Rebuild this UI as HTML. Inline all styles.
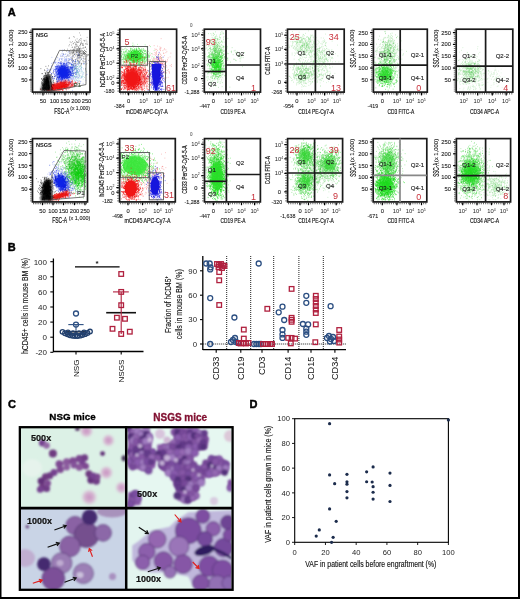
<!DOCTYPE html>
<html><head><meta charset="utf-8"><style>
html,body{margin:0;padding:0;background:#fff;}
body{width:520px;height:599px;overflow:hidden;position:relative;}
svg{position:absolute;left:0;top:0;will-change:transform;}
text{font-family:"Liberation Sans", sans-serif;}
</style></head><body>
<svg width="520" height="599" viewBox="0 0 520 599">
<defs>
<radialGradient id="ghost"><stop offset="0" stop-color="#c68cbe" stop-opacity="0.95"/><stop offset="0.55" stop-color="#d4a8cc" stop-opacity="0.8"/><stop offset="1" stop-color="#e0d4e0" stop-opacity="0"/></radialGradient>
<filter id="b05" x="-20%" y="-20%" width="140%" height="140%"><feGaussianBlur stdDeviation="0.45"/></filter>
<filter id="b06" x="-50%" y="-50%" width="200%" height="200%"><feGaussianBlur stdDeviation="0.6"/></filter>
<filter id="b08" x="-20%" y="-20%" width="140%" height="140%"><feGaussianBlur stdDeviation="0.8"/></filter>
<filter id="b1" x="-50%" y="-50%" width="200%" height="200%"><feGaussianBlur stdDeviation="1.2"/></filter>
</defs>
<rect x="0" y="0" width="520" height="599" fill="#fff"/>
<path transform="scale(0.25)" d="M317 131.5h3m0 9h3m-30 6h3m0 2h3m48 1h3m-73 2h3m-5 2h3m42 1h3m-16 1h3m14 0h3m-11 3h3m-18 2h3m39 0h3m-27 1h3m12 0h3m-24 2h3m21 0h3m-2 0h3m-17 1h3m-38 2h3m12 0h3m-28 1h3m33 0h3m28 0h3m-45 1h3m2 0h3m-15 1h3m8 0h3m1 0h3m-32 1h3m39 0h3m-28 2h3m17 0h3m-30 1h3m35 0h3m12 0h3m-25 1h3m2 0h3m9 0h3m-53 1h3m10 1h3m14 0h3m-4 1h3m20 0h3m2 0h3m-75 1h3m22 0h3m26 0h3m-31 1h3m1 0h3m22 0h3m-49 1h3m32 0h3m6 1h3m-15 1h3m13 0h3m-62 1h3m29 1h3m0 0h3m-9 1h3m-8 1h3m12 0h3m24 1h3m-54 1h3m27 0h3m-35 1h3m7 0h3m39 0h3m-1 0h3m-32 1h3m-16 1h3m0 0h3m8 0h3m15 0h3m0 0h3m-7 2h3m-23 1h3m1 0h3m-1 0h3m0 0h3m-27 1h3m6 0h3m1 0h3m5 0h3m0 0h3m2 0h3m-58 1h3m46 0h3m24 0h3m-53 1h3m8 0h3m-52 1h3m22 0h3m7 0h3m16 0h3m2 0h3m-28 1h3m8 0h3m5 0h3m-25 1h3m6 0h3m11 0h3m-1 0h3m1 0h3m-50 1h3m24 0h3m9 0h3m24 0h3m-2 0h3m-63 1h3m11 0h3m10 0h3m-17 1h3m11 0h3m10 0h3m-55 1h3m26 0h3m5 0h3m8 0h3m-40 1h3m39 0h3m20 0h3m-2 0h3m-38 1h3m10 0h3m19 0h3m-63 1h3m6 0h3m-2 0h3m11 0h3m3 0h3m3 0h3m-36 1h3m10 0h3m15 0h3m-2 0h3m25 0h3m-55 1h3m7 0h3m-2 0h3m-16 1h3m16 0h3m1 0h3m1 0h3m10 0h3m-1 0h3m-1 0h3m-59 1h3m5 0h3m0 0h3m13 0h3m9 0h3m8 0h3m-56 1h3m9 0h3m28 0h3m2 0h3m-33 1h3m21 0h3m5 0h3m3 0h3m-56 1h3m20 0h3m9 0h3m6 0h3m7 0h3m1 0h3m-87 1h3m30 0h3m41 0h3m-1 0h3m2 0h3m-43 1h3m19 0h3m14 0h3m-42 1h3m11 0h3m3 0h3m15 0h3m8 0h3m-54 1h3m6 0h3m9 0h3m10 0h3m19 0h3m-75 1h3m27 0h3m1 0h3m36 0h3m-86 1h3m18 0h3m17 0h3m2 0h3m6 0h3m20 0h3m0 0h3m-62 1h3m16 0h3m0 0h3m-2 0h3m-1 0h3m-1 0h3m1 0h3m1 0h3m-15 1h3m-26 1h3m7 0h3m19 0h3m2 0h3m-57 1h3m30 0h3m-1 0h3m-1 0h3m24 0h3m5 1h3m-102 1h3m16 0h3m19 0h3m25 0h3m3 0h3m8 0h3m-49 3h3m5 0h3m12 0h3m2 0h3m1 0h3m0 1h3m-7 1h3m-15 1h3m1 0h3m1 0h3m17 0h3m-53 1h3m44 0h3m-46 2h3m-2 0h3m23 0h3m5 0h3m15 0h3m-6 1h3m-39 1h3m2 0h3m14 0h3m-28 1h3m-27 2h3m11 0h3m-2 0h3m16 1h3m2 0h3m35 0h3m-81 1h3m8 0h3m5 0h3m12 1h3m9 0h3m5 0h3m2 0h3m-45 1h3m17 0h3m1 1h3m-75 1h3m51 0h3m-1 0h3m14 0h3m19 0h3m-9 1h3m-62 3h3m12 0h3m23 0h3m0 0h3m-45 2h3m23 0h3m2 0h3m9 0h3m14 0h3m-41 1h3m25 0h3m-2 0h3m17 0h3m-49 1h3m-10 2h3m14 0h3m12 0h3m-38 2h3m30 0h3m17 0h3m-45 2h3m-12 1h3m-3 2h3m10 0h3m13 0h3m-42 7h3m14 1h3m-29 1h3m27 0h3m35 1h3m-43 1h3m37 4h3m-46 15h3" stroke="#1a1a1a" stroke-width="3" opacity="0.55" fill="none"/>
<path transform="scale(0.25)" d="M250 199.5h3m20 6h3m-28 1h3m27 2h3m-10 2h3m35 0h3m-66 3h3m-1 2h3m11 0h3m47 1h3m-2 0h3m-64 1h3m-2 0h3m5 0h3m7 0h3m26 0h3m-48 1h3m-16 1h3m3 2h3m19 0h3m44 0h3m-70 1h3m57 0h3m-38 1h3m-12 1h3m-15 1h3m35 0h3m-35 1h3m21 1h3m-81 2h3m18 0h3m27 0h3m20 0h3m30 0h3m-86 2h3m32 1h3m-26 1h3m62 0h3m-73 1h3m10 0h3m9 0h3m9 0h3m-19 1h3m6 0h3m3 0h3m2 0h3m43 0h3m-83 1h3m34 0h3m49 0h3m-114 1h3m10 0h3m18 0h3m16 0h3m-2 0h3m3 0h3m0 0h3m-27 1h3m37 0h3m-68 1h3m47 0h3m-69 1h3m13 0h3m21 0h3m23 0h3m-42 1h3m15 0h3m25 0h3m-65 1h3m21 0h3m35 0h3m-40 1h3m12 0h3m33 0h3m34 0h3m-79 1h3m-54 1h3m23 0h3m18 0h3m23 0h3m8 0h3m8 0h3m26 0h3m-105 1h3m46 0h3m0 0h3m6 0h3m-84 1h3m29 0h3m19 0h3m11 0h3m-1 0h3m9 0h3m9 0h3m-93 1h3m32 0h3m5 0h3m-39 1h3m38 0h3m66 0h3m-132 1h3m-1 0h3m25 0h3m3 0h3m14 0h3m2 0h3m-1 0h3m-52 1h3m7 0h3m12 0h3m4 0h3m13 0h3m2 0h3m-1 0h3m-2 0h3m10 0h3m5 0h3m10 0h3m4 0h3m-104 1h3m-2 0h3m22 0h3m15 0h3m1 0h3m-2 0h3m0 0h3m2 0h3m-1 0h3m0 0h3m-1 0h3m-80 1h3m35 0h3m9 0h3m6 0h3m46 0h3m18 0h3m-109 1h3m8 0h3m12 0h3m1 0h3m2 0h3m15 0h3m9 0h3m0 0h3m33 0h3m-100 1h3m2 0h3m11 0h3m1 0h3m25 1h3m-2 0h3m-25 1h3m0 0h3m-1 0h3m5 0h3m2 0h3m20 0h3m25 0h3m-111 1h3m29 0h3m12 0h3m11 0h3m5 0h3m6 0h3m5 0h3m-73 1h3m4 0h3m19 0h3m15 0h3m2 0h3m4 0h3m-51 1h3m38 0h3m-40 1h3m9 0h3m13 0h3m-2 0h3m-40 1h3m-1 0h3m3 0h3m2 0h3m2 0h3m0 0h3m-39 1h3m10 0h3m8 0h3m-2 0h3m25 0h3m-1 0h3m-1 0h3m7 0h3m-2 0h3m-87 1h3m16 0h3m9 0h3m8 0h3m8 0h3m8 0h3m12 0h3m0 0h3m-75 1h3m18 0h3m10 0h3m36 0h3m-72 1h3m5 0h3m1 0h3m30 0h3m9 0h3m1 0h3m1 0h3m-79 1h3m14 0h3m-1 0h3m4 0h3m1 0h3m-1 0h3m5 0h3m6 0h3m14 0h3m-1 0h3m0 0h3m-1 0h3m1 0h3m-55 1h3m-2 0h3m7 0h3m2 0h3m-1 0h3m9 0h3m6 0h3m3 0h3m22 0h3m-100 1h3m-2 0h3m14 0h3m49 0h3m-51 1h3m7 0h3m2 0h3m20 0h3m2 0h3m0 0h3m7 0h3m-67 1h3m12 0h3m6 0h3m5 0h3m1 0h3m4 0h3m46 0h3m-117 1h3m13 0h3m4 0h3m11 0h3m1 0h3m6 0h3m1 0h3m-1 0h3m0 0h3m-1 0h3m-50 1h3m39 0h3m16 0h3m8 0h3m7 0h3m-104 1h3m33 0h3m18 0h3m3 0h3m4 0h3m0 0h3m5 0h3m-2 0h3m4 0h3m5 0h3m5 0h3m-69 1h3m2 0h3m3 0h3m0 0h3m2 0h3m-1 0h3m20 0h3m4 0h3m33 0h3m-114 1h3m29 0h3m-2 0h3m34 0h3m6 0h3m9 0h3m-121 1h3m43 0h3m23 0h3m8 0h3m15 0h3m-49 1h3m18 0h3m10 0h3m0 0h3m-2 0h3m7 0h3m6 0h3m14 0h3m-72 1h3m15 0h3m3 0h3m21 0h3m-64 1h3m16 0h3m-1 0h3m1 0h3m-2 0h3m-2 0h3m5 0h3m-1 0h3m8 0h3m-45 1h3m-1 0h3m12 0h3m9 0h3m17 0h3m5 0h3m-68 1h3m12 0h3m5 0h3m5 0h3m13 0h3m19 0h3m6 0h3m-90 1h3m7 0h3m1 0h3m0 0h3m3 0h3m3 0h3m-1 0h3m0 0h3m3 0h3m-1 0h3m6 0h3m3 0h3m0 0h3m16 0h3m14 0h3m-39 1h3m-51 1h3m-2 0h3m13 0h3m14 0h3m-1 0h3m28 0h3m0 0h3m-73 1h3m5 0h3m3 0h3m7 0h3m8 0h3m23 0h3m-1 0h3m7 0h3m-97 1h3m26 0h3m37 0h3m-31 1h3m8 0h3m2 0h3m-2 0h3m-2 0h3m-49 1h3m20 0h3m-1 0h3m1 0h3m6 0h3m0 0h3m25 0h3m1 0h3m-68 1h3m26 0h3m-7 1h3m-1 0h3m6 0h3m16 0h3m2 0h3m29 0h3m-95 1h3m4 0h3m9 0h3m39 0h3m-41 1h3m-2 0h3m13 0h3m-2 0h3m-1 0h3m2 0h3m9 0h3m-55 1h3m-2 0h3m24 0h3m6 0h3m-85 1h3m3 0h3m17 0h3m1 0h3m43 0h3m-36 1h3m33 0h3m19 0h3m20 0h3m-84 1h3m10 0h3m-2 0h3m14 0h3m11 0h3m9 0h3m36 0h3m0 0h3m-108 1h3m9 0h3m-1 0h3m-1 0h3m-1 0h3m13 0h3m1 0h3m-2 0h3m-36 1h3m4 0h3m1 0h3m-2 0h3m3 0h3m4 0h3m11 0h3m-27 1h3m7 1h3m35 0h3m2 0h3m23 0h3m-122 1h3m23 0h3m8 0h3m4 0h3m4 0h3m-1 0h3m7 0h3m-1 0h3m-42 1h3m2 0h3m1 0h3m1 0h3m-26 1h3m25 0h3m46 1h3m-104 1h3m45 0h3m-1 0h3m-2 0h3m9 0h3m-1 0h3m-52 1h3m33 0h3m4 0h3m17 0h3m-74 1h3m27 0h3m0 0h3m16 0h3m-30 1h3m11 0h3m27 0h3m6 0h3m-18 1h3m13 0h3m20 0h3m-125 1h3m50 0h3m8 0h3m2 0h3m-64 1h3m23 0h3m26 0h3m10 0h3m4 0h3m6 0h3m24 1h3m-92 1h3m-2 0h3m3 0h3m5 2h3m16 0h3m-28 1h3m4 0h3m-19 1h3m1 0h3m18 0h3m-35 1h3m44 0h3m14 0h3m5 0h3m-30 1h3m-3 1h3m3 0h3m62 0h3m-36 1h3m-82 1h3m1 0h3m34 0h3m27 2h3m16 0h3m-1 0h3m-40 1h3m-41 1h3m22 0h3m3 0h3m1 0h3m23 1h3m-30 1h3m36 3h3m-72 1h3m77 0h3m-98 1h3m10 0h3m4 0h3m29 1h3m1 1h3m-42 2h3m-5 2h3m46 2h3m-32 3h3m24 1h3m-37 1h3m9 0h3m-22 1h3m5 8h3m21 5h3" stroke="#2848e0" stroke-width="3" opacity="0.45" fill="none"/>
<path transform="scale(0.25)" d="M320 239.5h3m-22 5h3m2 2h3m-1 7h3m4 1h3m0 0h3m17 0h3m-56 3h3m1 1h3m-3 1h3m-1 2h3m20 0h3m-21 2h3m25 0h3m-54 1h3m43 0h3m-14 1h3m6 0h3m-14 1h3m0 0h3m11 0h3m-29 2h3m5 0h3m4 0h3m-26 2h3m10 0h3m19 0h3m-1 0h3m-49 1h3m20 0h3m-20 1h3m11 0h3m18 0h3m16 1h3m-45 1h3m5 0h3m-2 1h3m11 0h3m-37 1h3m34 0h3m-31 1h3m5 0h3m9 0h3m-33 1h3m8 0h3m14 0h3m-31 1h3m-1 0h3m1 0h3m-24 1h3m33 0h3m31 0h3m-40 2h3m1 1h3m7 1h3m2 0h3m17 0h3m-19 1h3m-35 1h3m7 1h3m36 0h3m-57 1h3m13 0h3m-1 1h3m20 0h3m-22 1h3m-27 1h3m15 0h3m-2 0h3m0 0h3m0 0h3m10 0h3m-35 1h3m-2 0h3m6 0h3m12 0h3m-8 3h3m15 1h3m-30 1h3m5 0h3m1 0h3m-28 2h3m12 0h3m-21 1h3m11 1h3m21 0h3m-11 1h3m-25 1h3m15 0h3m-26 1h3m2 1h3m0 0h3m4 0h3m17 0h3m1 0h3m-38 1h3m0 0h3m23 0h3m-18 1h3m6 1h3m4 0h3m-2 0h3m6 1h3m-49 1h3m22 2h3m-18 1h3m5 0h3m1 2h3m-12 1h3m25 0h3m-28 4h3m-12 1h3m3 0h3m10 0h3m-6 2h3m-22 4h3m14 1h3m-5 3h3" stroke="#30a0b0" stroke-width="3" opacity="0.5" fill="none"/>
<path transform="scale(0.25)" d="M242 224.5h3m1 12h3m16 3h3m32 4h3m-44 1h3m-44 5h3m12 1h3m3 0h3m-4 2h3m3 0h3m7 0h3m0 1h3m-20 1h3m9 0h3m10 0h3m-24 1h3m3 1h3m1 0h3m2 0h3m23 0h3m-45 2h3m17 0h3m18 0h3m-34 1h3m0 0h3m3 0h3m-39 1h3m4 0h3m16 0h3m11 0h3m-23 1h3m16 0h3m-27 1h3m1 0h3m8 0h3m-29 1h3m27 0h3m-59 1h3m23 0h3m2 0h3m-2 0h3m6 0h3m-2 0h3m-2 0h3m0 0h3m0 0h3m-30 1h3m15 0h3m-1 0h3m0 0h3m5 0h3m-1 0h3m6 0h3m-50 1h3m-1 0h3m0 0h3m-2 0h3m1 0h3m9 0h3m1 0h3m1 0h3m-2 0h3m0 0h3m1 0h3m12 0h3m4 0h3m-43 1h3m29 0h3m-39 1h3m7 0h3m11 0h3m0 0h3m0 0h3m14 0h3m-60 1h3m8 0h3m8 0h3m2 0h3m-1 0h3m4 0h3m0 0h3m-1 0h3m15 0h3m-2 0h3m-57 1h3m4 0h3m0 0h3m8 0h3m-1 0h3m2 0h3m3 0h3m11 0h3m-58 1h3m0 0h3m12 0h3m-1 0h3m8 0h3m3 0h3m6 0h3m4 0h3m7 0h3m0 0h3m-70 1h3m9 0h3m-1 0h3m-2 0h3m-2 0h3m0 0h3m9 0h3m-2 0h3m0 0h3m6 0h3m2 0h3m4 0h3m-47 1h3m5 0h3m-1 0h3m-2 0h3m0 0h3m0 0h3m-2 0h3m3 0h3m22 0h3m-67 1h3m-2 0h3m0 0h3m5 0h3m16 0h3m0 0h3m0 0h3m-2 0h3m21 0h3m-58 1h3m9 0h3m-1 0h3m2 0h3m-2 0h3m-22 1h3m0 0h3m5 0h3m-1 0h3m-2 0h3m7 0h3m10 0h3m0 0h3m1 0h3m3 0h3m-68 1h3m0 0h3m12 0h3m3 0h3m-2 0h3m-1 0h3m-2 0h3m1 0h3m0 0h3m1 0h3m8 0h3m-1 0h3m-1 0h3m-2 0h3m-71 1h3m17 0h3m-2 0h3m9 0h3m-1 0h3m-1 0h3m4 0h3m-2 0h3m-2 0h3m-1 0h3m0 0h3m-2 0h3m-1 0h3m-1 0h3m8 0h3m-2 0h3m2 0h3m-53 1h3m2 0h3m-1 0h3m-1 0h3m-1 0h3m-1 0h3m4 0h3m1 0h3m1 0h3m-2 0h3m1 0h3m3 0h3m4 0h3m-1 0h3m3 0h3m5 0h3m-102 1h3m29 0h3m8 0h3m3 0h3m2 0h3m8 0h3m-1 0h3m0 0h3m-2 0h3m3 0h3m2 0h3m2 0h3m9 0h3m-78 1h3m16 0h3m-2 0h3m3 0h3m2 0h3m9 0h3m1 0h3m4 0h3m-1 0h3m-1 0h3m19 0h3m-65 1h3m11 0h3m3 0h3m2 0h3m3 0h3m1 0h3m5 0h3m-42 1h3m1 0h3m10 0h3m-1 0h3m-2 0h3m4 0h3m0 0h3m-1 0h3m7 0h3m-1 0h3m-63 1h3m0 0h3m7 0h3m3 0h3m12 0h3m1 0h3m-2 0h3m-2 0h3m0 0h3m-2 0h3m-2 0h3m-1 0h3m6 0h3m-64 1h3m10 0h3m0 0h3m4 0h3m0 0h3m6 0h3m2 0h3m6 0h3m16 0h3m3 0h3m-1 0h3m-66 1h3m16 0h3m3 0h3m-2 0h3m1 0h3m-2 0h3m-1 0h3m0 0h3m3 0h3m2 0h3m0 0h3m-2 0h3m0 0h3m0 0h3m-48 1h3m6 0h3m1 0h3m1 0h3m-1 0h3m-1 0h3m-1 0h3m-2 0h3m1 0h3m0 0h3m1 0h3m-2 0h3m-77 1h3m30 0h3m0 0h3m-1 0h3m-1 0h3m-2 0h3m6 0h3m-1 0h3m-2 0h3m-2 0h3m2 0h3m-2 0h3m0 0h3m-2 0h3m-41 1h3m3 0h3m3 0h3m1 0h3m-2 0h3m1 0h3m-1 0h3m9 0h3m1 0h3m4 0h3m6 0h3m16 0h3m-81 1h3m-1 0h3m7 0h3m-1 0h3m-2 0h3m2 0h3m-2 0h3m4 0h3m4 0h3m-1 0h3m1 0h3m-1 0h3m1 0h3m-2 0h3m3 0h3m2 0h3m-2 0h3m-2 0h3m4 0h3m-61 1h3m3 0h3m8 0h3m0 0h3m-2 0h3m-2 0h3m0 0h3m0 0h3m-2 0h3m-1 0h3m4 0h3m-2 0h3m-2 0h3m0 0h3m1 0h3m12 0h3m-86 1h3m19 0h3m6 0h3m2 0h3m2 0h3m0 0h3m2 0h3m-1 0h3m-2 0h3m-2 0h3m-1 0h3m0 0h3m6 0h3m2 0h3m-67 1h3m11 0h3m-2 0h3m1 0h3m-1 0h3m3 0h3m-1 0h3m-2 0h3m0 0h3m4 0h3m6 0h3m18 0h3m-87 1h3m19 0h3m6 0h3m0 0h3m2 0h3m5 0h3m0 0h3m-2 0h3m-2 0h3m2 0h3m1 0h3m22 0h3m-70 1h3m5 0h3m3 0h3m15 0h3m-1 0h3m1 0h3m2 0h3m-2 0h3m2 0h3m2 0h3m11 0h3m-72 1h3m2 0h3m2 0h3m-1 0h3m9 0h3m-2 0h3m1 0h3m11 0h3m2 0h3m10 0h3m-2 0h3m-47 1h3m0 0h3m-2 0h3m-2 0h3m-2 0h3m3 0h3m-2 0h3m-2 0h3m2 0h3m-1 0h3m5 0h3m0 0h3m1 0h3m-2 0h3m-2 0h3m18 0h3m-86 1h3m7 0h3m1 0h3m11 0h3m0 0h3m3 0h3m-1 0h3m-1 0h3m2 0h3m3 0h3m-42 1h3m4 0h3m7 0h3m1 0h3m-1 0h3m-2 0h3m-2 0h3m-2 0h3m1 0h3m1 0h3m5 0h3m-2 0h3m-2 0h3m-55 1h3m5 0h3m5 0h3m-2 0h3m1 0h3m2 0h3m-2 0h3m10 0h3m-1 0h3m-2 0h3m1 0h3m0 0h3m4 0h3m-2 0h3m8 0h3m-71 1h3m16 0h3m-1 0h3m-1 0h3m1 0h3m6 0h3m3 0h3m0 0h3m0 0h3m-2 0h3m7 0h3m-33 1h3m2 0h3m1 0h3m-2 0h3m-2 0h3m4 0h3m8 0h3m-1 0h3m5 0h3m-56 1h3m5 0h3m3 0h3m1 0h3m2 0h3m-1 0h3m18 0h3m-1 0h3m-72 1h3m1 0h3m15 0h3m-1 0h3m2 0h3m-2 0h3m0 0h3m-1 0h3m11 0h3m-2 0h3m-1 0h3m1 0h3m1 0h3m8 0h3m-68 1h3m2 0h3m-1 0h3m1 0h3m8 0h3m0 0h3m10 0h3m0 0h3m-59 1h3m25 0h3m-1 0h3m3 0h3m8 0h3m8 0h3m-1 0h3m-1 0h3m4 0h3m-75 1h3m29 0h3m-2 0h3m-2 0h3m8 0h3m0 0h3m-1 0h3m1 0h3m42 0h3m-70 1h3m3 0h3m16 0h3m-2 0h3m-2 0h3m12 0h3m-49 1h3m-2 0h3m-1 0h3m7 0h3m-2 0h3m-1 0h3m-2 0h3m-1 0h3m6 0h3m3 0h3m0 0h3m1 0h3m-1 0h3m32 0h3m-86 1h3m-1 0h3m-2 0h3m2 0h3m6 0h3m-1 0h3m9 0h3m-1 0h3m-2 0h3m-2 0h3m4 0h3m-2 0h3m-1 0h3m3 0h3m-55 1h3m14 0h3m3 0h3m4 0h3m10 0h3m3 0h3m-35 1h3m6 0h3m0 0h3m10 0h3m-62 1h3m4 0h3m5 0h3m7 0h3m6 0h3m1 0h3m6 0h3m4 0h3m-28 1h3m6 0h3m7 0h3m-29 1h3m14 0h3m12 0h3m2 0h3m10 0h3m6 0h3m-80 1h3m14 0h3m7 0h3m29 0h3m-2 0h3m9 0h3m-64 1h3m-2 0h3m15 0h3m7 0h3m-22 1h3m9 0h3m-11 1h3m4 0h3m0 0h3m-25 1h3m4 0h3m4 0h3m1 0h3m12 0h3m15 0h3m-37 2h3m4 0h3m6 0h3m8 0h3m-37 1h3m18 0h3m-29 1h3m28 0h3m-39 1h3m0 0h3m50 0h3m-59 1h3m15 0h3m7 0h3m-19 1h3m1 0h3m33 0h3m-39 1h3m7 0h3m2 0h3m-16 1h3m4 0h3m-26 1h3m42 0h3m-50 1h3m50 0h3m-58 2h3m51 0h3m-40 1h3m0 0h3m9 1h3m-1 0h3m-3 2h3m0 0h3m7 0h3m11 0h3m-28 1h3m-24 2h3m12 1h3m9 8h3" stroke="#0a1ee0" stroke-width="3" opacity="0.85" fill="none"/>
<ellipse cx="63.20" cy="72.50" rx="5.60" ry="6.20" fill="#1020e8" opacity="1.0" transform="rotate(-20 63.20 72.50)" filter="url(#b08)"/>
<path transform="scale(0.25)" d="M259 321.5h3m25 0h3m-56 1h3m51 2h3m-14 1h3m8 0h3m-6 1h3m-27 1h3m51 0h3m-78 1h3m55 0h3m-62 1h3m4 0h3m28 0h3m21 0h3m-2 0h3m-66 1h3m0 0h3m-2 0h3m3 0h3m4 0h3m-1 0h3m-1 0h3m9 0h3m3 0h3m6 0h3m16 0h3m-92 1h3m22 0h3m16 0h3m2 0h3m1 0h3m4 0h3m5 0h3m-2 0h3m1 0h3m-63 1h3m10 0h3m1 0h3m-2 0h3m5 0h3m-1 0h3m20 0h3m-36 1h3m0 0h3m0 0h3m15 0h3m1 0h3m0 0h3m17 0h3m-1 0h3m-76 1h3m10 0h3m-1 0h3m7 0h3m-1 0h3m35 0h3m-90 1h3m13 0h3m8 0h3m6 0h3m-2 0h3m10 0h3m-2 0h3m-2 0h3m3 0h3m-2 0h3m3 0h3m-2 0h3m5 0h3m6 0h3m5 0h3m-85 1h3m8 0h3m4 0h3m-1 0h3m-1 0h3m-1 0h3m5 0h3m-2 0h3m5 0h3m3 0h3m-1 0h3m9 0h3m0 0h3m1 0h3m4 0h3m14 0h3m-104 1h3m-1 0h3m2 0h3m1 0h3m11 0h3m-1 0h3m1 0h3m4 0h3m-1 0h3m-2 0h3m-1 0h3m-1 0h3m10 0h3m-2 0h3m-1 0h3m-1 0h3m0 0h3m2 0h3m4 0h3m-71 1h3m9 0h3m-1 0h3m2 0h3m0 0h3m4 0h3m2 0h3m-1 0h3m-2 0h3m2 0h3m-2 0h3m-1 0h3m0 0h3m-2 0h3m0 0h3m-88 1h3m26 0h3m-1 0h3m-1 0h3m2 0h3m2 0h3m6 0h3m-2 0h3m0 0h3m-2 0h3m0 0h3m4 0h3m-2 0h3m-2 0h3m2 0h3m-2 0h3m-2 0h3m-2 0h3m-2 0h3m-1 0h3m-1 0h3m0 0h3m-2 0h3m0 0h3m-2 0h3m0 0h3m5 0h3m2 0h3m0 0h3m-88 1h3m12 0h3m-1 0h3m0 0h3m-1 0h3m-1 0h3m0 0h3m-2 0h3m1 0h3m5 0h3m1 0h3m-1 0h3m2 0h3m8 0h3m-2 0h3m-2 0h3m-1 0h3m13 0h3m-2 0h3m-113 1h3m22 0h3m3 0h3m-2 0h3m3 0h3m-2 0h3m1 0h3m1 0h3m-2 0h3m0 0h3m-2 0h3m-1 0h3m-2 0h3m-2 0h3m-1 0h3m1 0h3m1 0h3m-2 0h3m-1 0h3m0 0h3m-2 0h3m0 0h3m-2 0h3m2 0h3m0 0h3m0 0h3m-1 0h3m10 0h3m-2 0h3m2 0h3m8 0h3m-105 1h3m4 0h3m3 0h3m-2 0h3m-2 0h3m-2 0h3m-1 0h3m4 0h3m3 0h3m3 0h3m-2 0h3m-2 0h3m-2 0h3m-1 0h3m-2 0h3m-2 0h3m-1 0h3m-2 0h3m-2 0h3m-1 0h3m1 0h3m-1 0h3m-1 0h3m4 0h3m0 0h3m10 0h3m14 0h3m-2 0h3m-91 1h3m-1 0h3m1 0h3m2 0h3m-2 0h3m0 0h3m-2 0h3m-2 0h3m0 0h3m-2 0h3m-2 0h3m-2 0h3m-1 0h3m0 0h3m-2 0h3m-2 0h3m-2 0h3m0 0h3m-2 0h3m-2 0h3m-1 0h3m-2 0h3m-2 0h3m-1 0h3m1 0h3m-1 0h3m-2 0h3m-2 0h3m0 0h3m-2 0h3m4 0h3m1 0h3m1 0h3m-91 1h3m1 0h3m9 0h3m2 0h3m-2 0h3m3 0h3m-2 0h3m-2 0h3m-1 0h3m-2 0h3m0 0h3m-1 0h3m6 0h3m1 0h3m-2 0h3m1 0h3m2 0h3m-1 0h3m-2 0h3m-2 0h3m-2 0h3m-1 0h3m-2 0h3m-2 0h3m0 0h3m5 0h3m10 0h3m6 0h3m-95 1h3m1 0h3m3 0h3m-2 0h3m-2 0h3m-2 0h3m2 0h3m-1 0h3m-2 0h3m0 0h3m3 0h3m-2 0h3m-2 0h3m0 0h3m0 0h3m0 0h3m-1 0h3m-2 0h3m-2 0h3m-1 0h3m12 0h3m-1 0h3m18 0h3m2 0h3m-119 1h3m9 0h3m2 0h3m2 0h3m4 0h3m2 0h3m-1 0h3m-1 0h3m1 0h3m-2 0h3m1 0h3m1 0h3m-2 0h3m-1 0h3m3 0h3m-2 0h3m0 0h3m-2 0h3m-2 0h3m-1 0h3m-1 0h3m0 0h3m1 0h3m-2 0h3m-2 0h3m1 0h3m-1 0h3m-2 0h3m-1 0h3m-1 0h3m-1 0h3m-2 0h3m9 0h3m7 0h3m-85 1h3m-1 0h3m0 0h3m-2 0h3m-2 0h3m-1 0h3m-2 0h3m5 0h3m0 0h3m-1 0h3m-2 0h3m-2 0h3m-2 0h3m-2 0h3m-2 0h3m-2 0h3m-1 0h3m0 0h3m0 0h3m-2 0h3m-2 0h3m-2 0h3m-2 0h3m-2 0h3m0 0h3m-1 0h3m-2 0h3m-2 0h3m0 0h3m4 0h3m1 0h3m5 0h3m4 0h3m-115 1h3m20 0h3m0 0h3m0 0h3m-1 0h3m1 0h3m-1 0h3m-1 0h3m-2 0h3m-1 0h3m-2 0h3m0 0h3m-2 0h3m-2 0h3m-2 0h3m-1 0h3m1 0h3m3 0h3m-2 0h3m-1 0h3m1 0h3m-1 0h3m0 0h3m-2 0h3m-2 0h3m-1 0h3m0 0h3m-2 0h3m-1 0h3m-2 0h3m-2 0h3m2 0h3m-2 0h3m3 0h3m-1 0h3m0 0h3m-1 0h3m-1 0h3m3 0h3m-95 1h3m10 0h3m-2 0h3m-2 0h3m-2 0h3m-2 0h3m3 0h3m-2 0h3m-2 0h3m1 0h3m-2 0h3m-2 0h3m-1 0h3m-2 0h3m-2 0h3m3 0h3m-2 0h3m-2 0h3m2 0h3m-2 0h3m0 0h3m-2 0h3m0 0h3m3 0h3m-1 0h3m-2 0h3m-2 0h3m-1 0h3m1 0h3m-77 1h3m2 0h3m-1 0h3m1 0h3m-1 0h3m-2 0h3m4 0h3m0 0h3m-2 0h3m-2 0h3m-1 0h3m2 0h3m-1 0h3m-2 0h3m-2 0h3m-2 0h3m-2 0h3m1 0h3m1 0h3m0 0h3m10 0h3m11 0h3m-2 0h3m8 0h3m-108 1h3m5 0h3m1 0h3m-2 0h3m-1 0h3m-2 0h3m0 0h3m0 0h3m1 0h3m-1 0h3m0 0h3m0 0h3m2 0h3m2 0h3m0 0h3m-2 0h3m0 0h3m-2 0h3m0 0h3m-2 0h3m0 0h3m1 0h3m1 0h3m-2 0h3m-2 0h3m-1 0h3m0 0h3m-1 0h3m-2 0h3m0 0h3m4 0h3m0 0h3m-81 1h3m5 0h3m-1 0h3m4 0h3m0 0h3m0 0h3m-2 0h3m3 0h3m-2 0h3m-2 0h3m-2 0h3m-1 0h3m0 0h3m-1 0h3m2 0h3m2 0h3m-2 0h3m0 0h3m-2 0h3m3 0h3m4 0h3m2 0h3m-1 0h3m5 0h3m2 0h3m-83 1h3m4 0h3m-1 0h3m-1 0h3m2 0h3m-2 0h3m-2 0h3m1 0h3m-2 0h3m-2 0h3m1 0h3m-2 0h3m-2 0h3m-2 0h3m-2 0h3m-2 0h3m-1 0h3m-2 0h3m-1 0h3m-2 0h3m-2 0h3m-2 0h3m-2 0h3m1 0h3m-1 0h3m6 0h3m-1 0h3m-1 0h3m-86 1h3m31 0h3m-2 0h3m1 0h3m3 0h3m-2 0h3m-2 0h3m4 0h3m-1 0h3m1 0h3m1 0h3m0 0h3m4 0h3m8 0h3m-80 1h3m11 0h3m3 0h3m-2 0h3m-1 0h3m3 0h3m-2 0h3m0 0h3m-1 0h3m-1 0h3m-2 0h3m5 0h3m0 0h3m-2 0h3m0 0h3m4 0h3m0 0h3m3 0h3m17 0h3m-97 1h3m1 0h3m5 0h3m7 0h3m5 0h3m-1 0h3m6 0h3m2 0h3m1 0h3m-2 0h3m5 0h3m0 0h3m2 0h3m15 0h3m-105 1h3m18 0h3m3 0h3m1 0h3m10 0h3m11 0h3m10 0h3m1 0h3m4 0h3m-2 0h3m0 0h3m-2 0h3m-59 1h3m-2 0h3m2 0h3m5 0h3m-2 0h3m3 0h3m0 0h3m-1 0h3m6 0h3m3 0h3m2 0h3m-1 0h3m-2 0h3m-1 0h3m1 0h3m-59 1h3m12 0h3m9 0h3m0 0h3m-2 0h3m3 0h3m-1 0h3m17 0h3m-1 0h3m11 0h3m-79 1h3m-2 0h3m-1 0h3m0 0h3m0 0h3m7 0h3m0 0h3m-2 0h3m-2 0h3m15 0h3m14 0h3m-1 0h3m-77 1h3m8 0h3m2 0h3m5 0h3m9 0h3m3 0h3m4 0h3m10 0h3m-42 1h3m13 0h3m16 0h3" stroke="#ee1010" stroke-width="3" opacity="0.9" fill="none"/>
<path d="M49.5 90.5 L50.5 86 L57 83 L66 80.8 L70 81.2 L65.5 84 L57 88 L52.5 90.5 Z" fill="#ec1212" filter="url(#b08)"/>
<path d="M40.5 91 L44 79 L47.5 73.5 L50.5 78.5 L51.5 91 Z" fill="#111" filter="url(#b08)"/>
<path transform="scale(0.25)" d="M193 263.5h3m-14 2h3m2 8h3m-28 1h3m12 5h3m15 1h3m3 0h3m-26 2h3m5 2h3m8 2h3m-3 1h3m-14 1h3m2 1h3m17 0h3m-35 1h3m7 0h3m0 0h3m-1 0h3m-15 2h3m-5 1h3m7 0h3m-27 1h3m-1 0h3m9 1h3m22 1h3m-19 1h3m4 0h3m-6 1h3m6 0h3m-23 1h3m8 1h3m5 0h3m-29 1h3m2 0h3m3 0h3m-2 0h3m-6 1h3m7 0h3m1 0h3m4 0h3m-33 1h3m-1 0h3m13 0h3m-15 1h3m11 0h3m1 0h3m-9 1h3m1 0h3m-28 1h3m9 0h3m9 0h3m1 0h3m6 0h3m4 0h3m-29 1h3m-1 0h3m-1 0h3m11 0h3m-34 1h3m17 0h3m-1 0h3m-23 1h3m2 0h3m-1 0h3m5 0h3m-2 0h3m-2 0h3m-17 1h3m0 0h3m-1 0h3m-15 1h3m16 0h3m2 0h3m2 0h3m20 0h3m-59 1h3m22 0h3m1 0h3m7 0h3m-21 1h3m-1 0h3m0 0h3m-35 1h3m7 0h3m14 0h3m1 0h3m-1 0h3m-37 1h3m5 0h3m2 0h3m-2 0h3m4 0h3m-2 0h3m-1 0h3m-2 0h3m-19 1h3m-2 0h3m1 0h3m-2 0h3m5 0h3m1 0h3m2 0h3m2 0h3m2 0h3m-42 1h3m6 0h3m4 0h3m-2 0h3m1 0h3m-2 0h3m-2 0h3m3 0h3m0 0h3m-31 1h3m8 0h3m1 0h3m0 0h3m-6 1h3m-1 0h3m5 0h3m7 0h3m-34 1h3m0 0h3m4 0h3m-2 0h3m1 0h3m8 0h3m-34 1h3m4 0h3m8 0h3m0 0h3m19 0h3m-48 1h3m3 1h3m2 0h3m2 0h3m11 0h3m2 0h3m-26 1h3m1 0h3m2 0h3m-2 0h3m6 0h3m-2 0h3m-2 0h3m7 0h3m12 0h3m-46 1h3m0 0h3m1 0h3m-1 0h3m3 0h3m-26 1h3m2 0h3m0 0h3m9 0h3m1 0h3m-38 1h3m7 0h3m1 0h3m5 0h3m4 0h3m-2 0h3m-1 0h3m7 0h3m-30 1h3m13 0h3m-1 0h3m-2 0h3m2 0h3m5 0h3m-30 1h3m1 0h3m0 0h3m5 0h3m11 0h3m-40 1h3m6 0h3m0 0h3m-1 0h3m0 0h3m3 0h3m3 0h3m-41 1h3m-1 0h3m13 0h3m-1 0h3m4 0h3m-2 0h3m0 0h3m2 0h3m-42 1h3m16 0h3m-6 1h3m2 0h3m-13 1h3m5 0h3m-1 0h3m-2 0h3m10 0h3m1 0h3m-35 1h3m0 0h3m12 0h3m5 0h3m-2 0h3m4 0h3m-42 1h3m2 0h3m8 0h3m-1 0h3m-2 0h3m2 0h3m-1 0h3m0 0h3m1 0h3m10 0h3m-38 1h3m24 0h3m1 0h3m-36 1h3m-2 0h3m-11 1h3m-1 0h3m27 0h3m-29 1h3m0 0h3m7 0h3m0 0h3m-1 0h3m19 0h3m-46 1h3m11 0h3m5 0h3m1 0h3m3 0h3m-36 1h3m0 0h3m10 0h3m6 0h3m-1 0h3m3 0h3m-35 1h3m12 0h3m3 0h3m0 1h3m5 0h3m-13 1h3m4 0h3m1 0h3m-35 1h3m10 0h3m6 0h3m5 0h3m-9 1h3m-18 1h3m14 0h3m-29 1h3m14 0h3m7 0h3m-23 1h3m11 0h3m12 0h3m-42 1h3m5 0h3m6 0h3m-2 0h3m5 0h3m-30 1h3m9 0h3m-7 1h3m14 0h3m14 1h3m-52 1h3m10 0h3m3 0h3m7 0h3m0 0h3m-23 1h3m16 0h3m-2 0h3m-13 1h3m-15 1h3m10 1h3m0 0h3m14 0h3m2 0h3m-28 1h3m19 0h3m-2 0h3m-43 1h3m8 0h3m-6 1h3" stroke="#000" stroke-width="3" opacity="0.7" fill="none"/>
<path d="M59.5 50.4 L83 51 L86 54 L86 84.6 L51 91 L48.5 73.5 Z" fill="none" stroke="#555" stroke-width="0.8"/>
<text x="73.50" y="86.72" font-size="6.2" fill="#3a5a3a" text-anchor="start" stroke="#3a5a3a" stroke-width="0.1">P1</text>
<text x="36.00" y="37.00" font-size="5.6" fill="#111" text-anchor="start" font-weight="bold">NSG</text>
<rect x="32.50" y="29.20" width="57.50" height="62.90" fill="none" stroke="#1a1a1a" stroke-width="1.7" />
<path d="M30.10 30.20h1.6M30.10 32.23h1.6M30.10 34.26h1.6M30.10 36.29h1.6M30.10 38.32h1.6M30.10 40.35h1.6M30.10 42.38h1.6M30.10 44.41h1.6M30.10 46.44h1.6M30.10 48.47h1.6M30.10 50.50h1.6M30.10 52.53h1.6M30.10 54.56h1.6M30.10 56.59h1.6M30.10 58.62h1.6M30.10 60.65h1.6M30.10 62.68h1.6M30.10 64.71h1.6M30.10 66.74h1.6M30.10 68.77h1.6M30.10 70.80h1.6M30.10 72.83h1.6M30.10 74.86h1.6M30.10 76.89h1.6M30.10 78.92h1.6M30.10 80.95h1.6M30.10 82.98h1.6M30.10 85.01h1.6M30.10 87.04h1.6M30.10 89.07h1.6M30.10 91.10h1.6" stroke="#000" stroke-width="0.6"/>
<path d="M33.50 92.90v1.6M35.35 92.90v1.6M37.20 92.90v1.6M39.05 92.90v1.6M40.90 92.90v1.6M42.75 92.90v1.6M44.60 92.90v1.6M46.45 92.90v1.6M48.30 92.90v1.6M50.15 92.90v1.6M52.00 92.90v1.6M53.85 92.90v1.6M55.70 92.90v1.6M57.55 92.90v1.6M59.40 92.90v1.6M61.25 92.90v1.6M63.10 92.90v1.6M64.95 92.90v1.6M66.80 92.90v1.6M68.65 92.90v1.6M70.50 92.90v1.6M72.35 92.90v1.6M74.20 92.90v1.6M76.05 92.90v1.6M77.90 92.90v1.6M79.75 92.90v1.6M81.60 92.90v1.6M83.45 92.90v1.6M85.30 92.90v1.6M87.15 92.90v1.6M89.00 92.90v1.6" stroke="#000" stroke-width="0.6"/>
<line x1="29.20" y1="32.30" x2="31.70" y2="32.30" stroke="#000" stroke-width="1.2" />
<line x1="29.20" y1="44.20" x2="31.70" y2="44.20" stroke="#000" stroke-width="1.2" />
<line x1="29.20" y1="56.10" x2="31.70" y2="56.10" stroke="#000" stroke-width="1.2" />
<line x1="29.20" y1="68.00" x2="31.70" y2="68.00" stroke="#000" stroke-width="1.2" />
<line x1="29.20" y1="79.90" x2="31.70" y2="79.90" stroke="#000" stroke-width="1.2" />
<text x="27.60" y="34.38" font-size="5.8" fill="#1e1e1e" text-anchor="end" stroke="#1e1e1e" stroke-width="0.1">250</text>
<text x="27.60" y="46.28" font-size="5.8" fill="#1e1e1e" text-anchor="end" stroke="#1e1e1e" stroke-width="0.1">200</text>
<text x="27.60" y="58.18" font-size="5.8" fill="#1e1e1e" text-anchor="end" stroke="#1e1e1e" stroke-width="0.1">150</text>
<text x="27.60" y="70.08" font-size="5.8" fill="#1e1e1e" text-anchor="end" stroke="#1e1e1e" stroke-width="0.1">100</text>
<text x="27.60" y="81.98" font-size="5.8" fill="#1e1e1e" text-anchor="end" stroke="#1e1e1e" stroke-width="0.1">50</text>
<line x1="43.00" y1="92.90" x2="43.00" y2="95.40" stroke="#000" stroke-width="1.2" />
<line x1="54.50" y1="92.90" x2="54.50" y2="95.40" stroke="#000" stroke-width="1.2" />
<line x1="65.00" y1="92.90" x2="65.00" y2="95.40" stroke="#000" stroke-width="1.2" />
<line x1="76.00" y1="92.90" x2="76.00" y2="95.40" stroke="#000" stroke-width="1.2" />
<line x1="86.50" y1="92.90" x2="86.50" y2="95.40" stroke="#000" stroke-width="1.2" />
<text x="43.00" y="103.08" font-size="5.8" fill="#1e1e1e" text-anchor="middle" stroke="#1e1e1e" stroke-width="0.1">50</text>
<text x="54.50" y="103.08" font-size="5.8" fill="#1e1e1e" text-anchor="middle" stroke="#1e1e1e" stroke-width="0.1">100</text>
<text x="65.00" y="103.08" font-size="5.8" fill="#1e1e1e" text-anchor="middle" stroke="#1e1e1e" stroke-width="0.1">150</text>
<text x="76.00" y="103.08" font-size="5.8" fill="#1e1e1e" text-anchor="middle" stroke="#1e1e1e" stroke-width="0.1">200</text>
<text x="86.50" y="103.08" font-size="5.8" fill="#1e1e1e" text-anchor="middle" stroke="#1e1e1e" stroke-width="0.1">250</text>
<text x="54.30" y="113.64" font-size="8.2" fill="#141414" text-anchor="start" textLength="15" lengthAdjust="spacingAndGlyphs" stroke="#141414" stroke-width="0.2">FSC-A</text>
<text x="70.30" y="110.06" font-size="5.2" fill="#1e1e1e" text-anchor="start" textLength="19.7" lengthAdjust="spacingAndGlyphs" stroke="#1e1e1e" stroke-width="0.1">(x 1,000)</text>
<text transform="translate(11.30,60.40) rotate(-90)" x="0" y="2.94" font-size="8.2" fill="#141414" text-anchor="middle" textLength="14" lengthAdjust="spacingAndGlyphs" stroke="#141414" stroke-width="0.2">SSC-A</text>
<text transform="translate(11.00,41.20) rotate(-90)" x="0" y="1.86" font-size="5.2" fill="#1e1e1e" text-anchor="middle" textLength="23.5" lengthAdjust="spacingAndGlyphs" stroke="#1e1e1e" stroke-width="0.1">(x 1,000)</text>
<path transform="scale(0.25)" d="M643 154.5h3m-49 28h3m15 0h3m10 2h3m7 3h3m1 3h3m-3 2h3m-6 2h3m15 0h3m-42 1h3m17 1h3m-17 1h3m28 1h3m-37 1h3m15 0h3m20 0h3m-37 2h3m10 1h3m6 0h3m-28 4h3m38 0h3m-51 4h3m4 0h3m34 0h3m-44 2h3m28 0h3m27 0h3m-31 1h3m-19 1h3m-33 1h3m13 0h3m7 0h3m-14 2h3m14 0h3m-28 1h3m-17 2h3m17 1h3m7 0h3m11 0h3m9 1h3m-29 1h3m6 2h3m-3 1h3m36 1h3m-45 1h3m-13 1h3m-4 1h3m-2 0h3m-1 0h3m10 0h3m1 0h3m-23 1h3m17 0h3m22 0h3m-68 1h3m27 0h3m0 0h3m-10 1h3m-2 0h3m-20 1h3m24 0h3m-33 1h3m4 0h3m17 0h3m-7 1h3m-48 1h3m21 0h3m26 0h3m-21 1h3m-1 0h3m38 0h3m-62 1h3m12 0h3m0 0h3m-2 1h3m5 0h3m6 0h3m1 0h3m0 0h3m-57 1h3m7 0h3m6 0h3m14 0h3m7 0h3m2 0h3m7 0h3m-25 1h3m-2 0h3m-10 1h3m-38 1h3m11 0h3m0 0h3m5 0h3m12 0h3m29 0h3m-50 1h3m33 0h3m-1 0h3m-49 1h3m-2 0h3m10 0h3m-1 0h3m9 0h3m-18 1h3m12 0h3m19 0h3m-2 0h3m-49 1h3m3 0h3m1 1h3m-28 1h3m21 0h3m-2 0h3m12 0h3m5 0h3m-45 1h3m3 0h3m11 0h3m4 0h3m8 0h3m7 0h3m-53 1h3m29 0h3m18 0h3m-33 1h3m6 0h3m3 0h3m0 0h3m8 0h3m-70 1h3m43 0h3m1 0h3m3 0h3m-50 1h3m29 0h3m20 0h3m-1 0h3m-2 0h3m-45 1h3m6 0h3m4 0h3m6 0h3m-41 1h3m3 0h3m18 0h3m17 0h3m4 0h3m-23 1h3m4 0h3m0 0h3m7 0h3m22 0h3m-51 1h3m1 0h3m-1 0h3m-38 1h3m-5 1h3m5 0h3m-1 0h3m8 0h3m11 0h3m-1 0h3m-39 1h3m23 0h3m3 0h3m24 0h3m11 0h3m-49 1h3m-48 1h3m68 0h3m-59 1h3m10 0h3m25 0h3m5 0h3m-2 0h3m28 0h3m-52 1h3m-1 0h3m-1 0h3m-12 1h3m0 0h3m0 0h3m16 0h3m-53 1h3m34 0h3m21 0h3m-34 1h3m21 0h3m-54 1h3m25 0h3m4 0h3m-18 1h3m-11 1h3m2 1h3m9 0h3m15 0h3m-41 1h3m7 0h3m11 1h3m-23 1h3m0 0h3m14 0h3m3 0h3m-79 1h3m42 0h3m1 0h3m31 1h3m16 0h3m-38 1h3m-23 1h3m5 0h3m-9 1h3m40 0h3m2 0h3m-42 1h3m-3 1h3m7 0h3m-13 1h3m7 0h3m-23 1h3m24 0h3m-20 1h3m-1 0h3m10 0h3m-2 0h3m7 0h3m16 0h3m-24 1h3m5 1h3m12 0h3m-42 1h3m1 0h3m-1 0h3m5 1h3m9 0h3m-71 1h3m58 0h3m-43 1h3m44 0h3m10 0h3m-79 1h3m30 0h3m11 0h3m-5 1h3m-33 1h3m28 1h3m-34 1h3m29 0h3m-29 2h3m19 1h3m-47 2h3m31 1h3m3 0h3m-23 1h3m8 0h3m-45 1h3m20 0h3m31 0h3m-5 1h3m-8 1h3m7 0h3m-9 2h3m26 0h3m-19 2h3m7 0h3m-28 1h3m2 0h3m-2 0h3m6 0h3m-22 5h3m-32 2h3m47 1h3m-15 2h3m-24 2h3m21 5h3m-38 6h3m2 6h3" stroke="#f04040" stroke-width="3" opacity="0.5" fill="none"/>
<path transform="scale(0.25)" d="M580 262.5h3m-23 4h3m-5 2h3m17 8h3m-18 2h3m7 0h3m4 0h3m18 0h3m-43 1h3m-13 5h3m6 0h3m-18 3h3m37 0h3m-9 1h3m-55 1h3m55 0h3m-18 1h3m11 1h3m-40 1h3m33 1h3m-25 1h3m20 0h3m-11 1h3m-29 1h3m18 0h3m19 0h3m-40 1h3m3 0h3m14 1h3m11 0h3m-43 1h3m-6 1h3m36 0h3m-34 1h3m9 0h3m0 0h3m2 0h3m-36 1h3m10 0h3m3 0h3m10 0h3m-2 0h3m6 0h3m7 0h3m-45 1h3m17 0h3m10 0h3m-51 1h3m35 0h3m-2 0h3m9 0h3m-47 1h3m3 0h3m22 0h3m15 0h3m-58 1h3m29 0h3m1 0h3m11 0h3m1 0h3m-51 1h3m7 0h3m24 0h3m-39 1h3m-1 0h3m36 0h3m4 0h3m-54 1h3m7 0h3m16 0h3m3 0h3m1 0h3m-42 2h3m1 0h3m11 0h3m-12 1h3m19 0h3m-21 1h3m3 0h3m-2 0h3m7 0h3m0 0h3m-2 0h3m1 0h3m-1 0h3m-20 1h3m4 0h3m12 1h3m1 0h3m-63 1h3m24 0h3m23 0h3m15 0h3m-49 1h3m0 0h3m0 0h3m6 1h3m14 0h3m-44 1h3m13 0h3m5 0h3m-38 1h3m4 1h3m-2 0h3m16 0h3m12 0h3m-38 1h3m12 0h3m12 0h3m-33 1h3m5 0h3m1 0h3m36 0h3m-28 1h3m5 0h3m-26 1h3m24 0h3m-29 1h3m4 0h3m2 0h3m1 0h3m-21 1h3m29 0h3m-55 1h3m23 0h3m0 0h3m9 0h3m-1 0h3m5 0h3m10 0h3m-57 1h3m14 0h3m41 0h3m-53 2h3m0 0h3m5 0h3m2 0h3m-2 0h3m-30 1h3m12 0h3m-1 0h3m9 0h3m6 0h3m-9 1h3m6 0h3m-25 1h3m0 0h3m16 0h3m-39 1h3m9 0h3m0 0h3m2 0h3m-16 1h3m9 0h3m-21 1h3m11 0h3m2 0h3m17 0h3m4 0h3m-64 1h3m14 0h3m13 0h3m10 0h3m4 0h3m-33 1h3m8 0h3m-20 1h3m12 0h3m29 0h3m-39 1h3m-1 1h3m-11 1h3m25 1h3m-26 1h3m0 1h3m3 0h3m-1 0h3m0 0h3m-18 1h3m17 0h3m6 0h3m-21 1h3m-32 1h3m19 0h3m-13 4h3m-15 1h3m20 0h3m11 2h3m-21 2h3m0 1h3m-7 3h3" stroke="#f04040" stroke-width="3" opacity="0.5" fill="none"/>
<path transform="scale(0.25)" d="M530 172.5h3m-32 3h3m44 2h3m28 2h3m-78 1h3m27 0h3m-8 1h3m-3 3h3m-23 2h3m7 0h3m30 0h3m45 0h3m-70 2h3m50 0h3m-37 3h3m-55 1h3m42 0h3m4 0h3m-35 1h3m4 1h3m14 0h3m25 0h3m-79 1h3m24 0h3m10 0h3m7 0h3m15 0h3m-63 1h3m37 0h3m-59 1h3m31 0h3m2 0h3m25 0h3m7 0h3m-76 1h3m14 0h3m8 0h3m12 0h3m12 0h3m7 0h3m-20 1h3m-1 0h3m-45 1h3m31 0h3m4 0h3m7 0h3m19 0h3m-76 1h3m15 0h3m-2 0h3m7 0h3m2 0h3m5 0h3m0 0h3m5 0h3m1 0h3m-2 0h3m2 0h3m4 0h3m5 0h3m-58 1h3m4 0h3m5 0h3m9 0h3m8 0h3m-1 0h3m46 0h3m-99 1h3m5 0h3m6 0h3m18 0h3m18 0h3m0 0h3m2 0h3m-86 1h3m7 0h3m-1 0h3m1 0h3m7 0h3m10 0h3m3 0h3m-1 0h3m25 0h3m-96 1h3m31 0h3m3 0h3m13 0h3m1 0h3m14 0h3m0 0h3m-1 0h3m6 0h3m13 0h3m-96 1h3m26 0h3m2 0h3m0 0h3m1 0h3m3 0h3m1 0h3m-1 0h3m-2 0h3m4 0h3m-70 1h3m3 0h3m5 0h3m15 0h3m3 0h3m6 0h3m-1 0h3m0 0h3m-1 0h3m4 0h3m8 0h3m-75 1h3m-2 0h3m7 0h3m16 0h3m1 0h3m8 0h3m0 0h3m4 0h3m19 0h3m12 0h3m-58 1h3m9 0h3m-1 0h3m11 0h3m-2 0h3m6 0h3m-73 1h3m13 0h3m2 0h3m-2 0h3m-2 0h3m0 0h3m-1 0h3m2 0h3m-1 0h3m7 0h3m0 0h3m6 0h3m11 0h3m-2 0h3m-58 1h3m10 0h3m6 0h3m2 0h3m4 0h3m3 0h3m-2 0h3m-1 0h3m4 0h3m30 0h3m-103 1h3m10 0h3m8 0h3m-1 0h3m-2 0h3m0 0h3m6 0h3m-2 0h3m4 0h3m3 0h3m-2 0h3m-1 0h3m-2 0h3m2 0h3m12 0h3m9 0h3m-104 1h3m5 0h3m18 0h3m0 0h3m0 0h3m-1 0h3m10 0h3m-2 0h3m0 0h3m2 0h3m8 0h3m-2 0h3m0 0h3m1 0h3m7 0h3m0 0h3m1 0h3m-77 1h3m0 0h3m-2 0h3m-1 0h3m-2 0h3m8 0h3m2 0h3m3 0h3m-2 0h3m-2 0h3m-1 0h3m3 0h3m6 0h3m4 0h3m0 0h3m3 0h3m6 0h3m6 0h3m12 0h3m-101 1h3m3 0h3m0 0h3m17 0h3m-2 0h3m-2 0h3m2 0h3m3 0h3m-2 0h3m-1 0h3m-1 0h3m-2 0h3m0 0h3m0 0h3m1 0h3m10 0h3m0 0h3m12 0h3m-110 1h3m12 0h3m3 0h3m6 0h3m-1 0h3m4 0h3m6 0h3m3 0h3m1 0h3m-2 0h3m-2 0h3m-2 0h3m-1 0h3m1 0h3m-1 0h3m0 0h3m1 0h3m3 0h3m14 0h3m-95 1h3m22 0h3m4 0h3m4 0h3m-2 0h3m-1 0h3m1 0h3m2 0h3m3 0h3m-1 0h3m1 0h3m7 0h3m0 0h3m8 0h3m4 0h3m-104 1h3m3 0h3m-2 0h3m3 0h3m12 0h3m1 0h3m1 0h3m4 0h3m0 0h3m-2 0h3m-2 0h3m-2 0h3m1 0h3m3 0h3m0 0h3m-1 0h3m-1 0h3m2 0h3m-1 0h3m-2 0h3m20 0h3m-92 1h3m5 0h3m-1 0h3m-1 0h3m0 0h3m0 0h3m-2 0h3m5 0h3m4 0h3m-2 0h3m-1 0h3m-2 0h3m2 0h3m9 0h3m1 0h3m10 0h3m-2 0h3m10 0h3m-85 1h3m6 0h3m-2 0h3m7 0h3m-1 0h3m-2 0h3m3 0h3m-2 0h3m-2 0h3m0 0h3m1 0h3m0 0h3m1 0h3m-2 0h3m3 0h3m-2 0h3m2 0h3m31 0h3m-2 0h3m-111 1h3m9 0h3m0 0h3m14 0h3m-1 0h3m1 0h3m-2 0h3m4 0h3m7 0h3m1 0h3m4 0h3m-2 0h3m40 0h3m-92 1h3m5 0h3m1 0h3m0 0h3m11 0h3m4 0h3m-2 0h3m5 0h3m2 0h3m7 0h3m12 0h3m-99 1h3m17 0h3m0 0h3m1 0h3m-1 0h3m3 0h3m2 0h3m-2 0h3m-2 0h3m-2 0h3m0 0h3m-2 0h3m-2 0h3m2 0h3m-2 0h3m8 0h3m-1 0h3m1 0h3m0 0h3m-1 0h3m7 0h3m19 0h3m-95 1h3m2 0h3m-2 0h3m-2 0h3m0 0h3m9 0h3m4 0h3m0 0h3m0 0h3m-1 0h3m0 0h3m1 0h3m5 0h3m-2 0h3m2 0h3m7 0h3m-1 0h3m4 0h3m13 0h3m-115 1h3m15 0h3m11 0h3m-2 0h3m4 0h3m0 0h3m-2 0h3m-1 0h3m2 0h3m0 0h3m8 0h3m-1 0h3m1 0h3m3 0h3m30 0h3m11 0h3m20 0h3m-136 1h3m-1 0h3m8 0h3m3 0h3m0 0h3m-2 0h3m-2 0h3m0 0h3m0 0h3m2 0h3m2 0h3m-2 0h3m-1 0h3m2 0h3m11 0h3m-2 0h3m3 0h3m-2 0h3m0 0h3m3 0h3m4 0h3m11 0h3m-100 1h3m7 0h3m-2 0h3m9 0h3m0 0h3m-1 0h3m-2 0h3m1 0h3m-1 0h3m-1 0h3m-1 0h3m0 0h3m-1 0h3m-1 0h3m-2 0h3m1 0h3m2 0h3m-1 0h3m4 0h3m-2 0h3m7 0h3m4 0h3m-93 1h3m9 0h3m-1 0h3m4 0h3m8 0h3m4 0h3m-2 0h3m0 0h3m-1 0h3m-1 0h3m-1 0h3m9 0h3m-2 0h3m-1 0h3m-1 0h3m11 0h3m-2 0h3m4 0h3m-1 0h3m0 0h3m-1 0h3m24 0h3m-134 1h3m15 0h3m1 0h3m3 0h3m-2 0h3m13 0h3m4 0h3m-2 0h3m5 0h3m-1 0h3m-2 0h3m-1 0h3m-1 0h3m5 0h3m2 0h3m-1 0h3m7 0h3m-2 0h3m3 0h3m-100 1h3m5 0h3m3 0h3m7 0h3m3 0h3m1 0h3m7 0h3m0 0h3m1 0h3m-2 0h3m4 0h3m-2 0h3m-2 0h3m-1 0h3m0 0h3m6 0h3m-2 0h3m2 0h3m1 0h3m8 0h3m5 0h3m-84 1h3m0 0h3m2 0h3m1 0h3m5 0h3m2 0h3m28 0h3m0 0h3m40 0h3m30 0h3m-154 1h3m3 0h3m7 0h3m1 0h3m4 0h3m-1 0h3m3 0h3m6 0h3m19 0h3m0 0h3m-2 0h3m11 0h3m-77 1h3m1 0h3m0 0h3m13 0h3m-2 0h3m-2 0h3m-2 0h3m2 0h3m5 0h3m6 0h3m7 0h3m1 0h3m3 0h3m-75 1h3m2 0h3m8 0h3m-2 0h3m2 0h3m0 0h3m11 0h3m-2 0h3m2 0h3m2 0h3m-1 0h3m0 0h3m-2 0h3m5 0h3m-2 0h3m2 0h3m3 0h3m0 0h3m-86 1h3m5 0h3m-2 0h3m0 0h3m3 0h3m9 0h3m1 0h3m-2 0h3m9 0h3m-2 0h3m-2 0h3m1 0h3m4 0h3m1 0h3m11 0h3m-86 1h3m-1 0h3m0 0h3m3 0h3m4 0h3m0 0h3m2 0h3m3 0h3m7 0h3m-2 0h3m1 0h3m2 0h3m4 0h3m2 0h3m-2 0h3m8 0h3m-82 1h3m10 0h3m9 0h3m2 0h3m2 0h3m1 0h3m5 0h3m4 0h3m-1 0h3m6 0h3m-2 0h3m2 0h3m-1 0h3m11 0h3m0 0h3m-94 1h3m1 0h3m2 0h3m18 0h3m0 0h3m3 0h3m5 0h3m-1 0h3m5 0h3m1 0h3m15 0h3m6 0h3m21 0h3m-118 1h3m16 0h3m4 0h3m12 0h3m7 0h3m5 0h3m-2 0h3m12 0h3m1 0h3m1 0h3m-2 0h3m3 0h3m9 0h3m-89 1h3m-2 0h3m1 0h3m3 0h3m7 0h3m4 0h3m5 0h3m-1 0h3m0 0h3m1 0h3m4 0h3m8 0h3m0 0h3m-1 0h3m7 0h3m13 0h3m-75 1h3m-2 0h3m-1 0h3m1 0h3m0 0h3m0 0h3m1 0h3m5 0h3m14 0h3m1 0h3m-2 0h3m-1 0h3m-70 1h3m-2 0h3m3 0h3m12 0h3m-1 0h3m0 0h3m-2 0h3m0 0h3m-1 0h3m-1 0h3m15 0h3m3 0h3m16 0h3m-92 1h3m4 0h3m7 0h3m0 0h3m0 0h3m10 0h3m2 0h3m8 0h3m5 0h3m2 0h3m1 0h3m3 0h3m-1 0h3m40 0h3m-112 1h3m4 0h3m9 0h3m8 0h3m5 0h3m4 0h3m0 0h3m13 0h3m5 0h3m21 0h3m-96 1h3m24 0h3m3 0h3m-1 0h3m2 0h3m-58 1h3m47 0h3m0 0h3m6 0h3m-2 0h3m1 0h3m6 0h3m5 0h3m7 0h3m-102 1h3m37 0h3m5 0h3m6 0h3m3 0h3m4 0h3m2 0h3m-60 1h3m0 0h3m-1 0h3m3 0h3m-2 0h3m-2 0h3m-1 0h3m3 0h3m2 0h3m1 0h3m-1 0h3m6 0h3m1 0h3m1 0h3m2 0h3m7 0h3m-2 0h3m16 0h3m-96 1h3m1 0h3m15 0h3m6 0h3m3 0h3m2 0h3m9 0h3m11 0h3m-71 1h3m19 0h3m17 0h3m-2 0h3m1 0h3m10 0h3m20 0h3m6 0h3m-99 1h3m22 0h3m25 0h3m7 0h3m16 0h3m1 0h3m-89 1h3m54 0h3m1 0h3m-1 0h3m-1 0h3m7 0h3m0 0h3m4 0h3m26 0h3m-90 1h3m12 0h3m71 0h3m-66 1h3m27 0h3m-61 1h3m34 0h3m-5 1h3m-2 0h3m8 0h3m-2 0h3m-54 1h3m11 0h3m26 0h3m-69 1h3m23 0h3m20 0h3m3 0h3m2 0h3m1 0h3m-41 1h3m42 0h3m-44 1h3m10 1h3m21 0h3m0 1h3m-33 1h3m10 0h3m55 0h3m-67 2h3m1 0h3m12 0h3m20 0h3m-85 1h3m38 0h3m1 0h3m-14 4h3m30 2h3m-27 2h3m-21 2h3" stroke="#50e050" stroke-width="3" opacity="0.75" fill="none"/>
<path transform="scale(0.25)" d="M538 185.5h3m-19 8h3m29 0h3m-1 1h3m-22 2h3m2 0h3m25 0h3m-28 2h3m-16 1h3m-6 1h3m13 0h3m9 0h3m-1 0h3m11 0h3m-47 1h3m10 0h3m-10 1h3m5 0h3m-34 1h3m22 0h3m20 0h3m-48 1h3m27 0h3m0 0h3m-1 0h3m-21 1h3m-1 0h3m-1 0h3m-2 0h3m6 0h3m4 0h3m-1 0h3m2 0h3m4 0h3m9 0h3m-98 1h3m15 0h3m19 0h3m-2 0h3m9 0h3m0 0h3m10 0h3m-39 1h3m17 0h3m0 0h3m-2 0h3m-1 0h3m2 0h3m2 0h3m-36 1h3m1 0h3m-2 0h3m5 0h3m-1 0h3m2 0h3m-2 0h3m16 0h3m-39 1h3m1 0h3m-1 0h3m4 0h3m0 0h3m5 0h3m19 0h3m-63 1h3m18 0h3m0 0h3m-2 0h3m-1 0h3m1 0h3m-1 0h3m4 0h3m4 0h3m-17 1h3m-2 0h3m-21 1h3m4 0h3m2 0h3m2 0h3m0 0h3m6 0h3m28 0h3m-61 1h3m-2 0h3m-1 0h3m-1 0h3m6 0h3m-2 0h3m-1 0h3m3 0h3m4 0h3m-35 1h3m7 0h3m11 0h3m-2 0h3m-1 0h3m2 0h3m2 0h3m-56 1h3m4 0h3m5 0h3m1 0h3m7 0h3m0 0h3m-1 0h3m-2 0h3m6 0h3m6 0h3m-55 1h3m-2 0h3m8 0h3m2 0h3m0 0h3m-2 0h3m-2 0h3m-1 0h3m12 0h3m-1 0h3m0 0h3m-2 0h3m-2 0h3m-43 1h3m11 0h3m-2 0h3m4 0h3m-2 0h3m-2 0h3m-2 0h3m-1 0h3m-2 0h3m-1 0h3m3 0h3m-2 0h3m0 0h3m-41 1h3m-2 0h3m4 0h3m-2 0h3m3 0h3m7 0h3m0 0h3m6 0h3m-1 0h3m-49 1h3m6 0h3m1 0h3m6 0h3m-1 0h3m2 0h3m0 0h3m11 0h3m0 0h3m1 0h3m3 0h3m-69 1h3m8 0h3m0 0h3m-2 0h3m5 0h3m-2 0h3m0 0h3m-2 0h3m3 0h3m0 0h3m2 0h3m14 0h3m-58 1h3m0 0h3m1 0h3m-1 0h3m-2 0h3m3 0h3m-2 0h3m1 0h3m-2 0h3m-1 0h3m0 0h3m-1 0h3m-2 0h3m-2 0h3m3 0h3m-1 0h3m9 0h3m0 0h3m-71 1h3m23 0h3m7 0h3m0 0h3m-2 0h3m-2 0h3m-2 0h3m-2 0h3m-2 0h3m-1 0h3m-2 0h3m-2 0h3m-2 0h3m2 0h3m-2 0h3m-2 0h3m-1 0h3m5 0h3m21 0h3m-82 1h3m6 0h3m8 0h3m-2 0h3m-2 0h3m-2 0h3m3 0h3m-1 0h3m-2 0h3m4 0h3m7 0h3m-1 0h3m0 0h3m-55 1h3m5 0h3m-2 0h3m5 0h3m1 0h3m0 0h3m-2 0h3m0 0h3m-2 0h3m4 0h3m1 0h3m-2 0h3m-2 0h3m-1 0h3m-2 0h3m2 0h3m4 0h3m-1 0h3m-85 1h3m24 0h3m3 0h3m16 0h3m-2 0h3m-1 0h3m-2 0h3m0 0h3m-2 0h3m-1 0h3m-1 0h3m-1 0h3m8 0h3m2 0h3m-2 0h3m-52 1h3m-1 0h3m7 0h3m0 0h3m-2 0h3m0 0h3m2 0h3m-1 0h3m1 0h3m1 0h3m2 0h3m-1 0h3m-62 1h3m-1 0h3m8 0h3m1 0h3m1 0h3m-1 0h3m-1 0h3m5 0h3m0 0h3m-1 0h3m0 0h3m-2 0h3m1 0h3m-2 0h3m1 0h3m-2 0h3m-2 0h3m-1 0h3m-2 0h3m-2 0h3m2 0h3m-73 1h3m13 0h3m6 0h3m0 0h3m4 0h3m-2 0h3m4 0h3m5 0h3m5 0h3m6 0h3m-1 0h3m16 0h3m-71 1h3m5 0h3m4 0h3m0 0h3m3 0h3m1 0h3m1 0h3m0 0h3m19 0h3m21 0h3m-80 1h3m1 0h3m3 0h3m-2 0h3m3 0h3m-1 0h3m1 0h3m-2 0h3m0 0h3m1 0h3m-1 0h3m0 0h3m-2 0h3m-2 0h3m2 0h3m15 0h3m-73 1h3m10 0h3m0 0h3m3 0h3m0 0h3m0 0h3m1 0h3m-2 0h3m-1 0h3m1 0h3m12 0h3m-52 1h3m0 0h3m10 0h3m-1 0h3m7 0h3m-2 0h3m-2 0h3m-2 0h3m5 0h3m12 0h3m-77 1h3m15 0h3m4 0h3m-2 0h3m-1 0h3m-1 0h3m0 0h3m-1 0h3m3 0h3m2 0h3m-1 0h3m-1 0h3m0 0h3m5 0h3m-1 0h3m0 0h3m-2 0h3m19 0h3m-86 1h3m12 0h3m8 0h3m-1 0h3m3 0h3m6 0h3m2 0h3m0 0h3m2 0h3m-2 0h3m15 0h3m-58 1h3m-1 0h3m-1 0h3m7 0h3m-1 0h3m3 0h3m-2 0h3m-1 0h3m3 0h3m1 0h3m0 0h3m17 0h3m-57 1h3m7 0h3m9 0h3m0 0h3m-2 0h3m-2 0h3m-2 0h3m0 0h3m-35 1h3m8 0h3m1 0h3m-2 0h3m5 0h3m3 0h3m13 0h3m-57 1h3m6 0h3m6 0h3m6 0h3m-1 0h3m-2 0h3m4 0h3m-2 0h3m30 0h3m-80 1h3m29 0h3m1 0h3m14 0h3m11 0h3m-73 1h3m14 0h3m1 0h3m3 0h3m1 0h3m3 0h3m11 0h3m3 0h3m-40 1h3m-2 0h3m14 0h3m-1 0h3m-1 0h3m19 0h3m13 0h3m-84 1h3m12 0h3m7 0h3m2 0h3m9 0h3m-1 0h3m-11 1h3m-2 0h3m9 0h3m2 0h3m-32 1h3m-1 0h3m2 0h3m3 0h3m-9 1h3m14 0h3m24 0h3m-55 1h3m2 0h3m16 0h3m18 0h3m-52 2h3m5 0h3m9 0h3m-19 1h3m1 0h3m7 1h3m-29 1h3m41 2h3m-7 3h3m-23 6h3m-21 1h3" stroke="#20e020" stroke-width="3" opacity="0.9" fill="none"/>
<ellipse cx="134.50" cy="56.00" rx="6.00" ry="4.00" fill="#38e838" opacity="0.85" transform="rotate(0 134.50 56.00)" filter="url(#b06)"/>
<path transform="scale(0.25)" d="M560 215.5h3m-53 8h3m0 5h3m30 1h3m20 1h3m4 0h3m-72 1h3m23 1h3m23 2h3m-43 1h3m-3 1h3m-20 2h3m45 1h3m-37 1h3m-15 1h3m25 0h3m-29 1h3m39 1h3m-38 1h3m15 0h3m1 0h3m32 0h3m-76 1h3m3 0h3m88 0h3m-91 1h3m-14 1h3m7 0h3m41 1h3m17 0h3m-36 1h3m21 0h3m-58 1h3m13 0h3m42 0h3m-70 1h3m8 0h3m5 1h3m10 0h3m44 0h3m-36 1h3m-3 1h3m-28 1h3m3 0h3m17 0h3m-46 1h3m14 0h3m0 0h3m6 0h3m0 0h3m8 0h3m17 0h3m14 0h3m-26 1h3m2 0h3m3 0h3m-40 1h3m-34 1h3m15 0h3m-2 0h3m-1 0h3m4 0h3m0 0h3m0 0h3m-44 1h3m6 0h3m34 0h3m52 0h3m-111 1h3m19 0h3m-1 1h3m7 0h3m-1 0h3m0 0h3m15 0h3m25 0h3m-65 1h3m7 0h3m5 0h3m1 0h3m5 0h3m23 0h3m-60 1h3m3 0h3m-2 0h3m1 0h3m9 0h3m5 0h3m-2 0h3m-55 1h3m8 0h3m-2 0h3m6 0h3m23 0h3m-1 0h3m2 0h3m-63 1h3m10 0h3m6 0h3m-1 0h3m5 0h3m11 0h3m5 0h3m-2 0h3m17 0h3m-51 1h3m4 0h3m14 0h3m-1 0h3m0 0h3m31 0h3m-71 1h3m-2 0h3m-2 0h3m3 0h3m2 0h3m-2 0h3m22 0h3m-64 1h3m0 0h3m10 0h3m50 0h3m-2 0h3m4 0h3m-1 0h3m-80 1h3m-2 0h3m21 0h3m3 0h3m7 0h3m2 0h3m6 0h3m34 0h3m-96 1h3m23 0h3m5 0h3m3 0h3m5 0h3m5 0h3m-2 0h3m8 0h3m5 0h3m4 0h3m-68 1h3m-2 0h3m0 0h3m0 0h3m3 0h3m2 0h3m0 0h3m3 0h3m0 0h3m17 0h3m13 0h3m-40 1h3m1 0h3m4 0h3m7 0h3m-53 1h3m0 0h3m13 0h3m2 0h3m0 0h3m-1 0h3m3 0h3m0 0h3m-2 0h3m27 0h3m-76 1h3m-1 0h3m-2 0h3m0 0h3m-2 0h3m-2 0h3m16 0h3m2 0h3m0 0h3m13 0h3m9 0h3m-57 1h3m1 0h3m2 0h3m3 0h3m3 0h3m1 0h3m18 0h3m-1 0h3m19 0h3m-1 0h3m-83 1h3m9 0h3m4 0h3m-1 0h3m0 0h3m3 0h3m0 0h3m2 0h3m1 0h3m3 0h3m-2 0h3m1 0h3m-62 1h3m5 0h3m5 0h3m0 0h3m4 0h3m0 0h3m2 0h3m-2 0h3m4 0h3m-1 0h3m-2 0h3m9 0h3m-1 0h3m3 0h3m11 0h3m-82 1h3m9 0h3m3 0h3m4 0h3m0 0h3m-2 0h3m3 0h3m0 0h3m-2 0h3m19 0h3m-2 0h3m11 0h3m-51 1h3m4 0h3m-2 0h3m-1 0h3m-1 0h3m2 0h3m1 0h3m-2 0h3m12 0h3m-2 0h3m0 0h3m6 0h3m1 0h3m-1 0h3m-1 0h3m-2 0h3m-90 1h3m-1 0h3m7 0h3m-2 0h3m3 0h3m1 0h3m-1 0h3m4 0h3m0 0h3m4 0h3m3 0h3m5 0h3m1 0h3m5 0h3m22 0h3m-87 1h3m-2 0h3m0 0h3m-1 0h3m-2 0h3m-1 0h3m0 0h3m3 0h3m11 0h3m1 0h3m7 0h3m3 0h3m0 0h3m8 0h3m-70 1h3m6 0h3m-2 0h3m7 0h3m7 0h3m0 0h3m9 0h3m2 0h3m2 0h3m11 0h3m-80 1h3m9 0h3m18 0h3m1 0h3m2 0h3m9 0h3m0 0h3m8 0h3m0 0h3m0 0h3m-88 1h3m10 0h3m-2 0h3m8 0h3m0 0h3m10 0h3m15 0h3m1 0h3m15 0h3m7 0h3m-72 1h3m-1 0h3m11 0h3m3 0h3m-2 0h3m3 0h3m7 0h3m-2 0h3m73 0h3m-123 1h3m2 0h3m-1 0h3m12 0h3m4 0h3m6 0h3m-1 0h3m0 0h3m11 0h3m0 0h3m15 0h3m-98 1h3m1 0h3m-2 0h3m4 0h3m10 0h3m3 0h3m-2 0h3m14 0h3m-2 0h3m1 0h3m-1 0h3m-2 0h3m8 0h3m1 0h3m-1 0h3m4 0h3m10 0h3m2 0h3m1 0h3m-103 1h3m1 0h3m15 0h3m-2 0h3m-2 0h3m6 0h3m3 0h3m-1 0h3m0 0h3m-1 0h3m6 0h3m-1 0h3m2 0h3m5 0h3m-1 0h3m2 0h3m-1 0h3m3 0h3m-79 1h3m13 0h3m2 0h3m0 0h3m2 0h3m1 0h3m1 0h3m8 0h3m3 0h3m2 0h3m6 0h3m-70 1h3m3 0h3m4 0h3m4 0h3m0 0h3m-2 0h3m-2 0h3m-2 0h3m-1 0h3m-1 0h3m2 0h3m-2 0h3m6 0h3m5 0h3m9 0h3m20 0h3m-87 1h3m7 0h3m1 0h3m-2 0h3m-1 0h3m2 0h3m1 0h3m-1 0h3m1 0h3m3 0h3m-2 0h3m-1 0h3m16 0h3m-1 0h3m-73 1h3m-1 0h3m-2 0h3m10 0h3m2 0h3m5 0h3m-1 0h3m1 0h3m-1 0h3m0 0h3m1 0h3m4 0h3m1 0h3m0 0h3m4 0h3m6 0h3m5 0h3m4 0h3m43 0h3m-149 1h3m18 0h3m2 0h3m6 0h3m8 0h3m1 0h3m13 0h3m4 0h3m-1 0h3m1 0h3m11 0h3m-93 1h3m5 0h3m6 0h3m5 0h3m-1 0h3m4 0h3m1 0h3m4 0h3m-2 0h3m-2 0h3m-2 0h3m1 0h3m-1 0h3m-1 0h3m-1 0h3m-1 0h3m-1 0h3m9 0h3m-2 0h3m-72 1h3m-1 0h3m4 0h3m10 0h3m1 0h3m-2 0h3m0 0h3m6 0h3m3 0h3m7 0h3m-2 0h3m4 0h3m9 0h3m6 0h3m-84 1h3m-2 0h3m5 0h3m7 0h3m12 0h3m0 0h3m-1 0h3m-1 0h3m-2 0h3m1 0h3m1 0h3m-1 0h3m1 0h3m7 0h3m4 0h3m1 0h3m4 0h3m1 0h3m-97 1h3m12 0h3m0 0h3m5 0h3m0 0h3m-2 0h3m-1 0h3m-2 0h3m-2 0h3m-2 0h3m1 0h3m-2 0h3m0 0h3m1 0h3m-2 0h3m0 0h3m-2 0h3m-2 0h3m3 0h3m-2 0h3m-2 0h3m3 0h3m3 0h3m-69 1h3m-1 0h3m2 0h3m-2 0h3m2 0h3m1 0h3m6 0h3m-1 0h3m0 0h3m-1 0h3m-2 0h3m5 0h3m0 0h3m-1 0h3m1 0h3m7 0h3m1 0h3m16 0h3m16 0h3m-113 1h3m-2 0h3m-1 0h3m-1 0h3m5 0h3m3 0h3m-2 0h3m-1 0h3m-2 0h3m0 0h3m3 0h3m-1 0h3m3 0h3m-1 0h3m1 0h3m1 0h3m-1 0h3m-1 0h3m0 0h3m-2 0h3m11 0h3m-2 0h3m-63 1h3m-1 0h3m2 0h3m-2 0h3m3 0h3m-1 0h3m0 0h3m5 0h3m-1 0h3m2 0h3m1 0h3m3 0h3m-1 0h3m7 0h3m6 0h3m3 0h3m-86 1h3m1 0h3m-2 0h3m-1 0h3m4 0h3m0 0h3m2 0h3m0 0h3m0 0h3m3 0h3m2 0h3m2 0h3m-1 0h3m-2 0h3m4 0h3m-1 0h3m-2 0h3m0 0h3m-1 0h3m24 0h3m-97 1h3m6 0h3m5 0h3m4 0h3m6 0h3m1 0h3m2 0h3m-2 0h3m0 0h3m4 0h3m0 0h3m7 0h3m-58 1h3m-1 0h3m2 0h3m-2 0h3m1 0h3m1 0h3m3 0h3m-1 0h3m-1 0h3m0 0h3m-2 0h3m1 0h3m1 0h3m0 0h3m4 0h3m0 0h3m2 0h3m-1 0h3m-2 0h3m9 0h3m-1 0h3m3 0h3m12 0h3m3 0h3m-112 1h3m-2 0h3m20 0h3m11 0h3m1 0h3m-1 0h3m4 0h3m2 0h3m-2 0h3m0 0h3m0 0h3m2 0h3m3 0h3m31 0h3m-105 1h3m1 0h3m0 0h3m2 0h3m5 0h3m0 0h3m2 0h3m5 0h3m-1 0h3m-1 0h3m2 0h3m1 0h3m0 0h3m1 0h3m2 0h3m-1 0h3m-1 0h3m2 0h3m4 0h3m0 0h3m-2 0h3m1 0h3m6 0h3m2 0h3m-111 1h3m9 0h3m1 0h3m-1 0h3m0 0h3m-2 0h3m0 0h3m8 0h3m-1 0h3m-2 0h3m-2 0h3m1 0h3m2 0h3m2 0h3m0 0h3m7 0h3m-1 0h3m9 0h3m5 0h3m-75 1h3m8 0h3m1 0h3m3 0h3m3 0h3m-2 0h3m0 0h3m-2 0h3m2 0h3m-2 0h3m0 0h3m5 0h3m0 0h3m7 0h3m-67 1h3m1 0h3m-1 0h3m15 0h3m-2 0h3m0 0h3m-1 0h3m2 0h3m-1 0h3m-1 0h3m-1 0h3m1 0h3m-1 0h3m6 0h3m-1 0h3m-2 0h3m0 0h3m4 0h3m1 0h3m7 0h3m-98 1h3m9 0h3m12 0h3m-1 0h3m2 0h3m6 0h3m2 0h3m4 0h3m-2 0h3m0 0h3m1 0h3m4 0h3m-2 0h3m15 0h3m18 0h3m-115 1h3m0 0h3m2 0h3m-2 0h3m-1 0h3m10 0h3m3 0h3m-2 0h3m-1 0h3m0 0h3m-1 0h3m1 0h3m2 0h3m3 0h3m-2 0h3m0 0h3m5 0h3m13 0h3m25 0h3m-113 1h3m8 0h3m6 0h3m10 0h3m1 0h3m0 0h3m-1 0h3m-2 0h3m3 0h3m-2 0h3m1 0h3m3 0h3m0 0h3m-2 0h3m-2 0h3m0 0h3m3 0h3m15 0h3m0 0h3m5 0h3m-104 1h3m18 0h3m-2 0h3m5 0h3m-1 0h3m1 0h3m-2 0h3m0 0h3m4 0h3m13 0h3m2 0h3m-1 0h3m1 0h3m-1 0h3m6 0h3m11 0h3m-93 1h3m1 0h3m12 0h3m-2 0h3m-2 0h3m-1 0h3m4 0h3m6 0h3m-2 0h3m1 0h3m0 0h3m-2 0h3m0 0h3m-2 0h3m3 0h3m-2 0h3m0 0h3m26 0h3m-104 1h3m9 0h3m4 0h3m6 0h3m4 0h3m-2 0h3m-1 0h3m1 0h3m1 0h3m1 0h3m1 0h3m2 0h3m-1 0h3m6 0h3m9 0h3m4 0h3m3 0h3m8 0h3m-97 1h3m0 0h3m-1 0h3m8 0h3m2 0h3m4 0h3m-1 0h3m6 0h3m0 0h3m-2 0h3m-2 0h3m0 0h3m-2 0h3m-1 0h3m3 0h3m0 0h3m-1 0h3m-2 0h3m5 0h3m8 0h3m-84 1h3m-2 0h3m5 0h3m3 0h3m1 0h3m-2 0h3m0 0h3m5 0h3m-2 0h3m6 0h3m-2 0h3m-1 0h3m0 0h3m-2 0h3m1 0h3m4 0h3m-2 0h3m-1 0h3m14 0h3m7 0h3m-91 1h3m3 0h3m3 0h3m0 0h3m0 0h3m-1 0h3m3 0h3m7 0h3m1 0h3m-1 0h3m-2 0h3m3 0h3m3 0h3m1 0h3m-2 0h3m-2 0h3m-2 0h3m-2 0h3m-63 1h3m0 0h3m6 0h3m1 0h3m0 0h3m-2 0h3m-2 0h3m-1 0h3m1 0h3m-2 0h3m1 0h3m0 0h3m-2 0h3m4 0h3m6 0h3m0 0h3m-2 0h3m1 0h3m-1 0h3m1 0h3m9 0h3m-2 0h3m-94 1h3m-1 0h3m8 0h3m-1 0h3m-1 0h3m6 0h3m-1 0h3m2 0h3m0 0h3m-2 0h3m12 0h3m2 0h3m-2 0h3m-2 0h3m-2 0h3m4 0h3m-2 0h3m-1 0h3m-76 1h3m2 0h3m18 0h3m3 0h3m-2 0h3m-2 0h3m-2 0h3m-1 0h3m15 0h3m2 0h3m-2 0h3m-2 0h3m-2 0h3m0 0h3m0 0h3m17 0h3m-90 1h3m2 0h3m2 0h3m1 0h3m-1 0h3m-2 0h3m1 0h3m-2 0h3m2 0h3m-1 0h3m-2 0h3m1 0h3m-2 0h3m-2 0h3m-1 0h3m1 0h3m-2 0h3m0 0h3m-2 0h3m-2 0h3m4 0h3m1 0h3m1 0h3m-2 0h3m-1 0h3m-1 0h3m-2 0h3m-2 0h3m2 0h3m-82 1h3m0 0h3m1 0h3m-1 0h3m-2 0h3m8 0h3m1 0h3m-2 0h3m-2 0h3m-2 0h3m6 0h3m-2 0h3m-1 0h3m0 0h3m0 0h3m0 0h3m6 0h3m9 0h3m17 0h3m9 0h3m7 0h3m-111 1h3m12 0h3m6 0h3m0 0h3m0 0h3m-2 0h3m3 0h3m3 0h3m9 0h3m4 0h3m12 0h3m1 0h3m5 0h3m6 0h3m2 0h3m-110 1h3m4 0h3m9 0h3m4 0h3m-1 0h3m-1 0h3m-1 0h3m5 0h3m7 0h3m3 0h3m-2 0h3m6 0h3m-2 0h3m0 0h3m-2 0h3m2 0h3m14 0h3m-86 1h3m14 0h3m4 0h3m3 0h3m-1 0h3m-2 0h3m-1 0h3m-2 0h3m3 0h3m-1 0h3m0 0h3m0 0h3m1 0h3m13 0h3m-1 0h3m8 0h3m-96 1h3m3 0h3m15 0h3m-1 0h3m4 0h3m1 0h3m-2 0h3m-2 0h3m0 0h3m3 0h3m3 0h3m14 0h3m2 0h3m0 0h3m20 0h3m-105 1h3m1 0h3m16 0h3m-2 0h3m12 0h3m-2 0h3m9 0h3m8 0h3m-1 0h3m1 0h3m-2 0h3m1 0h3m8 0h3m0 0h3m6 0h3m-90 1h3m2 0h3m-1 0h3m3 0h3m5 0h3m2 0h3m-2 0h3m-1 0h3m-2 0h3m0 0h3m-2 0h3m-1 0h3m-2 0h3m6 0h3m-1 0h3m-2 0h3m4 0h3m21 0h3m-92 1h3m-1 0h3m16 0h3m7 0h3m-2 0h3m-1 0h3m0 0h3m0 0h3m-1 0h3m9 0h3m1 0h3m-1 0h3m-2 0h3m0 0h3m-2 0h3m-2 0h3m1 0h3m2 0h3m-1 0h3m1 0h3m13 0h3m-99 1h3m6 0h3m-2 0h3m0 0h3m14 0h3m-1 0h3m-1 0h3m-2 0h3m0 0h3m0 0h3m1 0h3m2 0h3m-1 0h3m1 0h3m7 0h3m4 0h3m18 0h3m-97 1h3m3 0h3m11 0h3m-1 0h3m4 0h3m-2 0h3m2 0h3m4 0h3m6 0h3m3 0h3m7 0h3m1 0h3m-1 0h3m5 0h3m7 0h3m26 0h3m-116 1h3m-1 0h3m3 0h3m3 0h3m3 0h3m1 0h3m-1 0h3m-1 0h3m-1 0h3m-1 0h3m8 0h3m4 0h3m-1 0h3m4 0h3m3 0h3m-2 0h3m7 0h3m1 0h3m-92 1h3m5 0h3m3 0h3m-1 0h3m10 0h3m-1 0h3m6 0h3m-1 0h3m4 0h3m5 0h3m-2 0h3m1 0h3m5 0h3m-1 0h3m22 0h3m-90 1h3m0 0h3m6 0h3m3 0h3m0 0h3m-2 0h3m1 0h3m-1 0h3m0 0h3m-2 0h3m-2 0h3m1 0h3m-2 0h3m9 0h3m2 0h3m2 0h3m-71 1h3m-2 0h3m20 0h3m-2 0h3m9 0h3m-2 0h3m-2 0h3m4 0h3m-1 0h3m2 0h3m2 0h3m1 0h3m0 0h3m-2 0h3m-49 1h3m0 0h3m-1 0h3m3 0h3m-2 0h3m-1 0h3m3 0h3m2 0h3m2 0h3m-1 0h3m-2 0h3m10 0h3m5 0h3m-2 0h3m-2 0h3m-1 0h3m-61 1h3m2 0h3m2 0h3m-1 0h3m0 0h3m-1 0h3m0 0h3m0 0h3m1 0h3m-2 0h3m0 0h3m-1 0h3m-1 0h3m1 0h3m16 0h3m-1 0h3m9 0h3m-64 1h3m-2 0h3m-1 0h3m4 0h3m4 0h3m10 0h3m-1 0h3m-2 0h3m0 0h3m-2 0h3m-2 0h3m1 0h3m1 0h3m10 0h3m20 0h3m-117 1h3m7 0h3m0 0h3m5 0h3m1 0h3m0 0h3m-1 0h3m-2 0h3m2 0h3m-1 0h3m-2 0h3m-2 0h3m-2 0h3m-2 0h3m-2 0h3m-2 0h3m-1 0h3m6 0h3m7 0h3m-68 1h3m2 0h3m7 0h3m18 0h3m-2 0h3m9 0h3m12 0h3m8 0h3m-1 0h3m-68 1h3m1 0h3m5 0h3m22 0h3m3 0h3m32 0h3m8 0h3m-95 1h3m8 0h3m1 0h3m0 0h3m-2 0h3m10 0h3m2 0h3m-2 0h3m7 0h3m4 0h3m-60 1h3m20 0h3m9 0h3m-2 0h3m2 0h3m-2 0h3m1 0h3m5 0h3m1 0h3m-2 0h3m-50 1h3m4 0h3m-2 0h3m-1 0h3m-2 0h3m-1 0h3m-2 0h3m9 0h3m1 0h3m-2 0h3m-2 0h3m5 0h3m-2 0h3m5 0h3m3 0h3m-60 1h3m3 0h3m2 0h3m-1 0h3m3 0h3m1 0h3m-2 0h3m6 0h3m4 0h3m-1 0h3m9 0h3m27 0h3m-76 1h3m13 0h3m0 0h3m-2 0h3m4 0h3m1 0h3m13 0h3m33 0h3m-103 1h3m-2 0h3m4 0h3m0 0h3m0 0h3m-2 0h3m-1 0h3m0 0h3m3 0h3m6 0h3m0 0h3m-1 0h3m0 0h3m-1 0h3m6 0h3m1 0h3m7 0h3m-1 0h3m-79 1h3m5 0h3m1 0h3m16 0h3m-2 0h3m-1 0h3m6 0h3m-2 0h3m17 0h3m8 0h3m-35 1h3m-2 0h3m-1 0h3m13 0h3m6 0h3m-54 1h3m-1 0h3m-2 0h3m-1 0h3m6 0h3m6 0h3m0 0h3m-2 0h3m0 0h3m-46 1h3m-1 0h3m7 0h3m7 0h3m-1 0h3m0 0h3m-2 0h3m-2 0h3m8 0h3m3 0h3m-2 0h3m7 0h3m-2 0h3m28 0h3m-99 1h3m9 0h3m5 0h3m1 0h3m4 0h3m2 0h3m1 0h3m-2 0h3m4 0h3m6 0h3m1 0h3m23 0h3m-64 1h3m1 0h3m0 0h3m5 0h3m-2 0h3m11 0h3m15 0h3m-84 1h3m-2 0h3m11 0h3m1 0h3m2 0h3m23 0h3m3 0h3m4 0h3m-64 1h3m7 0h3m19 0h3m6 0h3m0 0h3m5 0h3m18 0h3m6 0h3m-1 0h3m0 0h3m14 0h3m-109 1h3m22 0h3m0 0h3m-1 0h3m-1 0h3m0 0h3m2 0h3m1 0h3m9 0h3m-2 0h3m8 0h3m9 0h3m-82 1h3m5 0h3m12 0h3m-2 0h3m1 0h3m-2 0h3m12 0h3m-2 0h3m-2 0h3m1 0h3m11 0h3m42 0h3m-52 1h3m-30 1h3m18 0h3m-2 0h3m26 0h3m-26 1h3m-39 1h3m39 0h3m22 0h3" stroke="#f01010" stroke-width="3" opacity="0.9" fill="none"/>
<ellipse cx="131.80" cy="78.50" rx="7.20" ry="9.00" fill="#f01212" opacity="1.0" transform="rotate(0 131.80 78.50)" filter="url(#b1)"/>
<path transform="scale(0.25)" d="M635 209.5h3m-6 9h3m-10 8h3m5 1h3m-9 1h3m21 0h3m-23 2h3m-8 2h3m4 3h3m-3 2h3m1 4h3m-33 5h3m12 0h3m-10 1h3m-1 0h3m4 0h3m1 0h3m-10 1h3m-5 1h3m-9 1h3m16 0h3m-18 1h3m4 1h3m2 0h3m0 0h3m-9 1h3m2 0h3m4 0h3m-40 1h3m15 0h3m13 0h3m-16 1h3m-5 1h3m-2 0h3m1 0h3m-12 1h3m13 0h3m-23 1h3m21 0h3m8 1h3m-34 1h3m-2 0h3m23 0h3m5 0h3m-34 2h3m-1 0h3m14 0h3m-35 1h3m3 0h3m-4 1h3m0 0h3m20 0h3m-20 1h3m1 0h3m-2 0h3m-30 1h3m15 0h3m22 0h3m-27 1h3m-1 0h3m-2 0h3m1 0h3m0 0h3m0 0h3m20 0h3m-35 1h3m2 0h3m1 0h3m3 0h3m5 0h3m-35 1h3m-1 0h3m6 0h3m6 0h3m4 0h3m-31 1h3m0 0h3m2 0h3m7 0h3m2 0h3m4 0h3m-30 1h3m8 0h3m-7 1h3m-1 0h3m15 0h3m-28 1h3m2 0h3m3 0h3m0 0h3m13 0h3m-2 0h3m-45 1h3m16 0h3m1 0h3m-1 0h3m0 0h3m-1 0h3m-24 1h3m1 0h3m9 0h3m-2 0h3m0 0h3m-1 0h3m-34 1h3m9 0h3m0 0h3m3 0h3m1 0h3m0 0h3m-2 0h3m2 0h3m-2 0h3m-24 1h3m1 0h3m-2 0h3m-2 0h3m-2 0h3m-18 1h3m2 0h3m-2 0h3m7 0h3m-2 0h3m-17 1h3m7 0h3m2 0h3m-2 0h3m-1 0h3m4 0h3m-34 1h3m3 0h3m-2 0h3m2 0h3m-1 0h3m1 0h3m4 0h3m10 0h3m-30 1h3m0 0h3m12 0h3m5 0h3m-27 1h3m1 0h3m3 0h3m3 0h3m6 0h3m-58 1h3m16 0h3m3 0h3m-2 0h3m-1 0h3m6 0h3m-1 0h3m-2 0h3m-2 0h3m0 0h3m-22 1h3m-2 0h3m-2 0h3m3 0h3m-1 0h3m0 0h3m-26 1h3m6 0h3m2 0h3m-1 0h3m2 0h3m0 0h3m5 0h3m1 0h3m-1 0h3m-33 1h3m0 0h3m5 0h3m-1 0h3m-2 0h3m-2 0h3m0 0h3m-2 0h3m-1 0h3m-36 1h3m2 0h3m-2 0h3m2 0h3m4 0h3m4 0h3m1 0h3m-1 0h3m17 0h3m-40 1h3m6 0h3m-2 0h3m-2 0h3m-2 0h3m-2 0h3m-1 0h3m4 0h3m-37 1h3m7 0h3m0 0h3m1 0h3m-1 0h3m-2 0h3m-2 0h3m1 0h3m-1 0h3m2 0h3m9 0h3m-42 1h3m4 0h3m-2 0h3m1 0h3m0 0h3m1 0h3m0 0h3m3 0h3m1 0h3m-2 0h3m7 0h3m-44 1h3m0 0h3m3 0h3m-2 0h3m0 0h3m-2 0h3m-1 0h3m0 0h3m0 0h3m0 0h3m-2 0h3m1 0h3m-36 1h3m8 0h3m0 0h3m-1 0h3m-2 0h3m-2 0h3m-2 0h3m11 0h3m-46 1h3m15 0h3m-1 0h3m2 0h3m-2 0h3m-1 0h3m-1 0h3m-1 0h3m2 0h3m-2 0h3m-1 0h3m-1 0h3m1 0h3m-2 0h3m-26 1h3m1 0h3m-2 0h3m-2 0h3m3 0h3m10 0h3m-50 1h3m2 0h3m-2 0h3m5 0h3m-2 0h3m-1 0h3m-1 0h3m-1 0h3m-2 0h3m-1 0h3m-2 0h3m-2 0h3m0 0h3m-2 0h3m0 0h3m6 0h3m-35 1h3m5 0h3m-1 0h3m1 0h3m-2 0h3m-2 0h3m1 0h3m0 0h3m-37 1h3m4 0h3m6 0h3m1 0h3m1 0h3m-1 0h3m-1 0h3m6 0h3m-1 0h3m-2 0h3m-35 1h3m-2 0h3m1 0h3m1 0h3m-1 0h3m6 0h3m-2 0h3m3 0h3m-1 0h3m0 0h3m0 0h3m-29 1h3m-2 0h3m-2 0h3m0 0h3m-2 0h3m0 0h3m-2 0h3m-1 0h3m-1 0h3m-2 0h3m1 0h3m7 0h3m-1 0h3m-44 1h3m1 0h3m1 0h3m-1 0h3m1 0h3m2 0h3m1 0h3m6 0h3m-45 1h3m9 0h3m-2 0h3m-2 0h3m2 0h3m-1 0h3m-2 0h3m-2 0h3m-2 0h3m-2 0h3m-2 0h3m-2 0h3m-1 0h3m-1 0h3m-2 0h3m-1 0h3m-1 0h3m0 0h3m-2 0h3m0 0h3m-32 1h3m-1 0h3m-1 0h3m1 0h3m1 0h3m-1 0h3m-2 0h3m-2 0h3m4 0h3m0 0h3m-1 0h3m1 0h3m5 0h3m-53 1h3m8 0h3m0 0h3m6 0h3m-2 0h3m-2 0h3m-1 0h3m-2 0h3m-2 0h3m-1 0h3m-1 0h3m-2 0h3m0 0h3m4 0h3m-1 0h3m-61 1h3m23 0h3m-2 0h3m0 0h3m1 0h3m-2 0h3m0 0h3m0 0h3m1 0h3m1 0h3m-2 0h3m3 0h3m-1 0h3m-36 1h3m2 0h3m0 0h3m0 0h3m3 0h3m16 0h3m-49 1h3m2 0h3m-1 0h3m5 0h3m-1 0h3m-1 0h3m-1 0h3m-2 0h3m-2 0h3m0 0h3m0 0h3m-1 0h3m-2 0h3m-2 0h3m10 0h3m-59 1h3m11 0h3m2 0h3m2 0h3m-1 0h3m1 0h3m0 0h3m0 0h3m1 0h3m10 0h3m-53 1h3m10 0h3m-2 0h3m-2 0h3m-2 0h3m-2 0h3m-1 0h3m-1 0h3m-2 0h3m0 0h3m-2 0h3m0 0h3m-1 0h3m0 0h3m-1 0h3m-1 0h3m0 0h3m-28 1h3m1 0h3m-2 0h3m-2 0h3m-1 0h3m-2 0h3m1 0h3m2 0h3m-2 0h3m6 0h3m-1 0h3m-35 1h3m2 0h3m3 0h3m-2 0h3m-1 0h3m2 0h3m0 0h3m1 0h3m-1 0h3m-1 0h3m0 0h3m-44 1h3m8 0h3m1 0h3m-1 0h3m1 0h3m0 0h3m-1 0h3m-1 0h3m-2 0h3m1 0h3m-1 0h3m-1 0h3m-47 1h3m9 0h3m-1 0h3m7 0h3m0 0h3m-1 0h3m-1 0h3m0 0h3m-2 0h3m1 0h3m1 0h3m-2 0h3m7 0h3m-40 1h3m0 0h3m1 0h3m-2 0h3m-2 0h3m-2 0h3m1 0h3m-1 0h3m-1 0h3m2 0h3m-41 1h3m11 0h3m-1 0h3m-2 0h3m2 0h3m-2 0h3m-2 0h3m0 0h3m2 0h3m-2 0h3m2 0h3m0 0h3m-2 0h3m8 0h3m-40 1h3m0 0h3m-2 0h3m-1 0h3m-2 0h3m-1 0h3m0 0h3m1 0h3m2 0h3m-1 0h3m-2 0h3m-1 0h3m-2 0h3m-33 1h3m8 0h3m-1 0h3m1 0h3m3 0h3m-2 0h3m-2 0h3m1 0h3m15 0h3m-52 1h3m0 0h3m2 0h3m-1 0h3m0 0h3m-2 0h3m-2 0h3m-2 0h3m-2 0h3m0 0h3m1 0h3m4 0h3m5 0h3m-39 1h3m5 0h3m-1 0h3m-1 0h3m-14 1h3m8 0h3m-1 0h3m0 0h3m-2 0h3m-1 0h3m-1 0h3m-1 0h3m-2 0h3m-35 1h3m8 0h3m1 0h3m-2 0h3m1 0h3m-1 0h3m-2 0h3m-2 0h3m2 0h3m-25 1h3m-2 0h3m-2 0h3m-2 0h3m1 0h3m3 0h3m-1 0h3m4 0h3m-1 0h3m4 0h3m-26 1h3m-1 0h3m-2 0h3m-2 0h3m-2 0h3m2 0h3m-2 0h3m5 0h3m9 0h3m-47 1h3m17 0h3m-1 0h3m-2 0h3m-2 0h3m-2 0h3m-1 0h3m-1 0h3m-29 1h3m-2 0h3m1 0h3m-2 0h3m2 0h3m0 0h3m-1 0h3m0 0h3m0 0h3m0 0h3m-1 0h3m-1 0h3m-32 1h3m2 0h3m7 0h3m-2 0h3m2 0h3m3 0h3m1 0h3m-22 1h3m1 0h3m-2 0h3m4 0h3m1 0h3m4 0h3m-34 1h3m-2 0h3m3 0h3m1 0h3m-2 0h3m0 0h3m2 0h3m5 0h3m-2 0h3m11 0h3m-56 1h3m-2 0h3m6 0h3m0 0h3m-2 0h3m5 0h3m0 0h3m5 0h3m-31 1h3m4 0h3m4 0h3m0 0h3m2 0h3m3 0h3m-2 0h3m-2 0h3m-41 1h3m7 0h3m1 0h3m-1 0h3m-1 0h3m-1 0h3m6 0h3m-2 0h3m-2 0h3m-2 0h3m8 0h3m2 0h3m-45 1h3m8 0h3m0 0h3m-2 0h3m0 0h3m-2 0h3m-1 0h3m0 0h3m1 0h3m4 0h3m-2 0h3m-34 1h3m-2 0h3m0 0h3m5 0h3m3 0h3m-1 0h3m-2 0h3m6 0h3m3 0h3m-47 1h3m3 0h3m1 0h3m4 0h3m0 0h3m-1 0h3m1 0h3m-1 0h3m-22 1h3m-2 0h3m0 0h3m1 0h3m3 0h3m8 0h3m-34 1h3m4 0h3m-1 0h3m8 0h3m5 0h3m4 0h3m-32 1h3m1 0h3m2 0h3m2 0h3m-2 0h3m0 0h3m5 0h3m-2 0h3m4 0h3m-35 1h3m7 0h3m7 0h3m-2 0h3m1 0h3m-28 1h3m3 0h3m-2 0h3m4 0h3m-1 0h3m-28 1h3m1 0h3m0 0h3m5 0h3m12 0h3m-31 1h3m11 0h3m3 0h3m0 0h3m0 0h3m-24 1h3m10 0h3m3 0h3m5 0h3m-27 1h3m0 0h3m0 1h3m23 0h3m-26 1h3m1 0h3m7 0h3m2 0h3m2 1h3m-2 0h3m-39 1h3m3 0h3m4 0h3m9 0h3m2 0h3m-42 1h3m5 0h3m-2 0h3m1 0h3m4 0h3m6 0h3m-22 1h3m8 1h3m-17 1h3m5 0h3m-2 0h3m10 0h3m-31 1h3m6 0h3m12 0h3m3 0h3m-25 1h3m12 0h3m0 0h3m-1 0h3m-7 1h3m5 1h3m-29 1h3m8 0h3m1 0h3m3 0h3m8 0h3m-34 1h3m16 0h3m12 0h3m-38 1h3m9 0h3m-2 0h3m12 0h3m0 0h3m8 0h3m-29 1h3m11 0h3m-19 1h3m-10 1h3m-31 1h3m24 0h3m6 0h3m1 0h3m2 0h3m5 1h3" stroke="#1010e0" stroke-width="3" opacity="0.9" fill="none"/>
<path d="M151.5 64 L161.5 64 L159 80 L157 90.5 L155 90.5 L152.5 78 Z" fill="#1414dd" filter="url(#b06)"/>
<rect x="120.80" y="46.50" width="26.80" height="18.70" fill="none" stroke="#555" stroke-width="0.9" />
<rect x="149.60" y="61.60" width="15.90" height="30.00" fill="none" stroke="#555" stroke-width="0.9" />
<text x="134.50" y="58.22" font-size="6.2" fill="#1a4a1a" text-anchor="middle" stroke="#1a4a1a" stroke-width="0.1">P2</text>
<text x="124.50" y="44.52" font-size="9" fill="#c8303a" text-anchor="start">5</text>
<text x="166.00" y="90.72" font-size="9" fill="#c8303a" text-anchor="start">61</text>
<rect x="119.80" y="29.20" width="56.80" height="62.90" fill="none" stroke="#1a1a1a" stroke-width="1.7" />
<path d="M117.40 30.20h1.6M117.40 32.74h1.6M117.40 35.27h1.6M117.40 37.81h1.6M117.40 40.35h1.6M117.40 42.89h1.6M117.40 45.42h1.6M117.40 47.96h1.6M117.40 50.50h1.6M117.40 53.04h1.6M117.40 55.57h1.6M117.40 58.11h1.6M117.40 60.65h1.6M117.40 63.19h1.6M117.40 65.72h1.6M117.40 68.26h1.6M117.40 70.80h1.6M117.40 73.34h1.6M117.40 75.87h1.6M117.40 78.41h1.6M117.40 80.95h1.6M117.40 83.49h1.6M117.40 86.02h1.6M117.40 88.56h1.6M117.40 91.10h1.6" stroke="#000" stroke-width="0.6"/>
<path d="M120.80 92.90v1.6M123.08 92.90v1.6M125.37 92.90v1.6M127.65 92.90v1.6M129.93 92.90v1.6M132.22 92.90v1.6M134.50 92.90v1.6M136.78 92.90v1.6M139.07 92.90v1.6M141.35 92.90v1.6M143.63 92.90v1.6M145.92 92.90v1.6M148.20 92.90v1.6M150.48 92.90v1.6M152.77 92.90v1.6M155.05 92.90v1.6M157.33 92.90v1.6M159.62 92.90v1.6M161.90 92.90v1.6M164.18 92.90v1.6M166.47 92.90v1.6M168.75 92.90v1.6M171.03 92.90v1.6M173.32 92.90v1.6M175.60 92.90v1.6" stroke="#000" stroke-width="0.6"/>
<line x1="116.50" y1="34.40" x2="119.00" y2="34.40" stroke="#000" stroke-width="1.2" />
<line x1="116.50" y1="48.80" x2="119.00" y2="48.80" stroke="#000" stroke-width="1.2" />
<line x1="116.50" y1="63.20" x2="119.00" y2="63.20" stroke="#000" stroke-width="1.2" />
<line x1="116.50" y1="78.20" x2="119.00" y2="78.20" stroke="#000" stroke-width="1.2" />
<line x1="116.50" y1="82.80" x2="119.00" y2="82.80" stroke="#000" stroke-width="1.2" />
<text x="110.30" y="36.48" font-size="5.8" fill="#1e1e1e" text-anchor="middle">10<tspan font-size="3.48" dy="-2.32">5</tspan></text>
<text x="110.30" y="50.88" font-size="5.8" fill="#1e1e1e" text-anchor="middle">10<tspan font-size="3.48" dy="-2.32">4</tspan></text>
<text x="110.30" y="65.28" font-size="5.8" fill="#1e1e1e" text-anchor="middle">10<tspan font-size="3.48" dy="-2.32">3</tspan></text>
<text x="110.30" y="80.28" font-size="5.8" fill="#1e1e1e" text-anchor="middle">10<tspan font-size="3.48" dy="-2.32">2</tspan></text>
<text x="114.50" y="85.38" font-size="5.8" fill="#1e1e1e" text-anchor="end" stroke="#1e1e1e" stroke-width="0.1">0</text>
<text x="114.40" y="93.40" font-size="5.3" fill="#1e1e1e" text-anchor="end" stroke="#1e1e1e" stroke-width="0.1">-180</text>
<line x1="128.50" y1="92.90" x2="128.50" y2="95.40" stroke="#000" stroke-width="1.2" />
<line x1="143.40" y1="92.90" x2="143.40" y2="95.40" stroke="#000" stroke-width="1.2" />
<line x1="157.70" y1="92.90" x2="157.70" y2="95.40" stroke="#000" stroke-width="1.2" />
<line x1="170.00" y1="92.90" x2="170.00" y2="95.40" stroke="#000" stroke-width="1.2" />
<text x="128.50" y="103.08" font-size="5.8" fill="#1e1e1e" text-anchor="middle" stroke="#1e1e1e" stroke-width="0.1">0</text>
<text x="143.40" y="103.08" font-size="5.8" fill="#1e1e1e" text-anchor="middle">10<tspan font-size="3.48" dy="-2.32">3</tspan></text>
<text x="157.70" y="103.08" font-size="5.8" fill="#1e1e1e" text-anchor="middle">10<tspan font-size="3.48" dy="-2.32">4</tspan></text>
<text x="170.00" y="103.08" font-size="5.8" fill="#1e1e1e" text-anchor="middle">10<tspan font-size="3.48" dy="-2.32">5</tspan></text>
<text x="124.60" y="108.30" font-size="5.3" fill="#1e1e1e" text-anchor="end" stroke="#1e1e1e" stroke-width="0.1">-384</text>
<text x="125.80" y="113.78" font-size="7.2" fill="#141414" text-anchor="start" textLength="42" lengthAdjust="spacingAndGlyphs" stroke="#141414" stroke-width="0.18">mCD45 APC-Cy7-A</text>
<text transform="translate(102.50,60.00) rotate(-90)" x="0" y="2.58" font-size="7.2" fill="#141414" text-anchor="middle" textLength="54" lengthAdjust="spacingAndGlyphs" stroke="#141414" stroke-width="0.18">hCD45 PerCP-Cy5-5-A</text>
<path transform="scale(0.25)" d="M886 125.5h3m-28 2h3m16 4h3m4 0h3m-39 1h3m39 0h3m-64 2h3m7 0h3m8 0h3m35 1h3m-37 2h3m22 0h3m-6 1h3m-36 2h3m15 0h3m-14 1h3m20 3h3m-18 1h3m2 1h3m25 0h3m-39 2h3m-14 1h3m26 0h3m2 1h3m-23 1h3m29 0h3m-41 1h3m21 0h3m-27 1h3m3 0h3m6 0h3m37 0h3m-50 1h3m1 0h3m-20 1h3m50 0h3m-45 1h3m5 0h3m28 0h3m-61 1h3m25 0h3m2 1h3m0 0h3m12 0h3m-27 1h3m-32 1h3m14 0h3m10 0h3m-33 1h3m20 1h3m-28 1h3m0 0h3m16 0h3m21 0h3m-36 1h3m7 0h3m-27 1h3m45 0h3m-1 0h3m-24 1h3m-22 1h3m27 0h3m-29 1h3m6 0h3m9 0h3m8 0h3m9 0h3m-35 1h3m-24 1h3m1 0h3m3 0h3m6 0h3m7 0h3m-2 0h3m5 0h3m5 0h3m-31 1h3m2 0h3m-2 0h3m-39 2h3m17 0h3m2 0h3m19 0h3m-27 1h3m9 0h3m-14 1h3m15 0h3m-7 1h3m5 0h3m-24 1h3m2 0h3m-7 1h3m2 0h3m4 0h3m-1 0h3m-21 1h3m7 0h3m1 0h3m0 0h3m11 0h3m-2 0h3m-63 2h3m16 0h3m11 0h3m7 0h3m-32 1h3m23 0h3m6 0h3m-1 0h3m12 0h3m-60 1h3m14 0h3m3 0h3m-1 0h3m1 0h3m-1 0h3m-33 1h3m13 0h3m7 0h3m6 0h3m2 0h3m2 0h3m-15 1h3m0 0h3m4 0h3m12 0h3m12 0h3m-55 1h3m0 0h3m7 0h3m8 0h3m10 0h3m-42 1h3m22 0h3m14 0h3m-58 1h3m8 0h3m2 0h3m-1 0h3m-2 0h3m0 0h3m0 0h3m0 0h3m-1 0h3m14 0h3m1 0h3m-38 1h3m4 0h3m25 0h3m12 0h3m-39 1h3m-47 1h3m10 0h3m0 0h3m11 0h3m5 0h3m-1 0h3m7 0h3m2 0h3m1 0h3m-35 1h3m4 0h3m5 0h3m-33 1h3m19 0h3m0 0h3m5 0h3m0 0h3m3 0h3m1 0h3m19 0h3m-72 1h3m-2 0h3m-1 0h3m9 0h3m-2 0h3m-2 0h3m2 0h3m-1 0h3m-2 0h3m1 0h3m7 0h3m-2 0h3m-58 1h3m25 0h3m2 0h3m-2 0h3m7 0h3m3 0h3m1 0h3m12 0h3m-53 1h3m6 0h3m3 0h3m-27 1h3m14 0h3m7 0h3m1 0h3m-2 0h3m6 0h3m28 0h3m-64 1h3m-1 0h3m6 0h3m9 0h3m3 0h3m9 0h3m-46 1h3m7 0h3m5 0h3m-1 0h3m3 0h3m10 0h3m-2 0h3m-2 0h3m0 0h3m-1 0h3m11 0h3m-76 1h3m24 0h3m5 0h3m8 0h3m9 0h3m1 0h3m-38 1h3m-2 0h3m2 0h3m3 0h3m2 0h3m4 0h3m2 0h3m8 0h3m-51 1h3m4 0h3m1 0h3m-2 0h3m-1 0h3m-2 0h3m-2 0h3m3 0h3m4 0h3m-1 0h3m0 0h3m-49 1h3m14 0h3m0 0h3m-2 0h3m5 0h3m3 0h3m-1 0h3m0 0h3m3 0h3m1 0h3m-47 1h3m12 0h3m0 0h3m1 0h3m9 0h3m7 0h3m1 0h3m2 0h3m27 0h3m-87 1h3m0 0h3m8 0h3m5 0h3m2 0h3m3 0h3m3 0h3m9 0h3m0 0h3m-48 1h3m5 0h3m8 0h3m6 0h3m-32 1h3m6 0h3m1 0h3m5 0h3m6 0h3m-25 1h3m2 0h3m-1 0h3m3 0h3m-1 0h3m1 0h3m3 0h3m-1 0h3m0 0h3m17 0h3m-54 1h3m2 0h3m-1 0h3m-1 0h3m8 0h3m-1 0h3m4 0h3m-53 1h3m1 0h3m5 0h3m-2 0h3m11 0h3m-2 0h3m6 0h3m4 0h3m3 0h3m0 0h3m34 0h3m-93 1h3m11 0h3m7 0h3m0 0h3m3 0h3m-1 0h3m-2 0h3m-1 0h3m1 0h3m4 0h3m-41 1h3m-2 0h3m1 0h3m8 0h3m9 0h3m-1 0h3m12 0h3m-43 1h3m0 0h3m1 0h3m13 0h3m23 0h3m7 0h3m-77 1h3m4 0h3m1 0h3m0 0h3m4 0h3m-2 0h3m8 0h3m5 0h3m7 0h3m24 0h3m-59 1h3m11 0h3m1 0h3m-1 0h3m5 0h3m-1 0h3m2 0h3m-74 1h3m14 0h3m10 0h3m0 0h3m2 0h3m-2 0h3m9 0h3m-2 0h3m9 0h3m18 0h3m-69 1h3m-1 0h3m-1 0h3m0 0h3m1 0h3m-1 0h3m9 0h3m5 0h3m0 0h3m-2 0h3m13 0h3m0 0h3m-54 1h3m0 0h3m1 0h3m0 0h3m0 0h3m-1 0h3m-2 0h3m3 0h3m-2 0h3m3 0h3m2 0h3m-46 1h3m-2 0h3m5 0h3m3 0h3m3 0h3m0 0h3m-1 0h3m-2 0h3m1 0h3m4 0h3m-2 0h3m14 0h3m7 0h3m-53 1h3m1 0h3m9 0h3m-2 0h3m13 0h3m-52 1h3m12 0h3m7 0h3m12 0h3m0 0h3m0 0h3m-46 1h3m4 0h3m0 0h3m2 0h3m-1 0h3m1 0h3m2 0h3m4 0h3m4 0h3m8 0h3m-2 0h3m-61 1h3m25 0h3m2 0h3m-1 0h3m2 0h3m1 0h3m9 0h3m-59 1h3m7 0h3m7 0h3m0 0h3m4 0h3m-2 0h3m6 0h3m24 0h3m-71 1h3m0 0h3m20 0h3m3 0h3m0 0h3m4 0h3m2 0h3m-2 0h3m-1 0h3m1 0h3m12 0h3m-77 1h3m-1 0h3m4 0h3m12 0h3m-2 0h3m0 0h3m3 0h3m3 0h3m1 0h3m-2 0h3m-1 0h3m1 0h3m-1 0h3m13 0h3m-61 1h3m-2 0h3m11 0h3m-1 0h3m8 0h3m-2 0h3m-1 0h3m1 0h3m3 0h3m0 0h3m1 0h3m7 0h3m3 0h3m-70 1h3m9 0h3m-2 0h3m-2 0h3m2 0h3m3 0h3m1 0h3m0 0h3m-2 0h3m-1 0h3m3 0h3m-1 0h3m-1 0h3m1 0h3m8 0h3m-1 0h3m-69 1h3m1 0h3m13 0h3m1 0h3m1 0h3m-1 0h3m3 0h3m2 0h3m14 0h3m-56 1h3m0 0h3m14 0h3m-2 0h3m-2 0h3m2 0h3m11 0h3m2 0h3m-53 1h3m6 0h3m3 0h3m0 0h3m4 0h3m4 0h3m-2 0h3m11 0h3m0 0h3m-55 1h3m12 0h3m-2 0h3m5 0h3m-2 0h3m-2 0h3m9 0h3m-2 0h3m1 0h3m8 0h3m13 0h3m6 0h3m-2 0h3m-75 1h3m12 0h3m-2 0h3m-2 0h3m-2 0h3m-1 0h3m-1 0h3m9 0h3m7 0h3m12 0h3m8 0h3m-70 1h3m15 0h3m-2 0h3m-1 0h3m2 0h3m-1 0h3m13 0h3m-39 1h3m-1 0h3m6 0h3m-1 0h3m2 0h3m3 0h3m-2 0h3m-19 1h3m-1 0h3m2 0h3m3 0h3m8 0h3m-1 0h3m-29 1h3m6 0h3m0 0h3m-2 0h3m1 0h3m-2 0h3m1 0h3m10 0h3m-52 1h3m2 0h3m2 0h3m25 0h3m14 0h3m-61 1h3m-1 0h3m3 0h3m-1 0h3m0 0h3m0 0h3m-1 0h3m10 0h3m3 0h3m-1 0h3m-2 0h3m26 0h3m-67 1h3m3 0h3m8 0h3m7 0h3m16 0h3m6 0h3m4 0h3m-79 1h3m4 0h3m1 0h3m1 0h3m0 0h3m0 0h3m0 0h3m9 0h3m1 0h3m3 0h3m5 0h3m-1 0h3m-2 0h3m-68 1h3m6 0h3m13 0h3m3 0h3m-1 0h3m0 0h3m-2 0h3m7 0h3m1 0h3m-33 1h3m8 0h3m-1 0h3m2 0h3m3 0h3m11 0h3m1 0h3m-43 1h3m3 0h3m-1 0h3m4 0h3m0 0h3m-2 0h3m-35 1h3m9 0h3m1 0h3m9 0h3m-2 0h3m14 0h3m0 0h3m0 0h3m0 0h3m-51 1h3m11 0h3m-1 0h3m2 0h3m-2 0h3m0 0h3m1 0h3m-1 0h3m0 0h3m-2 0h3m0 0h3m-1 0h3m3 0h3m4 0h3m-57 1h3m6 0h3m2 0h3m3 0h3m1 0h3m12 0h3m-2 0h3m4 0h3m-50 1h3m2 0h3m0 0h3m21 0h3m46 0h3m-87 1h3m11 0h3m2 0h3m3 0h3m1 0h3m-1 0h3m2 0h3m-2 0h3m-1 0h3m-28 1h3m1 0h3m8 0h3m3 0h3m1 0h3m4 0h3m-21 1h3m1 0h3m2 0h3m5 0h3m-1 0h3m3 0h3m-54 1h3m-1 0h3m-1 0h3m9 0h3m6 0h3m14 0h3m-32 1h3m-2 0h3m7 0h3m-2 0h3m2 0h3m8 0h3m6 0h3m-1 0h3m11 0h3m-68 1h3m13 0h3m5 0h3m1 0h3m15 0h3m-2 0h3m-1 0h3m-64 1h3m1 0h3m4 0h3m24 0h3m4 0h3m2 0h3m2 0h3m-23 1h3m6 0h3m2 0h3m19 0h3m-76 1h3m13 0h3m0 0h3m-1 0h3m0 0h3m-2 0h3m9 0h3m5 0h3m10 0h3m27 0h3m-73 1h3m0 0h3m1 0h3m12 0h3m0 0h3m7 0h3m-2 0h3m-2 0h3m0 0h3m0 0h3m-59 1h3m7 0h3m5 0h3m4 0h3m11 0h3m10 0h3m-1 0h3m-2 0h3m-43 1h3m1 0h3m0 0h3m10 0h3m-2 0h3m4 0h3m2 0h3m12 0h3m-2 0h3m-36 1h3m2 0h3m-42 1h3m14 0h3m-1 0h3m4 0h3m3 0h3m-1 0h3m6 0h3m-1 0h3m10 0h3m10 0h3m-72 1h3m9 0h3m4 0h3m0 0h3m7 0h3m0 0h3m-2 0h3m-2 0h3m-2 0h3m5 0h3m-35 1h3m6 0h3m8 0h3m-2 0h3m-1 0h3m1 0h3m3 0h3m-1 0h3m10 0h3m-49 1h3m1 0h3m13 0h3m-2 0h3m-2 0h3m-2 0h3m-2 0h3m3 0h3m-1 0h3m0 0h3m-2 0h3m8 0h3m-60 1h3m10 0h3m12 0h3m1 0h3m4 0h3m0 0h3m-44 1h3m11 0h3m0 0h3m4 0h3m8 0h3m16 0h3m1 0h3m-49 1h3m4 0h3m-1 0h3m6 0h3m-19 1h3m-1 0h3m-1 0h3m4 1h3m0 0h3m2 0h3m0 0h3m-31 1h3m-2 0h3m5 0h3m16 0h3m-2 0h3m-1 0h3m-2 0h3m-41 1h3m18 0h3m-1 0h3m12 0h3m2 0h3m-1 0h3m2 0h3m-2 0h3m0 0h3m-56 1h3m18 0h3m24 0h3m-60 1h3m9 0h3m-2 0h3m4 0h3m7 0h3m19 0h3m9 1h3m-28 1h3m-1 0h3m0 0h3m-2 0h3m15 0h3m-56 1h3m11 0h3m7 0h3m-2 0h3m-1 0h3m-1 0h3m-1 0h3m2 0h3m9 0h3m-2 0h3m0 0h3m3 0h3m-58 1h3m4 0h3m12 0h3m8 0h3m3 0h3m-43 1h3m6 0h3m1 0h3m0 0h3m11 0h3m2 0h3m-30 1h3m10 0h3m11 0h3m5 0h3m-41 1h3m1 0h3m3 0h3m1 0h3m3 0h3m10 0h3m-43 1h3m-2 0h3m3 0h3m11 0h3m-2 0h3m4 0h3m2 0h3m-36 1h3m26 0h3m-1 0h3m19 0h3m-52 1h3m3 0h3m-1 0h3m7 0h3m1 0h3m4 0h3m11 0h3m-56 1h3m12 0h3m-2 0h3m19 0h3m-10 1h3m2 0h3m-2 0h3m-2 0h3m9 0h3m2 0h3m-51 1h3m-2 0h3m17 0h3m-31 1h3m31 0h3m12 0h3m-56 1h3m23 0h3m5 0h3m20 0h3m-46 1h3m10 0h3m5 0h3m-2 0h3m2 0h3m0 0h3m-48 1h3m21 0h3m5 0h3m7 0h3m-2 0h3m2 0h3m0 0h3m2 0h3m15 0h3m-62 1h3m23 0h3m-45 1h3m6 0h3m2 0h3m6 0h3m-1 1h3m5 0h3m0 0h3m-1 0h3m-19 1h3m8 0h3m14 0h3m-53 1h3m22 0h3m7 0h3m23 0h3m8 0h3m-40 1h3m4 0h3m-18 1h3m0 0h3m4 0h3m0 0h3m14 0h3m-46 1h3m16 0h3m-1 0h3m8 0h3m8 0h3m-15 1h3m-26 1h3m26 0h3m14 0h3m-1 1h3m-55 1h3m3 0h3m2 0h3m14 0h3m18 0h3m-52 1h3m16 0h3m5 0h3m-51 1h3m24 0h3m8 0h3m3 0h3m9 0h3m-41 1h3m13 0h3m2 0h3m4 0h3m-44 1h3m26 0h3m6 0h3m-12 1h3m2 0h3m2 0h3m-48 1h3m17 0h3m-1 1h3m7 0h3m19 0h3m4 0h3m-13 1h3m-34 2h3m6 1h3m8 0h3m35 0h3m-76 1h3m25 0h3m8 0h3m-35 2h3m34 1h3m-20 1h3m23 0h3m-17 1h3m-45 1h3m19 0h3m-12 3h3m3 0h3m24 3h3m5 0h3m-40 1h3m21 0h3m-18 1h3m12 0h3m16 1h3m-12 3h3m-42 2h3m1 3h3m17 4h3m-6 1h3m-11 1h3m31 2h3m28 2h3m-48 1h3m-40 5h3" stroke="#40d040" stroke-width="3" opacity="0.5" fill="none"/>
<path transform="scale(0.25)" d="M859 196.5h3m18 3h3m-20 7h3m14 1h3m-17 2h3m7 2h3m10 0h3m-24 2h3m6 2h3m-15 1h3m7 2h3m-32 1h3m-1 0h3m40 0h3m-27 1h3m-4 1h3m17 0h3m-55 1h3m15 0h3m34 0h3m-38 1h3m14 0h3m-1 0h3m-27 1h3m30 1h3m1 0h3m-29 1h3m0 0h3m6 0h3m-21 1h3m12 0h3m12 0h3m-26 1h3m-1 0h3m15 0h3m-41 1h3m1 0h3m15 0h3m18 0h3m-13 1h3m2 0h3m6 0h3m-46 1h3m3 0h3m12 0h3m-1 0h3m-21 1h3m8 0h3m21 0h3m-37 1h3m1 0h3m4 0h3m19 0h3m1 0h3m-43 1h3m3 0h3m4 0h3m-2 0h3m7 0h3m-17 2h3m-2 0h3m3 0h3m4 0h3m-33 1h3m6 0h3m0 0h3m18 0h3m4 0h3m-36 1h3m2 0h3m-2 0h3m8 0h3m8 0h3m-21 1h3m-2 0h3m-20 1h3m17 0h3m3 0h3m1 0h3m-2 0h3m0 0h3m-1 0h3m-42 1h3m16 0h3m2 0h3m-1 0h3m-2 0h3m1 0h3m-2 0h3m-21 1h3m12 0h3m0 0h3m-1 0h3m0 0h3m7 0h3m-44 1h3m26 0h3m1 0h3m-31 1h3m-1 0h3m4 0h3m-2 0h3m5 0h3m0 0h3m-26 1h3m-1 0h3m-2 0h3m0 0h3m-2 0h3m8 0h3m13 0h3m-34 1h3m-1 0h3m-2 0h3m12 0h3m1 0h3m6 0h3m-2 0h3m-34 1h3m1 0h3m-2 0h3m-2 0h3m5 0h3m-14 1h3m-2 0h3m2 0h3m2 0h3m-1 0h3m-1 0h3m-1 0h3m-1 0h3m-34 1h3m2 0h3m0 0h3m5 0h3m0 0h3m-2 0h3m4 0h3m2 0h3m-1 0h3m-28 1h3m2 0h3m0 0h3m-1 0h3m-1 0h3m-2 0h3m1 0h3m1 0h3m2 0h3m-35 1h3m-2 0h3m5 0h3m-2 0h3m-2 0h3m-2 0h3m0 0h3m-1 0h3m2 0h3m-1 0h3m0 0h3m-2 0h3m12 0h3m-50 1h3m1 0h3m-1 0h3m-2 0h3m0 0h3m3 0h3m2 0h3m3 0h3m3 0h3m-33 1h3m3 0h3m-1 0h3m-2 0h3m-2 0h3m0 0h3m-2 0h3m0 0h3m0 0h3m-32 1h3m5 0h3m8 0h3m2 0h3m4 0h3m-1 0h3m-2 0h3m-2 0h3m8 0h3m-33 1h3m-1 0h3m1 0h3m-2 0h3m-1 0h3m13 0h3m-51 1h3m25 0h3m-2 0h3m-1 0h3m-1 0h3m1 0h3m9 0h3m0 0h3m-41 1h3m2 0h3m-2 0h3m4 0h3m-2 0h3m-2 0h3m2 0h3m0 0h3m0 0h3m4 0h3m-37 1h3m5 0h3m-2 0h3m7 0h3m0 0h3m-2 0h3m-2 0h3m-1 0h3m-1 0h3m-28 1h3m2 0h3m4 0h3m5 0h3m1 0h3m1 0h3m-32 1h3m0 0h3m-2 0h3m-1 0h3m2 0h3m-2 0h3m5 0h3m1 0h3m4 0h3m21 0h3m-68 1h3m7 0h3m4 0h3m-1 0h3m9 0h3m-2 0h3m-2 0h3m0 0h3m3 0h3m1 0h3m0 0h3m5 0h3m-46 1h3m2 0h3m3 0h3m-2 0h3m5 0h3m6 0h3m-44 1h3m16 0h3m2 0h3m-1 0h3m2 0h3m1 0h3m-2 0h3m-22 1h3m2 0h3m0 0h3m-1 0h3m-2 0h3m-2 0h3m1 0h3m7 0h3m-23 1h3m-2 0h3m-2 0h3m-1 0h3m4 0h3m1 0h3m2 0h3m-36 1h3m6 0h3m1 0h3m-2 0h3m2 0h3m0 0h3m-2 0h3m7 0h3m-1 0h3m-39 1h3m3 0h3m-2 0h3m-1 0h3m-2 0h3m4 0h3m7 0h3m1 0h3m-1 0h3m-35 1h3m0 0h3m1 0h3m-2 0h3m0 0h3m4 0h3m-2 0h3m2 0h3m1 0h3m-27 1h3m0 0h3m1 0h3m-2 0h3m0 0h3m-1 0h3m-2 0h3m-1 0h3m0 0h3m-1 0h3m3 0h3m-1 0h3m-35 1h3m2 0h3m-2 0h3m-1 0h3m-2 0h3m1 0h3m1 0h3m2 0h3m-2 0h3m-1 0h3m1 0h3m-2 0h3m-2 0h3m-28 1h3m2 0h3m-2 0h3m0 0h3m3 0h3m-10 1h3m-1 0h3m6 0h3m7 0h3m-31 1h3m0 0h3m4 0h3m1 0h3m7 0h3m-2 0h3m-29 1h3m5 0h3m-31 1h3m8 0h3m6 0h3m-1 0h3m3 0h3m8 0h3m0 0h3m14 0h3m-21 1h3m0 0h3m-38 1h3m-1 0h3m0 0h3m4 0h3m0 0h3m1 0h3m-2 0h3m5 0h3m-2 0h3m-2 0h3m-2 0h3m2 0h3m-2 0h3m-2 0h3m-31 1h3m2 0h3m11 0h3m-32 1h3m13 0h3m4 0h3m7 0h3m0 0h3m-1 0h3m-28 1h3m0 0h3m7 0h3m1 0h3m-29 1h3m2 0h3m16 0h3m3 0h3m-28 1h3m8 0h3m3 0h3m0 0h3m2 0h3m-33 1h3m0 0h3m7 0h3m2 0h3m3 0h3m-1 0h3m-15 1h3m-2 0h3m-2 0h3m3 0h3m4 0h3m6 0h3m-39 1h3m-1 0h3m1 0h3m1 0h3m4 0h3m6 0h3m-20 1h3m0 0h3m0 0h3m4 0h3m-2 0h3m10 0h3m-44 1h3m12 0h3m-1 0h3m1 0h3m0 0h3m13 0h3m-55 1h3m13 1h3m12 0h3m9 0h3m0 0h3m-29 1h3m4 0h3m9 0h3m2 0h3m-23 1h3m14 0h3m-1 0h3m-1 0h3m-32 1h3m1 0h3m24 0h3m-30 1h3m-2 0h3m-3 1h3m-6 1h3m7 0h3m3 0h3m2 0h3m-23 2h3m5 0h3m-8 1h3m2 1h3m18 2h3m-23 1h3m-14 1h3m22 0h3m0 0h3m-15 3h3m-29 2h3m28 2h3m-26 3h3m5 0h3m9 2h3" stroke="#20e020" stroke-width="3" opacity="0.75" fill="none"/>
<path transform="scale(0.25)" d="M927 190.5h3m9 11h3m-7 2h3m-15 3h3m20 2h3m0 0h3m-11 1h3m20 1h3m10 0h3m-29 1h3m-11 3h3m10 1h3m-28 3h3m20 2h3m-4 1h3m0 0h3m10 1h3m-10 1h3m-17 3h3m11 1h3m-2 1h3m5 2h3m-16 4h3m1 1h3m-31 1h3m-2 1h3m3 3h3m-1 2h3m13 2h3m6 22h3" stroke="#40c040" stroke-width="3" opacity="0.5" fill="none"/>
<rect x="204.30" y="29.20" width="56.20" height="62.90" fill="none" stroke="#1a1a1a" stroke-width="1.7" />
<line x1="226.00" y1="29.20" x2="226.00" y2="92.10" stroke="#1a1a1a" stroke-width="1.7" />
<line x1="204.30" y1="71.50" x2="226.00" y2="71.50" stroke="#1a1a1a" stroke-width="1.7" />
<line x1="226.00" y1="65.00" x2="260.50" y2="65.00" stroke="#1a1a1a" stroke-width="1.7" />
<path d="M201.90 30.20h1.6M201.90 32.74h1.6M201.90 35.27h1.6M201.90 37.81h1.6M201.90 40.35h1.6M201.90 42.89h1.6M201.90 45.42h1.6M201.90 47.96h1.6M201.90 50.50h1.6M201.90 53.04h1.6M201.90 55.57h1.6M201.90 58.11h1.6M201.90 60.65h1.6M201.90 63.19h1.6M201.90 65.72h1.6M201.90 68.26h1.6M201.90 70.80h1.6M201.90 73.34h1.6M201.90 75.87h1.6M201.90 78.41h1.6M201.90 80.95h1.6M201.90 83.49h1.6M201.90 86.02h1.6M201.90 88.56h1.6M201.90 91.10h1.6" stroke="#000" stroke-width="0.6"/>
<path d="M205.30 92.90v1.6M207.56 92.90v1.6M209.82 92.90v1.6M212.08 92.90v1.6M214.33 92.90v1.6M216.59 92.90v1.6M218.85 92.90v1.6M221.11 92.90v1.6M223.37 92.90v1.6M225.62 92.90v1.6M227.88 92.90v1.6M230.14 92.90v1.6M232.40 92.90v1.6M234.66 92.90v1.6M236.92 92.90v1.6M239.18 92.90v1.6M241.43 92.90v1.6M243.69 92.90v1.6M245.95 92.90v1.6M248.21 92.90v1.6M250.47 92.90v1.6M252.72 92.90v1.6M254.98 92.90v1.6M257.24 92.90v1.6M259.50 92.90v1.6" stroke="#000" stroke-width="0.6"/>
<text x="211.80" y="62.95" font-size="6" fill="#1e1e1e" text-anchor="middle" stroke="#1e1e1e" stroke-width="0.15">Q1</text>
<text x="240.10" y="55.95" font-size="6" fill="#1e1e1e" text-anchor="middle" stroke="#1e1e1e" stroke-width="0.15">Q2</text>
<text x="212.10" y="86.35" font-size="6" fill="#1e1e1e" text-anchor="middle" stroke="#1e1e1e" stroke-width="0.15">Q3</text>
<text x="240.10" y="79.85" font-size="6" fill="#1e1e1e" text-anchor="middle" stroke="#1e1e1e" stroke-width="0.15">Q4</text>
<text x="205.80" y="44.52" font-size="9" fill="#c8303a" text-anchor="start">93</text>
<text x="251.00" y="90.72" font-size="9" fill="#c8303a" text-anchor="start">1</text>
<line x1="201.00" y1="34.80" x2="203.50" y2="34.80" stroke="#000" stroke-width="1.2" />
<line x1="201.00" y1="48.80" x2="203.50" y2="48.80" stroke="#000" stroke-width="1.2" />
<line x1="201.00" y1="66.30" x2="203.50" y2="66.30" stroke="#000" stroke-width="1.2" />
<line x1="201.00" y1="78.60" x2="203.50" y2="78.60" stroke="#000" stroke-width="1.2" />
<text x="195.50" y="36.88" font-size="5.8" fill="#1e1e1e" text-anchor="middle">10<tspan font-size="3.48" dy="-2.32">4</tspan></text>
<text x="195.50" y="50.88" font-size="5.8" fill="#1e1e1e" text-anchor="middle">10<tspan font-size="3.48" dy="-2.32">3</tspan></text>
<text x="195.50" y="68.38" font-size="5.8" fill="#1e1e1e" text-anchor="middle">10<tspan font-size="3.48" dy="-2.32">2</tspan></text>
<text x="197.50" y="80.68" font-size="5.8" fill="#1e1e1e" text-anchor="end" stroke="#1e1e1e" stroke-width="0.1">0</text>
<text x="199.50" y="93.90" font-size="5.3" fill="#1e1e1e" text-anchor="end" stroke="#1e1e1e" stroke-width="0.1">-1,288</text>
<text x="191.30" y="26.91" font-size="4.5" fill="#666" text-anchor="middle" stroke="#666" stroke-width="0.1">0</text>
<line x1="213.40" y1="92.90" x2="213.40" y2="95.40" stroke="#000" stroke-width="1.2" />
<line x1="228.50" y1="92.90" x2="228.50" y2="95.40" stroke="#000" stroke-width="1.2" />
<line x1="241.50" y1="92.90" x2="241.50" y2="95.40" stroke="#000" stroke-width="1.2" />
<line x1="254.60" y1="92.90" x2="254.60" y2="95.40" stroke="#000" stroke-width="1.2" />
<text x="213.40" y="103.08" font-size="5.8" fill="#1e1e1e" text-anchor="middle" stroke="#1e1e1e" stroke-width="0.1">0</text>
<text x="228.50" y="103.08" font-size="5.8" fill="#1e1e1e" text-anchor="middle">10<tspan font-size="3.48" dy="-2.32">3</tspan></text>
<text x="241.50" y="103.08" font-size="5.8" fill="#1e1e1e" text-anchor="middle">10<tspan font-size="3.48" dy="-2.32">4</tspan></text>
<text x="254.60" y="103.08" font-size="5.8" fill="#1e1e1e" text-anchor="middle">10<tspan font-size="3.48" dy="-2.32">5</tspan></text>
<text x="210.00" y="108.30" font-size="5.3" fill="#1e1e1e" text-anchor="end" stroke="#1e1e1e" stroke-width="0.1">-447</text>
<text x="220.50" y="113.78" font-size="7.2" fill="#141414" text-anchor="start" textLength="25" lengthAdjust="spacingAndGlyphs" stroke="#141414" stroke-width="0.18">CD19 PE-A</text>
<text transform="translate(184.10,60.20) rotate(-90)" x="0" y="2.58" font-size="7.2" fill="#141414" text-anchor="middle" textLength="48.5" lengthAdjust="spacingAndGlyphs" stroke="#141414" stroke-width="0.18">CD33 PerCP-Cy5-5-A</text>
<path transform="scale(0.25)" d="M1198 220.5h3m41 4h3m-21 5h3m-6 2h3m-18 4h3m-13 1h3m47 3h3m4 2h3m-58 1h3m20 0h3m-29 2h3m30 0h3m10 2h3m-44 1h3m16 0h3m-12 2h3m12 1h3m-44 1h3m43 0h3m-40 2h3m14 0h3m4 0h3m8 0h3m-47 2h3m5 0h3m9 0h3m15 0h3m16 0h3m-35 1h3m-27 1h3m-9 1h3m14 0h3m2 0h3m6 0h3m2 0h3m7 0h3m-24 1h3m1 0h3m37 1h3m-76 1h3m-2 0h3m28 0h3m-2 0h3m5 0h3m-46 1h3m10 0h3m16 1h3m14 0h3m-17 1h3m-2 0h3m12 0h3m-50 1h3m13 0h3m43 0h3m14 0h3m-58 1h3m5 0h3m2 0h3m0 0h3m-36 1h3m8 0h3m9 0h3m14 0h3m8 0h3m2 0h3m4 0h3m-77 1h3m13 0h3m21 0h3m-46 1h3m17 0h3m55 0h3m-90 1h3m28 0h3m7 0h3m17 0h3m-42 1h3m6 0h3m-2 0h3m29 0h3m19 0h3m-1 0h3m-69 1h3m2 0h3m11 0h3m3 0h3m22 0h3m-64 1h3m21 0h3m2 0h3m3 0h3m2 0h3m4 0h3m0 0h3m1 0h3m21 0h3m-71 1h3m15 0h3m18 0h3m1 0h3m-1 0h3m0 0h3m5 0h3m-52 1h3m-1 0h3m-1 0h3m-1 0h3m0 0h3m11 0h3m6 0h3m-2 0h3m9 0h3m3 0h3m6 0h3m-67 1h3m3 0h3m3 0h3m13 0h3m17 0h3m14 0h3m-80 1h3m14 0h3m11 0h3m-2 0h3m8 0h3m19 0h3m16 0h3m-78 1h3m7 0h3m1 0h3m17 0h3m9 0h3m-1 0h3m33 0h3m18 0h3m-121 1h3m31 0h3m12 0h3m21 0h3m12 0h3m-85 1h3m34 0h3m0 0h3m1 0h3m10 0h3m-2 0h3m-53 1h3m-1 0h3m11 0h3m9 0h3m9 0h3m1 0h3m-2 0h3m-43 1h3m11 0h3m0 0h3m13 0h3m9 0h3m19 0h3m-58 1h3m7 0h3m5 0h3m3 0h3m-40 1h3m15 0h3m-1 0h3m41 0h3m2 0h3m-71 1h3m33 0h3m12 0h3m-1 0h3m-67 1h3m18 0h3m-2 0h3m-2 0h3m0 0h3m4 0h3m-1 0h3m28 0h3m25 0h3m-78 1h3m4 0h3m1 0h3m12 0h3m1 0h3m6 0h3m4 0h3m14 0h3m-85 1h3m19 0h3m5 0h3m-1 0h3m9 0h3m2 0h3m-2 0h3m12 0h3m8 0h3m-74 1h3m3 0h3m5 0h3m22 0h3m15 0h3m0 0h3m6 0h3m-50 1h3m0 0h3m-1 0h3m12 0h3m-2 0h3m0 0h3m3 0h3m-60 1h3m21 0h3m10 0h3m5 0h3m-2 0h3m8 0h3m8 0h3m-52 1h3m20 0h3m5 0h3m0 0h3m1 0h3m-62 1h3m19 0h3m13 0h3m-1 0h3m-1 0h3m4 0h3m1 0h3m0 0h3m-1 0h3m6 0h3m-75 1h3m20 0h3m8 0h3m0 0h3m6 0h3m17 0h3m13 0h3m1 0h3m-75 1h3m-2 0h3m14 0h3m-2 0h3m2 0h3m10 0h3m13 0h3m5 0h3m2 0h3m-69 1h3m4 0h3m5 0h3m-2 0h3m-1 0h3m11 0h3m13 0h3m4 0h3m4 0h3m-73 1h3m9 0h3m13 0h3m0 0h3m4 0h3m-1 0h3m3 0h3m25 0h3m-68 1h3m0 0h3m-1 0h3m6 0h3m3 0h3m4 0h3m1 0h3m0 0h3m35 0h3m18 0h3m-109 1h3m6 0h3m-2 0h3m-2 0h3m2 0h3m0 0h3m6 0h3m11 0h3m17 0h3m7 0h3m-73 1h3m9 0h3m3 0h3m4 0h3m1 0h3m3 0h3m4 0h3m0 0h3m11 0h3m-1 0h3m8 0h3m1 0h3m0 0h3m-76 1h3m17 0h3m8 0h3m20 0h3m-59 1h3m-2 0h3m0 0h3m6 0h3m15 0h3m-1 0h3m1 0h3m11 0h3m7 0h3m18 0h3m-61 1h3m14 0h3m9 0h3m5 0h3m2 0h3m-73 1h3m15 0h3m9 0h3m9 0h3m-2 0h3m-1 0h3m14 0h3m10 0h3m-97 1h3m0 0h3m22 0h3m22 0h3m2 0h3m-2 0h3m5 0h3m4 0h3m-41 1h3m4 0h3m3 0h3m-2 0h3m-2 0h3m3 0h3m0 0h3m17 0h3m-2 0h3m-65 1h3m5 0h3m8 0h3m-1 0h3m3 0h3m3 0h3m35 0h3m-52 1h3m6 0h3m6 0h3m15 0h3m35 0h3m-99 1h3m-1 0h3m31 0h3m1 0h3m4 0h3m12 0h3m-78 1h3m40 0h3m19 0h3m0 0h3m-26 1h3m8 0h3m1 0h3m0 0h3m1 0h3m-1 0h3m-1 0h3m-1 0h3m17 0h3m-59 1h3m23 0h3m-63 1h3m10 0h3m4 0h3m6 0h3m8 0h3m-2 0h3m1 0h3m-1 0h3m5 0h3m8 0h3m6 0h3m6 0h3m-69 1h3m6 0h3m10 0h3m-2 0h3m-2 0h3m-2 0h3m12 0h3m26 0h3m-63 1h3m0 0h3m3 0h3m2 0h3m-2 0h3m13 0h3m-50 1h3m6 0h3m15 0h3m-7 1h3m7 0h3m9 0h3m8 0h3m5 0h3m33 0h3m-82 1h3m-1 0h3m2 0h3m13 0h3m-13 1h3m10 0h3m-57 1h3m16 0h3m6 0h3m15 0h3m-31 1h3m-24 1h3m35 0h3m2 0h3m1 0h3m0 0h3m14 0h3m21 0h3m-65 1h3m4 0h3m10 0h3m2 0h3m-27 1h3m-3 1h3m5 0h3m30 0h3m10 0h3m-11 1h3m-39 1h3m6 0h3m30 0h3m-78 1h3m23 0h3m10 0h3m17 0h3m15 0h3m-63 1h3m1 0h3m5 1h3m-5 1h3m3 0h3m10 0h3m1 0h3m-41 1h3m56 0h3m-26 1h3m-27 1h3m15 0h3m7 0h3m-36 1h3m46 1h3m-39 1h3m-23 2h3m22 1h3m22 1h3m-21 2h3m-7 2h3m7 0h3m-19 2h3m-3 12h3" stroke="#50c850" stroke-width="3" opacity="0.45" fill="none"/>
<path transform="scale(0.25)" d="M1232 123.5h3m-67 3h3m24 2h3m22 5h3m-52 2h3m37 2h3m-2 1h3m-21 1h3m-1 1h3m42 0h3m4 0h3m-7 1h3m-31 1h3m-26 1h3m-14 1h3m24 0h3m-1 0h3m32 0h3m5 0h3m-29 2h3m10 0h3m-66 1h3m12 0h3m28 1h3m-1 0h3m-51 1h3m7 0h3m10 0h3m-2 0h3m-1 0h3m24 0h3m-45 1h3m41 0h3m4 0h3m-71 1h3m25 0h3m4 0h3m24 0h3m3 0h3m10 0h3m-42 1h3m24 0h3m-79 1h3m8 0h3m4 0h3m26 0h3m-58 1h3m18 0h3m7 0h3m14 0h3m4 0h3m17 0h3m-2 0h3m-59 1h3m6 0h3m20 0h3m-1 0h3m2 0h3m0 0h3m-2 0h3m12 0h3m-2 0h3m-23 1h3m17 0h3m-35 1h3m29 0h3m2 0h3m11 0h3m-81 1h3m24 0h3m25 0h3m-27 1h3m-2 0h3m12 0h3m-35 1h3m36 0h3m1 0h3m4 0h3m2 0h3m-53 1h3m0 0h3m1 0h3m-1 0h3m10 0h3m-32 1h3m6 0h3m-18 1h3m3 0h3m26 0h3m-1 0h3m11 0h3m17 0h3m-60 1h3m2 0h3m3 0h3m14 0h3m4 0h3m4 0h3m-72 1h3m8 0h3m5 0h3m9 0h3m1 0h3m11 0h3m17 0h3m31 0h3m-115 1h3m3 0h3m5 0h3m0 0h3m14 0h3m14 0h3m14 0h3m1 0h3m-1 0h3m4 0h3m-65 1h3m2 0h3m9 0h3m0 0h3m15 0h3m35 0h3m-74 1h3m12 0h3m36 0h3m-54 1h3m4 0h3m-1 0h3m9 0h3m14 0h3m7 0h3m12 0h3m-84 1h3m10 0h3m1 0h3m-1 0h3m0 0h3m5 0h3m-1 0h3m-2 0h3m1 0h3m11 0h3m-55 1h3m26 0h3m9 0h3m2 0h3m3 0h3m-1 0h3m-2 0h3m1 0h3m11 0h3m-33 1h3m8 0h3m8 0h3m15 0h3m0 0h3m-72 1h3m46 0h3m-55 1h3m-2 0h3m21 0h3m3 0h3m-1 0h3m9 0h3m1 0h3m19 0h3m-89 1h3m42 0h3m0 0h3m0 0h3m0 0h3m-2 0h3m-35 1h3m2 0h3m10 0h3m11 0h3m1 0h3m1 0h3m-19 1h3m10 0h3m15 0h3m-68 1h3m29 0h3m11 0h3m5 0h3m8 0h3m-63 1h3m13 0h3m12 0h3m4 0h3m4 0h3m21 0h3m-105 1h3m12 0h3m14 0h3m2 0h3m2 0h3m9 0h3m-2 0h3m2 0h3m-2 0h3m-1 0h3m8 0h3m0 0h3m4 0h3m0 0h3m4 0h3m-45 1h3m-2 0h3m2 0h3m2 0h3m3 0h3m0 0h3m-66 1h3m38 0h3m16 0h3m-2 0h3m-57 1h3m35 0h3m-2 0h3m-2 0h3m16 0h3m0 0h3m-57 1h3m6 0h3m15 0h3m0 0h3m-2 0h3m11 0h3m-1 0h3m-1 0h3m-41 1h3m7 0h3m-2 0h3m3 0h3m5 0h3m2 0h3m15 0h3m5 0h3m4 0h3m-90 1h3m9 0h3m27 0h3m15 0h3m4 0h3m20 0h3m-64 1h3m3 0h3m14 0h3m5 0h3m14 0h3m3 0h3m-97 1h3m0 0h3m25 0h3m22 0h3m4 0h3m5 0h3m3 0h3m15 0h3m-1 0h3m-80 1h3m18 0h3m4 0h3m-1 0h3m30 0h3m1 0h3m0 0h3m-45 1h3m7 0h3m2 0h3m10 0h3m-1 0h3m-64 1h3m8 0h3m1 0h3m11 0h3m17 0h3m-1 0h3m-1 0h3m-2 0h3m1 0h3m1 0h3m2 0h3m17 0h3m16 0h3m-99 1h3m17 0h3m2 0h3m0 0h3m22 0h3m-64 1h3m23 0h3m19 0h3m13 0h3m5 0h3m-58 1h3m26 0h3m-1 0h3m7 0h3m2 0h3m-43 1h3m1 0h3m6 0h3m4 0h3m25 0h3m-71 1h3m3 0h3m0 0h3m4 0h3m54 0h3m14 0h3m-66 1h3m-1 0h3m-1 0h3m15 0h3m1 0h3m6 0h3m-46 1h3m6 0h3m16 0h3m37 0h3m-78 1h3m25 0h3m25 0h3m14 0h3m-83 1h3m16 0h3m-1 0h3m5 0h3m12 0h3m0 0h3m8 0h3m-55 1h3m-2 0h3m19 0h3m11 0h3m21 0h3m-56 1h3m4 0h3m1 0h3m1 0h3m2 0h3m8 0h3m-2 0h3m4 0h3m3 0h3m44 0h3m-98 1h3m0 0h3m2 0h3m14 0h3m11 0h3m8 0h3m-2 0h3m8 0h3m-71 1h3m1 0h3m26 0h3m18 0h3m6 0h3m-58 1h3m30 0h3m12 0h3m-34 1h3m5 0h3m1 0h3m13 1h3m8 0h3m-61 1h3m14 0h3m2 0h3m6 0h3m18 0h3m-32 1h3m1 0h3m2 0h3m11 0h3m19 0h3m-32 1h3m11 0h3m17 0h3m-90 1h3m4 0h3m-21 1h3m23 0h3m37 0h3m-32 1h3m7 0h3m4 1h3m-43 1h3m23 0h3m8 0h3m14 0h3m17 0h3m-25 1h3m-2 1h3m-29 1h3m5 0h3m-1 0h3m44 0h3m-101 1h3m57 0h3m6 1h3m27 0h3m-64 1h3m5 0h3m7 0h3m-50 1h3m46 0h3m9 0h3m27 0h3m-74 1h3m47 1h3m-43 1h3m30 1h3m5 0h3m-40 3h3m4 0h3m15 1h3m-39 1h3m-2 1h3m-28 4h3m62 0h3m-50 2h3m-2 0h3m16 0h3m-8 10h3m24 4h3m-7 3h3" stroke="#50c850" stroke-width="3" opacity="0.4" fill="none"/>
<path transform="scale(0.25)" d="M1300 136.5h3m-52 13h3m9 1h3m17 1h3m7 1h3m0 7h3m-29 2h3m18 1h3m4 1h3m-60 1h3m9 0h3m71 0h3m-76 2h3m39 0h3m-12 1h3m4 0h3m-22 2h3m14 1h3m8 0h3m-4 1h3m-5 2h3m-32 1h3m8 0h3m2 0h3m-36 1h3m6 2h3m-6 1h3m24 0h3m-23 1h3m-18 1h3m44 0h3m47 0h3m-123 1h3m67 0h3m-2 0h3m-28 3h3m-46 1h3m51 0h3m2 0h3m9 0h3m-42 1h3m17 2h3m-37 2h3m28 0h3m-8 2h3m0 0h3m8 0h3m11 1h3m-36 1h3m0 0h3m0 0h3m16 0h3m7 0h3m-40 1h3m-2 0h3m-21 1h3m34 1h3m19 0h3m-14 1h3m23 0h3m-95 1h3m32 0h3m4 0h3m-58 1h3m43 0h3m2 0h3m22 0h3m16 0h3m-25 1h3m-2 0h3m-46 1h3m17 0h3m1 0h3m-41 1h3m35 0h3m9 0h3m23 0h3m-42 1h3m8 0h3m14 0h3m18 0h3m-60 1h3m15 0h3m4 0h3m2 0h3m26 0h3m-83 1h3m9 0h3m8 0h3m32 0h3m-48 1h3m17 0h3m0 0h3m-17 1h3m-33 1h3m33 0h3m-2 0h3m8 0h3m-2 0h3m20 0h3m4 0h3m-82 1h3m41 0h3m3 0h3m7 0h3m-58 1h3m34 0h3m-21 1h3m13 0h3m6 0h3m0 0h3m38 0h3m-71 1h3m-8 1h3m5 0h3m39 0h3m30 0h3m-77 1h3m-2 0h3m37 0h3m2 0h3m9 0h3m-83 1h3m6 0h3m-1 0h3m11 0h3m9 0h3m5 0h3m2 1h3m0 0h3m-44 1h3m12 0h3m5 0h3m4 0h3m14 0h3m19 0h3m-73 1h3m1 0h3m39 0h3m23 0h3m-76 1h3m41 0h3m-55 1h3m20 0h3m22 0h3m15 0h3m-30 1h3m15 0h3m-41 1h3m5 0h3m-2 0h3m17 0h3m-1 0h3m50 0h3m-94 1h3m35 0h3m17 0h3m-56 1h3m5 0h3m6 0h3m17 0h3m-15 1h3m-37 1h3m38 0h3m23 0h3m-84 1h3m36 0h3m-1 0h3m27 0h3m-72 1h3m8 0h3m13 0h3m-1 0h3m4 0h3m7 0h3m-2 0h3m-2 0h3m8 0h3m24 0h3m-68 1h3m8 1h3m40 0h3m5 0h3m-69 1h3m43 0h3m16 0h3m-63 1h3m-2 0h3m4 0h3m3 0h3m-2 0h3m19 0h3m0 0h3m-33 1h3m-1 0h3m0 0h3m4 0h3m-1 0h3m38 0h3m-87 1h3m36 0h3m6 0h3m3 0h3m-17 1h3m7 0h3m7 0h3m-39 1h3m-1 0h3m21 0h3m2 0h3m0 0h3m-74 1h3m25 0h3m41 0h3m-34 1h3m0 0h3m2 0h3m8 0h3m11 0h3m3 0h3m4 0h3m-64 1h3m0 1h3m-1 1h3m-1 0h3m28 0h3m7 0h3m-2 0h3m-43 1h3m4 0h3m0 0h3m6 0h3m-35 1h3m-2 0h3m22 0h3m3 0h3m6 0h3m-1 0h3m19 0h3m-79 1h3m4 0h3m-2 0h3m8 0h3m4 0h3m27 0h3m-20 1h3m5 0h3m18 0h3m26 0h3m-93 1h3m14 0h3m5 0h3m30 0h3m17 0h3m22 0h3m-104 1h3m7 0h3m6 0h3m15 0h3m2 0h3m-48 1h3m-36 1h3m15 0h3m26 0h3m24 0h3m-42 1h3m7 0h3m14 0h3m9 0h3m-52 1h3m28 0h3m18 0h3m-2 0h3m1 0h3m-5 1h3m-26 1h3m-1 0h3m0 0h3m10 1h3m3 0h3m-40 1h3m7 1h3m10 0h3m30 0h3m-5 1h3m-42 1h3m9 0h3m-2 0h3m15 0h3m-52 1h3m3 0h3m-19 1h3m2 0h3m60 0h3m-76 1h3m40 0h3m12 0h3m-38 1h3m13 0h3m15 0h3m-43 1h3m1 0h3m8 0h3m21 0h3m-36 1h3m-1 0h3m-10 1h3m30 0h3m8 0h3m-57 1h3m5 0h3m4 0h3m3 0h3m9 0h3m41 0h3m-92 1h3m17 0h3m40 0h3m-28 1h3m39 0h3m-60 1h3m24 2h3m-29 1h3m7 0h3m30 0h3m-18 1h3m-23 3h3m33 2h3m-33 1h3m-8 1h3m-27 1h3m3 0h3m37 0h3m-26 1h3m12 0h3m21 8h3m-48 5h3m7 0h3m-1 1h3m9 5h3m-28 2h3m59 20h3" stroke="#50c850" stroke-width="3" opacity="0.4" fill="none"/>
<path transform="scale(0.25)" d="M1287 257.5h3m-13 4h3m-6 3h3m17 1h3m-16 3h3m11 2h3m18 1h3m-71 1h3m50 0h3m15 1h3m-54 1h3m1 0h3m14 2h3m-13 1h3m-12 2h3m12 0h3m17 0h3m-85 1h3m69 1h3m-47 1h3m8 0h3m8 0h3m-2 1h3m20 0h3m9 0h3m-39 1h3m31 0h3m-53 1h3m17 0h3m31 0h3m4 0h3m-69 1h3m52 2h3m-49 1h3m0 0h3m3 0h3m13 1h3m15 0h3m-6 2h3m17 0h3m-62 1h3m73 0h3m-80 1h3m4 0h3m12 0h3m33 0h3m-24 1h3m-56 1h3m35 0h3m6 0h3m4 0h3m-55 1h3m-1 0h3m9 0h3m10 0h3m5 0h3m32 0h3m-58 1h3m21 0h3m12 0h3m5 0h3m-35 1h3m3 0h3m7 0h3m-53 1h3m15 0h3m23 0h3m29 0h3m-98 1h3m32 0h3m16 0h3m-15 1h3m33 0h3m-36 1h3m4 0h3m4 0h3m5 0h3m-1 1h3m-36 1h3m-2 0h3m12 0h3m-7 1h3m34 1h3m2 0h3m-50 1h3m1 0h3m28 0h3m-50 1h3m53 1h3m-56 1h3m9 0h3m18 0h3m-32 1h3m22 0h3m-4 1h3m-27 1h3m22 0h3m-2 0h3m-25 2h3m13 0h3m-38 1h3m29 0h3m26 1h3m-68 1h3m36 1h3m-66 1h3m47 0h3m6 1h3m4 0h3m-30 3h3m32 0h3m-27 1h3m40 0h3m-52 2h3m2 1h3m33 1h3m-28 1h3m38 0h3m-43 12h3m-3 1h3" stroke="#50c850" stroke-width="3" opacity="0.35" fill="none"/>
<rect x="287.50" y="29.20" width="56.70" height="62.90" fill="none" stroke="#1a1a1a" stroke-width="1.7" />
<line x1="315.40" y1="29.20" x2="315.40" y2="92.10" stroke="#1a1a1a" stroke-width="1.7" />
<line x1="287.50" y1="64.00" x2="344.20" y2="64.00" stroke="#1a1a1a" stroke-width="1.7" />
<path d="M285.10 30.20h1.6M285.10 32.74h1.6M285.10 35.27h1.6M285.10 37.81h1.6M285.10 40.35h1.6M285.10 42.89h1.6M285.10 45.42h1.6M285.10 47.96h1.6M285.10 50.50h1.6M285.10 53.04h1.6M285.10 55.57h1.6M285.10 58.11h1.6M285.10 60.65h1.6M285.10 63.19h1.6M285.10 65.72h1.6M285.10 68.26h1.6M285.10 70.80h1.6M285.10 73.34h1.6M285.10 75.87h1.6M285.10 78.41h1.6M285.10 80.95h1.6M285.10 83.49h1.6M285.10 86.02h1.6M285.10 88.56h1.6M285.10 91.10h1.6" stroke="#000" stroke-width="0.6"/>
<path d="M288.50 92.90v1.6M290.78 92.90v1.6M293.06 92.90v1.6M295.34 92.90v1.6M297.62 92.90v1.6M299.90 92.90v1.6M302.18 92.90v1.6M304.45 92.90v1.6M306.73 92.90v1.6M309.01 92.90v1.6M311.29 92.90v1.6M313.57 92.90v1.6M315.85 92.90v1.6M318.13 92.90v1.6M320.41 92.90v1.6M322.69 92.90v1.6M324.97 92.90v1.6M327.25 92.90v1.6M329.52 92.90v1.6M331.80 92.90v1.6M334.08 92.90v1.6M336.36 92.90v1.6M338.64 92.90v1.6M340.92 92.90v1.6M343.20 92.90v1.6" stroke="#000" stroke-width="0.6"/>
<text x="301.50" y="54.75" font-size="6" fill="#1e1e1e" text-anchor="middle" stroke="#1e1e1e" stroke-width="0.15">Q1</text>
<text x="330.10" y="54.75" font-size="6" fill="#1e1e1e" text-anchor="middle" stroke="#1e1e1e" stroke-width="0.15">Q2</text>
<text x="302.10" y="78.65" font-size="6" fill="#1e1e1e" text-anchor="middle" stroke="#1e1e1e" stroke-width="0.15">Q3</text>
<text x="330.10" y="78.65" font-size="6" fill="#1e1e1e" text-anchor="middle" stroke="#1e1e1e" stroke-width="0.15">Q4</text>
<text x="289.80" y="39.72" font-size="9" fill="#c8303a" text-anchor="start">25</text>
<text x="328.80" y="40.42" font-size="9" fill="#c8303a" text-anchor="start">34</text>
<text x="331.00" y="90.72" font-size="9" fill="#c8303a" text-anchor="start">13</text>
<line x1="284.20" y1="35.20" x2="286.70" y2="35.20" stroke="#000" stroke-width="1.2" />
<line x1="284.20" y1="49.40" x2="286.70" y2="49.40" stroke="#000" stroke-width="1.2" />
<line x1="284.20" y1="64.00" x2="286.70" y2="64.00" stroke="#000" stroke-width="1.2" />
<line x1="284.20" y1="82.40" x2="286.70" y2="82.40" stroke="#000" stroke-width="1.2" />
<text x="279.00" y="37.28" font-size="5.8" fill="#1e1e1e" text-anchor="middle">10<tspan font-size="3.48" dy="-2.32">5</tspan></text>
<text x="279.00" y="51.48" font-size="5.8" fill="#1e1e1e" text-anchor="middle">10<tspan font-size="3.48" dy="-2.32">4</tspan></text>
<text x="279.00" y="66.08" font-size="5.8" fill="#1e1e1e" text-anchor="middle">10<tspan font-size="3.48" dy="-2.32">3</tspan></text>
<text x="281.00" y="84.48" font-size="5.8" fill="#1e1e1e" text-anchor="end" stroke="#1e1e1e" stroke-width="0.1">0</text>
<text x="282.20" y="94.40" font-size="5.3" fill="#1e1e1e" text-anchor="end" stroke="#1e1e1e" stroke-width="0.1">-268</text>
<line x1="296.90" y1="92.90" x2="296.90" y2="95.40" stroke="#000" stroke-width="1.2" />
<line x1="311.50" y1="92.90" x2="311.50" y2="95.40" stroke="#000" stroke-width="1.2" />
<line x1="324.60" y1="92.90" x2="324.60" y2="95.40" stroke="#000" stroke-width="1.2" />
<line x1="336.90" y1="92.90" x2="336.90" y2="95.40" stroke="#000" stroke-width="1.2" />
<text x="296.90" y="103.08" font-size="5.8" fill="#1e1e1e" text-anchor="middle" stroke="#1e1e1e" stroke-width="0.1">0</text>
<text x="311.50" y="103.08" font-size="5.8" fill="#1e1e1e" text-anchor="middle">10<tspan font-size="3.48" dy="-2.32">3</tspan></text>
<text x="324.60" y="103.08" font-size="5.8" fill="#1e1e1e" text-anchor="middle">10<tspan font-size="3.48" dy="-2.32">4</tspan></text>
<text x="336.90" y="103.08" font-size="5.8" fill="#1e1e1e" text-anchor="middle">10<tspan font-size="3.48" dy="-2.32">5</tspan></text>
<text x="293.80" y="108.30" font-size="5.3" fill="#1e1e1e" text-anchor="end" stroke="#1e1e1e" stroke-width="0.1">-954</text>
<text x="298.20" y="113.78" font-size="7.2" fill="#141414" text-anchor="start" textLength="35.6" lengthAdjust="spacingAndGlyphs" stroke="#141414" stroke-width="0.18">CD14 PE-Cy7-A</text>
<text transform="translate(267.60,60.80) rotate(-90)" x="0" y="2.58" font-size="7.2" fill="#141414" text-anchor="middle" textLength="28" lengthAdjust="spacingAndGlyphs" stroke="#141414" stroke-width="0.18">Cd15 FITC-A</text>
<path transform="scale(0.25)" d="M1540 125.5h3m-6 1h3m0 6h3m24 0h3m-29 2h3m17 1h3m16 4h3m-30 2h3m8 0h3m-51 3h3m32 0h3m5 0h3m7 1h3m16 0h3m-38 3h3m3 0h3m-23 1h3m6 1h3m15 0h3m15 0h3m-2 0h3m8 0h3m-64 1h3m4 0h3m16 1h3m-9 1h3m7 0h3m-34 1h3m31 1h3m26 1h3m-88 1h3m55 0h3m-42 1h3m18 0h3m6 1h3m-42 1h3m8 0h3m21 0h3m15 1h3m-26 1h3m10 0h3m0 0h3m-21 1h3m5 0h3m1 0h3m12 0h3m23 0h3m-54 1h3m-22 1h3m18 0h3m16 0h3m-45 1h3m-1 0h3m-2 0h3m4 0h3m23 0h3m-19 1h3m5 0h3m-2 0h3m1 0h3m-40 1h3m0 0h3m8 0h3m-16 1h3m19 0h3m-21 1h3m8 0h3m-2 0h3m11 0h3m-25 1h3m-1 0h3m9 0h3m0 0h3m15 0h3m-2 0h3m3 0h3m-32 1h3m15 0h3m3 0h3m-2 1h3m-28 1h3m20 0h3m-55 1h3m33 0h3m-1 0h3m27 0h3m-86 1h3m33 0h3m-2 0h3m13 0h3m6 0h3m1 0h3m-46 1h3m3 0h3m22 0h3m-44 1h3m19 0h3m0 0h3m0 0h3m-2 0h3m8 0h3m-21 1h3m5 0h3m-2 0h3m3 0h3m-2 0h3m1 0h3m16 0h3m-28 1h3m4 0h3m1 0h3m12 0h3m-41 1h3m1 0h3m2 0h3m6 0h3m2 0h3m-2 0h3m11 0h3m-51 1h3m6 0h3m-2 0h3m28 0h3m-35 1h3m7 0h3m2 0h3m-2 0h3m-2 0h3m29 0h3m-63 1h3m18 0h3m15 0h3m-54 1h3m15 0h3m11 0h3m-26 1h3m11 0h3m4 0h3m13 0h3m2 0h3m5 0h3m-34 1h3m4 0h3m22 0h3m1 0h3m3 0h3m-80 1h3m24 0h3m1 0h3m4 0h3m12 0h3m-22 1h3m5 0h3m3 0h3m1 0h3m5 0h3m-2 0h3m3 0h3m-57 1h3m31 0h3m0 0h3m-25 1h3m-2 0h3m4 0h3m3 0h3m4 0h3m11 0h3m3 0h3m-55 1h3m3 0h3m1 0h3m-1 0h3m14 0h3m2 0h3m-1 0h3m-60 1h3m13 0h3m12 0h3m9 0h3m9 0h3m2 0h3m18 0h3m-56 1h3m11 0h3m20 0h3m-1 0h3m-45 1h3m9 0h3m6 0h3m5 0h3m27 0h3m-77 1h3m17 0h3m6 0h3m-2 0h3m1 0h3m-2 0h3m3 0h3m0 0h3m-11 1h3m6 0h3m8 0h3m0 0h3m10 0h3m-45 1h3m-1 0h3m-2 0h3m22 0h3m11 0h3m-85 1h3m12 0h3m23 0h3m1 0h3m-1 0h3m18 0h3m6 0h3m12 0h3m4 0h3m-73 1h3m-2 0h3m-2 0h3m-1 0h3m11 0h3m13 0h3m8 0h3m-47 1h3m0 0h3m-1 0h3m0 0h3m8 0h3m-2 0h3m7 0h3m24 0h3m-94 1h3m47 0h3m-2 0h3m15 0h3m-68 1h3m29 0h3m11 0h3m-1 0h3m-1 0h3m-1 0h3m-2 0h3m27 0h3m-66 1h3m3 0h3m-2 0h3m-1 0h3m7 0h3m-1 0h3m4 0h3m1 0h3m11 0h3m-2 0h3m-2 0h3m-78 1h3m25 0h3m4 0h3m10 0h3m0 0h3m18 0h3m49 0h3m-112 1h3m0 0h3m3 0h3m6 0h3m12 0h3m0 0h3m8 0h3m1 0h3m-46 1h3m8 0h3m-1 0h3m0 0h3m2 0h3m7 0h3m-51 1h3m11 0h3m-2 0h3m2 0h3m1 0h3m8 0h3m5 0h3m0 0h3m2 0h3m8 0h3m11 0h3m1 0h3m-68 1h3m-1 0h3m8 0h3m0 0h3m3 0h3m1 0h3m-1 0h3m3 0h3m10 0h3m-32 1h3m5 0h3m9 0h3m2 0h3m-52 1h3m-1 0h3m3 0h3m1 0h3m0 0h3m-2 0h3m1 0h3m1 0h3m-2 0h3m1 0h3m4 0h3m0 0h3m2 0h3m-1 0h3m0 0h3m0 0h3m6 0h3m-46 1h3m10 0h3m-1 0h3m4 0h3m0 0h3m-1 0h3m6 0h3m0 0h3m7 0h3m-41 1h3m3 0h3m0 0h3m-1 0h3m-2 0h3m-1 0h3m14 0h3m-38 1h3m9 0h3m2 0h3m7 0h3m4 0h3m-41 1h3m-2 0h3m-1 0h3m30 0h3m3 0h3m0 0h3m-1 0h3m26 0h3m-61 1h3m-53 1h3m29 0h3m12 0h3m-2 0h3m1 0h3m17 0h3m-58 1h3m-2 0h3m-1 0h3m-2 0h3m0 0h3m16 0h3m0 0h3m0 0h3m6 0h3m-23 1h3m2 0h3m5 0h3m4 0h3m0 0h3m-37 1h3m16 0h3m-2 0h3m-1 0h3m5 0h3m0 0h3m11 0h3m19 0h3m7 0h3m-87 1h3m1 0h3m19 0h3m-2 0h3m-34 1h3m11 0h3m-2 0h3m1 0h3m2 0h3m1 0h3m-2 0h3m-2 0h3m8 0h3m21 0h3m-58 1h3m-1 0h3m-2 0h3m13 0h3m2 0h3m1 0h3m3 0h3m-2 0h3m4 0h3m4 0h3m-51 1h3m-1 0h3m9 0h3m-2 0h3m-2 0h3m1 0h3m-2 0h3m-1 0h3m18 0h3m-2 0h3m-46 1h3m2 0h3m-1 0h3m3 0h3m5 0h3m1 0h3m5 0h3m3 0h3m-2 0h3m-43 1h3m9 0h3m1 0h3m1 0h3m6 0h3m5 0h3m-31 1h3m0 0h3m-2 0h3m1 0h3m4 0h3m7 0h3m-2 0h3m-2 0h3m18 0h3m-77 1h3m9 0h3m2 0h3m5 0h3m11 0h3m7 0h3m-39 1h3m1 0h3m0 0h3m3 0h3m19 0h3m-58 1h3m24 0h3m3 0h3m3 0h3m8 0h3m12 0h3m8 0h3m-66 1h3m20 0h3m4 0h3m5 0h3m-33 1h3m7 0h3m15 0h3m1 0h3m2 0h3m-49 1h3m12 0h3m6 0h3m0 0h3m4 0h3m-2 0h3m-2 0h3m0 0h3m3 0h3m21 0h3m-83 1h3m28 0h3m4 0h3m7 0h3m-53 1h3m5 0h3m14 0h3m-1 0h3m5 0h3m5 0h3m18 0h3m-62 1h3m26 0h3m-2 0h3m15 0h3m5 0h3m-1 0h3m-1 0h3m28 0h3m-74 1h3m0 0h3m-1 0h3m1 0h3m-1 0h3m-1 0h3m2 0h3m9 0h3m16 0h3m5 0h3m-71 1h3m-2 0h3m13 0h3m3 0h3m-2 0h3m-13 1h3m26 0h3m4 0h3m3 0h3m2 0h3m-51 1h3m4 0h3m1 0h3m1 0h3m5 0h3m12 0h3m0 0h3m-51 1h3m-1 0h3m2 0h3m-2 0h3m8 0h3m-1 0h3m-35 1h3m22 0h3m9 0h3m3 0h3m7 0h3m-40 1h3m7 0h3m8 0h3m3 0h3m7 0h3m5 0h3m-61 1h3m2 0h3m14 0h3m1 0h3m7 0h3m-2 0h3m8 0h3m2 0h3m-43 1h3m23 0h3m-5 1h3m14 0h3m-1 0h3m-57 1h3m9 0h3m7 0h3m22 0h3m4 0h3m-60 1h3m5 0h3m9 0h3m-1 0h3m21 0h3m-33 1h3m31 0h3m-35 1h3m34 0h3m-38 1h3m12 0h3m28 0h3m-75 1h3m0 0h3m9 0h3m4 0h3m26 1h3m-43 1h3m19 0h3m28 0h3m9 0h3m-56 1h3m7 0h3m5 0h3m11 0h3m15 0h3m-40 1h3m9 0h3m-1 0h3m0 0h3m-34 1h3m19 0h3m2 0h3m22 0h3m3 0h3m-62 1h3m4 0h3m29 0h3m15 0h3m-44 1h3m1 0h3m-1 0h3m6 0h3m-47 1h3m19 0h3m-2 0h3m-2 0h3m2 0h3m15 0h3m8 0h3m8 0h3m-63 1h3m-1 0h3m1 0h3m3 0h3m0 0h3m-28 1h3m12 0h3m3 1h3m-2 0h3m13 0h3m-61 1h3m51 0h3m1 0h3m-37 1h3m18 0h3m-1 0h3m3 0h3m-4 1h3m30 0h3m-49 1h3m37 0h3m-65 1h3m1 1h3m21 0h3m-1 0h3m13 1h3m17 1h3m-82 1h3m8 0h3m12 0h3m5 0h3m5 0h3m-2 0h3m1 0h3m8 0h3m-52 1h3m10 2h3m30 0h3m-9 1h3m1 0h3m11 0h3m5 0h3m-31 2h3m6 0h3m-11 1h3m-6 3h3m15 0h3m1 0h3m-34 1h3m7 0h3m3 2h3m21 2h3m-25 3h3m-27 6h3m12 1h3m-15 3h3m14 3h3" stroke="#50c850" stroke-width="3" opacity="0.5" fill="none"/>
<path transform="scale(0.25)" d="M1530 226.5h3m-35 3h3m17 5h3m15 3h3m-1 0h3m-3 2h3m36 0h3m-39 4h3m19 0h3m-10 1h3m-3 1h3m-41 1h3m19 0h3m-11 1h3m-37 1h3m57 0h3m-41 1h3m17 1h3m11 0h3m-2 0h3m5 1h3m-64 1h3m20 0h3m27 0h3m8 0h3m-55 1h3m28 0h3m11 0h3m-43 1h3m-10 1h3m17 0h3m8 0h3m-16 1h3m4 0h3m6 0h3m11 0h3m-35 1h3m0 0h3m0 0h3m1 0h3m1 0h3m1 0h3m7 0h3m-27 1h3m22 0h3m-2 0h3m-19 1h3m12 0h3m1 0h3m-35 1h3m-1 0h3m13 0h3m-34 1h3m27 0h3m22 0h3m-50 1h3m12 0h3m1 0h3m5 0h3m0 0h3m12 0h3m35 0h3m-88 1h3m2 0h3m20 0h3m-1 0h3m7 1h3m-2 0h3m7 0h3m-58 1h3m4 0h3m7 0h3m35 0h3m-51 1h3m9 0h3m5 0h3m12 0h3m-48 1h3m9 0h3m30 0h3m-60 1h3m26 0h3m-2 0h3m-2 0h3m9 0h3m-37 1h3m2 0h3m7 0h3m0 0h3m0 0h3m0 0h3m3 0h3m19 0h3m-28 1h3m3 0h3m2 0h3m0 0h3m0 0h3m14 0h3m-66 1h3m-2 0h3m3 0h3m8 0h3m-2 0h3m-1 0h3m-1 0h3m1 0h3m2 0h3m5 0h3m26 0h3m-71 1h3m8 0h3m1 0h3m0 0h3m9 0h3m1 0h3m-2 0h3m-47 1h3m22 0h3m7 0h3m-2 0h3m7 0h3m-46 1h3m13 0h3m6 0h3m-1 0h3m6 0h3m-2 0h3m3 0h3m2 0h3m-2 0h3m5 0h3m2 0h3m-61 1h3m7 0h3m0 0h3m10 0h3m-1 0h3m9 0h3m6 0h3m-1 0h3m12 0h3m-78 1h3m15 0h3m14 0h3m5 0h3m-2 0h3m0 0h3m3 0h3m-1 0h3m-1 0h3m8 0h3m-54 1h3m-1 0h3m6 0h3m1 0h3m-1 0h3m1 0h3m18 0h3m3 0h3m-62 1h3m3 0h3m2 0h3m11 0h3m6 0h3m7 0h3m4 0h3m-62 1h3m1 0h3m14 0h3m2 0h3m2 0h3m4 0h3m2 0h3m6 0h3m-2 0h3m7 0h3m-1 0h3m-2 0h3m-42 1h3m5 0h3m6 0h3m0 0h3m0 0h3m8 0h3m0 0h3m4 0h3m22 0h3m-69 1h3m6 0h3m-1 0h3m-2 0h3m-2 0h3m2 0h3m-1 0h3m-52 1h3m16 0h3m3 0h3m1 0h3m2 0h3m8 0h3m2 0h3m5 0h3m-2 0h3m2 0h3m1 0h3m3 0h3m-71 1h3m4 0h3m0 0h3m-2 0h3m9 0h3m-2 0h3m-1 0h3m4 0h3m-1 0h3m-1 0h3m-2 0h3m-2 0h3m2 0h3m-1 0h3m5 0h3m-1 0h3m3 0h3m6 0h3m4 0h3m-60 1h3m0 0h3m8 0h3m2 0h3m-2 0h3m7 0h3m2 0h3m-2 0h3m10 0h3m-70 1h3m1 0h3m0 0h3m-1 0h3m-1 0h3m0 0h3m3 0h3m14 0h3m-2 0h3m0 0h3m0 0h3m11 0h3m-2 0h3m2 0h3m5 0h3m7 0h3m-70 1h3m1 0h3m-1 0h3m0 0h3m-1 0h3m0 0h3m0 0h3m1 0h3m-1 0h3m-2 0h3m4 0h3m4 0h3m0 0h3m-54 1h3m9 0h3m2 0h3m0 0h3m-1 0h3m-2 0h3m4 0h3m-2 0h3m-1 0h3m0 0h3m30 0h3m-86 1h3m-2 0h3m1 0h3m-2 0h3m10 0h3m12 0h3m1 0h3m-2 0h3m1 0h3m1 0h3m0 0h3m0 0h3m-2 0h3m-1 0h3m-52 1h3m0 0h3m18 0h3m6 0h3m3 0h3m2 0h3m1 0h3m2 0h3m1 0h3m-2 0h3m-2 0h3m-62 1h3m2 0h3m6 0h3m6 0h3m-1 0h3m-2 0h3m-1 0h3m1 0h3m-1 0h3m4 0h3m1 0h3m0 0h3m2 0h3m-2 0h3m-48 1h3m7 0h3m5 0h3m-2 0h3m5 0h3m-2 0h3m0 0h3m1 0h3m6 0h3m2 0h3m0 0h3m-2 0h3m-1 0h3m3 0h3m16 0h3m-94 1h3m8 0h3m4 0h3m-2 0h3m1 0h3m-2 0h3m10 0h3m-2 0h3m-1 0h3m14 0h3m16 0h3m-84 1h3m15 0h3m-1 0h3m10 0h3m-1 0h3m11 0h3m5 0h3m3 0h3m3 0h3m-64 1h3m7 0h3m-1 0h3m11 0h3m-2 0h3m2 0h3m5 0h3m-2 0h3m-2 0h3m9 0h3m0 0h3m10 0h3m-68 1h3m1 0h3m-1 0h3m-1 0h3m2 0h3m0 0h3m0 0h3m1 0h3m-2 0h3m-1 0h3m-1 0h3m0 0h3m0 0h3m5 0h3m-1 0h3m0 0h3m0 0h3m-2 0h3m-55 1h3m0 0h3m2 0h3m3 0h3m4 0h3m4 0h3m-2 0h3m-1 0h3m-2 0h3m3 0h3m1 0h3m1 0h3m-2 0h3m2 0h3m-1 0h3m13 0h3m-82 1h3m17 0h3m2 0h3m-1 0h3m-2 0h3m3 0h3m1 0h3m5 0h3m1 0h3m3 0h3m-2 0h3m-55 1h3m3 0h3m-1 0h3m9 0h3m-2 0h3m3 0h3m-2 0h3m-2 0h3m7 0h3m-1 0h3m-2 0h3m-2 0h3m0 0h3m3 0h3m25 0h3m-78 1h3m4 0h3m-1 0h3m1 0h3m1 0h3m-1 0h3m0 0h3m-2 0h3m1 0h3m-2 0h3m1 0h3m-2 0h3m-1 0h3m-2 0h3m3 0h3m0 0h3m4 0h3m3 0h3m3 0h3m-69 1h3m7 0h3m-2 0h3m1 0h3m-2 0h3m3 0h3m-1 0h3m1 0h3m-1 0h3m2 0h3m-2 0h3m1 0h3m1 0h3m-1 0h3m4 0h3m-66 1h3m10 0h3m-2 0h3m2 0h3m4 0h3m2 0h3m0 0h3m-1 0h3m-2 0h3m-1 0h3m7 0h3m1 0h3m2 0h3m0 0h3m-50 1h3m7 0h3m1 0h3m-2 0h3m2 0h3m5 0h3m3 0h3m-1 0h3m-1 0h3m3 0h3m0 0h3m0 0h3m-49 1h3m8 0h3m0 0h3m-2 0h3m11 0h3m-2 0h3m14 0h3m1 0h3m7 0h3m6 0h3m-92 1h3m13 0h3m1 0h3m1 0h3m-1 0h3m9 0h3m-2 0h3m1 0h3m-2 0h3m-2 0h3m-2 0h3m0 0h3m-2 0h3m4 0h3m4 0h3m-59 1h3m9 0h3m0 0h3m-1 0h3m-2 0h3m-2 0h3m-2 0h3m9 0h3m2 0h3m0 0h3m6 0h3m-1 0h3m-2 0h3m4 0h3m5 0h3m-74 1h3m5 0h3m4 0h3m-2 0h3m-1 0h3m0 0h3m-1 0h3m1 0h3m-2 0h3m0 0h3m-1 0h3m5 0h3m5 0h3m0 0h3m4 0h3m6 0h3m-70 1h3m0 0h3m1 0h3m6 0h3m5 0h3m4 0h3m-2 0h3m-2 0h3m6 0h3m-2 0h3m-2 0h3m2 0h3m1 0h3m-1 0h3m2 0h3m-40 1h3m7 0h3m4 0h3m-1 0h3m4 0h3m1 0h3m-2 0h3m-55 1h3m10 0h3m8 0h3m0 0h3m-2 0h3m-2 0h3m-2 0h3m-2 0h3m1 0h3m-1 0h3m-1 0h3m3 0h3m4 0h3m-1 0h3m5 0h3m3 0h3m19 0h3m-87 1h3m9 0h3m-1 0h3m-2 0h3m9 0h3m0 0h3m13 0h3m26 0h3m-81 1h3m3 0h3m18 0h3m13 0h3m4 0h3m0 0h3m9 0h3m0 0h3m-65 1h3m3 0h3m0 0h3m-2 0h3m2 0h3m-1 0h3m10 0h3m-1 0h3m-1 0h3m-2 0h3m-2 0h3m0 0h3m2 0h3m3 0h3m4 0h3m-60 1h3m11 0h3m1 0h3m-2 0h3m2 0h3m-1 0h3m-2 0h3m-2 0h3m0 0h3m-2 0h3m0 0h3m3 0h3m12 0h3m-52 1h3m-1 0h3m6 0h3m-1 0h3m-2 0h3m8 0h3m1 0h3m12 0h3m-2 0h3m-52 1h3m5 0h3m7 0h3m5 0h3m0 0h3m14 0h3m-65 1h3m2 0h3m8 0h3m1 0h3m-1 0h3m-2 0h3m0 0h3m-2 0h3m3 0h3m0 0h3m-2 0h3m10 0h3m-1 0h3m4 0h3m-42 1h3m3 0h3m7 0h3m-2 0h3m0 0h3m-2 0h3m-1 0h3m0 0h3m1 0h3m2 0h3m-2 0h3m10 0h3m-59 1h3m-1 0h3m-1 0h3m4 0h3m3 0h3m-1 0h3m0 0h3m-2 0h3m7 0h3m18 0h3m13 0h3m-90 1h3m9 0h3m5 0h3m-2 0h3m4 0h3m4 0h3m12 0h3m17 0h3m-65 1h3m13 0h3m0 0h3m22 0h3m14 0h3m11 0h3m-76 1h3m1 0h3m0 0h3m1 0h3m1 0h3m0 0h3m-1 0h3m8 0h3m4 0h3m-2 0h3m1 0h3m0 0h3m1 0h3m-33 1h3m3 0h3m6 0h3m16 0h3m21 0h3m-72 1h3m8 0h3m11 0h3m-1 0h3m7 0h3m28 0h3m-81 1h3m6 0h3m-2 0h3m1 0h3m18 0h3m1 0h3m13 0h3m-2 0h3m20 0h3m-76 1h3m4 0h3m7 0h3m2 0h3m-2 0h3m-2 0h3m-1 0h3m17 0h3m1 0h3m21 0h3m-87 1h3m25 0h3m1 0h3m-1 0h3m7 0h3m2 0h3m-1 0h3m-48 1h3m13 0h3m16 0h3m-20 1h3m4 0h3m-2 0h3m1 0h3m1 0h3m-1 0h3m-2 0h3m-2 0h3m-2 0h3m4 0h3m-1 0h3m4 0h3m0 0h3m-64 1h3m30 0h3m4 0h3m-2 0h3m9 0h3m-48 1h3m2 0h3m17 0h3m11 0h3m26 0h3m0 0h3m-50 1h3m12 0h3m-45 1h3m64 0h3m-72 1h3m9 0h3m2 0h3m31 0h3m4 0h3m2 0h3m-50 1h3m0 0h3m8 0h3m17 0h3m-33 1h3m0 0h3m5 0h3m9 0h3m3 0h3m16 0h3m-32 1h3m-12 1h3m7 0h3m10 0h3m9 0h3m-61 1h3m28 0h3m-2 0h3m2 0h3m-1 0h3m16 0h3m-60 2h3m36 0h3m-22 1h3m-5 1h3m-23 1h3m9 0h3m-2 0h3m-2 0h3m31 0h3m-8 1h3m-35 1h3m-2 0h3m0 0h3m13 1h3m28 0h3m-31 1h3m-50 4h3m51 0h3m12 5h3m-34 1h3m8 3h3" stroke="#20d820" stroke-width="3" opacity="0.75" fill="none"/>
<ellipse cx="385.00" cy="74.00" rx="5.00" ry="5.00" fill="#30dd30" opacity="0.6" transform="rotate(0 385.00 74.00)" filter="url(#b1)"/>
<rect x="373.40" y="29.20" width="53.90" height="62.90" fill="none" stroke="#1a1a1a" stroke-width="1.7" />
<line x1="400.20" y1="29.20" x2="400.20" y2="92.10" stroke="#1a1a1a" stroke-width="1.7" />
<line x1="373.40" y1="65.20" x2="427.30" y2="65.20" stroke="#1a1a1a" stroke-width="1.7" />
<path d="M371.00 30.20h1.6M371.00 32.23h1.6M371.00 34.26h1.6M371.00 36.29h1.6M371.00 38.32h1.6M371.00 40.35h1.6M371.00 42.38h1.6M371.00 44.41h1.6M371.00 46.44h1.6M371.00 48.47h1.6M371.00 50.50h1.6M371.00 52.53h1.6M371.00 54.56h1.6M371.00 56.59h1.6M371.00 58.62h1.6M371.00 60.65h1.6M371.00 62.68h1.6M371.00 64.71h1.6M371.00 66.74h1.6M371.00 68.77h1.6M371.00 70.80h1.6M371.00 72.83h1.6M371.00 74.86h1.6M371.00 76.89h1.6M371.00 78.92h1.6M371.00 80.95h1.6M371.00 82.98h1.6M371.00 85.01h1.6M371.00 87.04h1.6M371.00 89.07h1.6M371.00 91.10h1.6" stroke="#000" stroke-width="0.6"/>
<path d="M374.40 92.90v1.6M376.56 92.90v1.6M378.72 92.90v1.6M380.89 92.90v1.6M383.05 92.90v1.6M385.21 92.90v1.6M387.38 92.90v1.6M389.54 92.90v1.6M391.70 92.90v1.6M393.86 92.90v1.6M396.02 92.90v1.6M398.19 92.90v1.6M400.35 92.90v1.6M402.51 92.90v1.6M404.68 92.90v1.6M406.84 92.90v1.6M409.00 92.90v1.6M411.16 92.90v1.6M413.32 92.90v1.6M415.49 92.90v1.6M417.65 92.90v1.6M419.81 92.90v1.6M421.98 92.90v1.6M424.14 92.90v1.6M426.30 92.90v1.6" stroke="#000" stroke-width="0.6"/>
<text x="385.30" y="56.55" font-size="6" fill="#1e1e1e" text-anchor="middle" stroke="#1e1e1e" stroke-width="0.15">Q1-1</text>
<text x="417.50" y="57.15" font-size="6" fill="#1e1e1e" text-anchor="middle" stroke="#1e1e1e" stroke-width="0.15">Q2-1</text>
<text x="385.30" y="80.35" font-size="6" fill="#1e1e1e" text-anchor="middle" stroke="#1e1e1e" stroke-width="0.15">Q3-1</text>
<text x="417.50" y="80.35" font-size="6" fill="#1e1e1e" text-anchor="middle" stroke="#1e1e1e" stroke-width="0.15">Q4-1</text>
<text x="416.30" y="90.72" font-size="9" fill="#c8303a" text-anchor="start">0</text>
<line x1="370.10" y1="32.60" x2="372.60" y2="32.60" stroke="#000" stroke-width="1.2" />
<line x1="370.10" y1="44.40" x2="372.60" y2="44.40" stroke="#000" stroke-width="1.2" />
<line x1="370.10" y1="56.20" x2="372.60" y2="56.20" stroke="#000" stroke-width="1.2" />
<line x1="370.10" y1="68.00" x2="372.60" y2="68.00" stroke="#000" stroke-width="1.2" />
<line x1="370.10" y1="79.80" x2="372.60" y2="79.80" stroke="#000" stroke-width="1.2" />
<text x="368.00" y="34.68" font-size="5.8" fill="#1e1e1e" text-anchor="end" stroke="#1e1e1e" stroke-width="0.1">250</text>
<text x="368.00" y="46.48" font-size="5.8" fill="#1e1e1e" text-anchor="end" stroke="#1e1e1e" stroke-width="0.1">200</text>
<text x="368.00" y="58.28" font-size="5.8" fill="#1e1e1e" text-anchor="end" stroke="#1e1e1e" stroke-width="0.1">150</text>
<text x="368.00" y="70.08" font-size="5.8" fill="#1e1e1e" text-anchor="end" stroke="#1e1e1e" stroke-width="0.1">100</text>
<text x="368.00" y="81.88" font-size="5.8" fill="#1e1e1e" text-anchor="end" stroke="#1e1e1e" stroke-width="0.1">50</text>
<line x1="382.30" y1="92.90" x2="382.30" y2="95.40" stroke="#000" stroke-width="1.2" />
<line x1="396.90" y1="92.90" x2="396.90" y2="95.40" stroke="#000" stroke-width="1.2" />
<line x1="410.00" y1="92.90" x2="410.00" y2="95.40" stroke="#000" stroke-width="1.2" />
<line x1="421.50" y1="92.90" x2="421.50" y2="95.40" stroke="#000" stroke-width="1.2" />
<text x="382.30" y="103.08" font-size="5.8" fill="#1e1e1e" text-anchor="middle" stroke="#1e1e1e" stroke-width="0.1">0</text>
<text x="396.90" y="103.08" font-size="5.8" fill="#1e1e1e" text-anchor="middle">10<tspan font-size="3.48" dy="-2.32">3</tspan></text>
<text x="410.00" y="103.08" font-size="5.8" fill="#1e1e1e" text-anchor="middle">10<tspan font-size="3.48" dy="-2.32">4</tspan></text>
<text x="421.50" y="103.08" font-size="5.8" fill="#1e1e1e" text-anchor="middle">10<tspan font-size="3.48" dy="-2.32">5</tspan></text>
<text x="378.20" y="108.30" font-size="5.3" fill="#1e1e1e" text-anchor="end" stroke="#1e1e1e" stroke-width="0.1">-419</text>
<text x="387.40" y="113.78" font-size="7.2" fill="#141414" text-anchor="start" textLength="26.8" lengthAdjust="spacingAndGlyphs" stroke="#141414" stroke-width="0.18">CD3 FITC-A</text>
<text transform="translate(352.90,60.40) rotate(-90)" x="0" y="2.94" font-size="8.2" fill="#141414" text-anchor="middle" textLength="14" lengthAdjust="spacingAndGlyphs" stroke="#141414" stroke-width="0.2">SSC-A</text>
<text transform="translate(352.60,41.20) rotate(-90)" x="0" y="1.86" font-size="5.2" fill="#1e1e1e" text-anchor="middle" textLength="23.5" lengthAdjust="spacingAndGlyphs" stroke="#1e1e1e" stroke-width="0.1">(x 1,000)</text>
<path transform="scale(0.25)" d="M1910 186.5h3m-63 4h3m55 5h3m-67 6h3m-11 7h3m30 1h3m46 0h3m-54 2h3m43 4h3m-53 3h3m11 1h3m16 0h3m-20 2h3m3 0h3m52 1h3m-56 2h3m12 0h3m-25 2h3m14 0h3m7 0h3m-26 2h3m9 0h3m-31 4h3m4 1h3m-2 1h3m25 0h3m-40 1h3m6 0h3m-14 1h3m-30 1h3m9 0h3m6 0h3m0 0h3m-1 0h3m7 2h3m36 0h3m-38 1h3m34 0h3m0 0h3m-88 1h3m-2 0h3m42 0h3m4 0h3m27 0h3m-67 1h3m5 1h3m4 0h3m18 1h3m-31 1h3m45 0h3m-33 1h3m27 0h3m1 0h3m-67 1h3m8 0h3m0 0h3m3 0h3m6 0h3m3 0h3m0 0h3m11 0h3m12 0h3m-62 1h3m22 0h3m16 0h3m-55 1h3m8 0h3m-1 0h3m12 0h3m-6 1h3m13 0h3m1 0h3m-23 1h3m10 0h3m-2 0h3m17 0h3m17 0h3m-71 1h3m31 0h3m-51 1h3m25 0h3m6 0h3m11 0h3m0 0h3m-2 0h3m7 0h3m-60 1h3m28 0h3m-1 0h3m1 0h3m3 0h3m0 0h3m9 0h3m-67 1h3m13 0h3m11 0h3m17 0h3m2 0h3m-65 1h3m28 0h3m19 0h3m1 0h3m-2 0h3m11 0h3m-56 1h3m8 0h3m7 0h3m-2 0h3m13 0h3m-2 0h3m5 0h3m6 0h3m-69 1h3m3 0h3m14 0h3m1 0h3m30 0h3m-39 1h3m-2 0h3m4 0h3m33 0h3m-55 1h3m3 0h3m22 0h3m15 0h3m-83 1h3m26 0h3m-2 0h3m8 0h3m2 0h3m6 0h3m46 0h3m-89 1h3m19 0h3m-2 0h3m-2 0h3m7 0h3m2 0h3m28 0h3m-91 1h3m25 0h3m2 0h3m9 0h3m6 0h3m22 0h3m-57 1h3m0 0h3m9 0h3m-1 0h3m0 0h3m0 0h3m-50 1h3m26 0h3m10 0h3m20 0h3m9 0h3m-50 1h3m23 0h3m0 0h3m10 0h3m6 0h3m0 0h3m-92 1h3m19 0h3m9 0h3m-2 0h3m4 0h3m4 0h3m4 0h3m-1 0h3m24 0h3m-1 0h3m5 0h3m4 0h3m-45 1h3m7 0h3m3 0h3m10 0h3m9 0h3m-103 1h3m3 0h3m3 0h3m5 0h3m0 0h3m0 0h3m1 0h3m37 0h3m6 0h3m8 0h3m12 0h3m-92 1h3m17 0h3m6 0h3m3 0h3m0 0h3m6 0h3m12 0h3m-1 0h3m-53 1h3m-1 0h3m0 0h3m2 0h3m12 0h3m28 0h3m21 0h3m-106 1h3m14 0h3m0 0h3m4 0h3m-1 0h3m1 0h3m41 0h3m8 0h3m-93 1h3m23 0h3m3 0h3m-2 0h3m0 0h3m-2 0h3m4 0h3m5 0h3m3 0h3m3 0h3m-1 0h3m5 0h3m-1 0h3m-64 1h3m15 0h3m5 0h3m0 0h3m0 0h3m0 0h3m0 0h3m5 0h3m0 0h3m3 0h3m12 0h3m-1 0h3m-78 1h3m11 0h3m-1 0h3m11 0h3m4 0h3m2 0h3m-2 0h3m14 0h3m0 0h3m-75 1h3m22 0h3m19 0h3m42 0h3m-69 1h3m14 0h3m1 0h3m-2 0h3m7 0h3m12 0h3m6 0h3m5 0h3m8 0h3m-110 1h3m-2 0h3m-1 0h3m25 0h3m4 0h3m-2 0h3m21 0h3m0 0h3m-1 0h3m5 0h3m5 0h3m12 0h3m-91 1h3m11 0h3m18 0h3m21 0h3m-30 1h3m26 0h3m2 0h3m0 0h3m-82 1h3m14 0h3m0 0h3m21 0h3m18 0h3m12 0h3m36 0h3m-115 1h3m1 0h3m25 0h3m11 0h3m3 0h3m11 0h3m18 0h3m10 0h3m-104 1h3m11 0h3m1 0h3m-2 0h3m4 0h3m48 0h3m23 0h3m6 0h3m-116 1h3m11 0h3m-2 0h3m3 0h3m0 0h3m22 0h3m0 0h3m5 0h3m23 0h3m-80 1h3m5 0h3m5 0h3m2 0h3m-1 0h3m18 0h3m6 0h3m0 0h3m8 0h3m-65 1h3m2 0h3m1 0h3m7 0h3m-1 0h3m3 0h3m2 0h3m16 0h3m-1 0h3m-2 0h3m-48 1h3m-1 0h3m-2 0h3m1 0h3m1 0h3m-1 0h3m0 0h3m2 0h3m-1 0h3m22 0h3m1 0h3m4 0h3m-71 1h3m8 0h3m6 0h3m-1 0h3m-2 0h3m-1 0h3m2 0h3m-2 0h3m11 0h3m9 0h3m-82 1h3m1 0h3m20 0h3m16 0h3m-2 0h3m3 0h3m1 0h3m-1 0h3m-46 1h3m5 0h3m6 0h3m-1 0h3m-2 0h3m-1 0h3m3 0h3m5 0h3m11 0h3m-1 0h3m-2 0h3m7 0h3m-2 0h3m-77 1h3m47 0h3m0 0h3m1 0h3m2 0h3m23 0h3m-94 1h3m2 0h3m8 0h3m5 0h3m-2 0h3m-1 0h3m1 0h3m3 0h3m3 0h3m-1 0h3m0 0h3m0 0h3m-1 0h3m-1 0h3m-1 0h3m1 0h3m13 0h3m-2 0h3m-1 0h3m18 0h3m-75 1h3m4 0h3m9 0h3m16 0h3m29 0h3m0 0h3m-106 1h3m25 0h3m12 0h3m15 0h3m3 0h3m4 0h3m3 0h3m6 0h3m-92 1h3m21 0h3m9 0h3m6 0h3m-1 0h3m-2 0h3m9 0h3m-2 0h3m8 0h3m13 0h3m3 0h3m23 0h3m-121 1h3m8 0h3m0 0h3m8 0h3m2 0h3m18 0h3m2 0h3m-56 1h3m-1 0h3m13 0h3m-1 0h3m5 0h3m1 0h3m-1 0h3m2 0h3m-17 1h3m8 0h3m6 0h3m8 0h3m27 0h3m-96 1h3m-1 0h3m15 0h3m0 0h3m-1 0h3m5 0h3m6 0h3m-1 0h3m0 0h3m-1 0h3m-1 0h3m4 0h3m-40 1h3m6 0h3m-1 0h3m15 0h3m1 0h3m-2 0h3m8 0h3m9 0h3m0 0h3m1 0h3m14 0h3m-63 1h3m36 0h3m-62 1h3m8 0h3m24 0h3m29 0h3m-66 1h3m5 0h3m4 0h3m14 0h3m-2 0h3m12 0h3m-76 1h3m48 0h3m1 0h3m-2 0h3m0 0h3m-2 0h3m2 0h3m3 0h3m-2 0h3m-48 1h3m-2 0h3m10 0h3m27 0h3m17 0h3m31 0h3m-106 1h3m7 0h3m9 0h3m-2 0h3m0 0h3m-2 0h3m-1 0h3m19 0h3m3 0h3m-51 1h3m-1 0h3m6 0h3m20 0h3m-2 0h3m12 0h3m-71 1h3m15 0h3m11 0h3m-1 0h3m8 0h3m8 0h3m1 0h3m8 0h3m-78 1h3m10 0h3m22 0h3m-2 0h3m0 0h3m27 0h3m-67 1h3m3 0h3m5 0h3m10 0h3m-7 1h3m-46 1h3m16 0h3m2 0h3m3 0h3m12 0h3m0 0h3m0 0h3m2 0h3m8 0h3m12 0h3m9 0h3m-76 1h3m10 0h3m12 0h3m4 0h3m-2 0h3m31 0h3m-87 1h3m19 0h3m0 0h3m-2 0h3m0 0h3m16 0h3m34 0h3m-97 1h3m-2 0h3m21 0h3m3 0h3m6 0h3m25 0h3m1 0h3m10 0h3m23 0h3m5 0h3m-93 1h3m5 0h3m22 0h3m9 0h3m30 0h3m-66 1h3m9 0h3m5 0h3m-58 1h3m13 0h3m6 0h3m3 0h3m6 0h3m4 0h3m32 0h3m-74 1h3m75 0h3m-75 1h3m14 0h3m12 0h3m9 0h3m20 0h3m-55 1h3m6 0h3m1 0h3m15 0h3m11 0h3m-90 1h3m-2 0h3m24 0h3m12 0h3m2 0h3m33 0h3m-77 1h3m10 0h3m8 0h3m2 0h3m15 0h3m25 0h3m-40 1h3m1 0h3m-2 0h3m3 0h3m15 0h3m-69 1h3m2 0h3m14 0h3m16 0h3m2 0h3m11 0h3m8 0h3m-76 1h3m9 0h3m3 0h3m9 0h3m13 0h3m3 0h3m5 0h3m-47 1h3m12 0h3m26 0h3m0 0h3m-36 1h3m27 0h3m-38 1h3m-2 0h3m2 0h3m1 0h3m-12 1h3m20 0h3m37 0h3m-93 1h3m62 1h3m-38 1h3m5 0h3m0 0h3m-33 1h3m60 0h3m1 0h3m-65 1h3m5 0h3m10 0h3m-23 1h3m-18 1h3m22 0h3m47 0h3m16 1h3m-46 1h3m35 0h3m-27 1h3m10 0h3m-2 0h3m4 0h3m1 1h3m-19 1h3m-23 1h3m-14 1h3m31 0h3m-29 1h3m-3 1h3m5 0h3m-28 1h3m-2 1h3m3 1h3m11 0h3m19 1h3m-18 1h3m-50 1h3m13 0h3m1 1h3m-39 1h3m41 0h3m18 0h3m15 0h3m-30 2h3m-29 1h3m29 0h3m16 0h3m-44 1h3m12 0h3m-45 1h3m21 0h3" stroke="#60c860" stroke-width="3" opacity="0.4" fill="none"/>
<path transform="scale(0.25)" d="M1895 252.5h3m-30 2h3m8 0h3m-18 1h3m-4 1h3m9 0h3m20 0h3m-25 1h3m5 0h3m-37 2h3m32 1h3m19 0h3m-29 1h3m25 0h3m-49 1h3m16 0h3m-24 1h3m23 0h3m-26 1h3m15 0h3m0 0h3m-5 2h3m7 0h3m-20 1h3m12 0h3m3 0h3m16 1h3m-38 1h3m-14 1h3m16 0h3m0 0h3m-1 0h3m-27 1h3m9 1h3m-9 1h3m1 0h3m-11 1h3m37 0h3m-40 1h3m-2 0h3m1 0h3m-1 0h3m13 0h3m-32 1h3m11 0h3m-1 0h3m-6 1h3m-47 1h3m36 0h3m17 0h3m8 1h3m-41 1h3m4 0h3m9 0h3m8 0h3m-1 0h3m-31 2h3m-2 0h3m11 0h3m-1 0h3m-43 1h3m8 0h3m34 0h3m10 0h3m-29 1h3m4 0h3m-41 1h3m11 0h3m5 0h3m7 0h3m11 0h3m-49 1h3m28 0h3m13 1h3m1 0h3m9 0h3m-1 0h3m-43 1h3m2 0h3m7 0h3m-37 1h3m8 0h3m7 0h3m25 0h3m-59 1h3m26 0h3m2 0h3m-14 2h3m11 0h3m8 3h3m-21 1h3m-7 1h3m7 0h3m0 0h3m-3 1h3m-2 0h3m-13 1h3m23 1h3m-30 1h3m-11 3h3m34 0h3m-27 1h3m-12 1h3m19 0h3m3 0h3m-38 1h3m12 0h3m-11 1h3m8 0h3m18 0h3m-28 1h3m-2 0h3m-2 1h3m6 0h3m-11 3h3m12 3h3" stroke="#40d040" stroke-width="3" opacity="0.4" fill="none"/>
<path transform="scale(0.25)" d="M1944 257.5h3m42 9h3m17 0h3m-33 3h3m-1 7h3m19 0h3m-29 4h3m3 0h3m-5 1h3m-33 3h3m23 0h3m12 0h3m-37 1h3m3 2h3m17 1h3m-29 1h3m11 1h3m2 0h3m23 1h3m-32 1h3m-13 1h3m8 2h3m9 0h3m-2 0h3m-26 1h3m8 0h3m-17 1h3m4 0h3m1 0h3m9 2h3m-26 2h3m-7 1h3m35 0h3m-28 3h3m-2 0h3m-4 1h3m18 0h3m5 0h3m-21 1h3m4 0h3m-23 1h3m46 0h3m-38 1h3m24 0h3m-29 1h3m-2 1h3m-2 0h3m-35 1h3m37 0h3m-6 1h3m15 0h3m-49 2h3m10 0h3m0 0h3m1 0h3m-55 1h3m13 0h3m14 1h3m32 0h3m-27 1h3m-5 2h3m5 0h3m2 1h3m26 0h3m-36 2h3m9 2h3m-7 2h3m0 1h3m-46 1h3m22 0h3m-5 2h3m9 2h3m-13 3h3m-7 3h3m-11 2h3m27 2h3m-8 1h3m-4 2h3m-28 3h3m42 0h3" stroke="#70c870" stroke-width="3" opacity="0.3" fill="none"/>
<rect x="456.20" y="29.20" width="56.60" height="62.90" fill="none" stroke="#1a1a1a" stroke-width="1.7" />
<line x1="485.60" y1="29.20" x2="485.60" y2="92.10" stroke="#1a1a1a" stroke-width="1.7" />
<line x1="456.20" y1="66.10" x2="512.80" y2="66.10" stroke="#1a1a1a" stroke-width="1.7" />
<path d="M453.80 30.20h1.6M453.80 32.23h1.6M453.80 34.26h1.6M453.80 36.29h1.6M453.80 38.32h1.6M453.80 40.35h1.6M453.80 42.38h1.6M453.80 44.41h1.6M453.80 46.44h1.6M453.80 48.47h1.6M453.80 50.50h1.6M453.80 52.53h1.6M453.80 54.56h1.6M453.80 56.59h1.6M453.80 58.62h1.6M453.80 60.65h1.6M453.80 62.68h1.6M453.80 64.71h1.6M453.80 66.74h1.6M453.80 68.77h1.6M453.80 70.80h1.6M453.80 72.83h1.6M453.80 74.86h1.6M453.80 76.89h1.6M453.80 78.92h1.6M453.80 80.95h1.6M453.80 82.98h1.6M453.80 85.01h1.6M453.80 87.04h1.6M453.80 89.07h1.6M453.80 91.10h1.6" stroke="#000" stroke-width="0.6"/>
<path d="M457.20 92.90v1.6M459.47 92.90v1.6M461.75 92.90v1.6M464.02 92.90v1.6M466.30 92.90v1.6M468.57 92.90v1.6M470.85 92.90v1.6M473.12 92.90v1.6M475.40 92.90v1.6M477.67 92.90v1.6M479.95 92.90v1.6M482.22 92.90v1.6M484.50 92.90v1.6M486.77 92.90v1.6M489.05 92.90v1.6M491.32 92.90v1.6M493.60 92.90v1.6M495.87 92.90v1.6M498.15 92.90v1.6M500.42 92.90v1.6M502.70 92.90v1.6M504.97 92.90v1.6M507.25 92.90v1.6M509.52 92.90v1.6M511.80 92.90v1.6" stroke="#000" stroke-width="0.6"/>
<text x="468.90" y="57.75" font-size="6" fill="#1e1e1e" text-anchor="middle" stroke="#1e1e1e" stroke-width="0.15">Q1-2</text>
<text x="502.30" y="57.75" font-size="6" fill="#1e1e1e" text-anchor="middle" stroke="#1e1e1e" stroke-width="0.15">Q2-2</text>
<text x="468.90" y="81.55" font-size="6" fill="#1e1e1e" text-anchor="middle" stroke="#1e1e1e" stroke-width="0.15">Q3-2</text>
<text x="502.30" y="81.55" font-size="6" fill="#1e1e1e" text-anchor="middle" stroke="#1e1e1e" stroke-width="0.15">Q4-2</text>
<text x="503.30" y="90.72" font-size="9" fill="#c8303a" text-anchor="start">4</text>
<line x1="452.90" y1="32.60" x2="455.40" y2="32.60" stroke="#000" stroke-width="1.2" />
<line x1="452.90" y1="44.40" x2="455.40" y2="44.40" stroke="#000" stroke-width="1.2" />
<line x1="452.90" y1="56.20" x2="455.40" y2="56.20" stroke="#000" stroke-width="1.2" />
<line x1="452.90" y1="68.00" x2="455.40" y2="68.00" stroke="#000" stroke-width="1.2" />
<line x1="452.90" y1="79.80" x2="455.40" y2="79.80" stroke="#000" stroke-width="1.2" />
<text x="451.00" y="34.68" font-size="5.8" fill="#1e1e1e" text-anchor="end" stroke="#1e1e1e" stroke-width="0.1">250</text>
<text x="451.00" y="46.48" font-size="5.8" fill="#1e1e1e" text-anchor="end" stroke="#1e1e1e" stroke-width="0.1">200</text>
<text x="451.00" y="58.28" font-size="5.8" fill="#1e1e1e" text-anchor="end" stroke="#1e1e1e" stroke-width="0.1">150</text>
<text x="451.00" y="70.08" font-size="5.8" fill="#1e1e1e" text-anchor="end" stroke="#1e1e1e" stroke-width="0.1">100</text>
<text x="451.00" y="81.88" font-size="5.8" fill="#1e1e1e" text-anchor="end" stroke="#1e1e1e" stroke-width="0.1">50</text>
<line x1="463.80" y1="92.90" x2="463.80" y2="95.40" stroke="#000" stroke-width="1.2" />
<line x1="477.70" y1="92.90" x2="477.70" y2="95.40" stroke="#000" stroke-width="1.2" />
<line x1="492.30" y1="92.90" x2="492.30" y2="95.40" stroke="#000" stroke-width="1.2" />
<line x1="506.20" y1="92.90" x2="506.20" y2="95.40" stroke="#000" stroke-width="1.2" />
<text x="463.80" y="103.08" font-size="5.8" fill="#1e1e1e" text-anchor="middle">10<tspan font-size="3.48" dy="-2.32">2</tspan></text>
<text x="477.70" y="103.08" font-size="5.8" fill="#1e1e1e" text-anchor="middle">10<tspan font-size="3.48" dy="-2.32">3</tspan></text>
<text x="492.30" y="103.08" font-size="5.8" fill="#1e1e1e" text-anchor="middle">10<tspan font-size="3.48" dy="-2.32">4</tspan></text>
<text x="506.20" y="103.08" font-size="5.8" fill="#1e1e1e" text-anchor="middle">10<tspan font-size="3.48" dy="-2.32">5</tspan></text>
<text x="470.00" y="113.78" font-size="7.2" fill="#141414" text-anchor="start" textLength="29.2" lengthAdjust="spacingAndGlyphs" stroke="#141414" stroke-width="0.18">CD34 APC-A</text>
<text transform="translate(436.20,60.40) rotate(-90)" x="0" y="2.94" font-size="8.2" fill="#141414" text-anchor="middle" textLength="14" lengthAdjust="spacingAndGlyphs" stroke="#141414" stroke-width="0.2">SSC-A</text>
<text transform="translate(435.90,41.20) rotate(-90)" x="0" y="1.86" font-size="5.2" fill="#1e1e1e" text-anchor="middle" textLength="23.5" lengthAdjust="spacingAndGlyphs" stroke="#1e1e1e" stroke-width="0.1">(x 1,000)</text>
<path transform="scale(0.25)" d="M300 561.5h3m-29 5h3m-12 6h3m49 3h3m-34 1h3m9 0h3m-24 1h3m52 1h3m-22 5h3m-1 0h3m-19 2h3m21 0h3m-39 1h3m11 1h3m0 1h3m-41 1h3m40 0h3m-63 1h3m53 0h3m-23 1h3m1 0h3m-31 1h3m32 0h3m12 0h3m-62 4h3m14 0h3m-1 0h3m8 0h3m11 0h3m0 0h3m12 0h3m-56 1h3m3 0h3m-1 0h3m33 0h3m-2 1h3m-1 0h3m-71 1h3m19 0h3m-1 0h3m2 0h3m43 0h3m4 0h3m-8 1h3m-18 1h3m-1 0h3m2 0h3m19 0h3m-48 1h3m9 0h3m-37 1h3m2 0h3m10 1h3m14 0h3m-26 1h3m3 0h3m-17 1h3m31 0h3m-19 1h3m-2 0h3m-1 0h3m9 0h3m2 0h3m-88 1h3m34 0h3m-1 0h3m-1 0h3m3 0h3m9 0h3m-1 0h3m17 0h3m4 0h3m4 0h3m-25 1h3m-51 1h3m8 0h3m22 0h3m29 0h3m1 0h3m-1 0h3m-54 1h3m6 0h3m10 0h3m-2 1h3m1 0h3m-6 1h3m10 0h3m10 0h3m16 0h3m-55 1h3m38 0h3m-57 1h3m5 0h3m-45 1h3m39 0h3m13 0h3m3 0h3m1 0h3m0 0h3m7 0h3m14 0h3m-52 1h3m24 0h3m0 0h3m-2 0h3m6 0h3m-60 1h3m13 0h3m3 0h3m14 0h3m-62 1h3m0 0h3m10 0h3m-1 0h3m25 0h3m8 0h3m0 0h3m-1 0h3m-33 1h3m0 0h3m-1 0h3m7 0h3m4 0h3m-34 1h3m30 0h3m-51 1h3m0 0h3m44 0h3m-2 0h3m5 0h3m-73 1h3m-1 0h3m16 0h3m0 0h3m17 0h3m14 0h3m28 0h3m-55 1h3m-1 0h3m-2 0h3m8 0h3m-2 0h3m4 0h3m-59 1h3m3 0h3m15 0h3m4 0h3m-2 0h3m8 0h3m-2 0h3m0 0h3m-2 0h3m3 0h3m4 0h3m21 0h3m-52 1h3m2 0h3m-2 0h3m1 0h3m11 0h3m-1 0h3m-1 0h3m9 0h3m-87 1h3m39 0h3m6 0h3m5 0h3m7 0h3m0 0h3m10 0h3m-1 0h3m-109 1h3m23 0h3m11 0h3m15 0h3m0 0h3m-2 0h3m1 0h3m-71 1h3m13 0h3m10 0h3m0 0h3m14 0h3m-2 0h3m-1 0h3m4 0h3m-1 0h3m0 0h3m6 0h3m-2 0h3m-2 0h3m0 0h3m-2 0h3m23 0h3m-2 0h3m-64 1h3m22 0h3m30 0h3m7 0h3m-67 1h3m0 0h3m0 0h3m0 0h3m-1 0h3m4 0h3m16 0h3m1 0h3m12 0h3m-2 0h3m-85 1h3m17 0h3m-2 0h3m-2 0h3m2 0h3m20 0h3m-2 0h3m7 0h3m0 0h3m15 0h3m-76 1h3m2 0h3m4 0h3m12 0h3m7 0h3m4 0h3m-1 0h3m-2 0h3m-1 0h3m14 0h3m11 0h3m-65 1h3m4 0h3m0 0h3m6 0h3m3 0h3m1 0h3m20 0h3m-85 1h3m1 0h3m10 0h3m12 0h3m3 0h3m12 0h3m-1 0h3m-2 0h3m-2 0h3m9 0h3m4 0h3m-1 0h3m-2 0h3m-66 1h3m1 0h3m-2 0h3m0 0h3m15 0h3m17 0h3m8 0h3m-1 0h3m8 0h3m-80 1h3m14 0h3m5 0h3m3 0h3m-2 0h3m5 0h3m10 0h3m16 0h3m4 0h3m-91 1h3m2 0h3m0 0h3m23 0h3m-2 0h3m6 0h3m1 0h3m0 0h3m-1 0h3m-2 0h3m-2 0h3m-1 0h3m2 0h3m0 0h3m5 0h3m2 0h3m-77 1h3m-1 0h3m23 0h3m-1 0h3m-2 0h3m11 0h3m-2 0h3m5 0h3m-1 0h3m1 0h3m21 0h3m-49 1h3m2 0h3m-2 0h3m16 0h3m2 0h3m-1 0h3m5 0h3m11 0h3m-114 1h3m27 0h3m-1 0h3m16 0h3m8 0h3m2 0h3m6 0h3m11 0h3m-1 0h3m0 0h3m-99 1h3m42 0h3m-1 0h3m12 0h3m8 0h3m-2 0h3m-2 0h3m1 0h3m6 0h3m12 0h3m2 0h3m-91 1h3m9 0h3m-2 0h3m9 0h3m-1 0h3m8 0h3m-2 0h3m2 0h3m-1 0h3m2 0h3m0 0h3m2 0h3m-1 0h3m3 0h3m-76 1h3m24 0h3m1 0h3m7 0h3m2 0h3m4 0h3m-1 0h3m4 0h3m-1 0h3m-1 0h3m13 0h3m0 0h3m9 0h3m-102 1h3m37 0h3m0 0h3m3 0h3m7 0h3m0 0h3m0 0h3m-1 0h3m3 0h3m1 0h3m0 0h3m17 0h3m-113 1h3m2 0h3m15 0h3m-1 0h3m10 0h3m-1 0h3m-1 0h3m-1 0h3m-1 0h3m-1 0h3m-1 0h3m-2 0h3m1 0h3m0 0h3m2 0h3m6 0h3m-2 0h3m0 0h3m0 0h3m-1 0h3m-2 0h3m7 0h3m1 0h3m-75 1h3m1 0h3m0 0h3m24 0h3m10 0h3m2 0h3m11 0h3m-2 0h3m-2 0h3m-1 0h3m0 0h3m-79 1h3m13 0h3m4 0h3m-2 0h3m-2 0h3m-1 0h3m0 0h3m-1 0h3m0 0h3m0 0h3m7 0h3m6 0h3m-2 0h3m2 0h3m-82 1h3m23 0h3m16 0h3m-1 0h3m2 0h3m-2 0h3m0 0h3m10 0h3m0 0h3m2 0h3m1 0h3m13 0h3m2 0h3m-74 1h3m31 0h3m-1 0h3m-1 0h3m6 0h3m14 0h3m-79 1h3m8 0h3m3 0h3m-1 0h3m11 0h3m1 0h3m-2 0h3m-2 0h3m0 0h3m8 0h3m0 0h3m-2 0h3m0 0h3m-1 0h3m-1 0h3m3 0h3m2 0h3m-79 1h3m0 0h3m0 0h3m1 0h3m8 0h3m5 0h3m1 0h3m5 0h3m-2 0h3m5 0h3m0 0h3m-2 0h3m4 0h3m0 0h3m1 0h3m-50 1h3m-2 0h3m1 0h3m17 0h3m4 0h3m-2 0h3m4 0h3m-1 0h3m-2 0h3m-2 0h3m-2 0h3m-68 1h3m23 0h3m-2 0h3m4 0h3m0 0h3m1 0h3m9 0h3m0 0h3m2 0h3m10 0h3m-99 1h3m23 0h3m10 0h3m1 0h3m4 0h3m1 0h3m-2 0h3m-2 0h3m0 0h3m1 0h3m-2 0h3m10 0h3m0 0h3m3 0h3m-64 1h3m1 0h3m4 0h3m2 0h3m2 0h3m4 0h3m3 0h3m13 0h3m10 0h3m-100 1h3m40 0h3m0 0h3m-2 0h3m-2 0h3m-1 0h3m-2 0h3m-1 0h3m-2 0h3m2 0h3m7 0h3m-1 0h3m-2 0h3m-1 0h3m-1 0h3m6 0h3m-2 0h3m3 0h3m-1 0h3m-1 0h3m-1 0h3m-50 1h3m-2 0h3m9 0h3m-1 0h3m4 0h3m2 0h3m9 0h3m-2 0h3m1 0h3m-2 0h3m6 0h3m-1 0h3m-105 1h3m43 0h3m0 0h3m-2 0h3m0 0h3m-2 0h3m-1 0h3m4 0h3m-1 0h3m3 0h3m3 0h3m2 0h3m4 0h3m-2 0h3m-103 1h3m8 0h3m28 0h3m7 0h3m2 0h3m1 0h3m7 0h3m3 0h3m6 0h3m-1 0h3m-1 0h3m-1 0h3m-1 0h3m-1 0h3m-1 0h3m5 0h3m0 0h3m0 0h3m-62 1h3m-1 0h3m5 0h3m4 0h3m1 0h3m0 0h3m9 0h3m-1 0h3m-1 0h3m-2 0h3m-2 0h3m-2 0h3m0 0h3m-2 0h3m13 0h3m3 0h3m-95 1h3m27 0h3m3 0h3m4 0h3m-1 0h3m-2 0h3m4 0h3m-2 0h3m4 0h3m-2 0h3m4 0h3m3 0h3m7 0h3m0 0h3m-93 1h3m17 0h3m7 0h3m1 0h3m-2 0h3m7 0h3m3 0h3m-2 0h3m3 0h3m-1 0h3m5 0h3m-1 0h3m-2 0h3m-2 0h3m-47 1h3m3 0h3m2 0h3m2 0h3m-2 0h3m6 0h3m1 0h3m5 0h3m6 0h3m1 0h3m-2 0h3m0 0h3m1 0h3m-74 1h3m-2 0h3m5 0h3m2 0h3m20 0h3m8 0h3m0 0h3m2 0h3m6 0h3m1 0h3m-93 1h3m17 0h3m-2 0h3m0 0h3m5 0h3m1 0h3m-1 0h3m-1 0h3m2 0h3m12 0h3m6 0h3m8 0h3m-1 0h3m0 0h3m-1 0h3m0 0h3m-96 1h3m34 0h3m-2 0h3m-2 0h3m4 0h3m0 0h3m-1 0h3m0 0h3m0 0h3m-1 0h3m-1 0h3m-2 0h3m-1 0h3m-2 0h3m5 0h3m4 0h3m3 0h3m1 0h3m3 0h3m-86 1h3m14 0h3m2 0h3m-1 0h3m7 0h3m-1 0h3m0 0h3m-1 0h3m5 0h3m-1 0h3m-1 0h3m-1 0h3m-1 0h3m-1 0h3m-1 0h3m-1 0h3m1 0h3m3 0h3m3 0h3m-80 1h3m3 0h3m15 0h3m17 0h3m7 0h3m15 0h3m-1 0h3m2 0h3m4 0h3m-80 1h3m7 0h3m0 0h3m5 0h3m-2 0h3m3 0h3m3 0h3m4 0h3m-2 0h3m-2 0h3m0 0h3m-2 0h3m-1 0h3m1 0h3m-1 0h3m-1 0h3m13 0h3m-64 1h3m0 0h3m-1 0h3m1 0h3m1 0h3m-1 0h3m0 0h3m1 0h3m3 0h3m0 0h3m-1 0h3m-2 0h3m7 0h3m4 0h3m2 0h3m-2 0h3m-105 1h3m33 0h3m-1 0h3m6 0h3m3 0h3m0 0h3m2 0h3m0 0h3m1 0h3m-1 0h3m30 0h3m-2 0h3m-84 1h3m3 0h3m1 0h3m9 0h3m-2 0h3m-2 0h3m0 0h3m-2 0h3m-1 0h3m6 0h3m-1 0h3m-1 0h3m1 0h3m0 0h3m2 0h3m-1 0h3m-2 0h3m-2 0h3m2 0h3m2 0h3m1 0h3m13 0h3m-115 1h3m25 0h3m4 0h3m1 0h3m2 0h3m0 0h3m6 0h3m11 0h3m-2 0h3m-1 0h3m-1 0h3m13 0h3m-1 0h3m8 0h3m-96 1h3m20 0h3m0 0h3m-1 0h3m-1 0h3m-2 0h3m5 0h3m-2 0h3m1 0h3m-2 0h3m9 0h3m-2 0h3m6 0h3m8 0h3m1 0h3m-1 0h3m-1 0h3m-78 1h3m16 0h3m-1 0h3m7 0h3m-1 0h3m13 0h3m-2 0h3m-1 0h3m22 0h3m-2 0h3m-2 0h3m5 0h3m-100 1h3m15 0h3m6 0h3m12 0h3m7 0h3m-1 0h3m3 0h3m3 0h3m18 0h3m4 0h3m-2 0h3m-70 1h3m3 0h3m10 0h3m-1 0h3m-2 0h3m12 0h3m1 0h3m1 0h3m12 0h3m-2 0h3m-97 1h3m22 0h3m7 0h3m8 0h3m-2 0h3m4 0h3m3 0h3m-2 0h3m-2 0h3m-2 0h3m3 0h3m-2 0h3m8 0h3m7 0h3m-58 1h3m1 0h3m0 0h3m9 0h3m-2 0h3m-2 0h3m9 0h3m-2 0h3m2 0h3m1 0h3m-1 0h3m1 0h3m0 0h3m8 0h3m-68 1h3m-1 0h3m14 0h3m-1 0h3m0 0h3m-2 0h3m8 0h3m2 0h3m10 0h3m4 0h3m-62 1h3m3 0h3m15 0h3m-1 0h3m7 0h3m-1 0h3m5 0h3m-1 0h3m6 0h3m1 0h3m-41 1h3m-1 0h3m-2 0h3m29 0h3m4 0h3m-79 1h3m17 0h3m0 0h3m1 0h3m20 0h3m3 0h3m9 0h3m1 0h3m-78 1h3m8 0h3m-2 0h3m17 0h3m-2 0h3m0 0h3m0 0h3m-1 0h3m-1 0h3m-1 0h3m3 0h3m0 0h3m5 0h3m-1 0h3m3 0h3m-78 1h3m4 0h3m14 0h3m2 0h3m4 0h3m1 0h3m-2 0h3m-2 0h3m-1 0h3m8 0h3m-2 0h3m0 0h3m1 0h3m1 0h3m6 0h3m-2 0h3m-56 1h3m1 0h3m0 0h3m0 0h3m-1 0h3m7 0h3m-2 0h3m-1 0h3m-1 0h3m-2 0h3m3 0h3m-2 0h3m13 0h3m-63 1h3m0 0h3m-2 0h3m10 0h3m-1 0h3m4 0h3m-1 0h3m7 0h3m0 0h3m2 0h3m-2 0h3m3 0h3m0 0h3m-1 0h3m-60 1h3m2 0h3m3 0h3m-2 0h3m-1 0h3m1 0h3m2 0h3m4 0h3m0 0h3m1 0h3m-1 0h3m1 0h3m-1 0h3m-2 0h3m0 0h3m-1 0h3m6 0h3m-76 1h3m2 0h3m19 0h3m3 0h3m0 0h3m6 0h3m-2 0h3m3 0h3m-2 0h3m5 0h3m-75 1h3m5 0h3m16 0h3m2 0h3m0 0h3m4 0h3m6 0h3m-1 0h3m-1 0h3m3 0h3m0 0h3m-2 0h3m-1 0h3m-1 0h3m3 0h3m-73 1h3m6 0h3m0 0h3m9 0h3m4 0h3m17 0h3m13 0h3m7 0h3m-2 0h3m-52 1h3m0 0h3m17 0h3m-2 0h3m1 0h3m0 0h3m0 0h3m-2 0h3m-2 0h3m-1 0h3m12 0h3m-65 1h3m10 0h3m1 0h3m-2 0h3m8 0h3m4 0h3m0 0h3m0 0h3m-1 0h3m-1 0h3m-1 0h3m-93 1h3m43 0h3m7 0h3m-2 0h3m13 0h3m1 0h3m2 0h3m-2 0h3m5 0h3m1 0h3m10 0h3m-80 1h3m-1 0h3m24 0h3m0 0h3m5 0h3m1 0h3m3 0h3m20 0h3m4 0h3m-2 0h3m-73 1h3m16 0h3m-2 0h3m6 0h3m0 0h3m-1 0h3m-2 0h3m3 0h3m15 0h3m6 0h3m-74 1h3m1 0h3m9 0h3m-1 0h3m9 0h3m0 0h3m-14 1h3m4 0h3m-2 0h3m-2 0h3m-2 0h3m-2 0h3m13 0h3m-1 0h3m3 0h3m5 0h3m-58 1h3m6 0h3m1 0h3m-2 0h3m4 0h3m7 0h3m-1 0h3m4 0h3m0 0h3m8 0h3m5 0h3m-57 1h3m9 0h3m5 0h3m10 0h3m-1 0h3m8 0h3m-2 0h3m5 0h3m-80 1h3m4 0h3m26 0h3m2 0h3m-1 0h3m11 0h3m5 0h3m-1 0h3m-68 1h3m2 0h3m2 0h3m2 0h3m12 0h3m2 0h3m-2 0h3m-1 0h3m-2 0h3m13 0h3m1 0h3m6 0h3m1 0h3m-72 1h3m26 0h3m0 0h3m15 0h3m-2 0h3m-2 0h3m9 0h3m1 0h3m-90 1h3m16 0h3m4 0h3m12 0h3m0 0h3m31 0h3m-2 0h3m9 0h3m-111 1h3m12 0h3m32 0h3m11 0h3m3 0h3m4 0h3m-2 0h3m16 0h3m1 0h3m-1 0h3m-75 2h3m34 0h3m1 0h3m-2 0h3m5 0h3m10 0h3m2 0h3m6 0h3m-73 1h3m-1 0h3m1 0h3m17 0h3m-1 0h3m3 0h3m4 0h3m9 0h3m-86 1h3m19 0h3m0 0h3m4 0h3m-2 0h3m-2 0h3m13 0h3m-1 0h3m4 0h3m11 0h3m-2 0h3m2 0h3m-1 0h3m-65 1h3m2 0h3m15 0h3m8 0h3m20 0h3m5 0h3m3 0h3m-24 1h3m-2 0h3m0 0h3m2 0h3m0 0h3m7 0h3m-1 0h3m-60 1h3m-1 0h3m18 0h3m-1 0h3m0 0h3m1 0h3m18 0h3m-81 1h3m29 0h3m0 0h3m5 0h3m5 0h3m5 0h3m25 0h3m-71 1h3m7 0h3m0 0h3m10 0h3m3 0h3m7 0h3m-26 1h3m11 0h3m8 0h3m12 0h3m-1 0h3m-47 1h3m10 0h3m8 0h3m9 0h3m-55 1h3m8 0h3m11 0h3m24 0h3m5 0h3m-62 1h3m30 0h3m25 0h3m3 0h3m-100 1h3m25 0h3m9 0h3m15 0h3m16 0h3m3 0h3m-83 1h3m12 0h3m19 0h3m8 0h3m4 0h3m2 0h3m27 0h3m1 0h3m-95 1h3m20 0h3m24 0h3m10 0h3m5 0h3m16 0h3m-88 1h3m9 0h3m10 0h3m-1 0h3m15 0h3m2 0h3m7 0h3m12 0h3m-104 1h3m43 0h3m17 0h3m21 0h3m-2 0h3m3 0h3m6 0h3m-1 0h3m-66 1h3m54 0h3m-54 1h3m-1 0h3m26 0h3m-20 1h3m18 0h3m25 0h3m-71 1h3m23 0h3m1 0h3m34 0h3m-91 1h3m20 0h3m2 0h3m2 0h3m8 0h3m0 0h3m10 0h3m23 0h3m-94 1h3m72 0h3m-39 1h3m-2 0h3m26 0h3m0 0h3m-68 1h3m30 0h3m7 0h3m3 0h3m0 0h3m-2 0h3m-13 1h3m6 0h3m1 0h3m17 0h3m5 0h3m-35 1h3m22 0h3m-46 1h3m31 0h3m-50 1h3m6 0h3m8 0h3m26 0h3m-27 1h3m4 0h3m22 0h3m-49 1h3m39 0h3m-64 1h3m41 0h3m14 0h3m-20 1h3m16 0h3m-28 2h3m6 0h3m24 0h3m-37 1h3m-20 1h3m21 1h3m3 0h3m14 0h3m-44 1h3m40 0h3m-49 1h3m3 0h3m16 0h3m2 1h3m-17 1h3m-37 1h3m9 3h3m10 2h3m-36 2h3m49 3h3m11 3h3m-11 1h3m-13 3h3m17 0h3m-38 1h3m-11 1h3m19 7h3m9 1h3m2 15h3" stroke="#20c020" stroke-width="3" opacity="0.6" fill="none"/>
<path transform="scale(0.25)" d="M280 603.5h3m8 8h3m35 2h3m-21 1h3m-9 1h3m17 0h3m-21 4h3m6 4h3m-13 5h3m17 2h3m5 0h3m-12 5h3m-11 1h3m8 0h3m-2 0h3m-52 1h3m43 0h3m-16 1h3m0 0h3m-49 1h3m57 0h3m-34 1h3m-8 1h3m0 1h3m12 1h3m7 1h3m8 0h3m-2 0h3m1 0h3m1 0h3m-34 2h3m2 0h3m-4 1h3m13 0h3m-29 1h3m6 0h3m1 0h3m17 0h3m-1 0h3m-47 1h3m11 0h3m-4 1h3m11 0h3m-30 1h3m11 0h3m-1 0h3m23 0h3m-57 1h3m30 0h3m7 0h3m-36 1h3m18 0h3m-14 1h3m14 0h3m8 0h3m-48 1h3m7 0h3m34 0h3m-44 1h3m7 0h3m2 0h3m15 0h3m-38 1h3m4 0h3m11 0h3m5 0h3m1 0h3m1 0h3m11 0h3m-43 1h3m5 0h3m1 0h3m9 0h3m1 0h3m1 0h3m-31 1h3m3 0h3m11 0h3m-41 1h3m46 0h3m-54 1h3m13 0h3m1 0h3m5 0h3m9 0h3m-69 1h3m32 0h3m3 0h3m2 0h3m6 0h3m1 0h3m-2 0h3m-22 1h3m-2 0h3m3 0h3m-1 0h3m15 0h3m-2 0h3m7 0h3m-72 1h3m25 0h3m0 0h3m-2 0h3m7 0h3m6 0h3m10 0h3m-1 0h3m-2 0h3m-53 1h3m11 0h3m-2 0h3m9 0h3m11 0h3m2 0h3m-73 1h3m35 0h3m9 0h3m-1 0h3m7 0h3m-2 0h3m10 0h3m0 0h3m-67 1h3m9 0h3m-1 0h3m12 0h3m5 0h3m11 0h3m5 0h3m-64 1h3m16 0h3m23 0h3m-46 1h3m6 0h3m-1 0h3m15 0h3m7 0h3m0 0h3m16 0h3m-55 1h3m11 0h3m0 0h3m21 0h3m-47 1h3m9 0h3m15 0h3m7 0h3m3 0h3m-48 1h3m1 0h3m11 0h3m-1 0h3m1 0h3m10 0h3m-1 0h3m3 0h3m7 0h3m-41 1h3m4 0h3m11 0h3m-27 1h3m-2 0h3m5 0h3m5 0h3m-2 0h3m-1 0h3m-2 0h3m1 0h3m-1 0h3m8 0h3m-60 1h3m4 0h3m8 0h3m-1 0h3m1 0h3m-2 0h3m1 0h3m8 0h3m3 0h3m2 0h3m-39 1h3m-2 0h3m1 0h3m4 0h3m-1 0h3m-2 0h3m1 0h3m-1 0h3m3 0h3m10 0h3m-41 1h3m0 0h3m-2 0h3m-2 0h3m3 0h3m6 0h3m2 0h3m-34 1h3m2 0h3m2 0h3m-1 0h3m0 0h3m0 0h3m1 0h3m-2 0h3m-1 0h3m0 0h3m0 0h3m-1 0h3m3 0h3m-1 0h3m-49 1h3m28 0h3m0 0h3m-2 0h3m2 0h3m2 0h3m-2 0h3m-45 1h3m16 0h3m1 0h3m-1 0h3m2 0h3m5 0h3m-33 1h3m5 0h3m5 0h3m1 0h3m-1 0h3m3 0h3m12 0h3m-61 1h3m9 0h3m-2 0h3m11 0h3m0 0h3m2 0h3m-1 0h3m0 0h3m-1 0h3m-1 0h3m-52 1h3m21 0h3m16 0h3m1 0h3m4 0h3m-72 1h3m25 0h3m3 0h3m3 0h3m2 0h3m2 0h3m-1 0h3m4 0h3m-2 0h3m6 0h3m3 0h3m-51 1h3m16 0h3m0 0h3m-1 0h3m0 0h3m0 0h3m0 0h3m-2 0h3m1 0h3m-2 0h3m8 0h3m-44 1h3m9 0h3m-2 0h3m10 0h3m4 0h3m5 0h3m-36 1h3m4 0h3m6 0h3m5 0h3m-2 0h3m-49 1h3m13 0h3m-2 0h3m-2 0h3m7 0h3m3 0h3m-1 0h3m1 0h3m13 0h3m-53 1h3m9 0h3m-2 0h3m9 0h3m-1 0h3m-1 0h3m-2 0h3m-1 0h3m-42 1h3m0 0h3m-1 0h3m1 0h3m-2 0h3m7 0h3m-1 0h3m-2 0h3m-2 0h3m0 0h3m-1 0h3m-1 0h3m8 0h3m0 0h3m1 0h3m-2 0h3m-44 1h3m4 0h3m6 0h3m-2 0h3m2 0h3m1 0h3m-2 0h3m-2 0h3m2 0h3m-2 0h3m-55 1h3m3 0h3m0 0h3m1 0h3m0 0h3m1 0h3m-2 0h3m-1 0h3m1 0h3m4 0h3m-2 0h3m2 0h3m4 0h3m-2 0h3m-1 0h3m14 0h3m-62 1h3m8 0h3m-1 0h3m1 0h3m5 0h3m-1 0h3m-1 0h3m0 0h3m7 0h3m-1 0h3m-2 0h3m-2 0h3m-38 1h3m8 0h3m1 0h3m0 0h3m4 0h3m-2 0h3m1 0h3m8 0h3m3 0h3m-65 1h3m0 0h3m9 0h3m3 0h3m-2 0h3m1 0h3m-1 0h3m-2 0h3m0 0h3m-1 0h3m-2 0h3m5 0h3m0 0h3m1 0h3m-2 0h3m3 0h3m-60 1h3m1 0h3m3 0h3m8 0h3m3 0h3m5 0h3m3 0h3m-2 0h3m1 0h3m-54 1h3m0 0h3m2 0h3m6 0h3m2 0h3m0 0h3m0 0h3m-2 0h3m-1 0h3m-1 0h3m-1 0h3m-2 0h3m9 0h3m-1 0h3m4 0h3m0 0h3m-68 1h3m10 0h3m11 0h3m-1 0h3m-1 0h3m6 0h3m-1 0h3m-2 0h3m-2 0h3m3 0h3m7 0h3m4 0h3m2 0h3m-48 1h3m0 0h3m-2 0h3m-1 0h3m0 0h3m9 0h3m12 0h3m3 0h3m-42 1h3m1 0h3m1 0h3m1 0h3m1 0h3m-2 0h3m2 0h3m-1 0h3m-2 0h3m-2 0h3m-2 0h3m-46 1h3m6 0h3m7 0h3m3 0h3m0 0h3m4 0h3m1 0h3m2 0h3m2 0h3m4 0h3m-1 0h3m-76 1h3m11 0h3m1 0h3m13 0h3m1 0h3m-2 0h3m4 0h3m-1 0h3m2 0h3m1 0h3m1 0h3m-47 1h3m-1 0h3m-2 0h3m9 0h3m-1 0h3m1 0h3m1 0h3m-1 0h3m-2 0h3m8 0h3m0 0h3m0 0h3m1 0h3m3 0h3m-50 1h3m0 0h3m4 0h3m4 0h3m-2 0h3m5 0h3m3 0h3m0 0h3m0 0h3m-2 0h3m-2 0h3m-49 1h3m1 0h3m8 0h3m4 0h3m3 0h3m-2 0h3m-2 0h3m2 0h3m2 0h3m8 0h3m-77 1h3m0 0h3m11 0h3m13 0h3m7 0h3m0 0h3m0 0h3m-2 0h3m4 0h3m0 0h3m8 0h3m-50 1h3m0 0h3m-1 0h3m5 0h3m9 0h3m2 0h3m-1 0h3m-1 0h3m-1 0h3m8 0h3m-2 0h3m-40 1h3m-2 0h3m3 0h3m1 0h3m-2 0h3m-2 0h3m7 0h3m-1 0h3m-1 0h3m1 0h3m-90 1h3m27 0h3m12 0h3m0 0h3m10 0h3m19 0h3m3 0h3m-2 0h3m-49 1h3m3 0h3m-1 0h3m4 0h3m2 0h3m3 0h3m1 0h3m3 0h3m2 0h3m-48 1h3m6 0h3m8 0h3m0 0h3m3 0h3m-2 0h3m11 0h3m-1 0h3m1 0h3m-1 0h3m3 0h3m-43 1h3m2 0h3m1 0h3m10 0h3m6 0h3m-2 0h3m0 0h3m-58 1h3m4 0h3m-2 0h3m-1 0h3m10 0h3m0 0h3m0 0h3m0 0h3m5 0h3m3 0h3m-2 0h3m-2 0h3m-55 1h3m12 0h3m0 0h3m3 0h3m2 0h3m3 0h3m18 0h3m4 0h3m-74 1h3m30 0h3m8 0h3m6 0h3m-34 1h3m6 0h3m4 0h3m-2 0h3m-1 0h3m-2 0h3m12 0h3m1 0h3m0 0h3m-57 1h3m7 0h3m-1 0h3m15 0h3m0 0h3m2 0h3m7 0h3m-2 0h3m-2 0h3m-50 1h3m0 0h3m6 0h3m7 0h3m2 0h3m0 0h3m10 0h3m-28 1h3m0 0h3m14 0h3m11 0h3m-47 1h3m1 0h3m-1 0h3m7 0h3m5 0h3m0 0h3m0 0h3m0 0h3m5 0h3m-2 0h3m-55 1h3m5 0h3m13 0h3m15 0h3m1 0h3m5 0h3m1 0h3m-51 1h3m4 0h3m-2 0h3m0 0h3m7 0h3m0 0h3m16 0h3m-40 1h3m10 0h3m1 0h3m-2 0h3m3 0h3m-1 0h3m-1 0h3m-39 1h3m7 0h3m23 0h3m0 0h3m7 0h3m-43 1h3m1 0h3m-1 0h3m1 0h3m2 0h3m10 0h3m-1 0h3m1 0h3m-72 1h3m33 0h3m-2 0h3m-1 0h3m5 0h3m9 0h3m7 0h3m-56 1h3m9 0h3m7 0h3m0 0h3m27 0h3m-1 0h3m-2 0h3m-51 1h3m3 0h3m3 0h3m11 0h3m-2 0h3m5 0h3m3 0h3m9 0h3m-65 1h3m12 0h3m8 0h3m18 0h3m-2 0h3m-1 0h3m8 0h3m-59 1h3m12 0h3m4 0h3m1 0h3m12 0h3m-43 1h3m6 0h3m2 0h3m-2 0h3m-2 0h3m24 0h3m-1 0h3m-40 1h3m7 0h3m0 0h3m6 0h3m-2 0h3m-2 0h3m-20 1h3m8 0h3m9 0h3m-28 1h3m12 0h3m-2 0h3m4 0h3m-24 1h3m8 0h3m-2 0h3m-2 0h3m-1 0h3m8 0h3m-38 1h3m1 0h3m31 0h3m9 0h3m-41 1h3m5 0h3m-2 0h3m13 1h3m-28 1h3m7 0h3m7 0h3m10 0h3m-2 0h3m-60 1h3m-1 0h3m20 0h3m9 0h3m6 0h3m-21 1h3m-3 1h3m0 0h3m4 0h3m1 0h3m-2 0h3m-46 1h3m17 0h3m4 0h3m3 0h3m13 0h3m-27 1h3m-1 0h3m13 0h3m-1 0h3m10 0h3m-2 0h3m-36 1h3m19 0h3m9 2h3m-39 1h3m11 1h3m13 0h3m-26 1h3m-36 1h3m28 0h3m-16 1h3m14 0h3m4 0h3m18 0h3m-7 1h3m-33 1h3m1 0h3m-14 2h3m0 0h3m0 1h3m5 0h3m16 0h3m-17 1h3m3 0h3m12 0h3m-27 1h3m-11 3h3m-12 1h3m11 0h3m6 1h3m-48 2h3m54 0h3m-54 5h3m49 1h3m-49 1h3m9 0h3m11 1h3m-18 9h3m13 5h3" stroke="#10d010" stroke-width="3" opacity="0.8" fill="none"/>
<path transform="scale(0.25)" d="M209 649.5h3m31 2h3m-36 5h3m5 2h3m13 1h3m-39 1h3m-5 1h3m16 2h3m14 2h3m14 4h3m-23 1h3m27 0h3m-29 1h3m-22 1h3m40 0h3m-17 1h3m-8 2h3m-10 1h3m13 1h3m-23 1h3m14 0h3m-18 1h3m17 0h3m-18 3h3m-18 1h3m4 0h3m2 0h3m15 0h3m-20 1h3m0 0h3m0 0h3m3 0h3m-39 1h3m66 0h3m-75 1h3m1 0h3m4 0h3m37 0h3m-41 1h3m20 0h3m3 0h3m-35 1h3m9 0h3m16 0h3m6 0h3m-63 1h3m26 0h3m42 0h3m-25 1h3m9 0h3m15 0h3m-57 1h3m16 0h3m18 0h3m-10 1h3m4 0h3m-22 1h3m-2 0h3m10 0h3m-28 1h3m3 0h3m18 0h3m-37 1h3m13 0h3m0 0h3m11 0h3m8 0h3m-83 1h3m25 0h3m19 0h3m-17 1h3m12 0h3m2 0h3m1 0h3m3 0h3m5 0h3m2 0h3m-39 1h3m1 0h3m7 0h3m11 0h3m-50 1h3m6 0h3m11 0h3m-1 0h3m3 0h3m8 0h3m-1 0h3m-52 1h3m19 0h3m0 0h3m-2 0h3m-1 0h3m7 0h3m1 0h3m-6 1h3m1 0h3m-1 0h3m5 0h3m-2 0h3m-27 1h3m3 0h3m-32 1h3m13 0h3m-2 0h3m2 0h3m-1 0h3m-1 0h3m0 0h3m0 0h3m18 0h3m-53 1h3m9 0h3m1 0h3m4 0h3m8 0h3m2 0h3m-2 0h3m-46 1h3m7 0h3m0 0h3m0 0h3m20 0h3m1 0h3m3 0h3m5 0h3m1 0h3m-93 1h3m45 0h3m-2 0h3m3 0h3m-1 0h3m6 0h3m19 0h3m-44 1h3m12 0h3m7 0h3m14 0h3m2 0h3m-57 1h3m13 0h3m21 0h3m-48 1h3m18 0h3m3 0h3m3 0h3m1 0h3m4 0h3m-30 1h3m-2 0h3m2 0h3m0 0h3m-2 0h3m8 0h3m-2 0h3m-30 1h3m2 0h3m4 0h3m5 0h3m11 0h3m-36 1h3m4 0h3m3 0h3m0 0h3m2 0h3m-2 0h3m8 0h3m-1 0h3m-46 1h3m-2 0h3m5 0h3m7 0h3m2 0h3m4 0h3m-1 0h3m13 0h3m-51 1h3m13 0h3m0 0h3m0 0h3m-2 0h3m-2 0h3m-2 0h3m5 0h3m-1 0h3m-2 0h3m-35 1h3m16 0h3m-1 0h3m4 0h3m-1 0h3m-2 0h3m9 0h3m18 0h3m-78 1h3m7 0h3m16 0h3m4 0h3m1 0h3m-35 1h3m5 0h3m-1 0h3m3 0h3m11 0h3m0 0h3m1 0h3m-1 0h3m-2 0h3m-35 1h3m10 0h3m-2 0h3m7 0h3m8 0h3m-52 1h3m5 0h3m2 0h3m8 0h3m-1 0h3m6 0h3m3 0h3m1 0h3m2 0h3m24 0h3m-75 1h3m13 0h3m9 0h3m-2 0h3m0 0h3m8 0h3m12 0h3m-53 1h3m11 0h3m19 0h3m-62 1h3m10 0h3m15 0h3m-2 0h3m23 0h3m23 0h3m-65 1h3m7 0h3m4 0h3m0 0h3m1 0h3m1 0h3m2 0h3m4 0h3m-1 0h3m-2 0h3m-63 1h3m20 0h3m3 0h3m1 0h3m9 0h3m0 0h3m0 0h3m-54 1h3m17 0h3m-1 0h3m6 0h3m4 0h3m-1 0h3m4 0h3m10 0h3m-61 1h3m4 0h3m21 0h3m3 0h3m-2 0h3m4 0h3m-1 0h3m-2 0h3m-1 0h3m1 0h3m11 0h3m-53 1h3m4 0h3m0 0h3m-1 0h3m7 0h3m6 0h3m5 0h3m-40 1h3m-1 0h3m2 0h3m3 0h3m1 0h3m3 0h3m-1 0h3m-1 0h3m-2 0h3m14 0h3m-58 1h3m3 0h3m5 0h3m8 0h3m2 0h3m-2 0h3m2 0h3m-2 0h3m16 0h3m-57 1h3m6 0h3m3 0h3m1 0h3m7 0h3m6 0h3m9 0h3m-45 1h3m8 0h3m-2 0h3m-1 0h3m15 0h3m0 0h3m11 0h3m-56 1h3m1 0h3m0 0h3m13 0h3m-1 0h3m25 0h3m-44 1h3m2 0h3m3 0h3m0 0h3m0 0h3m2 0h3m-2 0h3m17 0h3m-57 1h3m3 0h3m3 0h3m-2 0h3m18 0h3m-41 1h3m18 0h3m-1 0h3m0 0h3m5 0h3m5 0h3m-2 0h3m0 0h3m2 0h3m-56 1h3m17 0h3m-2 0h3m4 0h3m-2 0h3m-1 0h3m-2 0h3m2 0h3m-1 0h3m1 0h3m2 0h3m-36 1h3m0 0h3m-1 0h3m11 0h3m-27 1h3m6 0h3m3 0h3m3 0h3m8 0h3m7 0h3m-2 0h3m-30 1h3m5 0h3m-1 0h3m3 0h3m15 0h3m-46 1h3m-1 0h3m-2 0h3m4 0h3m6 0h3m3 0h3m-25 1h3m1 0h3m3 0h3m-2 0h3m3 0h3m7 0h3m19 0h3m-68 1h3m11 0h3m2 0h3m-2 0h3m3 0h3m2 0h3m3 0h3m0 0h3m-2 0h3m12 0h3m-58 1h3m1 0h3m7 0h3m7 0h3m-43 1h3m10 0h3m12 0h3m4 0h3m11 0h3m-2 0h3m26 0h3m-56 1h3m3 0h3m10 0h3m4 0h3m-24 1h3m26 0h3m-40 1h3m9 0h3m1 0h3m-1 0h3m6 0h3m0 0h3m-25 1h3m3 0h3m22 0h3m3 0h3m6 0h3m-72 1h3m24 0h3m-17 2h3m8 0h3m39 1h3m0 0h3m-12 1h3m-44 1h3m7 0h3m0 0h3m-1 0h3m3 0h3m14 0h3m1 0h3m2 0h3m-56 2h3m45 0h3m-45 1h3m13 0h3m12 0h3m13 0h3m-36 1h3m7 0h3m-9 1h3m3 1h3m1 0h3m5 0h3m6 0h3m13 0h3m-50 1h3m17 0h3m5 0h3m8 0h3m-40 1h3m3 0h3m2 0h3m8 0h3m-4 1h3m-26 1h3m-2 0h3m10 0h3m26 2h3m-41 1h3m7 2h3m35 0h3m-55 3h3m21 0h3m-12 1h3m7 2h3m-30 1h3m9 1h3m-4 2h3m-13 2h3m12 7h3m-12 2h3" stroke="#2040e0" stroke-width="3" opacity="0.5" fill="none"/>
<path transform="scale(0.25)" d="M214 646.5h3m6 20h3m-2 5h3m-6 3h3m-12 7h3m9 1h3m-4 2h3m-19 4h3m-7 2h3m13 0h3m-10 1h3m17 0h3m-36 2h3m10 0h3m15 0h3m-1 0h3m8 0h3m5 0h3m-22 1h3m-35 3h3m15 1h3m-23 1h3m17 0h3m11 0h3m-5 1h3m-1 0h3m2 0h3m-1 0h3m3 0h3m-29 1h3m12 0h3m11 0h3m-14 1h3m-18 1h3m5 0h3m-1 0h3m5 0h3m-1 0h3m-22 1h3m1 0h3m2 0h3m2 0h3m7 0h3m-2 0h3m-25 1h3m10 0h3m5 0h3m0 0h3m1 0h3m-38 1h3m-2 0h3m-2 0h3m8 0h3m1 0h3m7 0h3m3 0h3m9 0h3m-59 1h3m12 0h3m7 0h3m7 0h3m2 0h3m0 0h3m-40 1h3m17 0h3m-2 0h3m-2 0h3m5 0h3m0 0h3m-1 0h3m-2 0h3m-1 0h3m2 0h3m-52 1h3m11 0h3m8 0h3m1 0h3m0 0h3m-1 0h3m0 0h3m3 0h3m-47 1h3m5 0h3m2 0h3m-2 0h3m-1 0h3m5 0h3m6 0h3m3 0h3m-2 0h3m10 0h3m-54 1h3m9 0h3m5 0h3m18 0h3m8 0h3m-45 1h3m-1 0h3m2 0h3m5 0h3m3 0h3m-2 0h3m24 0h3m-45 1h3m-2 0h3m0 0h3m4 0h3m3 0h3m-1 0h3m4 0h3m5 0h3m-49 1h3m6 0h3m2 0h3m3 0h3m0 0h3m-1 0h3m6 0h3m-2 0h3m-25 1h3m2 0h3m-2 0h3m-1 0h3m0 0h3m-2 0h3m2 0h3m0 0h3m-2 0h3m-2 0h3m-2 0h3m-1 0h3m0 0h3m0 0h3m7 0h3m-59 1h3m11 0h3m-2 0h3m-2 0h3m-1 0h3m0 0h3m-1 0h3m1 0h3m-2 0h3m14 0h3m-46 1h3m3 0h3m-2 0h3m1 0h3m-1 0h3m12 0h3m13 0h3m-42 1h3m11 0h3m-2 0h3m-1 0h3m9 0h3m-1 0h3m-2 0h3m-2 0h3m0 0h3m-39 1h3m0 0h3m-2 0h3m-2 0h3m-2 0h3m3 0h3m-2 0h3m-2 0h3m-2 0h3m-1 0h3m0 0h3m-1 0h3m0 0h3m-1 0h3m0 0h3m-2 0h3m4 0h3m-44 1h3m0 0h3m-2 0h3m18 0h3m-2 0h3m-2 0h3m-1 0h3m4 0h3m-2 0h3m-1 0h3m-39 1h3m0 0h3m0 0h3m8 0h3m0 0h3m-2 0h3m4 0h3m-2 0h3m3 0h3m-2 0h3m-39 1h3m0 0h3m-1 0h3m6 0h3m5 0h3m0 0h3m-1 0h3m0 0h3m0 0h3m-1 0h3m-42 1h3m4 0h3m3 0h3m3 0h3m0 0h3m-2 0h3m0 0h3m-2 0h3m3 0h3m1 0h3m2 0h3m-58 1h3m19 0h3m-2 0h3m2 0h3m-2 0h3m7 0h3m-2 0h3m5 0h3m8 0h3m8 0h3m-61 1h3m5 0h3m-2 0h3m-1 0h3m-1 0h3m4 0h3m-1 0h3m3 0h3m-2 0h3m0 0h3m1 0h3m2 0h3m-2 0h3m0 0h3m-2 0h3m-38 1h3m2 0h3m-2 0h3m-1 0h3m0 0h3m-2 0h3m-1 0h3m-1 0h3m4 0h3m1 0h3m1 0h3m-34 1h3m1 0h3m6 0h3m-2 0h3m-1 0h3m-2 0h3m-1 0h3m1 0h3m-1 0h3m-2 0h3m0 0h3m-1 0h3m-1 0h3m6 0h3m-54 1h3m6 0h3m-2 0h3m1 0h3m1 0h3m-1 0h3m1 0h3m-2 0h3m-2 0h3m1 0h3m-2 0h3m-2 0h3m6 0h3m2 0h3m2 0h3m-57 1h3m0 0h3m1 0h3m-1 0h3m3 0h3m1 0h3m-2 0h3m3 0h3m-1 0h3m-2 0h3m5 0h3m7 0h3m-31 1h3m0 0h3m-2 0h3m4 0h3m-2 0h3m1 0h3m1 0h3m5 0h3m-47 1h3m-1 0h3m4 0h3m-1 0h3m2 0h3m-1 0h3m-2 0h3m-1 0h3m0 0h3m-2 0h3m0 0h3m1 0h3m1 0h3m-2 0h3m1 0h3m0 0h3m-2 0h3m0 0h3m-49 1h3m9 0h3m-1 0h3m-2 0h3m0 0h3m-2 0h3m0 0h3m0 0h3m2 0h3m13 0h3m5 0h3m-61 1h3m-1 0h3m10 0h3m1 0h3m0 0h3m0 0h3m-1 0h3m-2 0h3m-2 0h3m-2 0h3m0 0h3m8 0h3m5 0h3m-38 1h3m-2 0h3m0 0h3m2 0h3m-1 0h3m-2 0h3m-2 0h3m-2 0h3m-2 0h3m-1 0h3m-1 0h3m-2 0h3m-1 0h3m-36 1h3m0 0h3m0 0h3m2 0h3m3 0h3m-2 0h3m-2 0h3m-2 0h3m5 0h3m1 0h3m0 0h3m-36 1h3m0 0h3m10 0h3m0 0h3m-2 0h3m-1 0h3m-2 0h3m-2 0h3m1 0h3m-1 0h3m-2 0h3m3 0h3m-34 1h3m8 0h3m0 0h3m-2 0h3m0 0h3m-2 0h3m6 0h3m-1 0h3m-37 1h3m-1 0h3m-1 0h3m-2 0h3m0 0h3m-1 0h3m1 0h3m-2 0h3m1 0h3m0 0h3m0 0h3m1 0h3m1 0h3m-2 0h3m-2 0h3m-40 1h3m-2 0h3m0 0h3m2 0h3m-2 0h3m2 0h3m5 0h3m-2 0h3m-2 0h3m0 0h3m-2 0h3m7 0h3m0 0h3m1 0h3m-45 1h3m3 0h3m-2 0h3m1 0h3m-2 0h3m1 0h3m5 0h3m-2 0h3m1 0h3m0 0h3m-1 0h3m-1 0h3m-45 1h3m1 0h3m9 0h3m1 0h3m-2 0h3m0 0h3m-1 0h3m-2 0h3m1 0h3m3 0h3m-46 1h3m15 0h3m-2 0h3m0 0h3m-2 0h3m8 0h3m2 0h3m-1 0h3m3 0h3m1 0h3m-43 1h3m2 0h3m-2 0h3m0 0h3m0 0h3m-2 0h3m3 0h3m-2 0h3m0 0h3m-1 0h3m4 0h3m1 0h3m2 0h3m-36 1h3m-2 0h3m-1 0h3m-2 0h3m-2 0h3m5 0h3m-2 0h3m0 0h3m-2 0h3m-2 0h3m-2 0h3m-2 0h3m1 0h3m-1 0h3m-33 1h3m4 0h3m3 0h3m1 0h3m-2 0h3m-1 0h3m1 0h3m0 0h3m-2 0h3m-2 0h3m-39 1h3m2 0h3m1 0h3m4 0h3m-1 0h3m-1 0h3m-2 0h3m1 0h3m-1 0h3m0 0h3m-2 0h3m0 0h3m-2 0h3m-37 1h3m7 0h3m0 0h3m-1 0h3m3 0h3m7 0h3m1 0h3m6 0h3m0 0h3m1 0h3m-46 1h3m8 0h3m-1 0h3m5 0h3m-1 0h3m1 0h3m-1 0h3m12 0h3m-33 1h3m-1 0h3m-1 0h3m0 0h3m-1 0h3m-2 0h3m-2 0h3m1 0h3m2 0h3m-2 0h3m4 0h3m-35 1h3m7 0h3m9 0h3m-41 1h3m10 0h3m0 0h3m10 0h3m3 0h3m9 0h3m6 0h3m-41 1h3m-1 0h3m-1 0h3m1 0h3m11 0h3m-35 1h3m-2 0h3m4 0h3m1 0h3m0 0h3m7 0h3m1 0h3m5 0h3m-20 1h3m10 0h3m-30 1h3m4 0h3m1 0h3m-2 0h3m5 0h3m9 0h3m-38 1h3m-1 0h3m0 0h3m1 0h3m0 0h3m0 0h3m-1 0h3m-19 1h3m5 0h3m11 0h3m-2 0h3m-18 1h3m-2 0h3m0 0h3m1 0h3m-2 0h3m0 0h3m0 0h3m7 0h3m0 0h3m-46 1h3m1 0h3m1 0h3m-2 0h3m3 0h3m9 0h3m-1 0h3m-18 1h3m2 0h3m4 0h3m2 0h3m2 0h3m7 0h3m-39 1h3m2 0h3m-23 1h3m10 0h3m-2 0h3m12 0h3m0 0h3m3 0h3m-2 0h3m-20 1h3m15 0h3m-21 1h3m0 0h3m-1 0h3m10 0h3m-37 1h3m5 1h3m7 1h3m29 3h3m-48 1h3m12 0h3m-2 0h3m-9 1h3m-14 1h3m39 0h3m-28 1h3m-3 1h3m-1 0h3m11 0h3m6 3h3m-38 1h3m15 3h3m-13 5h3m21 0h3" stroke="#0a1ee0" stroke-width="3" opacity="0.9" fill="none"/>
<ellipse cx="60.50" cy="182.50" rx="4.00" ry="5.50" fill="#1020e8" opacity="1.0" transform="rotate(-30 60.50 182.50)" filter="url(#b08)"/>
<path transform="scale(0.25)" d="M268 765.5h3m-9 1h3m-2 0h3m-12 1h3m8 1h3m-2 0h3m16 0h3m-16 1h3m-16 1h3m2 0h3m-2 0h3m10 0h3m-38 1h3m18 0h3m10 0h3m-18 1h3m2 0h3m-33 1h3m7 0h3m3 0h3m1 0h3m0 0h3m0 0h3m31 0h3m-75 1h3m18 0h3m-1 0h3m-2 0h3m15 0h3m3 0h3m14 0h3m-70 1h3m-2 0h3m6 0h3m8 0h3m2 0h3m-2 0h3m1 0h3m1 0h3m0 0h3m-2 0h3m-1 0h3m-2 0h3m3 0h3m-1 0h3m6 0h3m9 0h3m-70 1h3m1 0h3m3 0h3m1 0h3m0 0h3m5 0h3m-2 0h3m2 0h3m1 0h3m-2 0h3m1 0h3m4 0h3m-41 1h3m1 0h3m-2 0h3m-1 0h3m-1 0h3m-2 0h3m-1 0h3m-2 0h3m1 0h3m4 0h3m1 0h3m-2 0h3m-2 0h3m0 0h3m-56 1h3m-2 0h3m-1 0h3m7 0h3m0 0h3m-2 0h3m2 0h3m0 0h3m-2 0h3m0 0h3m1 0h3m-2 0h3m-2 0h3m2 0h3m-2 0h3m-2 0h3m-1 0h3m2 0h3m-1 0h3m-2 0h3m-68 1h3m13 0h3m-1 0h3m0 0h3m2 0h3m-2 0h3m-2 0h3m-2 0h3m-1 0h3m1 0h3m1 0h3m-2 0h3m-1 0h3m-2 0h3m7 0h3m9 0h3m11 0h3m-78 1h3m7 0h3m12 0h3m-2 0h3m0 0h3m-2 0h3m-2 0h3m1 0h3m0 0h3m-2 0h3m3 0h3m-1 0h3m0 0h3m2 0h3m-2 0h3m-1 0h3m2 0h3m-2 0h3m-65 1h3m9 0h3m3 0h3m2 0h3m2 0h3m0 0h3m-1 0h3m-1 0h3m3 0h3m-2 0h3m0 0h3m-2 0h3m1 0h3m2 0h3m12 0h3m-71 1h3m0 0h3m-2 0h3m5 0h3m-2 0h3m-1 0h3m3 0h3m3 0h3m-1 0h3m-1 0h3m4 0h3m2 0h3m2 0h3m-2 0h3m0 0h3m2 0h3m-2 0h3m-2 0h3m2 0h3m3 0h3m-70 1h3m10 0h3m-2 0h3m-1 0h3m-2 0h3m1 0h3m-2 0h3m1 0h3m3 0h3m0 0h3m-47 1h3m5 0h3m-2 0h3m2 0h3m-1 0h3m1 0h3m1 0h3m0 0h3m4 0h3m-1 0h3m0 0h3m-2 0h3m-1 0h3m1 0h3m-2 0h3m-2 0h3m0 0h3m-2 0h3m1 0h3m-2 0h3m8 0h3m-58 1h3m-2 0h3m1 0h3m6 0h3m-1 0h3m1 0h3m-2 0h3m-1 0h3m-2 0h3m0 0h3m1 0h3m-2 0h3m7 0h3m-60 1h3m3 0h3m8 0h3m2 0h3m-2 0h3m-1 0h3m-1 0h3m-2 0h3m0 0h3m3 0h3m-1 0h3m2 0h3m-2 0h3m-2 0h3m16 0h3m-56 1h3m-2 0h3m-2 0h3m8 0h3m3 0h3m0 0h3m-2 0h3m-2 0h3m4 0h3m14 0h3m-58 1h3m5 0h3m0 0h3m2 0h3m0 0h3m-1 0h3m1 0h3m-1 0h3m5 0h3m6 0h3m18 0h3m-64 1h3m-2 0h3m1 0h3m-1 0h3m12 0h3m-2 0h3m1 0h3m-1 0h3m-2 0h3m4 0h3m2 0h3m-2 0h3m3 0h3m-54 1h3m2 0h3m1 0h3m-1 0h3m-1 0h3m0 0h3m-2 0h3m4 0h3m-2 0h3m22 0h3m-73 1h3m20 0h3m9 0h3m-2 0h3m-2 0h3m-1 0h3m3 0h3m24 0h3m-62 1h3m-2 0h3m5 0h3m2 0h3m6 0h3m-2 0h3m0 0h3m4 0h3m-2 0h3m3 0h3m-50 1h3m18 0h3m1 0h3m5 0h3m3 0h3m-31 1h3m-2 0h3m15 0h3m0 0h3m-42 1h3m0 0h3m1 0h3m1 0h3m17 0h3m10 0h3m-2 0h3m-45 2h3m24 0h3m1 0h3m-33 1h3m5 0h3m0 0h3m-13 1h3m-1 0h3m24 0h3m-18 1h3m19 0h3m-35 1h3m30 0h3" stroke="#ee1010" stroke-width="3" opacity="0.9" fill="none"/>
<path d="M53 200 L54 196.5 L60 193.5 L67 190.5 L69.5 191 L63 195.5 L57 199.5 Z" fill="#e81810" filter="url(#b08)"/>
<path d="M40.5 201 L43 184 L46.5 178.5 L51 180 L52.5 201 Z" fill="#111" filter="url(#b08)"/>
<path transform="scale(0.25)" d="M206 703.5h3m-31 5h3m23 0h3m-37 1h3m6 1h3m3 0h3m-11 1h3m-4 2h3m-34 1h3m45 0h3m25 0h3m-48 1h3m6 0h3m-10 1h3m-6 1h3m26 0h3m-45 2h3m21 0h3m9 0h3m-19 2h3m0 0h3m4 0h3m-1 0h3m-3 1h3m3 0h3m-1 0h3m-41 1h3m9 0h3m6 0h3m2 0h3m4 0h3m8 0h3m-32 2h3m20 0h3m4 0h3m-35 1h3m8 0h3m-40 1h3m24 0h3m7 0h3m15 0h3m-47 1h3m16 0h3m0 0h3m5 0h3m-33 1h3m-2 0h3m20 0h3m10 0h3m2 0h3m1 0h3m-41 1h3m4 0h3m1 0h3m-2 0h3m5 0h3m-1 0h3m7 0h3m-28 1h3m3 0h3m12 0h3m0 0h3m-24 1h3m4 0h3m-15 1h3m9 0h3m2 0h3m3 0h3m-2 0h3m12 0h3m-54 1h3m-1 0h3m3 0h3m9 0h3m15 0h3m-32 1h3m10 0h3m2 0h3m-2 0h3m-31 1h3m5 0h3m-1 0h3m4 0h3m1 0h3m-1 0h3m5 0h3m5 0h3m-27 1h3m-1 0h3m11 0h3m-25 1h3m4 0h3m0 0h3m6 0h3m-19 1h3m13 0h3m15 0h3m-36 1h3m-2 0h3m8 0h3m5 0h3m17 0h3m-62 1h3m8 0h3m1 0h3m-2 0h3m1 0h3m5 0h3m1 0h3m-2 0h3m-1 0h3m-1 0h3m-25 1h3m5 0h3m8 0h3m-35 1h3m26 0h3m-1 0h3m-2 0h3m-2 0h3m3 0h3m10 0h3m-36 1h3m1 0h3m1 0h3m10 0h3m-40 1h3m7 0h3m-1 0h3m-1 0h3m-1 0h3m-2 0h3m0 0h3m9 0h3m2 0h3m5 0h3m-29 1h3m-1 0h3m1 0h3m4 0h3m0 0h3m-31 1h3m1 0h3m-1 0h3m5 0h3m-1 0h3m3 0h3m2 0h3m0 0h3m-2 0h3m0 0h3m-38 1h3m1 0h3m-1 0h3m-2 0h3m0 0h3m-2 0h3m0 0h3m3 0h3m1 0h3m7 0h3m1 0h3m-45 1h3m-1 0h3m18 0h3m7 0h3m-2 0h3m3 0h3m-51 1h3m9 0h3m-2 0h3m-2 0h3m12 0h3m-2 0h3m0 0h3m0 0h3m5 0h3m-39 1h3m2 0h3m-2 0h3m3 0h3m4 0h3m-1 0h3m-1 0h3m-2 0h3m0 0h3m5 0h3m11 0h3m-36 1h3m-1 0h3m0 0h3m-2 0h3m-2 0h3m2 0h3m1 0h3m2 0h3m-51 1h3m26 0h3m-2 0h3m-2 0h3m20 0h3m-49 1h3m6 0h3m2 0h3m7 0h3m1 0h3m1 0h3m-2 0h3m-19 1h3m0 0h3m2 0h3m11 0h3m-35 1h3m4 0h3m3 0h3m-1 0h3m4 0h3m7 0h3m11 0h3m-62 1h3m12 0h3m2 0h3m-1 0h3m0 0h3m0 0h3m-2 0h3m3 0h3m3 0h3m0 0h3m-1 0h3m-1 0h3m-20 1h3m-1 0h3m9 0h3m2 0h3m-31 1h3m2 0h3m9 0h3m2 0h3m-1 0h3m-46 1h3m5 0h3m3 0h3m9 0h3m-1 0h3m0 0h3m0 0h3m-1 0h3m2 0h3m1 0h3m-33 1h3m2 0h3m3 0h3m0 0h3m3 0h3m-2 0h3m3 0h3m0 0h3m-44 1h3m4 0h3m-1 0h3m-2 0h3m7 0h3m-2 0h3m0 0h3m3 0h3m2 0h3m3 0h3m-43 1h3m16 0h3m8 0h3m3 0h3m4 0h3m-61 1h3m18 0h3m0 0h3m2 0h3m-1 0h3m7 0h3m-21 1h3m4 0h3m1 0h3m-2 0h3m4 0h3m0 0h3m-2 0h3m23 0h3m-56 1h3m1 0h3m13 0h3m-1 0h3m17 0h3m-47 1h3m-2 0h3m8 0h3m1 0h3m7 0h3m1 0h3m0 0h3m14 0h3m-50 1h3m8 0h3m0 0h3m1 0h3m5 0h3m-44 1h3m5 0h3m0 0h3m1 0h3m-2 0h3m10 0h3m13 0h3m-41 1h3m25 0h3m-2 0h3m-18 1h3m-2 0h3m-2 0h3m5 0h3m5 0h3m1 0h3m7 0h3m9 0h3m-59 1h3m27 0h3m-35 1h3m4 0h3m4 0h3m-1 0h3m0 0h3m-1 0h3m-1 0h3m-2 0h3m-1 0h3m-1 0h3m8 0h3m-17 1h3m-2 0h3m3 0h3m3 0h3m-1 0h3m-2 0h3m-48 1h3m21 0h3m12 0h3m-27 1h3m-1 0h3m-1 0h3m2 0h3m-11 1h3m1 0h3m4 0h3m3 0h3m6 0h3m-1 0h3m-43 1h3m2 0h3m19 0h3m-2 0h3m2 0h3m-13 2h3m1 0h3m-2 0h3m-1 0h3m-3 1h3m-10 1h3m-2 0h3m-2 0h3m1 0h3m-1 0h3m0 0h3m-13 1h3m4 0h3m-23 1h3m7 0h3m1 0h3m4 0h3m-7 1h3m3 0h3m1 0h3m-1 0h3m-19 1h3m3 0h3m15 0h3m-1 0h3m-50 1h3m21 0h3m3 0h3m-1 0h3m7 0h3m-30 1h3m4 0h3m14 0h3m-33 1h3m0 0h3m12 0h3m5 0h3m13 0h3m-43 1h3m9 0h3m4 0h3m13 0h3m-54 1h3m25 0h3m7 0h3m-31 1h3m17 0h3m-11 1h3m9 0h3m3 0h3m-16 1h3m9 0h3m6 0h3m-32 1h3m-12 1h3m5 0h3m-10 1h3m0 0h3m-7 1h3m5 2h3m14 0h3" stroke="#000" stroke-width="3" opacity="0.75" fill="none"/>
<path d="M64 150.5 L85.5 151 L84 197 L52 199.6 L52 172 Z" fill="none" stroke="#555" stroke-width="0.8"/>
<text x="77.00" y="194.72" font-size="6.2" fill="#2a2a2a" text-anchor="start" stroke="#2a2a2a" stroke-width="0.1">P1</text>
<text x="36.00" y="146.50" font-size="5.6" fill="#111" text-anchor="start" font-weight="bold">NSGS</text>
<rect x="32.50" y="138.60" width="55.00" height="63.30" fill="none" stroke="#1a1a1a" stroke-width="1.7" />
<path d="M30.10 139.60h1.6M30.10 141.64h1.6M30.10 143.69h1.6M30.10 145.73h1.6M30.10 147.77h1.6M30.10 149.82h1.6M30.10 151.86h1.6M30.10 153.90h1.6M30.10 155.95h1.6M30.10 157.99h1.6M30.10 160.03h1.6M30.10 162.08h1.6M30.10 164.12h1.6M30.10 166.16h1.6M30.10 168.21h1.6M30.10 170.25h1.6M30.10 172.29h1.6M30.10 174.34h1.6M30.10 176.38h1.6M30.10 178.42h1.6M30.10 180.47h1.6M30.10 182.51h1.6M30.10 184.55h1.6M30.10 186.60h1.6M30.10 188.64h1.6M30.10 190.68h1.6M30.10 192.73h1.6M30.10 194.77h1.6M30.10 196.81h1.6M30.10 198.86h1.6M30.10 200.90h1.6" stroke="#000" stroke-width="0.6"/>
<path d="M33.50 202.70v1.6M35.27 202.70v1.6M37.03 202.70v1.6M38.80 202.70v1.6M40.57 202.70v1.6M42.33 202.70v1.6M44.10 202.70v1.6M45.87 202.70v1.6M47.63 202.70v1.6M49.40 202.70v1.6M51.17 202.70v1.6M52.93 202.70v1.6M54.70 202.70v1.6M56.47 202.70v1.6M58.23 202.70v1.6M60.00 202.70v1.6M61.77 202.70v1.6M63.53 202.70v1.6M65.30 202.70v1.6M67.07 202.70v1.6M68.83 202.70v1.6M70.60 202.70v1.6M72.37 202.70v1.6M74.13 202.70v1.6M75.90 202.70v1.6M77.67 202.70v1.6M79.43 202.70v1.6M81.20 202.70v1.6M82.97 202.70v1.6M84.73 202.70v1.6M86.50 202.70v1.6" stroke="#000" stroke-width="0.6"/>
<line x1="29.20" y1="141.70" x2="31.70" y2="141.70" stroke="#000" stroke-width="1.2" />
<line x1="29.20" y1="153.60" x2="31.70" y2="153.60" stroke="#000" stroke-width="1.2" />
<line x1="29.20" y1="165.50" x2="31.70" y2="165.50" stroke="#000" stroke-width="1.2" />
<line x1="29.20" y1="177.40" x2="31.70" y2="177.40" stroke="#000" stroke-width="1.2" />
<line x1="29.20" y1="189.30" x2="31.70" y2="189.30" stroke="#000" stroke-width="1.2" />
<text x="27.60" y="143.78" font-size="5.8" fill="#1e1e1e" text-anchor="end" stroke="#1e1e1e" stroke-width="0.1">250</text>
<text x="27.60" y="155.68" font-size="5.8" fill="#1e1e1e" text-anchor="end" stroke="#1e1e1e" stroke-width="0.1">200</text>
<text x="27.60" y="167.58" font-size="5.8" fill="#1e1e1e" text-anchor="end" stroke="#1e1e1e" stroke-width="0.1">150</text>
<text x="27.60" y="179.48" font-size="5.8" fill="#1e1e1e" text-anchor="end" stroke="#1e1e1e" stroke-width="0.1">100</text>
<text x="27.60" y="191.38" font-size="5.8" fill="#1e1e1e" text-anchor="end" stroke="#1e1e1e" stroke-width="0.1">50</text>
<line x1="42.50" y1="202.70" x2="42.50" y2="205.20" stroke="#000" stroke-width="1.2" />
<line x1="53.00" y1="202.70" x2="53.00" y2="205.20" stroke="#000" stroke-width="1.2" />
<line x1="63.50" y1="202.70" x2="63.50" y2="205.20" stroke="#000" stroke-width="1.2" />
<line x1="74.50" y1="202.70" x2="74.50" y2="205.20" stroke="#000" stroke-width="1.2" />
<line x1="85.00" y1="202.70" x2="85.00" y2="205.20" stroke="#000" stroke-width="1.2" />
<text x="42.50" y="212.88" font-size="5.8" fill="#1e1e1e" text-anchor="middle" stroke="#1e1e1e" stroke-width="0.1">50</text>
<text x="53.00" y="212.88" font-size="5.8" fill="#1e1e1e" text-anchor="middle" stroke="#1e1e1e" stroke-width="0.1">100</text>
<text x="63.50" y="212.88" font-size="5.8" fill="#1e1e1e" text-anchor="middle" stroke="#1e1e1e" stroke-width="0.1">150</text>
<text x="74.50" y="212.88" font-size="5.8" fill="#1e1e1e" text-anchor="middle" stroke="#1e1e1e" stroke-width="0.1">200</text>
<text x="85.00" y="212.88" font-size="5.8" fill="#1e1e1e" text-anchor="middle" stroke="#1e1e1e" stroke-width="0.1">250</text>
<text x="52.20" y="223.24" font-size="8.2" fill="#141414" text-anchor="start" textLength="15" lengthAdjust="spacingAndGlyphs" stroke="#141414" stroke-width="0.2">FSC-A</text>
<text x="68.80" y="219.66" font-size="5.2" fill="#1e1e1e" text-anchor="start" textLength="21.5" lengthAdjust="spacingAndGlyphs" stroke="#1e1e1e" stroke-width="0.1">(x 1,000)</text>
<text transform="translate(11.30,169.80) rotate(-90)" x="0" y="2.94" font-size="8.2" fill="#141414" text-anchor="middle" textLength="14" lengthAdjust="spacingAndGlyphs" stroke="#141414" stroke-width="0.2">SSC-A</text>
<text transform="translate(11.00,150.60) rotate(-90)" x="0" y="1.86" font-size="5.2" fill="#1e1e1e" text-anchor="middle" textLength="23.5" lengthAdjust="spacingAndGlyphs" stroke="#1e1e1e" stroke-width="0.1">(x 1,000)</text>
<path transform="scale(0.25)" d="M561 610.5h3m97 0h3m-20 6h3m-88 6h3m37 6h3m-59 3h3m47 0h3m62 1h3m-62 1h3m3 3h3m2 2h3m1 0h3m-23 3h3m-10 3h3m-22 1h3m56 4h3m-52 1h3m-36 1h3m75 2h3m-47 4h3m19 0h3m-16 1h3m-24 1h3m27 1h3m-51 2h3m29 0h3m-2 2h3m14 0h3m-34 1h3m78 0h3m-5 1h3m0 0h3m-63 1h3m2 2h3m64 1h3m-97 1h3m36 0h3m3 0h3m12 0h3m-4 1h3m14 0h3m-63 1h3m6 0h3m-45 1h3m54 0h3m16 0h3m20 0h3m-104 1h3m-3 1h3m50 0h3m15 0h3m4 0h3m-1 0h3m-3 1h3m-69 1h3m40 0h3m45 0h3m-80 1h3m-36 1h3m46 0h3m-27 1h3m54 1h3m12 0h3m-64 1h3m9 0h3m25 0h3m4 0h3m-38 1h3m-35 1h3m7 0h3m47 0h3m12 0h3m-56 1h3m12 1h3m0 0h3m0 0h3m2 0h3m13 0h3m-2 0h3m-41 1h3m4 0h3m-25 1h3m14 0h3m0 1h3m-42 1h3m25 0h3m19 0h3m16 0h3m-52 1h3m9 1h3m-2 0h3m-44 1h3m53 0h3m34 0h3m16 0h3m-65 1h3m18 0h3m-11 2h3m18 0h3m12 0h3m-84 1h3m47 0h3m-1 0h3m4 0h3m0 0h3m-50 1h3m-1 0h3m-26 1h3m85 0h3m-46 1h3m36 0h3m-52 1h3m-26 1h3m6 0h3m-15 1h3m9 0h3m32 0h3m-35 1h3m-16 1h3m10 0h3m47 0h3m-60 1h3m3 0h3m21 0h3m50 1h3m-41 1h3m2 0h3m4 0h3m-60 1h3m-6 1h3m13 0h3m-2 0h3m-31 1h3m35 0h3m-3 1h3m-38 1h3m35 0h3m-38 2h3m43 0h3m-6 1h3m-27 1h3m5 0h3m48 0h3m-43 1h3m2 0h3m9 0h3m68 0h3m-83 1h3m-38 2h3m7 0h3m0 0h3m8 0h3m-1 3h3m1 0h3m23 0h3m-1 0h3m-98 1h3m45 0h3m27 0h3m4 0h3m-32 1h3m0 1h3m29 0h3m-62 1h3m-11 2h3m37 0h3m-31 1h3m10 0h3m8 0h3m-34 1h3m19 0h3m3 0h3m9 0h3m55 0h3m-69 1h3m-7 1h3m-19 1h3m13 0h3m15 0h3m14 0h3m-89 3h3m17 0h3m37 0h3m11 0h3m19 0h3m-69 1h3m11 0h3m13 0h3m6 0h3m-84 1h3m67 0h3m-2 0h3m-18 1h3m0 0h3m14 2h3m-7 1h3m11 0h3m1 0h3m-43 1h3m22 0h3m-5 1h3m6 1h3m-37 1h3m4 0h3m27 0h3m5 0h3m-35 1h3m26 0h3m-52 1h3m-16 1h3m34 1h3m-49 1h3m17 0h3m34 0h3m19 0h3m-42 1h3m32 0h3m5 0h3m-3 1h3m-72 2h3m2 1h3m28 0h3m-3 2h3m-3 1h3m-2 2h3m10 1h3m-55 1h3m25 2h3m44 0h3m16 0h3m-82 1h3m39 0h3m-24 1h3m-53 1h3m31 0h3m-27 1h3m59 0h3m-6 1h3m-44 3h3m43 1h3m-66 1h3m32 0h3m-43 2h3m37 8h3m5 3h3m14 2h3m-18 6h3" stroke="#f04040" stroke-width="3" opacity="0.5" fill="none"/>
<path transform="scale(0.25)" d="M564 577.5h3m-12 3h3m-16 5h3m-33 3h3m6 1h3m-37 2h3m33 0h3m3 0h3m40 1h3m-20 1h3m-26 1h3m6 1h3m13 1h3m16 0h3m-28 2h3m-21 1h3m5 0h3m8 0h3m-2 0h3m-18 2h3m22 0h3m-64 1h3m35 0h3m-16 1h3m43 0h3m-77 1h3m37 0h3m18 1h3m26 0h3m-59 1h3m10 1h3m21 0h3m-46 1h3m-25 1h3m-1 0h3m37 0h3m-36 1h3m31 0h3m4 0h3m-1 0h3m36 0h3m-106 1h3m50 0h3m8 0h3m3 0h3m33 1h3m-108 1h3m27 0h3m26 0h3m19 0h3m-94 1h3m30 0h3m5 0h3m9 0h3m-1 0h3m-17 1h3m-1 0h3m5 0h3m54 0h3m13 0h3m-126 1h3m18 1h3m24 0h3m59 0h3m-110 1h3m12 0h3m21 0h3m0 0h3m21 0h3m12 0h3m-53 1h3m20 0h3m6 0h3m-2 0h3m23 0h3m-71 1h3m14 0h3m-45 1h3m7 0h3m19 0h3m17 0h3m2 0h3m19 0h3m-37 1h3m9 0h3m6 0h3m8 0h3m-77 1h3m33 0h3m7 0h3m-2 0h3m5 0h3m4 0h3m17 0h3m-40 1h3m14 0h3m2 0h3m-2 0h3m16 0h3m2 0h3m-80 1h3m2 0h3m5 0h3m1 0h3m3 0h3m48 0h3m7 0h3m-107 1h3m23 0h3m-1 0h3m4 0h3m-1 0h3m0 0h3m1 0h3m6 0h3m-1 0h3m12 0h3m29 0h3m3 0h3m3 0h3m-115 1h3m16 0h3m10 0h3m7 0h3m12 0h3m1 0h3m8 0h3m7 0h3m-42 1h3m7 0h3m12 0h3m4 0h3m-2 0h3m7 0h3m-85 1h3m15 0h3m25 0h3m-2 0h3m27 0h3m9 0h3m-1 0h3m-92 1h3m0 0h3m21 0h3m4 0h3m0 0h3m2 0h3m0 0h3m2 0h3m-1 0h3m9 0h3m0 0h3m9 0h3m-2 0h3m19 0h3m-101 1h3m1 0h3m4 0h3m12 0h3m0 0h3m2 0h3m14 0h3m3 0h3m-49 1h3m11 0h3m8 0h3m0 0h3m5 0h3m10 0h3m16 0h3m11 0h3m25 0h3m-135 1h3m5 0h3m33 0h3m-2 0h3m15 0h3m25 0h3m21 0h3m-111 1h3m18 0h3m10 0h3m-1 0h3m0 0h3m2 0h3m5 0h3m-1 0h3m-2 0h3m-2 0h3m6 0h3m22 0h3m-87 1h3m2 0h3m-2 0h3m2 0h3m-2 0h3m1 0h3m-2 0h3m4 0h3m2 0h3m-2 0h3m1 0h3m1 0h3m-1 0h3m16 0h3m-2 0h3m-1 0h3m-1 0h3m1 0h3m3 0h3m14 0h3m-76 1h3m1 0h3m1 0h3m25 0h3m-1 0h3m27 0h3m10 0h3m-102 1h3m5 0h3m1 0h3m10 0h3m-1 0h3m12 0h3m8 0h3m1 0h3m-1 0h3m8 0h3m-2 0h3m15 0h3m-1 0h3m-88 1h3m9 0h3m7 0h3m5 0h3m9 0h3m-2 0h3m14 0h3m2 0h3m43 0h3m-103 1h3m-1 0h3m11 0h3m7 0h3m10 0h3m13 0h3m5 0h3m9 0h3m-101 1h3m4 0h3m5 0h3m5 0h3m-2 0h3m12 0h3m1 0h3m1 0h3m1 0h3m-2 0h3m12 0h3m0 0h3m10 0h3m8 0h3m-97 1h3m1 0h3m4 0h3m16 0h3m3 0h3m5 0h3m-1 0h3m-1 0h3m1 0h3m7 0h3m-1 0h3m4 0h3m-2 0h3m-2 0h3m2 0h3m40 0h3m-126 1h3m3 0h3m14 0h3m8 0h3m-2 0h3m2 0h3m3 0h3m-2 0h3m-1 0h3m-1 0h3m-1 0h3m-2 0h3m30 0h3m22 0h3m15 0h3m-119 1h3m13 0h3m-1 0h3m0 0h3m-1 0h3m-2 0h3m4 0h3m1 0h3m-2 0h3m-1 0h3m1 0h3m-2 0h3m16 0h3m10 0h3m18 0h3m-79 1h3m-2 0h3m0 0h3m5 0h3m-1 0h3m17 0h3m-2 0h3m5 0h3m1 0h3m1 0h3m2 0h3m-91 1h3m0 0h3m8 0h3m-1 0h3m5 0h3m1 0h3m-1 0h3m-1 0h3m0 0h3m5 0h3m1 0h3m-1 0h3m0 0h3m-2 0h3m-2 0h3m-1 0h3m-2 0h3m-1 0h3m3 0h3m-48 1h3m7 0h3m-1 0h3m6 0h3m5 0h3m5 0h3m-1 0h3m10 0h3m3 0h3m-2 0h3m3 0h3m-81 1h3m2 0h3m3 0h3m-2 0h3m7 0h3m-2 0h3m9 0h3m-2 0h3m-2 0h3m-1 0h3m13 0h3m-2 0h3m1 0h3m-2 0h3m0 0h3m7 0h3m1 0h3m-1 0h3m0 0h3m13 0h3m-117 1h3m4 0h3m4 0h3m11 0h3m3 0h3m5 0h3m-2 0h3m-2 0h3m-2 0h3m0 0h3m5 0h3m0 0h3m11 0h3m3 0h3m-77 1h3m7 0h3m7 0h3m6 0h3m-2 0h3m0 0h3m2 0h3m-2 0h3m-1 0h3m5 0h3m2 0h3m6 0h3m1 0h3m7 0h3m-2 0h3m-2 0h3m-2 0h3m6 0h3m6 0h3m-101 1h3m21 0h3m7 0h3m0 0h3m-1 0h3m-2 0h3m1 0h3m-2 0h3m-2 0h3m6 0h3m0 0h3m3 0h3m0 0h3m0 0h3m-1 0h3m2 0h3m5 0h3m-1 0h3m2 0h3m-1 0h3m-100 1h3m19 0h3m1 0h3m-2 0h3m1 0h3m-2 0h3m-2 0h3m6 0h3m3 0h3m3 0h3m-2 0h3m1 0h3m3 0h3m0 0h3m-1 0h3m-2 0h3m4 0h3m6 0h3m-2 0h3m9 0h3m-104 1h3m7 0h3m1 0h3m-2 0h3m0 0h3m0 0h3m10 0h3m-2 0h3m13 0h3m12 0h3m-2 0h3m3 0h3m-2 0h3m7 0h3m-1 0h3m22 0h3m5 0h3m21 0h3m-147 1h3m38 0h3m-2 0h3m4 0h3m-1 0h3m8 0h3m-1 0h3m2 0h3m2 0h3m-2 0h3m1 0h3m3 0h3m10 0h3m2 0h3m25 0h3m-132 1h3m-1 0h3m17 0h3m-2 0h3m0 0h3m8 0h3m-2 0h3m-2 0h3m0 0h3m2 0h3m3 0h3m4 0h3m0 0h3m-2 0h3m4 0h3m-2 0h3m1 0h3m22 0h3m7 0h3m-103 1h3m14 0h3m7 0h3m0 0h3m-2 0h3m-2 0h3m2 0h3m-2 0h3m0 0h3m-2 0h3m-2 0h3m-2 0h3m2 0h3m-1 0h3m3 0h3m0 0h3m2 0h3m0 0h3m8 0h3m3 0h3m5 0h3m-92 1h3m6 0h3m0 0h3m-1 0h3m-2 0h3m5 0h3m-2 0h3m4 0h3m-2 0h3m1 0h3m8 0h3m3 0h3m5 0h3m3 0h3m17 0h3m-84 1h3m2 0h3m5 0h3m3 0h3m3 0h3m0 0h3m2 0h3m-2 0h3m0 0h3m11 0h3m-2 0h3m0 0h3m-1 0h3m-2 0h3m-1 0h3m1 0h3m8 0h3m1 0h3m-97 1h3m1 0h3m12 0h3m6 0h3m-2 0h3m1 0h3m14 0h3m3 0h3m2 0h3m10 0h3m-2 0h3m3 0h3m12 0h3m-1 0h3m-99 1h3m12 0h3m4 0h3m1 0h3m1 0h3m-2 0h3m0 0h3m4 0h3m0 0h3m8 0h3m12 0h3m8 0h3m-2 0h3m5 0h3m2 0h3m0 0h3m2 0h3m-111 1h3m3 0h3m11 0h3m-1 0h3m6 0h3m-1 0h3m0 0h3m-2 0h3m-2 0h3m3 0h3m-1 0h3m-2 0h3m-2 0h3m-2 0h3m8 0h3m0 0h3m-1 0h3m6 0h3m6 0h3m39 0h3m-128 1h3m0 0h3m-2 0h3m1 0h3m9 0h3m9 0h3m-2 0h3m0 0h3m13 0h3m3 0h3m0 0h3m9 0h3m3 0h3m4 0h3m-1 0h3m0 0h3m0 0h3m-81 1h3m2 0h3m-2 0h3m1 0h3m2 0h3m-2 0h3m0 0h3m7 0h3m1 0h3m-2 0h3m0 0h3m-1 0h3m13 0h3m12 0h3m10 0h3m-1 0h3m4 0h3m6 0h3m-117 1h3m14 0h3m8 0h3m-2 0h3m-2 0h3m2 0h3m-1 0h3m6 0h3m-2 0h3m0 0h3m4 0h3m2 0h3m-2 0h3m0 0h3m5 0h3m-1 0h3m-1 0h3m4 0h3m10 0h3m3 0h3m-1 0h3m-97 1h3m1 0h3m-2 0h3m-2 0h3m-1 0h3m0 0h3m-1 0h3m-2 0h3m-1 0h3m1 0h3m-1 0h3m-1 0h3m2 0h3m7 0h3m-1 0h3m-1 0h3m-2 0h3m2 0h3m0 0h3m5 0h3m0 0h3m12 0h3m10 0h3m0 0h3m-115 1h3m20 0h3m-1 0h3m11 0h3m-1 0h3m0 0h3m-2 0h3m3 0h3m4 0h3m2 0h3m-1 0h3m-2 0h3m1 0h3m1 0h3m-2 0h3m3 0h3m-1 0h3m-2 0h3m2 0h3m9 0h3m2 0h3m8 0h3m9 0h3m-110 1h3m2 0h3m-2 0h3m-2 0h3m6 0h3m1 0h3m0 0h3m1 0h3m2 0h3m1 0h3m5 0h3m2 0h3m1 0h3m2 0h3m7 0h3m3 0h3m9 0h3m1 0h3m-2 0h3m-2 0h3m7 0h3m-119 1h3m-2 0h3m1 0h3m4 0h3m10 0h3m9 0h3m3 0h3m1 0h3m1 0h3m4 0h3m-1 0h3m18 0h3m-2 0h3m3 0h3m-98 1h3m19 0h3m10 0h3m-2 0h3m5 0h3m-1 0h3m4 0h3m6 0h3m3 0h3m7 0h3m3 0h3m-2 0h3m9 0h3m-93 1h3m10 0h3m-2 0h3m0 0h3m-1 0h3m0 0h3m0 0h3m-2 0h3m-1 0h3m-1 0h3m2 0h3m2 0h3m7 0h3m1 0h3m-2 0h3m-1 0h3m-2 0h3m1 0h3m17 0h3m13 0h3m-101 1h3m18 0h3m4 0h3m-1 0h3m-2 0h3m1 0h3m0 0h3m2 0h3m6 0h3m1 0h3m4 0h3m-2 0h3m-1 0h3m1 0h3m3 0h3m0 0h3m1 0h3m-1 0h3m0 0h3m3 0h3m21 0h3m-120 1h3m-1 0h3m-2 0h3m3 0h3m-2 0h3m4 0h3m5 0h3m4 0h3m3 0h3m2 0h3m6 0h3m1 0h3m3 0h3m0 0h3m-1 0h3m-2 0h3m3 0h3m3 0h3m27 0h3m-122 1h3m2 0h3m6 0h3m2 0h3m-2 0h3m5 0h3m1 0h3m0 0h3m3 0h3m10 0h3m10 0h3m1 0h3m-2 0h3m0 0h3m-1 0h3m5 0h3m5 0h3m14 0h3m-92 1h3m0 0h3m-1 0h3m2 0h3m7 0h3m-1 0h3m-1 0h3m0 0h3m-2 0h3m1 0h3m-2 0h3m0 0h3m-1 0h3m7 0h3m0 0h3m13 0h3m18 0h3m-102 1h3m2 0h3m9 0h3m-1 0h3m8 0h3m-2 0h3m1 0h3m-2 0h3m-2 0h3m0 0h3m-1 0h3m3 0h3m5 0h3m-1 0h3m4 0h3m0 0h3m0 0h3m4 0h3m3 0h3m31 0h3m7 0h3m-133 1h3m21 0h3m0 0h3m2 0h3m-1 0h3m0 0h3m3 0h3m0 0h3m-1 0h3m2 0h3m-2 0h3m2 0h3m-1 0h3m4 0h3m3 0h3m5 0h3m9 0h3m1 0h3m43 0h3m-156 1h3m17 0h3m0 0h3m-2 0h3m8 0h3m-1 0h3m2 0h3m-2 0h3m-1 0h3m-2 0h3m0 0h3m8 0h3m0 0h3m1 0h3m-1 0h3m-2 0h3m10 0h3m0 0h3m1 0h3m-92 1h3m7 0h3m5 0h3m4 0h3m0 0h3m2 0h3m-1 0h3m0 0h3m0 0h3m0 0h3m-1 0h3m4 0h3m3 0h3m0 0h3m0 0h3m-1 0h3m4 0h3m-1 0h3m-2 0h3m3 0h3m-2 0h3m2 0h3m3 0h3m-1 0h3m-101 1h3m11 0h3m-2 0h3m17 0h3m1 0h3m5 0h3m-1 0h3m-2 0h3m2 0h3m2 0h3m-1 0h3m1 0h3m3 0h3m0 0h3m-1 0h3m-2 0h3m-1 0h3m0 0h3m8 0h3m7 0h3m15 0h3m-121 1h3m26 0h3m-1 0h3m1 0h3m2 0h3m5 0h3m13 0h3m4 0h3m2 0h3m10 0h3m6 0h3m-101 1h3m7 0h3m13 0h3m-2 0h3m13 0h3m-2 0h3m-2 0h3m5 0h3m-1 0h3m2 0h3m-2 0h3m-2 0h3m-2 0h3m0 0h3m-1 0h3m-2 0h3m13 0h3m-2 0h3m3 0h3m-1 0h3m0 0h3m31 0h3m-129 1h3m4 0h3m-2 0h3m19 0h3m5 0h3m-1 0h3m-1 0h3m2 0h3m-2 0h3m-2 0h3m7 0h3m-2 0h3m-2 0h3m-1 0h3m28 0h3m-107 1h3m2 0h3m15 0h3m5 0h3m-1 0h3m9 0h3m12 0h3m17 0h3m43 0h3m-126 1h3m9 0h3m-2 0h3m-1 0h3m0 0h3m-2 0h3m3 0h3m5 0h3m5 0h3m1 0h3m0 0h3m1 0h3m10 0h3m-1 0h3m2 0h3m0 0h3m-2 0h3m0 0h3m2 0h3m12 0h3m-1 0h3m-95 1h3m17 0h3m-1 0h3m6 0h3m0 0h3m-1 0h3m-2 0h3m8 0h3m3 0h3m2 0h3m-2 0h3m0 0h3m-1 0h3m12 0h3m-87 1h3m24 0h3m12 0h3m11 0h3m-1 0h3m-2 0h3m2 0h3m1 0h3m41 0h3m-113 1h3m4 0h3m7 0h3m15 0h3m0 0h3m14 0h3m-1 0h3m0 0h3m8 0h3m0 0h3m21 0h3m-2 0h3m-112 1h3m-1 0h3m10 0h3m12 0h3m9 0h3m-2 0h3m-2 0h3m-2 0h3m2 0h3m-2 0h3m1 0h3m-1 0h3m15 0h3m-1 0h3m-1 0h3m-2 0h3m-2 0h3m8 0h3m-2 0h3m-2 0h3m-85 1h3m10 0h3m8 0h3m4 0h3m1 0h3m4 0h3m0 0h3m-1 0h3m1 0h3m0 0h3m-2 0h3m17 0h3m4 0h3m9 0h3m-101 1h3m2 0h3m-2 0h3m28 0h3m-2 0h3m1 0h3m7 0h3m3 0h3m0 0h3m-2 0h3m-2 0h3m2 0h3m2 0h3m-1 0h3m10 0h3m-98 1h3m7 0h3m17 0h3m6 0h3m8 0h3m0 0h3m4 0h3m9 0h3m7 0h3m-85 1h3m15 0h3m11 0h3m11 0h3m-2 0h3m1 0h3m-2 0h3m0 0h3m4 0h3m5 0h3m1 0h3m10 0h3m6 0h3m5 0h3m-106 1h3m23 0h3m12 0h3m0 0h3m8 0h3m-2 0h3m1 0h3m9 0h3m4 0h3m6 0h3m-1 0h3m5 0h3m-2 0h3m-91 1h3m32 0h3m3 0h3m20 0h3m0 0h3m3 0h3m17 0h3m23 0h3m-108 1h3m2 0h3m4 0h3m23 0h3m3 0h3m-2 0h3m2 0h3m-1 0h3m2 0h3m6 0h3m14 0h3m-108 1h3m33 0h3m10 0h3m3 0h3m0 0h3m3 0h3m-1 0h3m-2 0h3m36 0h3m-95 1h3m2 0h3m14 0h3m-2 0h3m8 0h3m1 0h3m1 0h3m1 0h3m0 0h3m0 0h3m10 0h3m18 0h3m0 0h3m-85 1h3m10 0h3m-1 0h3m-2 0h3m1 0h3m4 0h3m2 0h3m1 0h3m6 0h3m7 0h3m6 0h3m-85 1h3m31 0h3m30 0h3m1 0h3m6 0h3m-1 0h3m-91 1h3m8 0h3m47 0h3m-2 0h3m0 0h3m3 0h3m30 0h3m9 0h3m-93 1h3m2 0h3m2 0h3m22 0h3m20 0h3m10 0h3m-94 1h3m16 0h3m11 0h3m0 0h3m26 0h3m14 0h3m8 0h3m-77 1h3m3 0h3m-1 0h3m18 0h3m11 0h3m8 0h3m9 0h3m1 0h3m-1 0h3m3 0h3m-104 1h3m0 0h3m8 0h3m3 0h3m38 0h3m0 0h3m1 0h3m-66 1h3m2 0h3m3 0h3m5 0h3m1 0h3m16 0h3m-2 0h3m13 0h3m1 0h3m-2 0h3m14 0h3m16 0h3m-106 1h3m22 0h3m4 0h3m4 0h3m13 0h3m18 0h3m22 0h3m6 0h3m-75 1h3m9 0h3m6 0h3m-51 1h3m2 0h3m-1 0h3m26 0h3m-1 0h3m6 0h3m-49 1h3m16 0h3m3 0h3m4 0h3m12 0h3m-1 0h3m42 0h3m-111 1h3m12 0h3m17 0h3m39 0h3m24 0h3m-62 1h3m0 0h3m19 0h3m2 0h3m7 0h3m-2 0h3m22 0h3m-74 1h3m10 0h3m11 0h3m1 0h3m-1 0h3m-1 0h3m9 0h3m13 0h3m28 0h3m-116 1h3m60 0h3m-57 1h3m10 0h3m13 0h3m53 0h3m-104 1h3m22 0h3m36 0h3m-65 1h3m19 0h3m3 0h3m-2 0h3m46 0h3m-72 2h3m36 0h3m-47 1h3m30 0h3m16 0h3m19 0h3m-77 1h3m-2 0h3m58 0h3m12 0h3m-94 1h3m42 0h3m37 0h3m-45 1h3m13 0h3m-2 1h3m9 0h3m-34 1h3m31 0h3m-26 1h3m3 0h3m31 0h3m-88 1h3m67 0h3m-78 2h3m15 0h3m4 3h3m50 0h3m-33 5h3m13 3h3m-38 2h3" stroke="#30e030" stroke-width="3" opacity="0.9" fill="none"/>
<ellipse cx="134.90" cy="165.50" rx="12.00" ry="9.50" fill="#3ce83c" opacity="0.85" transform="rotate(0 134.90 165.50)" filter="url(#b06)"/>
<path transform="scale(0.25)" d="M523 672.5h3m-3 14h3m12 2h3m-29 3h3m23 6h3m-12 1h3m-25 1h3m35 3h3m-60 1h3m13 0h3m36 0h3m-53 2h3m15 0h3m-15 1h3m17 0h3m0 0h3m11 0h3m-12 1h3m51 0h3m-69 1h3m23 0h3m-35 1h3m19 0h3m10 0h3m3 0h3m-32 1h3m34 1h3m-52 2h3m-20 1h3m26 0h3m0 0h3m17 0h3m9 0h3m-35 1h3m1 0h3m-41 1h3m1 0h3m4 0h3m9 0h3m0 0h3m2 0h3m2 0h3m-21 1h3m16 0h3m-20 1h3m-1 0h3m-2 0h3m7 0h3m15 0h3m-61 1h3m13 0h3m11 0h3m1 0h3m8 0h3m7 0h3m2 0h3m-22 1h3m12 0h3m-39 1h3m6 0h3m17 0h3m10 0h3m-40 1h3m7 0h3m4 0h3m20 0h3m1 0h3m2 0h3m-37 1h3m-1 0h3m0 0h3m0 0h3m10 0h3m-2 0h3m1 0h3m-2 0h3m-36 1h3m-2 0h3m-2 0h3m-1 0h3m2 0h3m6 0h3m8 0h3m-31 1h3m-1 0h3m3 0h3m3 0h3m7 0h3m4 0h3m4 0h3m-73 1h3m4 0h3m3 0h3m1 0h3m8 0h3m3 0h3m0 0h3m4 0h3m-2 0h3m2 0h3m-1 0h3m0 0h3m-40 1h3m6 0h3m-1 0h3m4 0h3m3 0h3m-37 1h3m8 0h3m4 0h3m2 0h3m1 0h3m-1 0h3m4 0h3m8 0h3m-44 1h3m1 0h3m5 0h3m0 0h3m6 0h3m-2 0h3m-1 0h3m2 0h3m-1 0h3m-2 0h3m0 0h3m13 0h3m-67 1h3m10 0h3m-2 0h3m8 0h3m4 0h3m7 0h3m1 0h3m-53 1h3m30 0h3m0 0h3m-1 0h3m3 0h3m-2 0h3m0 0h3m0 0h3m-2 0h3m10 0h3m8 0h3m-78 1h3m7 0h3m3 0h3m2 0h3m-2 0h3m2 0h3m0 0h3m1 0h3m-1 0h3m4 0h3m9 0h3m3 0h3m-58 1h3m11 0h3m4 0h3m-1 0h3m6 0h3m-1 0h3m-1 0h3m2 0h3m1 0h3m3 0h3m1 0h3m-55 1h3m14 0h3m7 0h3m0 0h3m-2 0h3m0 0h3m1 0h3m0 0h3m0 0h3m3 0h3m-65 1h3m10 0h3m2 0h3m5 0h3m-1 0h3m0 0h3m-2 0h3m0 0h3m0 0h3m5 0h3m9 0h3m8 0h3m-48 1h3m0 0h3m-2 0h3m0 0h3m-1 0h3m5 0h3m-1 0h3m0 0h3m5 0h3m2 0h3m1 0h3m2 0h3m-55 1h3m-2 0h3m8 0h3m-2 0h3m1 0h3m15 0h3m8 0h3m-2 0h3m-47 1h3m0 0h3m0 0h3m2 0h3m-2 0h3m-2 0h3m1 0h3m0 0h3m8 0h3m2 0h3m2 0h3m18 0h3m-77 1h3m9 0h3m3 0h3m2 0h3m1 0h3m-1 0h3m-1 0h3m-2 0h3m-2 0h3m0 0h3m5 0h3m2 0h3m-2 0h3m1 0h3m3 0h3m-67 1h3m0 0h3m13 0h3m-2 0h3m5 0h3m0 0h3m2 0h3m-2 0h3m-1 0h3m0 0h3m-2 0h3m-1 0h3m1 0h3m6 0h3m3 0h3m1 0h3m-62 1h3m6 0h3m-1 0h3m-2 0h3m0 0h3m-1 0h3m0 0h3m-1 0h3m1 0h3m-2 0h3m-1 0h3m-1 0h3m4 0h3m2 0h3m10 0h3m-72 1h3m12 0h3m2 0h3m-2 0h3m0 0h3m14 0h3m2 0h3m-1 0h3m-2 0h3m2 0h3m2 0h3m-1 0h3m-47 1h3m3 0h3m-2 0h3m-1 0h3m2 0h3m-1 0h3m-1 0h3m-1 0h3m-1 0h3m1 0h3m-2 0h3m5 0h3m3 0h3m-2 0h3m7 0h3m-2 0h3m-68 1h3m8 0h3m0 0h3m10 0h3m11 0h3m1 0h3m1 0h3m7 0h3m0 0h3m-56 1h3m8 0h3m5 0h3m-2 0h3m-1 0h3m-2 0h3m4 0h3m5 0h3m-2 0h3m-2 0h3m-1 0h3m4 0h3m0 0h3m-69 1h3m9 0h3m-2 0h3m-1 0h3m-2 0h3m4 0h3m2 0h3m-2 0h3m6 0h3m3 0h3m5 0h3m-2 0h3m-2 0h3m-1 0h3m-1 0h3m-2 0h3m-2 0h3m7 0h3m-67 1h3m1 0h3m18 0h3m-2 0h3m0 0h3m-2 0h3m5 0h3m1 0h3m-2 0h3m0 0h3m-2 0h3m-1 0h3m1 0h3m4 0h3m-1 0h3m-68 1h3m16 0h3m-2 0h3m2 0h3m0 0h3m3 0h3m5 0h3m7 0h3m19 0h3m-71 1h3m7 0h3m1 0h3m-2 0h3m0 0h3m-1 0h3m-2 0h3m-2 0h3m0 0h3m-2 0h3m3 0h3m-2 0h3m-2 0h3m1 0h3m-1 0h3m-2 0h3m0 0h3m-2 0h3m-2 0h3m-2 0h3m0 0h3m11 0h3m-73 1h3m5 0h3m3 0h3m-1 0h3m-2 0h3m-2 0h3m5 0h3m0 0h3m-2 0h3m-2 0h3m2 0h3m-1 0h3m-2 0h3m-2 0h3m-2 0h3m1 0h3m1 0h3m-1 0h3m1 0h3m-2 0h3m-2 0h3m-2 0h3m3 0h3m-59 1h3m4 0h3m6 0h3m-2 0h3m-1 0h3m1 0h3m1 0h3m-1 0h3m-1 0h3m4 0h3m-2 0h3m9 0h3m-2 0h3m19 0h3m-80 1h3m1 0h3m0 0h3m1 0h3m1 0h3m2 0h3m4 0h3m-1 0h3m1 0h3m-2 0h3m0 0h3m-2 0h3m1 0h3m13 0h3m0 0h3m-60 1h3m-2 0h3m-2 0h3m-1 0h3m8 0h3m2 0h3m-1 0h3m-1 0h3m-1 0h3m3 0h3m-2 0h3m-1 0h3m14 0h3m11 0h3m-69 1h3m0 0h3m2 0h3m5 0h3m-2 0h3m-2 0h3m1 0h3m-2 0h3m-2 0h3m0 0h3m-2 0h3m-1 0h3m0 0h3m0 0h3m-2 0h3m-1 0h3m1 0h3m5 0h3m11 0h3m6 0h3m-72 1h3m4 0h3m0 0h3m-1 0h3m-2 0h3m0 0h3m11 0h3m-1 0h3m-2 0h3m-2 0h3m-1 0h3m-1 0h3m-2 0h3m0 0h3m4 0h3m1 0h3m-2 0h3m28 0h3m-87 1h3m-2 0h3m0 0h3m1 0h3m10 0h3m-2 0h3m-2 0h3m1 0h3m0 0h3m-1 0h3m-2 0h3m-1 0h3m3 0h3m-2 0h3m0 0h3m-2 0h3m-2 0h3m-1 0h3m1 0h3m1 0h3m-57 1h3m1 0h3m0 0h3m1 0h3m2 0h3m0 0h3m-2 0h3m-1 0h3m-2 0h3m-2 0h3m-2 0h3m1 0h3m1 0h3m-2 0h3m-40 1h3m1 0h3m-1 0h3m5 0h3m1 0h3m-2 0h3m2 0h3m-2 0h3m4 0h3m3 0h3m2 0h3m-1 0h3m9 0h3m-60 1h3m-2 0h3m1 0h3m-1 0h3m1 0h3m0 0h3m1 0h3m-2 0h3m-1 0h3m-2 0h3m-1 0h3m1 0h3m-2 0h3m0 0h3m-2 0h3m8 0h3m3 0h3m-2 0h3m-53 1h3m2 0h3m-2 0h3m-1 0h3m12 0h3m0 0h3m1 0h3m-2 0h3m2 0h3m-1 0h3m-2 0h3m7 0h3m-1 0h3m-1 0h3m-57 1h3m-1 0h3m2 0h3m5 0h3m1 0h3m-1 0h3m-2 0h3m1 0h3m0 0h3m1 0h3m1 0h3m-2 0h3m-1 0h3m1 0h3m9 0h3m-53 1h3m7 0h3m-2 0h3m1 0h3m0 0h3m9 0h3m5 0h3m4 0h3m14 0h3m-77 1h3m3 0h3m-1 0h3m6 0h3m0 0h3m1 0h3m-1 0h3m-1 0h3m-2 0h3m-2 0h3m-2 0h3m-1 0h3m-2 0h3m2 0h3m0 0h3m-33 1h3m1 0h3m-1 0h3m1 0h3m-2 0h3m1 0h3m-2 0h3m6 0h3m2 0h3m-2 0h3m-2 0h3m11 0h3m-2 0h3m-53 1h3m-2 0h3m-1 0h3m8 0h3m-2 0h3m-2 0h3m-1 0h3m-2 0h3m-2 0h3m2 0h3m2 0h3m-1 0h3m10 0h3m-68 1h3m-2 0h3m3 0h3m0 0h3m-2 0h3m-1 0h3m10 0h3m0 0h3m-1 0h3m2 0h3m-2 0h3m1 0h3m-2 0h3m3 0h3m3 0h3m7 0h3m-1 0h3m-65 1h3m-2 0h3m9 0h3m-2 0h3m-1 0h3m0 0h3m-2 0h3m7 0h3m-2 0h3m3 0h3m-2 0h3m0 0h3m3 0h3m2 0h3m21 0h3m-76 1h3m8 0h3m5 0h3m2 0h3m-2 0h3m6 0h3m2 0h3m-1 0h3m-2 0h3m7 0h3m-47 1h3m5 0h3m0 0h3m-2 0h3m6 0h3m2 0h3m-1 0h3m-2 0h3m-1 0h3m-2 0h3m11 0h3m-54 1h3m3 0h3m0 0h3m0 0h3m4 0h3m6 0h3m-2 0h3m2 0h3m4 0h3m-2 0h3m-1 0h3m0 0h3m1 0h3m-1 0h3m1 0h3m1 0h3m-67 1h3m-2 0h3m-1 0h3m6 0h3m0 0h3m0 0h3m-1 0h3m5 0h3m0 0h3m3 0h3m-2 0h3m-20 1h3m-2 0h3m1 0h3m-2 0h3m2 0h3m-2 0h3m2 0h3m1 0h3m-2 0h3m15 0h3m-62 1h3m27 0h3m-2 0h3m-2 0h3m-2 0h3m0 0h3m1 0h3m1 0h3m-29 1h3m3 0h3m-2 0h3m-2 0h3m23 0h3m19 0h3m-58 1h3m-2 0h3m5 0h3m-2 0h3m5 0h3m0 0h3m3 0h3m-46 1h3m6 0h3m1 0h3m-2 0h3m2 0h3m9 0h3m6 0h3m-2 0h3m9 0h3m7 0h3m-64 1h3m17 0h3m8 0h3m0 0h3m1 0h3m-48 1h3m4 0h3m1 0h3m0 0h3m14 0h3m-1 0h3m1 0h3m0 0h3m4 0h3m3 0h3m11 0h3m0 0h3m-57 1h3m-2 0h3m8 0h3m-1 0h3m2 0h3m-2 0h3m1 0h3m2 0h3m0 0h3m24 0h3m-80 1h3m12 0h3m8 0h3m2 0h3m-2 0h3m-2 0h3m-2 0h3m-2 0h3m5 0h3m4 0h3m-21 1h3m3 0h3m21 0h3m-55 1h3m8 0h3m-2 0h3m3 0h3m-1 0h3m9 0h3m10 0h3m-32 1h3m0 0h3m8 0h3m5 0h3m5 0h3m3 0h3m-48 1h3m-2 0h3m-2 0h3m8 0h3m6 0h3m8 0h3m-1 0h3m5 0h3m19 0h3m-61 1h3m-2 0h3m7 0h3m9 0h3m0 0h3m2 0h3m6 0h3m-56 1h3m8 0h3m-2 0h3m2 0h3m1 0h3m11 0h3m7 0h3m-51 1h3m11 0h3m1 0h3m3 0h3m4 0h3m-2 0h3m4 0h3m-1 0h3m-51 1h3m-1 0h3m10 0h3m6 0h3m5 0h3m3 0h3m0 0h3m-1 0h3m0 0h3m12 0h3m-56 1h3m11 0h3m1 0h3m-2 1h3m1 0h3m1 0h3m13 0h3m-29 2h3m0 0h3m9 0h3m4 0h3m-38 1h3m20 0h3m-8 1h3m6 0h3m-48 1h3m16 0h3m17 1h3m1 0h3m3 0h3m1 0h3m13 0h3m-43 1h3m10 0h3m6 0h3m5 0h3m0 0h3m-45 1h3m10 0h3m-11 1h3m47 0h3m-51 1h3m30 0h3m-31 1h3m24 0h3" stroke="#f01010" stroke-width="3" opacity="0.9" fill="none"/>
<ellipse cx="130.70" cy="188.50" rx="6.00" ry="8.00" fill="#f01212" opacity="1.0" transform="rotate(0 130.70 188.50)" filter="url(#b06)"/>
<path transform="scale(0.25)" d="M621 665.5h3m3 5h3m-12 6h3m-9 5h3m6 0h3m-25 3h3m-8 1h3m13 1h3m8 1h3m0 2h3m-27 3h3m6 0h3m0 1h3m20 0h3m3 0h3m-52 1h3m28 0h3m-1 0h3m5 0h3m-46 1h3m38 1h3m-7 1h3m1 0h3m-7 1h3m-15 1h3m4 0h3m3 0h3m-7 1h3m-20 1h3m11 0h3m-7 1h3m-2 1h3m18 0h3m14 0h3m-28 1h3m-42 1h3m20 0h3m7 0h3m1 0h3m0 0h3m-27 1h3m3 0h3m3 0h3m-1 0h3m1 0h3m-2 0h3m-1 0h3m6 0h3m-16 1h3m4 0h3m-33 1h3m4 0h3m4 0h3m-2 0h3m3 0h3m6 0h3m-23 1h3m6 0h3m0 0h3m17 0h3m-51 1h3m7 0h3m4 0h3m1 0h3m0 0h3m3 0h3m-4 1h3m6 0h3m2 0h3m-44 1h3m0 0h3m5 0h3m4 0h3m2 0h3m2 0h3m8 0h3m5 0h3m-36 1h3m16 0h3m-27 1h3m0 0h3m-2 0h3m-2 0h3m-2 0h3m1 0h3m-1 0h3m4 0h3m-7 1h3m0 0h3m-2 0h3m-30 1h3m-2 0h3m10 0h3m4 0h3m6 0h3m-18 1h3m1 0h3m-1 0h3m-10 1h3m-2 0h3m10 0h3m-2 0h3m-2 0h3m-34 1h3m1 0h3m1 0h3m3 0h3m-1 0h3m-2 0h3m11 0h3m6 0h3m-38 1h3m8 0h3m2 0h3m1 0h3m1 0h3m4 0h3m-28 1h3m8 0h3m0 0h3m-2 0h3m-2 1h3m-1 0h3m-1 0h3m1 0h3m23 0h3m-55 1h3m4 0h3m2 0h3m0 0h3m-2 0h3m0 0h3m-20 1h3m3 0h3m6 0h3m1 0h3m-1 0h3m-26 1h3m1 0h3m-1 0h3m0 0h3m7 0h3m2 0h3m-2 0h3m7 0h3m-2 0h3m-33 1h3m12 0h3m4 0h3m-1 0h3m-34 1h3m4 0h3m0 0h3m1 0h3m-1 0h3m-2 0h3m-1 0h3m3 0h3m-30 1h3m-1 0h3m3 0h3m5 0h3m0 0h3m-1 0h3m3 0h3m6 0h3m-54 1h3m7 0h3m5 0h3m-2 0h3m0 0h3m1 0h3m-2 0h3m-2 0h3m-1 0h3m0 0h3m1 0h3m-2 0h3m2 0h3m7 0h3m-35 1h3m-1 0h3m-2 0h3m-2 0h3m-1 0h3m2 0h3m-1 0h3m-2 0h3m-2 0h3m-2 0h3m-2 0h3m-2 0h3m-1 0h3m0 0h3m-2 0h3m-1 0h3m-45 1h3m9 0h3m-1 0h3m2 0h3m3 0h3m1 0h3m17 0h3m-35 1h3m-2 0h3m-1 0h3m-1 0h3m0 0h3m-1 0h3m6 0h3m5 0h3m-40 1h3m0 0h3m7 0h3m-1 0h3m3 0h3m-2 0h3m1 0h3m7 0h3m2 0h3m-45 1h3m3 0h3m-1 0h3m2 0h3m-1 0h3m-2 0h3m4 0h3m-1 0h3m-2 0h3m-2 0h3m-1 0h3m3 0h3m-39 1h3m19 0h3m1 0h3m2 0h3m-1 0h3m-33 1h3m1 0h3m-1 0h3m-2 0h3m3 0h3m5 0h3m1 0h3m-1 0h3m-2 0h3m-2 0h3m7 0h3m-59 1h3m16 0h3m8 0h3m-2 0h3m2 0h3m-2 0h3m-2 0h3m-2 0h3m0 0h3m-1 0h3m-2 0h3m0 0h3m-21 1h3m0 0h3m0 0h3m-1 0h3m-1 0h3m-1 0h3m-2 0h3m4 0h3m-2 0h3m-21 1h3m-2 0h3m16 0h3m-29 1h3m0 0h3m1 0h3m-1 0h3m0 0h3m2 0h3m-2 0h3m-31 1h3m7 0h3m2 0h3m-1 0h3m2 0h3m0 0h3m-2 0h3m-1 0h3m8 0h3m-48 1h3m-1 0h3m10 0h3m0 0h3m-1 0h3m2 0h3m-1 0h3m-2 0h3m-2 0h3m-2 0h3m-1 0h3m7 0h3m-41 1h3m4 0h3m0 0h3m2 0h3m-1 0h3m0 0h3m-1 0h3m-1 0h3m0 0h3m10 0h3m-27 1h3m-1 0h3m-1 0h3m0 0h3m5 0h3m-1 0h3m-32 1h3m1 0h3m-1 0h3m-1 0h3m3 0h3m0 0h3m0 0h3m2 0h3m5 0h3m-42 1h3m10 0h3m0 0h3m-1 0h3m1 0h3m0 0h3m0 0h3m3 0h3m-1 0h3m-2 0h3m5 0h3m-44 1h3m0 0h3m-1 0h3m-2 0h3m3 0h3m-1 0h3m2 0h3m-2 0h3m-2 0h3m-2 0h3m2 0h3m5 0h3m-38 1h3m0 0h3m1 0h3m1 0h3m1 0h3m-1 0h3m-2 0h3m1 0h3m-2 0h3m0 0h3m-2 0h3m4 0h3m-36 1h3m19 0h3m-2 0h3m5 0h3m-34 1h3m1 0h3m1 0h3m-1 0h3m-2 0h3m-2 0h3m-1 0h3m-2 0h3m-2 0h3m-1 0h3m-2 0h3m2 0h3m-1 0h3m6 0h3m-1 0h3m-38 1h3m-1 0h3m10 0h3m-2 0h3m-2 0h3m0 0h3m-1 0h3m7 0h3m-46 1h3m8 0h3m6 0h3m-1 0h3m-2 0h3m0 0h3m-2 0h3m-2 0h3m1 0h3m0 0h3m7 0h3m-40 1h3m2 0h3m-1 0h3m9 0h3m7 0h3m-29 1h3m4 0h3m-1 0h3m-1 0h3m1 0h3m0 0h3m-1 0h3m2 0h3m-26 1h3m4 0h3m-1 0h3m-2 0h3m-1 0h3m-1 0h3m-2 0h3m1 0h3m3 0h3m-26 1h3m-2 0h3m2 0h3m0 0h3m-2 0h3m4 0h3m-2 0h3m2 0h3m3 0h3m-37 1h3m1 0h3m9 0h3m1 0h3m-1 0h3m-2 0h3m-2 0h3m3 0h3m-33 1h3m3 0h3m3 0h3m-1 0h3m1 0h3m5 0h3m-2 0h3m4 0h3m-1 0h3m2 0h3m-44 1h3m-1 0h3m8 0h3m-2 0h3m-2 0h3m-1 0h3m2 0h3m-2 0h3m4 0h3m-44 1h3m4 0h3m0 0h3m2 0h3m2 0h3m0 0h3m-1 0h3m0 0h3m-2 0h3m-2 0h3m-1 0h3m0 0h3m7 0h3m-42 1h3m-1 0h3m5 0h3m0 0h3m-1 0h3m-1 0h3m2 0h3m-1 0h3m-2 0h3m9 0h3m-30 1h3m-2 0h3m5 0h3m-2 0h3m-2 0h3m14 0h3m-34 1h3m4 0h3m10 0h3m0 0h3m-30 1h3m-1 0h3m2 0h3m2 0h3m1 0h3m-2 0h3m-16 1h3m0 0h3m-1 0h3m-2 0h3m3 0h3m2 0h3m9 0h3m-2 0h3m-2 0h3m3 0h3m-44 1h3m0 0h3m3 0h3m-2 0h3m2 0h3m-2 0h3m-1 0h3m2 0h3m-34 1h3m13 0h3m-2 0h3m-2 0h3m1 0h3m-2 0h3m1 0h3m-1 0h3m10 0h3m-23 1h3m-2 0h3m-1 0h3m20 0h3m-1 0h3m12 0h3m-54 1h3m-2 0h3m8 0h3m0 0h3m11 0h3m-34 1h3m-1 0h3m1 0h3m8 0h3m0 0h3m0 0h3m-26 1h3m10 0h3m0 0h3m1 0h3m2 0h3m6 0h3m-44 1h3m9 0h3m-1 0h3m0 0h3m17 0h3m-1 0h3m5 0h3m-47 1h3m5 0h3m2 0h3m3 0h3m-1 0h3m0 0h3m-2 0h3m-1 0h3m-2 0h3m1 0h3m-38 1h3m5 0h3m2 0h3m-2 0h3m1 0h3m-12 1h3m12 0h3m-1 0h3m-1 0h3m-23 1h3m9 0h3m11 0h3m-2 0h3m-33 1h3m6 0h3m-17 1h3m6 0h3m16 0h3m-2 0h3m0 0h3m-30 1h3m0 0h3m1 0h3m8 0h3m-3 1h3m1 0h3m-2 0h3m5 0h3m3 0h3m-49 1h3m-1 0h3m-1 0h3m12 0h3m2 1h3m0 0h3m10 0h3m-20 1h3m2 0h3m9 0h3m-24 1h3m12 0h3m3 0h3m-34 1h3m-2 0h3m6 0h3m-13 1h3m4 0h3m-2 0h3m-2 0h3m15 0h3m2 0h3m-23 1h3m12 0h3m-5 1h3m-15 1h3m17 0h3m-2 0h3m-32 1h3m6 0h3m-7 1h3m9 0h3m-16 1h3m26 2h3m-49 1h3m35 0h3m6 2h3m-20 1h3m0 1h3" stroke="#1010e0" stroke-width="3" opacity="0.9" fill="none"/>
<ellipse cx="155.00" cy="186.00" rx="4.20" ry="9.00" fill="#1414dd" opacity="1.0" transform="rotate(0 155.00 186.00)" filter="url(#b06)"/>
<rect x="120.60" y="152.50" width="28.80" height="25.20" fill="none" stroke="#555" stroke-width="0.9" />
<rect x="149.20" y="172.80" width="14.30" height="27.00" fill="none" stroke="#555" stroke-width="0.9" />
<text x="121.50" y="158.72" font-size="6.2" fill="#1a3a1a" text-anchor="start" stroke="#1a3a1a" stroke-width="0.1">P2</text>
<text x="124.50" y="150.72" font-size="9" fill="#c8303a" text-anchor="start">33</text>
<text x="164.00" y="197.72" font-size="9" fill="#c8303a" text-anchor="start">31</text>
<rect x="119.60" y="138.60" width="55.70" height="63.30" fill="none" stroke="#1a1a1a" stroke-width="1.7" />
<path d="M117.20 139.60h1.6M117.20 142.15h1.6M117.20 144.71h1.6M117.20 147.26h1.6M117.20 149.82h1.6M117.20 152.37h1.6M117.20 154.93h1.6M117.20 157.48h1.6M117.20 160.03h1.6M117.20 162.59h1.6M117.20 165.14h1.6M117.20 167.70h1.6M117.20 170.25h1.6M117.20 172.80h1.6M117.20 175.36h1.6M117.20 177.91h1.6M117.20 180.47h1.6M117.20 183.02h1.6M117.20 185.57h1.6M117.20 188.13h1.6M117.20 190.68h1.6M117.20 193.24h1.6M117.20 195.79h1.6M117.20 198.35h1.6M117.20 200.90h1.6" stroke="#000" stroke-width="0.6"/>
<path d="M120.60 202.70v1.6M122.84 202.70v1.6M125.07 202.70v1.6M127.31 202.70v1.6M129.55 202.70v1.6M131.79 202.70v1.6M134.03 202.70v1.6M136.26 202.70v1.6M138.50 202.70v1.6M140.74 202.70v1.6M142.97 202.70v1.6M145.21 202.70v1.6M147.45 202.70v1.6M149.69 202.70v1.6M151.93 202.70v1.6M154.16 202.70v1.6M156.40 202.70v1.6M158.64 202.70v1.6M160.88 202.70v1.6M163.11 202.70v1.6M165.35 202.70v1.6M167.59 202.70v1.6M169.83 202.70v1.6M172.06 202.70v1.6M174.30 202.70v1.6" stroke="#000" stroke-width="0.6"/>
<line x1="116.30" y1="143.80" x2="118.80" y2="143.80" stroke="#000" stroke-width="1.2" />
<line x1="116.30" y1="158.20" x2="118.80" y2="158.20" stroke="#000" stroke-width="1.2" />
<line x1="116.30" y1="172.60" x2="118.80" y2="172.60" stroke="#000" stroke-width="1.2" />
<line x1="116.30" y1="187.60" x2="118.80" y2="187.60" stroke="#000" stroke-width="1.2" />
<line x1="116.30" y1="192.20" x2="118.80" y2="192.20" stroke="#000" stroke-width="1.2" />
<text x="110.30" y="145.88" font-size="5.8" fill="#1e1e1e" text-anchor="middle">10<tspan font-size="3.48" dy="-2.32">5</tspan></text>
<text x="110.30" y="160.28" font-size="5.8" fill="#1e1e1e" text-anchor="middle">10<tspan font-size="3.48" dy="-2.32">4</tspan></text>
<text x="110.30" y="174.68" font-size="5.8" fill="#1e1e1e" text-anchor="middle">10<tspan font-size="3.48" dy="-2.32">3</tspan></text>
<text x="110.30" y="189.68" font-size="5.8" fill="#1e1e1e" text-anchor="middle">10<tspan font-size="3.48" dy="-2.32">2</tspan></text>
<text x="114.50" y="194.78" font-size="5.8" fill="#1e1e1e" text-anchor="end" stroke="#1e1e1e" stroke-width="0.1">0</text>
<text x="112.80" y="203.20" font-size="5.3" fill="#1e1e1e" text-anchor="end" stroke="#1e1e1e" stroke-width="0.1">-182</text>
<line x1="128.00" y1="202.70" x2="128.00" y2="205.20" stroke="#000" stroke-width="1.2" />
<line x1="142.50" y1="202.70" x2="142.50" y2="205.20" stroke="#000" stroke-width="1.2" />
<line x1="157.40" y1="202.70" x2="157.40" y2="205.20" stroke="#000" stroke-width="1.2" />
<line x1="169.00" y1="202.70" x2="169.00" y2="205.20" stroke="#000" stroke-width="1.2" />
<text x="128.00" y="212.88" font-size="5.8" fill="#1e1e1e" text-anchor="middle" stroke="#1e1e1e" stroke-width="0.1">0</text>
<text x="142.50" y="212.88" font-size="5.8" fill="#1e1e1e" text-anchor="middle">10<tspan font-size="3.48" dy="-2.32">3</tspan></text>
<text x="157.40" y="212.88" font-size="5.8" fill="#1e1e1e" text-anchor="middle">10<tspan font-size="3.48" dy="-2.32">4</tspan></text>
<text x="169.00" y="212.88" font-size="5.8" fill="#1e1e1e" text-anchor="middle">10<tspan font-size="3.48" dy="-2.32">5</tspan></text>
<text x="122.80" y="217.90" font-size="5.3" fill="#1e1e1e" text-anchor="end" stroke="#1e1e1e" stroke-width="0.1">-498</text>
<text x="124.60" y="223.38" font-size="7.2" fill="#141414" text-anchor="start" textLength="46" lengthAdjust="spacingAndGlyphs" stroke="#141414" stroke-width="0.18">mCD45 APC-Cy7-A</text>
<text transform="translate(101.00,169.40) rotate(-90)" x="0" y="2.58" font-size="7.2" fill="#141414" text-anchor="middle" textLength="54" lengthAdjust="spacingAndGlyphs" stroke="#141414" stroke-width="0.18">hCD45 PerCP-Cy5-5-A</text>
<path transform="scale(0.25)" d="M877 559.5h3m-48 3h3m7 4h3m32 1h3m1 0h3m2 1h3m6 1h3m-23 1h3m2 1h3m-41 1h3m26 0h3m-10 1h3m15 0h3m-36 2h3m-2 0h3m-12 1h3m10 1h3m15 0h3m12 0h3m-39 1h3m-6 1h3m25 0h3m-57 1h3m27 1h3m-1 0h3m-1 0h3m0 0h3m10 0h3m-17 1h3m-2 0h3m9 0h3m-30 1h3m2 0h3m30 0h3m-6 1h3m11 0h3m-43 1h3m7 0h3m-1 1h3m20 0h3m-26 1h3m-33 1h3m18 0h3m20 0h3m7 0h3m-2 0h3m5 0h3m-39 2h3m10 0h3m-29 1h3m12 0h3m-17 2h3m10 0h3m4 0h3m0 0h3m-8 1h3m1 0h3m-22 1h3m11 0h3m2 0h3m-30 1h3m2 0h3m7 0h3m5 0h3m-17 1h3m-2 0h3m17 0h3m-2 0h3m-24 1h3m12 0h3m-2 0h3m3 0h3m-28 1h3m9 0h3m-1 0h3m-2 0h3m13 0h3m23 0h3m-69 1h3m12 0h3m-2 0h3m-2 0h3m-14 1h3m19 0h3m10 0h3m-52 1h3m5 0h3m1 0h3m0 0h3m17 0h3m-43 1h3m28 0h3m7 0h3m1 0h3m16 0h3m-44 1h3m22 0h3m6 0h3m-29 1h3m4 0h3m3 0h3m8 0h3m2 0h3m3 0h3m-74 1h3m38 0h3m14 0h3m-38 1h3m14 0h3m0 0h3m11 0h3m-2 0h3m6 0h3m-43 1h3m16 1h3m13 0h3m5 0h3m-45 1h3m2 0h3m12 0h3m-2 0h3m11 0h3m-52 1h3m4 0h3m17 0h3m0 0h3m-1 0h3m-16 1h3m12 0h3m1 0h3m4 0h3m-46 1h3m1 0h3m0 0h3m30 0h3m19 0h3m-48 1h3m13 0h3m1 0h3m-2 0h3m-31 1h3m17 0h3m-43 1h3m38 0h3m-1 0h3m-2 0h3m-36 1h3m2 0h3m1 0h3m1 0h3m11 0h3m1 0h3m3 0h3m9 0h3m2 0h3m-39 1h3m-1 0h3m8 0h3m6 0h3m-1 0h3m11 0h3m-60 1h3m5 0h3m12 0h3m-1 0h3m1 0h3m0 0h3m-1 0h3m2 0h3m26 0h3m-58 1h3m5 0h3m0 0h3m3 0h3m-2 0h3m-12 1h3m0 0h3m6 0h3m8 0h3m-53 1h3m10 0h3m6 0h3m19 0h3m6 0h3m-51 1h3m2 0h3m4 0h3m7 0h3m7 0h3m26 0h3m-50 1h3m-2 0h3m-2 0h3m11 0h3m12 0h3m-56 1h3m23 0h3m5 0h3m-2 0h3m-2 0h3m10 0h3m0 0h3m3 0h3m1 0h3m-54 1h3m10 0h3m6 0h3m-2 0h3m3 0h3m-51 1h3m30 0h3m8 0h3m-1 0h3m19 0h3m-2 0h3m-45 1h3m-2 0h3m1 0h3m-1 0h3m-2 0h3m1 0h3m10 0h3m2 0h3m6 0h3m-37 1h3m-1 0h3m-1 0h3m4 0h3m13 0h3m7 0h3m-57 1h3m0 0h3m1 0h3m9 0h3m2 0h3m7 0h3m7 0h3m-52 1h3m2 0h3m3 0h3m0 0h3m3 0h3m-2 0h3m16 0h3m6 0h3m18 0h3m-80 1h3m-2 0h3m6 0h3m3 0h3m5 0h3m0 0h3m0 0h3m1 0h3m6 0h3m10 0h3m0 0h3m2 0h3m6 0h3m17 0h3m-74 1h3m0 0h3m0 0h3m-1 0h3m1 0h3m0 0h3m2 0h3m7 0h3m3 0h3m-1 0h3m-51 1h3m11 0h3m15 0h3m4 0h3m-1 0h3m7 0h3m18 0h3m-47 1h3m-1 0h3m7 0h3m-1 0h3m-1 0h3m-2 0h3m-2 0h3m-57 1h3m4 0h3m-2 0h3m11 0h3m0 0h3m-2 0h3m5 0h3m1 0h3m7 0h3m-41 1h3m8 0h3m6 0h3m-2 0h3m-1 0h3m0 0h3m0 0h3m-2 0h3m-2 0h3m-2 0h3m4 0h3m0 0h3m1 0h3m-60 1h3m3 0h3m7 0h3m1 0h3m3 0h3m2 0h3m1 0h3m-2 0h3m3 0h3m-2 0h3m3 0h3m21 0h3m-76 1h3m1 0h3m3 0h3m2 0h3m0 0h3m1 0h3m-2 0h3m11 0h3m-1 0h3m3 0h3m-1 0h3m4 0h3m-43 1h3m12 0h3m1 0h3m-2 0h3m-2 0h3m-2 0h3m10 0h3m-44 1h3m8 0h3m1 0h3m-1 0h3m14 0h3m-1 0h3m-1 0h3m10 0h3m-48 1h3m-2 0h3m-1 0h3m29 0h3m-45 1h3m2 0h3m-1 0h3m0 0h3m3 0h3m2 0h3m3 0h3m-2 0h3m0 0h3m-1 0h3m1 0h3m-2 0h3m0 0h3m13 0h3m-63 1h3m0 0h3m14 0h3m0 0h3m0 0h3m-28 1h3m5 0h3m3 0h3m1 0h3m-1 0h3m4 0h3m7 0h3m0 0h3m5 0h3m7 0h3m-48 1h3m0 0h3m1 0h3m3 0h3m0 0h3m0 0h3m1 0h3m-1 0h3m-2 0h3m-2 0h3m0 0h3m-1 0h3m2 0h3m-38 1h3m10 0h3m6 0h3m1 0h3m-1 0h3m2 0h3m9 0h3m-46 1h3m-1 0h3m-1 0h3m7 0h3m1 0h3m-1 0h3m-2 0h3m-2 0h3m0 0h3m1 0h3m2 0h3m23 0h3m-77 1h3m-2 0h3m-1 0h3m15 0h3m9 0h3m1 0h3m25 0h3m2 0h3m-78 1h3m-1 0h3m2 0h3m-1 0h3m-2 0h3m-2 0h3m-2 0h3m5 0h3m2 0h3m-1 0h3m-1 0h3m-2 0h3m1 0h3m-1 0h3m1 0h3m-2 0h3m0 0h3m4 0h3m5 0h3m4 0h3m-57 1h3m-2 0h3m1 0h3m-2 0h3m3 0h3m10 0h3m-1 0h3m12 0h3m0 0h3m-49 1h3m7 0h3m-1 0h3m4 0h3m-2 0h3m-2 0h3m-2 0h3m-1 0h3m0 0h3m-1 0h3m-2 0h3m-2 0h3m-1 0h3m-2 0h3m1 0h3m-2 0h3m-53 1h3m22 0h3m-1 0h3m5 0h3m2 0h3m-1 0h3m9 0h3m28 0h3m-70 1h3m0 0h3m14 0h3m0 0h3m2 0h3m5 0h3m-2 0h3m8 0h3m-60 1h3m8 0h3m-2 0h3m-1 0h3m1 0h3m4 0h3m0 0h3m0 0h3m-27 1h3m-1 0h3m1 0h3m-1 0h3m-1 0h3m2 0h3m0 0h3m-1 0h3m-2 0h3m-2 0h3m7 0h3m0 0h3m2 0h3m0 0h3m-46 1h3m0 0h3m3 0h3m-2 0h3m1 0h3m5 0h3m-1 0h3m-1 0h3m-2 0h3m0 0h3m5 0h3m-1 0h3m1 0h3m-50 1h3m4 0h3m4 0h3m0 0h3m1 0h3m-2 0h3m0 0h3m1 0h3m0 0h3m2 0h3m-44 1h3m5 0h3m-2 0h3m4 0h3m-2 0h3m4 0h3m1 0h3m-2 0h3m-1 0h3m-1 0h3m3 0h3m1 0h3m9 0h3m-59 1h3m-2 0h3m1 0h3m1 0h3m4 0h3m-1 0h3m-2 0h3m0 0h3m2 0h3m1 0h3m-2 0h3m6 0h3m2 0h3m-2 0h3m-2 0h3m-1 0h3m-45 1h3m-2 0h3m2 0h3m2 0h3m1 0h3m-2 0h3m-1 0h3m-2 0h3m3 0h3m0 0h3m-2 0h3m24 0h3m-54 1h3m0 0h3m1 0h3m-2 0h3m-2 0h3m0 0h3m30 0h3m-54 1h3m0 0h3m0 0h3m-1 0h3m1 0h3m-1 0h3m3 0h3m-2 0h3m2 0h3m4 0h3m9 0h3m-1 0h3m-2 0h3m-62 1h3m12 0h3m2 0h3m0 0h3m6 0h3m0 0h3m-2 0h3m0 0h3m2 0h3m-2 0h3m3 0h3m1 0h3m-61 1h3m10 0h3m-1 0h3m6 0h3m-1 0h3m-1 0h3m0 0h3m4 0h3m2 0h3m0 0h3m-2 0h3m-2 0h3m7 0h3m-50 1h3m4 0h3m-1 0h3m0 0h3m-1 0h3m14 0h3m-1 0h3m0 0h3m-2 0h3m-2 0h3m3 0h3m9 0h3m-78 1h3m10 0h3m5 0h3m3 0h3m0 0h3m-1 0h3m-2 0h3m-2 0h3m1 0h3m0 0h3m8 0h3m4 0h3m7 0h3m-56 1h3m3 0h3m1 0h3m5 0h3m2 0h3m2 0h3m0 0h3m-2 0h3m9 0h3m5 0h3m-76 1h3m7 0h3m20 0h3m-2 0h3m1 0h3m2 0h3m1 0h3m-2 0h3m-2 0h3m-1 0h3m-2 0h3m-2 0h3m-1 0h3m-2 0h3m-2 0h3m4 0h3m-2 0h3m3 0h3m11 0h3m-80 1h3m7 0h3m0 0h3m0 0h3m1 0h3m14 0h3m0 0h3m8 0h3m2 0h3m-2 0h3m-54 1h3m5 0h3m7 0h3m2 0h3m-2 0h3m-2 0h3m0 0h3m2 0h3m6 0h3m-2 0h3m0 0h3m-1 0h3m5 0h3m2 0h3m-56 1h3m-2 0h3m8 0h3m7 0h3m-2 0h3m-2 0h3m0 0h3m-1 0h3m10 0h3m9 0h3m-38 1h3m7 0h3m-1 0h3m4 0h3m-40 1h3m3 0h3m0 0h3m0 0h3m-1 0h3m4 0h3m-2 0h3m0 0h3m-1 0h3m22 0h3m6 0h3m3 0h3m-63 1h3m-1 0h3m1 0h3m3 0h3m1 0h3m0 0h3m-1 0h3m0 0h3m-2 0h3m-1 0h3m3 0h3m2 0h3m-2 0h3m-68 1h3m14 0h3m1 0h3m0 0h3m-1 0h3m1 0h3m-2 0h3m0 0h3m3 0h3m-1 0h3m-2 0h3m2 0h3m-2 0h3m0 0h3m3 0h3m3 0h3m-48 1h3m4 0h3m-2 0h3m3 0h3m1 0h3m-2 0h3m-2 0h3m-1 0h3m-1 0h3m0 0h3m-2 0h3m-1 0h3m-2 0h3m1 0h3m1 0h3m0 0h3m-51 1h3m10 0h3m-2 0h3m11 0h3m5 0h3m-1 0h3m3 0h3m0 0h3m-2 0h3m9 0h3m3 0h3m0 0h3m-56 1h3m1 0h3m-2 0h3m5 0h3m2 0h3m0 0h3m-2 0h3m-2 0h3m-2 0h3m-60 1h3m14 0h3m2 0h3m0 0h3m3 0h3m-1 0h3m-2 0h3m-1 0h3m2 0h3m7 0h3m12 0h3m11 0h3m-1 0h3m-56 1h3m-2 0h3m6 0h3m0 0h3m-2 0h3m2 0h3m3 0h3m-2 0h3m-2 0h3m0 0h3m-2 0h3m8 0h3m-2 0h3m4 0h3m-60 1h3m-1 0h3m0 0h3m10 0h3m-1 0h3m1 0h3m1 0h3m-2 0h3m2 0h3m0 0h3m-1 0h3m11 0h3m-75 1h3m20 0h3m0 0h3m6 0h3m0 0h3m-1 0h3m-2 0h3m0 0h3m-2 0h3m-1 0h3m-1 0h3m-1 0h3m6 0h3m-1 0h3m0 0h3m5 0h3m-64 1h3m1 0h3m-1 0h3m1 0h3m2 0h3m5 0h3m6 0h3m-2 0h3m-1 0h3m-2 0h3m-2 0h3m-2 0h3m-47 1h3m2 0h3m9 0h3m0 0h3m0 0h3m1 0h3m0 0h3m-1 0h3m1 0h3m3 0h3m2 0h3m0 0h3m-2 0h3m2 0h3m6 0h3m-66 1h3m9 0h3m-2 0h3m3 0h3m1 0h3m-1 0h3m-1 0h3m0 0h3m0 0h3m2 0h3m6 0h3m2 0h3m-36 1h3m-2 0h3m1 0h3m-1 0h3m1 0h3m0 0h3m-1 0h3m-2 0h3m-2 0h3m0 0h3m0 0h3m3 0h3m15 0h3m-71 1h3m-2 0h3m10 0h3m-2 0h3m-1 0h3m-1 0h3m-2 0h3m1 0h3m0 0h3m0 0h3m3 0h3m0 0h3m0 0h3m2 0h3m5 0h3m3 0h3m3 0h3m-64 1h3m7 0h3m-2 0h3m-1 0h3m4 0h3m-1 0h3m-1 0h3m1 0h3m0 0h3m-2 0h3m-2 0h3m6 0h3m3 0h3m1 0h3m-50 1h3m2 0h3m3 0h3m-1 0h3m-1 0h3m-1 0h3m3 0h3m1 0h3m-2 0h3m2 0h3m-1 0h3m1 0h3m-2 0h3m5 0h3m-69 1h3m2 0h3m3 0h3m11 0h3m1 0h3m-2 0h3m-2 0h3m1 0h3m-1 0h3m-1 0h3m7 0h3m1 0h3m-46 1h3m0 0h3m1 0h3m-2 0h3m-2 0h3m8 0h3m0 0h3m4 0h3m1 0h3m14 0h3m-48 1h3m16 0h3m3 0h3m0 0h3m3 0h3m-1 0h3m-2 0h3m10 0h3m5 0h3m-49 1h3m5 0h3m3 0h3m-1 0h3m9 0h3m5 0h3m16 0h3m-73 1h3m3 0h3m4 0h3m4 0h3m0 0h3m0 0h3m3 0h3m1 0h3m-2 0h3m-2 0h3m1 0h3m-2 0h3m-2 0h3m4 0h3m-1 0h3m0 0h3m-2 0h3m-64 1h3m-2 0h3m9 0h3m0 0h3m-2 0h3m0 0h3m0 0h3m0 0h3m2 0h3m-2 0h3m18 0h3m7 0h3m-54 1h3m11 0h3m-2 0h3m3 0h3m3 0h3m-1 0h3m2 0h3m0 0h3m3 0h3m-50 1h3m4 0h3m1 0h3m-1 0h3m-1 0h3m4 0h3m-2 0h3m3 0h3m-1 0h3m-2 0h3m-1 0h3m-2 0h3m4 0h3m-1 0h3m1 0h3m0 0h3m-2 0h3m-64 1h3m5 0h3m-1 0h3m0 0h3m-1 0h3m-2 0h3m5 0h3m2 0h3m-2 0h3m-2 0h3m0 0h3m6 0h3m6 0h3m22 0h3m-87 1h3m2 0h3m15 0h3m0 0h3m2 0h3m0 0h3m5 0h3m-2 0h3m-2 0h3m6 0h3m8 0h3m2 0h3m-64 1h3m5 0h3m-1 0h3m0 0h3m2 0h3m9 0h3m18 0h3m5 0h3m-64 1h3m18 0h3m2 0h3m4 0h3m-2 0h3m8 0h3m-34 1h3m-1 0h3m13 0h3m0 0h3m0 0h3m-1 0h3m0 0h3m1 0h3m-1 0h3m1 0h3m8 0h3m6 0h3m2 0h3m-1 0h3m-70 1h3m9 0h3m8 0h3m-2 0h3m8 0h3m-2 0h3m-2 0h3m-2 0h3m-2 0h3m-59 1h3m13 0h3m6 0h3m0 0h3m2 0h3m5 0h3m6 0h3m-1 0h3m0 0h3m24 0h3m-83 1h3m3 0h3m8 0h3m-1 0h3m-2 0h3m0 0h3m-1 0h3m0 0h3m-1 0h3m4 0h3m2 0h3m0 0h3m-1 0h3m9 0h3m-1 0h3m-2 0h3m11 0h3m-80 1h3m3 0h3m-2 0h3m-2 0h3m-1 0h3m-2 0h3m14 0h3m-1 0h3m0 0h3m4 0h3m-2 0h3m3 0h3m5 0h3m1 0h3m-2 0h3m5 0h3m-57 1h3m6 0h3m5 0h3m3 0h3m-1 0h3m10 0h3m-2 0h3m12 0h3m-61 1h3m-1 0h3m-2 0h3m4 0h3m10 0h3m-1 0h3m-2 0h3m-2 0h3m1 0h3m2 0h3m4 0h3m2 0h3m-55 1h3m4 0h3m1 0h3m8 0h3m5 0h3m6 0h3m-2 0h3m2 0h3m-2 0h3m5 0h3m-57 1h3m-2 0h3m1 0h3m3 0h3m0 0h3m0 0h3m1 0h3m-1 0h3m2 0h3m0 0h3m6 0h3m-2 0h3m-1 0h3m1 0h3m1 0h3m2 0h3m-43 1h3m5 0h3m-1 0h3m-2 0h3m-1 0h3m4 0h3m0 0h3m-1 0h3m5 0h3m5 0h3m-54 1h3m3 0h3m-1 0h3m3 0h3m0 0h3m0 0h3m-2 0h3m2 0h3m7 0h3m18 0h3m-2 0h3m-74 1h3m20 0h3m12 0h3m1 0h3m-2 0h3m3 0h3m-2 0h3m-1 0h3m0 0h3m1 0h3m4 0h3m-58 1h3m7 0h3m-2 0h3m-2 0h3m0 0h3m18 0h3m-2 0h3m3 0h3m1 0h3m0 0h3m-44 1h3m-2 0h3m-2 0h3m-1 0h3m1 0h3m-2 0h3m0 0h3m1 0h3m1 0h3m3 0h3m2 0h3m-1 0h3m-2 0h3m1 0h3m0 0h3m-44 1h3m-1 0h3m-1 0h3m-1 0h3m0 0h3m-2 0h3m-1 0h3m6 0h3m6 0h3m13 0h3m3 0h3m-62 1h3m11 0h3m-1 0h3m8 0h3m-2 0h3m-1 0h3m1 0h3m9 0h3m7 0h3m-1 0h3m-67 1h3m5 0h3m0 0h3m5 0h3m1 0h3m-1 0h3m9 0h3m14 0h3m-2 0h3m3 0h3m-65 1h3m4 0h3m5 0h3m-1 0h3m3 0h3m5 0h3m-2 0h3m0 0h3m0 0h3m-2 0h3m-2 0h3m-2 0h3m-2 0h3m-2 0h3m-45 1h3m1 0h3m1 0h3m0 0h3m9 0h3m0 0h3m-1 0h3m1 0h3m6 0h3m4 0h3m-1 0h3m6 0h3m9 0h3m-56 1h3m5 0h3m-1 0h3m3 0h3m-2 0h3m6 0h3m3 0h3m1 0h3m-2 0h3m6 0h3m-46 1h3m-1 0h3m2 0h3m0 0h3m-1 0h3m2 0h3m7 0h3m1 0h3m29 0h3m-79 1h3m19 0h3m0 0h3m17 0h3m-61 1h3m10 0h3m6 0h3m0 0h3m0 0h3m6 0h3m0 0h3m8 0h3m-41 1h3m0 0h3m4 0h3m-2 0h3m0 0h3m0 0h3m10 0h3m11 0h3m-49 1h3m1 0h3m7 0h3m3 0h3m7 0h3m0 0h3m-1 0h3m1 0h3m3 0h3m11 0h3m7 0h3m-67 1h3m14 0h3m-2 0h3m4 0h3m-2 0h3m-1 0h3m-2 0h3m0 0h3m8 0h3m-54 1h3m4 0h3m5 0h3m2 0h3m1 0h3m13 0h3m-45 1h3m2 0h3m2 0h3m2 0h3m1 0h3m-2 0h3m9 0h3m1 0h3m8 0h3m-1 0h3m-1 0h3m-1 0h3m-45 1h3m-1 0h3m5 0h3m9 0h3m-2 0h3m0 0h3m-1 0h3m-49 1h3m8 0h3m4 0h3m-2 0h3m1 0h3m1 0h3m-2 0h3m-2 0h3m2 0h3m7 0h3m3 0h3m6 0h3m4 0h3m-52 1h3m0 0h3m1 0h3m-1 0h3m5 0h3m3 0h3m10 0h3m11 0h3m-71 1h3m14 0h3m4 0h3m-2 0h3m-2 0h3m-1 0h3m-1 0h3m-2 0h3m-1 0h3m5 0h3m-1 0h3m4 0h3m1 0h3m1 0h3m12 0h3m-64 1h3m13 0h3m2 0h3m0 0h3m-1 0h3m0 0h3m1 0h3m3 0h3m13 0h3m-52 1h3m4 0h3m11 0h3m9 0h3m1 0h3m-1 0h3m-1 0h3m-31 1h3m25 0h3m8 0h3m-63 1h3m22 0h3m-2 0h3m1 0h3m1 0h3m1 0h3m-49 1h3m5 0h3m12 0h3m16 0h3m5 0h3m15 0h3m11 0h3m-70 1h3m4 0h3m6 0h3m1 0h3m0 0h3m18 0h3m-50 1h3m16 0h3m3 0h3m-45 1h3m24 0h3m10 0h3m5 0h3m1 0h3m-32 1h3m10 0h3m9 0h3m1 0h3m1 0h3m-47 1h3m-2 0h3m1 0h3m2 0h3m18 0h3m34 0h3m-63 1h3m9 0h3m-1 0h3m5 0h3m6 0h3m-29 1h3m16 0h3m-20 1h3m5 0h3m3 0h3m2 0h3m9 0h3m5 0h3m-2 0h3m8 0h3m-66 1h3m-1 0h3m10 0h3m0 0h3m-2 0h3m-2 0h3m1 0h3m2 0h3m4 0h3m2 0h3m11 0h3m-2 0h3m-33 1h3m6 0h3m-29 1h3m10 0h3m3 0h3m12 0h3m12 0h3m-47 1h3m5 0h3m1 0h3m5 0h3m-2 0h3m18 0h3m2 0h3m5 0h3m-55 1h3m5 0h3m-31 1h3m3 0h3m23 0h3m-2 0h3m-1 0h3m14 0h3m-56 1h3m21 0h3m1 0h3m-2 0h3m8 0h3m-8 1h3m0 0h3m-5 1h3m0 0h3m6 0h3m13 0h3m-56 1h3m0 0h3m33 0h3m-49 1h3m8 0h3m6 0h3m6 0h3m7 0h3m-2 0h3m-14 1h3m-1 0h3m10 0h3m3 0h3m-47 1h3m18 0h3m11 0h3m3 0h3m-34 1h3m10 0h3m6 0h3m30 0h3m-61 1h3m-2 0h3m5 0h3m28 0h3m2 0h3m-52 1h3m4 0h3m-2 0h3m7 0h3m-18 1h3m3 0h3m5 0h3m-1 0h3m-16 1h3m22 0h3m0 0h3m-40 1h3m3 0h3m1 0h3m6 0h3m11 0h3m18 0h3m-57 1h3m5 0h3m-2 0h3m-1 0h3m23 0h3m-13 1h3m9 0h3m26 0h3m-77 2h3m11 0h3m23 0h3m-27 1h3m-12 1h3m9 0h3m4 0h3m-33 1h3m1 0h3m25 0h3m-1 0h3m30 0h3m-70 1h3m12 0h3m26 0h3m21 0h3m-47 1h3m4 0h3m-11 1h3m-14 1h3m15 0h3m-6 1h3m8 0h3m-5 1h3m-1 0h3m13 0h3m-33 1h3m10 1h3m4 0h3m-19 1h3m-22 1h3m0 1h3m6 0h3m18 0h3m-27 1h3m36 0h3m-33 1h3m24 0h3m-8 2h3m-58 1h3m9 0h3m24 0h3m10 0h3m13 0h3m-68 1h3m17 0h3m39 1h3m-50 2h3m7 0h3m7 0h3m15 0h3m-40 1h3m30 1h3m3 0h3m-5 2h3m-35 1h3m10 2h3m-4 1h3" stroke="#30d830" stroke-width="3" opacity="0.7" fill="none"/>
<path transform="scale(0.25)" d="M866 611.5h3m22 13h3m-16 5h3m-1 0h3m0 2h3m-29 1h3m5 2h3m-21 1h3m24 1h3m-11 1h3m-27 2h3m48 1h3m-55 2h3m27 2h3m23 1h3m-49 1h3m-4 1h3m22 0h3m1 0h3m-23 1h3m7 1h3m11 0h3m-20 1h3m-27 1h3m14 0h3m3 2h3m13 0h3m-38 1h3m3 0h3m16 1h3m-22 1h3m20 0h3m4 0h3m-25 1h3m0 0h3m17 0h3m-22 1h3m0 0h3m5 0h3m-26 1h3m1 0h3m2 0h3m4 0h3m-2 0h3m8 0h3m-1 0h3m-32 2h3m14 0h3m3 0h3m-26 1h3m35 1h3m-34 1h3m1 0h3m-1 0h3m8 0h3m-35 1h3m12 0h3m8 0h3m4 0h3m-38 1h3m0 0h3m24 0h3m-25 1h3m1 0h3m3 0h3m0 0h3m-2 0h3m-1 0h3m3 0h3m5 0h3m7 0h3m-44 1h3m-1 0h3m20 0h3m1 0h3m-2 0h3m-43 1h3m1 0h3m3 0h3m6 0h3m2 0h3m-2 0h3m0 0h3m12 0h3m-39 1h3m2 0h3m6 0h3m6 0h3m-10 1h3m5 0h3m0 0h3m-2 0h3m-1 0h3m-38 2h3m21 0h3m0 0h3m10 0h3m7 0h3m-42 1h3m3 0h3m2 0h3m5 0h3m1 0h3m-26 1h3m1 0h3m4 0h3m-2 0h3m5 0h3m-22 1h3m-2 0h3m4 0h3m2 0h3m26 0h3m-50 1h3m-2 0h3m-2 0h3m8 0h3m-2 0h3m2 0h3m0 0h3m30 0h3m-60 1h3m19 0h3m3 0h3m5 0h3m-18 1h3m1 0h3m3 0h3m-17 1h3m12 0h3m-39 1h3m-1 0h3m11 0h3m0 0h3m1 0h3m5 0h3m0 0h3m-30 1h3m2 0h3m5 0h3m2 0h3m-1 0h3m-22 1h3m-2 0h3m3 0h3m3 0h3m4 0h3m8 0h3m-35 1h3m5 0h3m1 0h3m8 0h3m-2 0h3m5 0h3m9 0h3m0 0h3m-61 1h3m16 0h3m3 0h3m13 0h3m6 0h3m-45 1h3m1 0h3m13 0h3m6 0h3m-2 0h3m-32 1h3m7 0h3m7 0h3m1 0h3m1 0h3m-2 0h3m5 0h3m2 0h3m-54 1h3m10 0h3m2 0h3m-1 0h3m1 0h3m1 0h3m9 0h3m0 0h3m-29 1h3m3 0h3m0 0h3m-1 0h3m8 0h3m2 0h3m2 0h3m5 0h3m-66 1h3m30 0h3m-2 0h3m0 0h3m-1 0h3m-1 0h3m2 0h3m14 0h3m2 0h3m-67 1h3m9 0h3m5 0h3m5 0h3m2 0h3m3 0h3m1 0h3m-1 0h3m-2 0h3m0 0h3m-42 1h3m-1 0h3m0 0h3m0 0h3m4 0h3m0 0h3m-2 0h3m3 0h3m-2 0h3m-2 0h3m-1 0h3m0 0h3m0 0h3m3 0h3m-53 1h3m2 0h3m8 0h3m-2 0h3m0 0h3m-2 0h3m1 0h3m-2 0h3m0 0h3m-2 0h3m-2 0h3m-1 0h3m-1 0h3m0 0h3m2 0h3m-2 0h3m-2 0h3m-37 1h3m3 0h3m9 0h3m17 0h3m-41 1h3m0 0h3m3 0h3m1 0h3m1 0h3m-1 0h3m-2 0h3m-2 0h3m15 0h3m-2 0h3m-46 1h3m6 0h3m8 0h3m0 0h3m6 0h3m2 0h3m-29 1h3m-2 0h3m1 0h3m-2 0h3m2 0h3m10 0h3m0 0h3m3 0h3m-1 0h3m2 0h3m-41 1h3m3 0h3m7 0h3m3 0h3m-17 1h3m-1 0h3m1 0h3m2 0h3m-34 1h3m4 0h3m3 0h3m6 0h3m0 0h3m4 0h3m7 0h3m0 0h3m-55 1h3m16 0h3m-1 0h3m7 0h3m0 0h3m-1 0h3m-2 0h3m-1 0h3m-2 0h3m-1 0h3m0 0h3m3 0h3m-57 1h3m11 0h3m1 0h3m-2 0h3m5 0h3m0 0h3m-2 0h3m0 0h3m28 0h3m-56 1h3m1 0h3m7 0h3m5 0h3m1 0h3m0 0h3m-1 0h3m2 0h3m-38 1h3m-1 0h3m4 0h3m-1 0h3m-1 0h3m-1 0h3m4 0h3m-1 0h3m3 0h3m6 0h3m6 0h3m-60 1h3m7 0h3m-2 0h3m-1 0h3m0 0h3m2 0h3m1 0h3m-2 0h3m-1 0h3m1 0h3m-1 0h3m13 0h3m-38 1h3m13 0h3m1 0h3m0 0h3m-2 0h3m3 0h3m-47 1h3m8 0h3m-1 0h3m-1 0h3m0 0h3m0 0h3m-1 0h3m-2 0h3m-2 0h3m2 0h3m2 0h3m3 0h3m11 0h3m-43 1h3m5 0h3m-1 0h3m9 0h3m-59 1h3m18 0h3m1 0h3m3 0h3m3 0h3m0 0h3m4 0h3m8 0h3m-2 0h3m-1 0h3m-2 0h3m1 0h3m-61 1h3m13 0h3m-1 0h3m-2 0h3m12 0h3m0 0h3m12 0h3m-2 0h3m-2 0h3m-32 1h3m-1 0h3m2 0h3m3 0h3m1 0h3m1 0h3m-1 0h3m15 0h3m-56 1h3m3 0h3m0 0h3m7 0h3m-2 0h3m2 0h3m-1 0h3m18 0h3m-2 0h3m-53 1h3m4 0h3m0 0h3m2 0h3m-2 0h3m0 0h3m-2 0h3m-1 0h3m-2 0h3m8 0h3m-1 0h3m7 0h3m-60 1h3m18 0h3m1 0h3m-1 0h3m-2 0h3m1 0h3m2 0h3m-2 0h3m-2 0h3m5 0h3m4 0h3m3 0h3m-47 1h3m-2 0h3m7 0h3m-1 0h3m-1 0h3m-1 0h3m2 0h3m-2 0h3m4 0h3m3 0h3m5 0h3m1 0h3m-64 1h3m6 0h3m4 0h3m-2 0h3m-2 0h3m9 0h3m2 0h3m9 0h3m8 0h3m-56 1h3m0 0h3m3 0h3m1 0h3m3 0h3m-1 0h3m-1 0h3m0 0h3m-1 0h3m-2 0h3m1 0h3m-1 0h3m-2 0h3m-2 0h3m-2 0h3m0 0h3m15 0h3m1 0h3m-63 1h3m4 0h3m-1 0h3m-1 0h3m-2 0h3m3 0h3m-1 0h3m-2 0h3m2 0h3m4 0h3m-1 0h3m-1 0h3m4 0h3m-44 1h3m-2 0h3m4 0h3m2 0h3m0 0h3m-2 0h3m-1 0h3m6 0h3m-1 0h3m-2 0h3m0 0h3m5 0h3m-51 1h3m8 0h3m0 0h3m2 0h3m3 0h3m-2 0h3m-2 0h3m-1 0h3m4 0h3m-2 0h3m3 0h3m-1 0h3m4 0h3m13 0h3m-69 1h3m3 0h3m5 0h3m-2 0h3m0 0h3m0 0h3m-2 0h3m1 0h3m2 0h3m0 0h3m2 0h3m-42 1h3m13 0h3m-2 0h3m0 0h3m-2 0h3m1 0h3m-2 0h3m-2 0h3m0 0h3m-2 0h3m13 0h3m-47 1h3m1 0h3m-1 0h3m0 0h3m2 0h3m0 0h3m-1 0h3m3 0h3m-2 0h3m2 0h3m-1 0h3m1 0h3m-1 0h3m-17 1h3m6 0h3m-2 0h3m-34 1h3m-1 0h3m4 0h3m0 0h3m6 0h3m0 0h3m5 0h3m3 0h3m-27 1h3m0 0h3m0 0h3m0 0h3m-1 0h3m2 0h3m-2 0h3m1 0h3m-45 1h3m16 0h3m4 0h3m0 0h3m0 0h3m7 0h3m-2 0h3m-39 1h3m1 0h3m8 0h3m-2 0h3m-2 0h3m1 0h3m-2 0h3m0 0h3m3 0h3m-2 0h3m3 0h3m-40 1h3m2 0h3m-1 0h3m0 0h3m4 0h3m4 0h3m1 0h3m3 0h3m-2 0h3m-1 0h3m-41 1h3m6 0h3m2 0h3m0 0h3m2 0h3m6 0h3m2 0h3m0 0h3m13 0h3m-37 1h3m9 0h3m12 0h3m-32 1h3m5 0h3m15 0h3m-2 0h3m-73 1h3m22 0h3m1 0h3m0 0h3m5 0h3m0 0h3m-20 1h3m-2 0h3m0 0h3m-1 0h3m7 0h3m-2 0h3m5 0h3m-2 0h3m-34 1h3m6 0h3m4 0h3m-2 0h3m-1 0h3m2 0h3m2 0h3m-2 0h3m0 0h3m18 0h3m-50 1h3m1 0h3m-2 0h3m3 0h3m-1 0h3m3 0h3m0 0h3m-2 0h3m6 0h3m7 0h3m-49 1h3m9 0h3m2 0h3m-1 0h3m-2 0h3m-2 0h3m0 0h3m-2 0h3m2 0h3m8 0h3m-2 0h3m-50 1h3m7 0h3m2 0h3m0 0h3m1 0h3m-23 1h3m6 0h3m0 0h3m-2 0h3m10 0h3m3 0h3m-20 1h3m-2 0h3m5 0h3m0 0h3m-2 0h3m-1 0h3m1 0h3m1 0h3m-2 0h3m-34 1h3m-2 0h3m0 0h3m-1 0h3m1 0h3m4 0h3m-1 0h3m-1 0h3m-2 0h3m1 0h3m0 0h3m-24 1h3m-1 0h3m4 0h3m-2 0h3m12 0h3m-56 1h3m2 0h3m32 0h3m3 0h3m5 0h3m0 0h3m-64 1h3m7 0h3m-2 0h3m20 0h3m-2 0h3m3 0h3m9 0h3m-17 1h3m0 0h3m1 0h3m-2 0h3m2 0h3m-35 1h3m15 0h3m9 0h3m-1 0h3m-2 0h3m0 0h3m3 0h3m-68 1h3m9 0h3m25 0h3m4 0h3m7 0h3m-1 0h3m-50 1h3m11 0h3m9 0h3m8 0h3m9 0h3m-41 1h3m12 0h3m0 0h3m-1 0h3m1 0h3m1 0h3m3 0h3m-34 1h3m5 0h3m15 0h3m0 0h3m-31 1h3m1 0h3m1 0h3m21 0h3m-37 1h3m22 0h3m-2 0h3m-38 1h3m12 0h3m4 0h3m-2 0h3m-1 0h3m1 0h3m2 0h3m-29 1h3m9 0h3m-1 0h3m8 0h3m-2 0h3m21 0h3m-63 1h3m15 0h3m2 0h3m-1 0h3m0 0h3m-2 0h3m12 0h3m-37 1h3m8 0h3m7 0h3m6 0h3m-37 1h3m10 0h3m1 0h3m0 0h3m4 0h3m4 0h3m-23 1h3m0 0h3m3 0h3m6 0h3m-2 0h3m2 0h3m-39 1h3m6 0h3m-7 1h3m1 0h3m6 0h3m-2 0h3m1 0h3m19 0h3m-37 1h3m-1 0h3m5 0h3m10 0h3m-32 1h3m14 0h3m19 0h3m-34 1h3m16 0h3m2 0h3m-7 1h3m-40 1h3m12 0h3m-5 1h3m7 0h3m2 0h3m-19 1h3m24 0h3m-25 1h3m1 0h3m-1 0h3m-1 0h3m25 1h3m-33 1h3m-1 0h3m-27 1h3m-3 1h3m14 0h3m5 0h3m-18 1h3m9 0h3m7 0h3m-15 1h3m-27 2h3m24 0h3m15 0h3m10 0h3m-34 1h3m10 0h3m-23 1h3m-1 0h3m5 1h3m0 1h3m-12 1h3m12 0h3m0 0h3m-51 1h3m1 1h3m50 0h3m-29 4h3m4 0h3m9 0h3m-21 1h3m0 5h3m-17 1h3m1 2h3m-3 3h3" stroke="#10e010" stroke-width="3" opacity="0.9" fill="none"/>
<ellipse cx="216.90" cy="176.50" rx="5.50" ry="14.00" fill="#2ee02e" opacity="0.8" transform="rotate(0 216.90 176.50)" filter="url(#b06)"/>
<rect x="204.50" y="138.60" width="55.90" height="63.30" fill="none" stroke="#1a1a1a" stroke-width="1.7" />
<line x1="226.40" y1="138.60" x2="226.40" y2="201.90" stroke="#1a1a1a" stroke-width="1.7" />
<line x1="204.50" y1="181.30" x2="226.40" y2="181.30" stroke="#1a1a1a" stroke-width="1.7" />
<line x1="226.40" y1="174.50" x2="260.40" y2="174.50" stroke="#1a1a1a" stroke-width="1.7" />
<path d="M202.10 139.60h1.6M202.10 142.15h1.6M202.10 144.71h1.6M202.10 147.26h1.6M202.10 149.82h1.6M202.10 152.37h1.6M202.10 154.93h1.6M202.10 157.48h1.6M202.10 160.03h1.6M202.10 162.59h1.6M202.10 165.14h1.6M202.10 167.70h1.6M202.10 170.25h1.6M202.10 172.80h1.6M202.10 175.36h1.6M202.10 177.91h1.6M202.10 180.47h1.6M202.10 183.02h1.6M202.10 185.57h1.6M202.10 188.13h1.6M202.10 190.68h1.6M202.10 193.24h1.6M202.10 195.79h1.6M202.10 198.35h1.6M202.10 200.90h1.6" stroke="#000" stroke-width="0.6"/>
<path d="M205.50 202.70v1.6M207.75 202.70v1.6M209.99 202.70v1.6M212.24 202.70v1.6M214.48 202.70v1.6M216.73 202.70v1.6M218.97 202.70v1.6M221.22 202.70v1.6M223.47 202.70v1.6M225.71 202.70v1.6M227.96 202.70v1.6M230.20 202.70v1.6M232.45 202.70v1.6M234.70 202.70v1.6M236.94 202.70v1.6M239.19 202.70v1.6M241.43 202.70v1.6M243.68 202.70v1.6M245.92 202.70v1.6M248.17 202.70v1.6M250.42 202.70v1.6M252.66 202.70v1.6M254.91 202.70v1.6M257.15 202.70v1.6M259.40 202.70v1.6" stroke="#000" stroke-width="0.6"/>
<text x="211.80" y="172.35" font-size="6" fill="#1e1e1e" text-anchor="middle" stroke="#1e1e1e" stroke-width="0.15">Q1</text>
<text x="240.10" y="165.35" font-size="6" fill="#1e1e1e" text-anchor="middle" stroke="#1e1e1e" stroke-width="0.15">Q2</text>
<text x="212.10" y="195.75" font-size="6" fill="#1e1e1e" text-anchor="middle" stroke="#1e1e1e" stroke-width="0.15">Q3</text>
<text x="240.10" y="189.25" font-size="6" fill="#1e1e1e" text-anchor="middle" stroke="#1e1e1e" stroke-width="0.15">Q4</text>
<text x="205.80" y="153.92" font-size="9" fill="#c8303a" text-anchor="start">92</text>
<text x="251.00" y="200.12" font-size="9" fill="#c8303a" text-anchor="start">1</text>
<line x1="201.20" y1="144.20" x2="203.70" y2="144.20" stroke="#000" stroke-width="1.2" />
<line x1="201.20" y1="158.20" x2="203.70" y2="158.20" stroke="#000" stroke-width="1.2" />
<line x1="201.20" y1="175.70" x2="203.70" y2="175.70" stroke="#000" stroke-width="1.2" />
<line x1="201.20" y1="188.00" x2="203.70" y2="188.00" stroke="#000" stroke-width="1.2" />
<text x="195.50" y="146.28" font-size="5.8" fill="#1e1e1e" text-anchor="middle">10<tspan font-size="3.48" dy="-2.32">4</tspan></text>
<text x="195.50" y="160.28" font-size="5.8" fill="#1e1e1e" text-anchor="middle">10<tspan font-size="3.48" dy="-2.32">3</tspan></text>
<text x="195.50" y="177.78" font-size="5.8" fill="#1e1e1e" text-anchor="middle">10<tspan font-size="3.48" dy="-2.32">2</tspan></text>
<text x="197.50" y="190.08" font-size="5.8" fill="#1e1e1e" text-anchor="end" stroke="#1e1e1e" stroke-width="0.1">0</text>
<text x="199.50" y="203.70" font-size="5.3" fill="#1e1e1e" text-anchor="end" stroke="#1e1e1e" stroke-width="0.1">-1,288</text>
<text x="191.30" y="136.31" font-size="4.5" fill="#666" text-anchor="middle" stroke="#666" stroke-width="0.1">0</text>
<line x1="213.40" y1="202.70" x2="213.40" y2="205.20" stroke="#000" stroke-width="1.2" />
<line x1="228.50" y1="202.70" x2="228.50" y2="205.20" stroke="#000" stroke-width="1.2" />
<line x1="241.50" y1="202.70" x2="241.50" y2="205.20" stroke="#000" stroke-width="1.2" />
<line x1="254.60" y1="202.70" x2="254.60" y2="205.20" stroke="#000" stroke-width="1.2" />
<text x="213.40" y="212.88" font-size="5.8" fill="#1e1e1e" text-anchor="middle" stroke="#1e1e1e" stroke-width="0.1">0</text>
<text x="228.50" y="212.88" font-size="5.8" fill="#1e1e1e" text-anchor="middle">10<tspan font-size="3.48" dy="-2.32">3</tspan></text>
<text x="241.50" y="212.88" font-size="5.8" fill="#1e1e1e" text-anchor="middle">10<tspan font-size="3.48" dy="-2.32">4</tspan></text>
<text x="254.60" y="212.88" font-size="5.8" fill="#1e1e1e" text-anchor="middle">10<tspan font-size="3.48" dy="-2.32">5</tspan></text>
<text x="210.00" y="217.90" font-size="5.3" fill="#1e1e1e" text-anchor="end" stroke="#1e1e1e" stroke-width="0.1">-447</text>
<text x="220.50" y="223.38" font-size="7.2" fill="#141414" text-anchor="start" textLength="25" lengthAdjust="spacingAndGlyphs" stroke="#141414" stroke-width="0.18">CD19 PE-A</text>
<text transform="translate(184.10,169.60) rotate(-90)" x="0" y="2.58" font-size="7.2" fill="#141414" text-anchor="middle" textLength="48.5" lengthAdjust="spacingAndGlyphs" stroke="#141414" stroke-width="0.18">CD33 PerCP-Cy5-5-A</text>
<path transform="scale(0.25)" d="M1212 560.5h3m10 9h3m31 1h3m-56 1h3m5 0h3m-11 1h3m9 0h3m31 0h3m-43 1h3m8 0h3m-20 2h3m23 0h3m-12 1h3m27 0h3m-30 1h3m12 0h3m-50 1h3m37 0h3m8 1h3m-44 1h3m0 0h3m12 0h3m-2 0h3m-2 0h3m2 1h3m9 0h3m-61 1h3m30 0h3m-1 0h3m6 0h3m-2 0h3m37 0h3m-80 1h3m18 0h3m1 0h3m8 0h3m0 0h3m-2 0h3m21 0h3m-79 1h3m21 0h3m26 0h3m5 0h3m10 0h3m-71 1h3m24 0h3m-2 0h3m-2 0h3m16 0h3m13 0h3m-46 1h3m17 0h3m3 0h3m3 0h3m-39 1h3m6 0h3m-1 0h3m13 0h3m5 0h3m6 0h3m-17 1h3m2 0h3m-72 1h3m24 0h3m20 0h3m-1 0h3m7 0h3m-2 0h3m-2 0h3m-2 0h3m-1 0h3m-2 0h3m11 0h3m-67 1h3m33 0h3m5 0h3m2 0h3m3 0h3m8 0h3m-53 1h3m9 0h3m2 0h3m-1 0h3m2 0h3m4 0h3m2 0h3m2 0h3m-50 1h3m5 0h3m8 0h3m2 0h3m6 0h3m5 0h3m9 0h3m-42 1h3m0 0h3m-1 0h3m-2 0h3m-2 0h3m4 0h3m9 0h3m32 0h3m-56 1h3m25 0h3m-1 0h3m-76 1h3m29 0h3m0 0h3m3 0h3m10 0h3m10 0h3m-2 0h3m-39 1h3m4 0h3m9 0h3m42 0h3m-81 1h3m3 0h3m-1 0h3m-2 0h3m2 0h3m3 0h3m0 0h3m15 0h3m5 0h3m1 0h3m20 0h3m-82 1h3m13 0h3m5 0h3m0 0h3m3 0h3m0 0h3m4 0h3m-62 1h3m-2 0h3m4 0h3m1 0h3m20 0h3m-2 0h3m-2 0h3m1 0h3m11 0h3m0 0h3m-2 0h3m-1 0h3m3 0h3m-48 1h3m10 0h3m-1 0h3m-1 0h3m3 0h3m2 0h3m-1 0h3m0 0h3m10 0h3m-73 1h3m28 0h3m-1 0h3m0 0h3m-2 0h3m-1 0h3m2 0h3m9 0h3m-47 1h3m16 0h3m16 0h3m-1 0h3m23 0h3m-1 0h3m-69 1h3m1 0h3m2 0h3m2 0h3m14 0h3m4 0h3m3 0h3m-1 0h3m28 0h3m-67 1h3m0 0h3m-2 0h3m-1 0h3m-2 0h3m6 0h3m15 0h3m-46 1h3m15 0h3m6 0h3m-2 0h3m5 0h3m-1 0h3m-43 1h3m9 0h3m5 0h3m6 0h3m-2 0h3m16 0h3m10 0h3m-64 1h3m18 0h3m1 0h3m-2 0h3m1 0h3m-2 0h3m0 0h3m-1 0h3m-1 0h3m6 0h3m-2 0h3m1 0h3m5 0h3m-58 1h3m5 0h3m10 0h3m5 0h3m4 0h3m-1 0h3m-1 0h3m2 0h3m33 0h3m17 0h3m-117 1h3m11 0h3m-2 0h3m2 0h3m7 0h3m1 0h3m6 0h3m4 0h3m-1 0h3m-62 1h3m21 0h3m3 0h3m2 0h3m0 0h3m-1 0h3m4 0h3m3 0h3m0 0h3m3 0h3m31 0h3m-66 1h3m0 0h3m-2 0h3m-2 0h3m2 0h3m-2 0h3m7 0h3m4 0h3m7 0h3m0 0h3m17 0h3m-74 1h3m-1 0h3m4 0h3m-2 0h3m-2 0h3m-1 0h3m4 0h3m4 0h3m-1 0h3m2 0h3m-2 0h3m12 0h3m11 0h3m-70 1h3m3 0h3m-1 0h3m4 0h3m0 0h3m2 0h3m-2 0h3m-2 0h3m0 0h3m1 0h3m4 0h3m0 0h3m7 0h3m10 0h3m-67 1h3m12 0h3m2 0h3m0 0h3m0 0h3m-1 0h3m4 0h3m2 0h3m-2 0h3m0 0h3m7 0h3m-78 1h3m21 0h3m2 0h3m0 0h3m2 0h3m2 0h3m0 0h3m-2 0h3m-2 0h3m-2 0h3m4 0h3m4 0h3m11 0h3m8 0h3m-63 1h3m4 0h3m-2 0h3m10 0h3m10 0h3m5 0h3m1 0h3m7 0h3m-77 1h3m0 0h3m1 0h3m0 0h3m-1 0h3m12 0h3m4 0h3m-2 0h3m8 0h3m0 0h3m1 0h3m-1 0h3m1 0h3m8 0h3m6 0h3m-58 1h3m1 0h3m-2 0h3m-1 0h3m-2 0h3m-2 0h3m-1 0h3m-1 0h3m7 0h3m-1 0h3m-55 1h3m13 0h3m2 0h3m0 0h3m-2 0h3m-2 0h3m-1 0h3m4 0h3m0 0h3m-2 0h3m10 0h3m-1 0h3m-2 0h3m1 0h3m8 0h3m14 0h3m-89 1h3m1 0h3m9 0h3m5 0h3m11 0h3m2 0h3m-2 0h3m1 0h3m-1 0h3m-2 0h3m-2 0h3m19 0h3m-67 1h3m0 0h3m5 0h3m7 0h3m-2 0h3m-2 0h3m-2 0h3m1 0h3m-2 0h3m2 0h3m-1 0h3m0 0h3m5 0h3m3 0h3m2 0h3m-57 1h3m5 0h3m5 0h3m-1 0h3m-2 0h3m-2 0h3m-2 0h3m-2 0h3m-2 0h3m12 0h3m1 0h3m6 0h3m-2 0h3m-66 1h3m-2 0h3m12 0h3m-1 0h3m15 0h3m1 0h3m-2 0h3m-1 0h3m26 0h3m4 0h3m-61 1h3m1 0h3m4 0h3m5 0h3m-2 0h3m4 0h3m2 0h3m-2 0h3m-2 0h3m1 0h3m3 0h3m4 0h3m-61 1h3m6 0h3m6 0h3m5 0h3m5 0h3m-2 0h3m5 0h3m-2 0h3m6 0h3m-55 1h3m2 0h3m8 0h3m-2 0h3m3 0h3m-2 0h3m3 0h3m0 0h3m-1 0h3m0 0h3m-1 0h3m1 0h3m-52 1h3m1 0h3m0 0h3m2 0h3m5 0h3m-1 0h3m-2 0h3m-2 0h3m0 0h3m-2 0h3m3 0h3m9 0h3m-2 0h3m2 0h3m-63 1h3m8 0h3m2 0h3m-1 0h3m9 0h3m-2 0h3m3 0h3m-1 0h3m-2 0h3m0 0h3m11 0h3m-87 1h3m26 0h3m3 0h3m0 0h3m12 0h3m-2 0h3m1 0h3m12 0h3m-2 0h3m0 0h3m2 0h3m-1 0h3m-2 0h3m7 0h3m0 0h3m4 0h3m-80 1h3m2 0h3m6 0h3m-1 0h3m4 0h3m1 0h3m-2 0h3m2 0h3m-1 0h3m4 0h3m-2 0h3m6 0h3m5 0h3m-1 0h3m7 0h3m-87 1h3m6 0h3m-2 0h3m3 0h3m-1 0h3m2 0h3m16 0h3m-2 0h3m0 0h3m-2 0h3m14 0h3m27 0h3m-84 1h3m-2 0h3m-2 0h3m1 0h3m13 0h3m-2 0h3m0 0h3m9 0h3m4 0h3m2 0h3m-1 0h3m-56 1h3m6 0h3m1 0h3m6 0h3m0 0h3m-2 0h3m-2 0h3m2 0h3m0 0h3m-1 0h3m-2 0h3m3 0h3m4 0h3m1 0h3m-74 1h3m36 0h3m3 0h3m0 0h3m0 0h3m7 0h3m0 0h3m-1 0h3m-2 0h3m1 0h3m-49 1h3m2 0h3m14 0h3m4 0h3m-2 0h3m-1 0h3m-2 0h3m-2 0h3m2 0h3m5 0h3m2 0h3m-2 0h3m-74 1h3m4 0h3m7 0h3m-2 0h3m-1 0h3m4 0h3m9 0h3m-1 0h3m1 0h3m6 0h3m-2 0h3m5 0h3m1 0h3m-45 1h3m9 0h3m9 0h3m1 0h3m5 0h3m9 0h3m-82 1h3m20 0h3m5 0h3m0 0h3m3 0h3m8 0h3m3 0h3m-2 0h3m-2 0h3m0 0h3m8 0h3m-2 0h3m8 0h3m2 0h3m-49 1h3m1 0h3m6 0h3m-1 0h3m8 0h3m9 0h3m-65 1h3m3 0h3m8 0h3m0 0h3m1 0h3m-2 0h3m-1 0h3m5 0h3m-2 0h3m-2 0h3m-2 0h3m0 0h3m8 0h3m7 0h3m-85 1h3m20 0h3m3 0h3m-2 0h3m0 0h3m0 0h3m0 0h3m5 0h3m15 0h3m-58 1h3m22 0h3m9 0h3m3 0h3m5 0h3m2 0h3m-46 1h3m-1 0h3m4 0h3m1 0h3m-1 0h3m0 0h3m-1 0h3m1 0h3m3 0h3m1 0h3m7 0h3m2 0h3m-2 0h3m-2 0h3m22 0h3m-84 1h3m6 0h3m8 0h3m-2 0h3m-1 0h3m0 0h3m-1 0h3m-1 0h3m2 0h3m8 0h3m0 0h3m-2 0h3m-56 1h3m-1 0h3m4 0h3m49 0h3m2 0h3m3 0h3m-75 1h3m17 0h3m3 0h3m-1 0h3m-1 0h3m-1 0h3m-2 0h3m-2 0h3m5 0h3m4 0h3m6 0h3m-82 1h3m26 0h3m27 0h3m-1 0h3m-1 0h3m7 0h3m-66 1h3m8 0h3m7 0h3m0 0h3m3 0h3m-1 0h3m5 0h3m-2 0h3m1 0h3m17 0h3m2 0h3m-58 1h3m7 0h3m11 0h3m4 0h3m11 0h3m9 0h3m-69 1h3m13 0h3m17 0h3m4 0h3m7 0h3m-1 0h3m-1 0h3m-2 0h3m17 0h3m3 0h3m3 0h3m-98 1h3m19 0h3m0 0h3m1 0h3m3 0h3m-1 0h3m1 0h3m-2 0h3m17 0h3m-57 1h3m11 0h3m-2 0h3m1 0h3m-2 0h3m-2 0h3m4 0h3m0 0h3m1 0h3m0 0h3m-1 0h3m1 0h3m13 0h3m-1 0h3m13 0h3m-56 1h3m0 0h3m0 0h3m49 0h3m-77 1h3m16 0h3m7 0h3m1 0h3m8 0h3m5 0h3m-1 0h3m-67 1h3m0 0h3m-1 0h3m14 0h3m1 0h3m9 0h3m4 0h3m2 0h3m14 0h3m-55 1h3m11 0h3m-1 0h3m1 0h3m3 0h3m8 0h3m-48 1h3m17 0h3m3 0h3m18 0h3m14 0h3m-61 1h3m26 0h3m1 0h3m-1 0h3m4 0h3m6 0h3m-37 1h3m11 0h3m16 0h3m-76 1h3m10 0h3m5 0h3m2 0h3m38 0h3m9 0h3m-2 0h3m-57 1h3m4 0h3m2 0h3m3 0h3m2 0h3m1 0h3m2 0h3m9 0h3m5 0h3m-63 1h3m9 0h3m17 0h3m6 0h3m-14 1h3m8 0h3m2 0h3m-37 1h3m10 1h3m-2 0h3m6 0h3m-24 1h3m1 0h3m1 0h3m-4 1h3m20 0h3m7 0h3m-42 1h3m17 0h3m-15 1h3m23 0h3m-17 1h3m-6 1h3m32 0h3m-50 1h3m1 0h3m1 0h3m5 0h3m6 0h3m-2 0h3m-61 1h3m54 0h3m0 0h3m31 0h3m-104 2h3m49 0h3m24 0h3m-62 1h3m11 2h3m20 2h3m-1 3h3m1 0h3m-6 1h3m-22 1h3m35 1h3m-74 13h3m20 2h3" stroke="#30d030" stroke-width="3" opacity="0.7" fill="none"/>
<path transform="scale(0.25)" d="M1352 579.5h3m-52 1h3m-7 3h3m33 4h3m-14 1h3m3 1h3m-49 1h3m19 2h3m-29 4h3m11 0h3m32 0h3m2 0h3m-68 1h3m18 2h3m-5 1h3m20 1h3m36 0h3m-54 1h3m20 0h3m2 0h3m3 1h3m13 0h3m-54 1h3m29 0h3m5 0h3m13 0h3m-32 1h3m20 0h3m-54 1h3m26 0h3m13 0h3m-2 1h3m-40 1h3m-29 1h3m20 0h3m1 0h3m16 0h3m1 0h3m-2 0h3m20 0h3m3 0h3m-83 1h3m15 0h3m52 1h3m-57 1h3m22 0h3m-2 0h3m-2 0h3m-2 0h3m-1 0h3m11 0h3m7 0h3m-41 1h3m26 0h3m-36 1h3m7 0h3m-2 0h3m16 0h3m-46 1h3m5 0h3m5 1h3m0 0h3m1 0h3m-46 1h3m7 0h3m18 0h3m1 0h3m-1 0h3m-2 0h3m8 0h3m-2 0h3m-39 1h3m47 0h3m1 0h3m-62 1h3m8 0h3m2 0h3m-2 0h3m19 0h3m14 0h3m0 0h3m4 0h3m-31 1h3m-41 1h3m3 0h3m2 0h3m7 0h3m0 0h3m6 0h3m0 0h3m-2 0h3m1 0h3m15 0h3m-66 1h3m15 0h3m-2 0h3m6 0h3m-1 0h3m8 0h3m19 0h3m-62 1h3m9 0h3m0 0h3m4 0h3m0 0h3m-2 0h3m7 0h3m-2 0h3m0 0h3m4 0h3m-1 0h3m-66 1h3m18 0h3m8 0h3m0 0h3m9 0h3m-2 0h3m1 0h3m3 0h3m3 0h3m-71 1h3m12 0h3m19 0h3m5 0h3m12 0h3m-54 1h3m8 0h3m18 0h3m4 0h3m-1 0h3m-1 0h3m0 0h3m-2 0h3m7 0h3m9 0h3m-57 1h3m15 0h3m3 0h3m9 0h3m0 0h3m3 0h3m-2 0h3m16 0h3m-115 1h3m42 0h3m8 0h3m-2 0h3m-2 0h3m-2 0h3m6 0h3m0 0h3m1 0h3m9 0h3m1 0h3m-71 1h3m34 0h3m3 0h3m0 0h3m12 0h3m5 0h3m11 0h3m-78 1h3m5 0h3m0 0h3m0 0h3m-1 0h3m4 0h3m3 0h3m5 0h3m-2 0h3m5 0h3m-2 0h3m7 0h3m14 0h3m0 0h3m2 0h3m-79 1h3m9 0h3m18 0h3m7 0h3m7 0h3m7 0h3m7 0h3m-70 1h3m-1 0h3m25 0h3m-2 0h3m7 0h3m10 0h3m-62 1h3m2 0h3m6 0h3m3 0h3m3 0h3m-2 0h3m5 0h3m7 0h3m-2 0h3m14 0h3m4 0h3m-1 0h3m-66 1h3m-2 0h3m0 0h3m2 0h3m6 0h3m-2 0h3m12 0h3m-2 0h3m-1 0h3m-2 0h3m3 0h3m1 0h3m-67 1h3m17 0h3m0 0h3m1 0h3m1 0h3m-1 0h3m6 0h3m5 0h3m2 0h3m0 0h3m2 0h3m3 0h3m2 0h3m-56 1h3m-1 0h3m0 0h3m4 0h3m3 0h3m-1 0h3m-2 0h3m3 0h3m-2 0h3m20 0h3m-67 1h3m3 0h3m7 0h3m2 0h3m-1 0h3m2 0h3m9 0h3m0 0h3m5 0h3m-69 1h3m6 0h3m0 0h3m14 0h3m-2 0h3m1 0h3m2 0h3m2 0h3m6 0h3m1 0h3m22 0h3m-63 1h3m4 0h3m-1 0h3m-2 0h3m2 0h3m2 0h3m3 0h3m-2 0h3m11 0h3m2 0h3m-2 0h3m-1 0h3m-50 1h3m1 0h3m-2 0h3m16 0h3m7 0h3m-1 0h3m9 0h3m4 0h3m-88 1h3m16 0h3m1 0h3m17 0h3m4 0h3m-2 0h3m1 0h3m-2 0h3m15 0h3m19 0h3m-93 1h3m12 0h3m1 0h3m5 0h3m3 0h3m-1 0h3m-2 0h3m2 0h3m-2 0h3m0 0h3m29 0h3m4 0h3m-83 1h3m6 0h3m-1 0h3m2 0h3m4 0h3m-1 0h3m1 0h3m-2 0h3m3 0h3m1 0h3m-2 0h3m-1 0h3m1 0h3m2 0h3m1 0h3m-56 1h3m1 0h3m12 0h3m4 0h3m2 0h3m5 0h3m-1 0h3m-2 0h3m5 0h3m-2 0h3m2 0h3m3 0h3m6 0h3m6 0h3m-93 1h3m10 0h3m-1 0h3m6 0h3m1 0h3m-1 0h3m1 0h3m-2 0h3m-2 0h3m5 0h3m-1 0h3m1 0h3m8 0h3m27 0h3m-91 1h3m2 0h3m-1 0h3m13 0h3m3 0h3m4 0h3m4 0h3m-1 0h3m-1 0h3m12 0h3m0 0h3m-1 0h3m-73 1h3m13 0h3m-2 0h3m8 0h3m6 0h3m1 0h3m16 0h3m7 0h3m0 0h3m-94 1h3m23 0h3m9 0h3m-2 0h3m1 0h3m2 0h3m3 0h3m12 0h3m4 0h3m-1 0h3m14 0h3m-60 1h3m-1 0h3m-2 0h3m6 0h3m-1 0h3m-2 0h3m1 0h3m-2 0h3m0 0h3m15 0h3m-1 0h3m-53 1h3m-1 0h3m14 0h3m0 0h3m0 0h3m9 0h3m-1 0h3m6 0h3m2 0h3m0 0h3m-56 1h3m14 0h3m-2 0h3m7 0h3m-1 0h3m8 0h3m0 0h3m2 0h3m10 0h3m8 0h3m4 0h3m-100 1h3m27 0h3m-1 0h3m5 0h3m-1 0h3m-2 0h3m6 0h3m12 0h3m-1 0h3m2 0h3m11 0h3m5 0h3m-69 1h3m0 0h3m12 0h3m0 0h3m11 0h3m10 0h3m8 0h3m-78 1h3m3 0h3m2 0h3m5 0h3m4 0h3m1 0h3m-2 0h3m0 0h3m4 0h3m0 0h3m6 0h3m2 0h3m2 0h3m-83 1h3m3 0h3m1 0h3m7 0h3m0 0h3m-1 0h3m2 0h3m1 0h3m2 0h3m7 0h3m2 0h3m-2 0h3m0 0h3m11 0h3m0 0h3m0 0h3m-2 0h3m-1 0h3m-1 0h3m5 0h3m-85 1h3m6 0h3m8 0h3m7 0h3m-2 0h3m4 0h3m-1 0h3m4 0h3m1 0h3m3 0h3m1 0h3m-2 0h3m1 0h3m1 0h3m-74 1h3m13 0h3m0 0h3m4 0h3m8 0h3m12 0h3m-2 0h3m1 0h3m-2 0h3m2 0h3m4 0h3m6 0h3m2 0h3m-82 1h3m2 0h3m4 0h3m13 0h3m-2 0h3m-2 0h3m-2 0h3m1 0h3m0 0h3m6 0h3m-1 0h3m5 0h3m18 0h3m-109 1h3m20 0h3m29 0h3m4 0h3m-1 0h3m4 0h3m7 0h3m13 0h3m-70 1h3m0 0h3m2 0h3m3 0h3m9 0h3m-2 0h3m4 0h3m-1 0h3m-2 0h3m-1 0h3m13 0h3m2 0h3m0 0h3m7 0h3m-71 1h3m0 0h3m9 0h3m0 0h3m1 0h3m-1 0h3m-2 0h3m-1 0h3m2 0h3m-1 0h3m-1 0h3m-1 0h3m-1 0h3m12 0h3m-73 1h3m8 0h3m4 0h3m-2 0h3m12 0h3m-1 0h3m0 0h3m-2 0h3m5 0h3m-1 0h3m0 0h3m-2 0h3m0 0h3m1 0h3m-53 1h3m2 0h3m-2 0h3m1 0h3m-1 0h3m8 0h3m-2 0h3m0 0h3m-2 0h3m-1 0h3m0 0h3m11 0h3m0 0h3m0 0h3m4 0h3m-2 0h3m-2 0h3m-72 1h3m2 0h3m7 0h3m-2 0h3m8 0h3m1 0h3m1 0h3m3 0h3m-1 0h3m3 0h3m0 0h3m1 0h3m-1 0h3m4 0h3m0 0h3m-57 1h3m7 0h3m0 0h3m3 0h3m22 0h3m3 0h3m-68 1h3m7 0h3m9 0h3m3 0h3m2 0h3m3 0h3m5 0h3m0 0h3m3 0h3m8 0h3m8 0h3m-90 1h3m34 0h3m-2 0h3m11 0h3m4 0h3m7 0h3m10 0h3m-56 1h3m2 0h3m-2 0h3m1 0h3m2 0h3m1 0h3m2 0h3m4 0h3m-2 0h3m-2 0h3m5 0h3m-1 0h3m-1 0h3m9 0h3m10 0h3m-90 1h3m28 0h3m9 0h3m-1 0h3m1 0h3m0 0h3m-2 0h3m1 0h3m19 0h3m-76 1h3m1 0h3m2 0h3m11 0h3m3 0h3m1 0h3m-1 0h3m1 0h3m7 0h3m-1 0h3m9 0h3m8 0h3m-75 1h3m-2 0h3m15 0h3m0 0h3m-2 0h3m-1 0h3m3 0h3m0 0h3m-2 0h3m-1 0h3m1 0h3m2 0h3m2 0h3m-1 0h3m-1 0h3m-2 0h3m7 0h3m-2 0h3m-52 1h3m5 0h3m-2 0h3m-1 0h3m5 0h3m17 0h3m-61 1h3m8 0h3m9 0h3m-2 0h3m0 0h3m0 0h3m0 0h3m1 0h3m4 0h3m1 0h3m-1 0h3m-2 0h3m0 0h3m-1 0h3m20 0h3m-86 1h3m0 0h3m12 0h3m1 0h3m1 0h3m-2 0h3m-1 0h3m4 0h3m3 0h3m1 0h3m-2 0h3m-2 0h3m-28 1h3m27 0h3m-1 0h3m-2 0h3m-1 0h3m6 0h3m-2 0h3m3 0h3m-74 1h3m-1 0h3m10 0h3m10 0h3m-2 0h3m5 0h3m4 0h3m-69 1h3m11 0h3m28 0h3m4 0h3m-1 0h3m-1 0h3m13 0h3m3 0h3m-2 0h3m10 0h3m-74 1h3m12 0h3m-1 0h3m-1 0h3m8 0h3m8 0h3m0 0h3m4 0h3m-1 0h3m-1 0h3m2 0h3m-55 1h3m28 0h3m-1 0h3m0 0h3m2 0h3m11 0h3m4 0h3m-63 1h3m10 0h3m13 0h3m3 0h3m3 0h3m16 0h3m-58 1h3m-1 0h3m9 0h3m4 0h3m2 0h3m5 0h3m17 0h3m-2 0h3m-2 0h3m-55 1h3m1 0h3m1 0h3m10 0h3m18 0h3m2 0h3m3 0h3m6 0h3m-61 1h3m-2 0h3m2 0h3m3 0h3m4 0h3m11 0h3m-1 0h3m0 0h3m-91 1h3m35 0h3m10 0h3m12 0h3m8 0h3m-1 0h3m1 0h3m8 0h3m3 0h3m-73 1h3m5 0h3m17 0h3m39 0h3m-74 1h3m16 0h3m11 0h3m9 0h3m-1 0h3m-51 1h3m-2 0h3m19 0h3m12 0h3m0 0h3m0 0h3m-1 0h3m-1 0h3m0 0h3m7 0h3m-48 1h3m4 0h3m32 0h3m3 0h3m6 0h3m-113 1h3m62 0h3m0 0h3m1 0h3m5 0h3m7 0h3m13 0h3m-89 1h3m13 0h3m11 0h3m0 0h3m-2 0h3m14 0h3m2 0h3m-32 1h3m0 0h3m3 0h3m5 0h3m13 0h3m3 0h3m2 0h3m4 0h3m-20 1h3m18 0h3m6 0h3m-44 1h3m10 0h3m0 0h3m27 0h3m-88 1h3m9 0h3m8 0h3m6 0h3m21 0h3m3 0h3m-1 0h3m2 0h3m2 0h3m-25 1h3m-1 1h3m9 0h3m-62 1h3m14 0h3m1 0h3m21 0h3m5 0h3m4 0h3m-63 1h3m46 0h3m-63 1h3m71 0h3m12 0h3m-80 1h3m-1 0h3m31 0h3m1 0h3m8 0h3m0 0h3m4 0h3m-21 1h3m18 0h3m-62 1h3m19 0h3m8 0h3m0 0h3m2 0h3m-71 1h3m67 0h3m-2 0h3m-1 0h3m-2 0h3m-34 1h3m1 0h3m1 0h3m19 0h3m18 0h3m-2 0h3m-74 1h3m23 0h3m-24 1h3m6 0h3m29 0h3m9 0h3m-66 1h3m39 0h3m6 0h3m-55 1h3m-1 0h3m17 0h3m-7 1h3m35 0h3m-30 1h3m11 0h3m-11 2h3m0 1h3m21 0h3m-86 2h3m48 0h3m17 0h3m2 2h3m9 0h3m-34 5h3m14 1h3m18 0h3m0 1h3m-10 7h3m-9 2h3m-62 8h3" stroke="#30d030" stroke-width="3" opacity="0.7" fill="none"/>
<path transform="scale(0.25)" d="M1203 649.5h3m6 0h3m-21 13h3m7 3h3m8 6h3m9 1h3m16 0h3m-30 1h3m-2 0h3m-21 1h3m5 0h3m-24 1h3m11 0h3m33 0h3m-61 1h3m56 0h3m-43 1h3m44 0h3m-49 1h3m11 1h3m4 0h3m0 0h3m15 0h3m-53 1h3m8 0h3m0 0h3m-11 1h3m63 0h3m-48 1h3m36 0h3m-69 1h3m47 0h3m2 0h3m-43 1h3m2 0h3m11 0h3m0 0h3m-26 1h3m2 0h3m3 0h3m13 1h3m-44 1h3m13 0h3m20 0h3m-14 1h3m5 0h3m-39 1h3m9 0h3m16 0h3m-2 0h3m0 0h3m4 0h3m-29 1h3m5 0h3m4 0h3m6 0h3m-12 1h3m14 0h3m-40 1h3m13 0h3m-24 1h3m3 0h3m-2 0h3m1 0h3m-2 0h3m13 0h3m8 0h3m4 0h3m0 1h3m19 0h3m-72 1h3m7 0h3m-2 0h3m5 0h3m9 0h3m1 0h3m-34 1h3m-1 0h3m2 0h3m1 0h3m2 0h3m-2 0h3m4 0h3m2 0h3m2 0h3m-2 0h3m3 0h3m-52 1h3m1 0h3m12 0h3m-2 0h3m2 0h3m7 0h3m4 0h3m-49 1h3m7 0h3m3 0h3m0 0h3m3 0h3m4 0h3m30 0h3m-77 1h3m2 0h3m36 0h3m-1 0h3m1 0h3m6 0h3m0 0h3m-80 1h3m15 0h3m-1 0h3m1 0h3m17 0h3m9 0h3m6 0h3m4 0h3m-1 0h3m-48 1h3m6 0h3m5 0h3m2 0h3m-2 0h3m10 0h3m1 0h3m9 0h3m-74 1h3m9 0h3m2 0h3m7 0h3m0 0h3m1 0h3m-1 0h3m1 0h3m-2 0h3m4 0h3m2 0h3m-2 0h3m4 0h3m12 0h3m-45 1h3m3 0h3m-1 0h3m2 0h3m-1 0h3m12 0h3m21 0h3m-67 1h3m1 0h3m-2 0h3m-1 0h3m-2 0h3m14 0h3m-2 0h3m0 0h3m2 0h3m3 0h3m-32 1h3m-2 0h3m10 0h3m7 0h3m-34 1h3m4 0h3m-2 0h3m-2 0h3m10 0h3m-2 0h3m13 0h3m-58 1h3m19 0h3m-1 0h3m15 0h3m3 0h3m-1 0h3m1 0h3m-1 0h3m-2 0h3m-81 1h3m35 0h3m0 0h3m-1 0h3m-1 0h3m1 0h3m5 0h3m1 0h3m6 0h3m4 0h3m-1 0h3m-60 1h3m4 0h3m2 0h3m17 0h3m3 0h3m2 0h3m-1 0h3m-2 0h3m-2 0h3m7 0h3m7 0h3m-76 1h3m7 0h3m9 0h3m2 0h3m0 0h3m2 0h3m2 0h3m4 0h3m6 0h3m0 0h3m-59 1h3m0 0h3m13 0h3m5 0h3m-2 0h3m-2 0h3m-2 0h3m-2 0h3m17 0h3m4 0h3m-2 0h3m-2 0h3m3 0h3m-103 1h3m30 0h3m8 0h3m12 0h3m0 0h3m0 0h3m-2 0h3m6 0h3m-1 0h3m4 0h3m1 0h3m0 0h3m-1 0h3m-2 0h3m13 0h3m10 0h3m-93 1h3m10 0h3m3 0h3m3 0h3m0 0h3m0 0h3m6 0h3m-1 0h3m-2 0h3m2 0h3m2 0h3m4 0h3m9 0h3m-82 1h3m15 0h3m-1 0h3m-2 0h3m-2 0h3m-2 0h3m5 0h3m-2 0h3m-2 0h3m-2 0h3m3 0h3m-2 0h3m3 0h3m-1 0h3m-2 0h3m4 0h3m15 0h3m-68 1h3m0 0h3m5 0h3m1 0h3m0 0h3m4 0h3m-1 0h3m9 0h3m4 0h3m19 0h3m-64 1h3m-2 0h3m15 0h3m-2 0h3m0 0h3m-2 0h3m0 0h3m1 0h3m-1 0h3m0 0h3m-2 0h3m-1 0h3m-2 0h3m15 0h3m18 0h3m-74 1h3m0 0h3m35 0h3m1 0h3m8 0h3m-105 1h3m3 0h3m10 0h3m13 0h3m17 0h3m-2 0h3m7 0h3m1 0h3m-2 0h3m5 0h3m2 0h3m-46 1h3m-2 0h3m5 0h3m1 0h3m1 0h3m-1 0h3m3 0h3m-2 0h3m1 0h3m0 0h3m14 0h3m-63 1h3m0 0h3m0 0h3m-2 0h3m2 0h3m2 0h3m-1 0h3m2 0h3m-2 0h3m5 0h3m-2 0h3m0 0h3m0 0h3m-2 0h3m-2 0h3m1 0h3m2 0h3m5 0h3m-72 1h3m2 0h3m0 0h3m4 0h3m-1 0h3m16 0h3m4 0h3m2 0h3m-2 0h3m-1 0h3m1 0h3m-2 0h3m-2 0h3m1 0h3m-54 1h3m1 0h3m3 0h3m5 0h3m1 0h3m1 0h3m5 0h3m0 0h3m11 0h3m-52 1h3m-1 0h3m0 0h3m6 0h3m3 0h3m-2 0h3m-2 0h3m5 0h3m5 0h3m0 0h3m-1 0h3m-61 1h3m21 0h3m5 0h3m-2 0h3m3 0h3m3 0h3m-1 0h3m2 0h3m14 0h3m0 0h3m21 0h3m-94 1h3m1 0h3m4 0h3m-1 0h3m7 0h3m0 0h3m8 0h3m-2 0h3m-1 0h3m0 0h3m0 0h3m-2 0h3m0 0h3m-2 0h3m33 0h3m-88 1h3m6 0h3m0 0h3m-1 0h3m1 0h3m0 0h3m0 0h3m0 0h3m-2 0h3m-1 0h3m-2 0h3m2 0h3m-1 0h3m1 0h3m-2 0h3m1 0h3m0 0h3m-2 0h3m-1 0h3m5 0h3m3 0h3m-60 1h3m2 0h3m2 0h3m3 0h3m3 0h3m-2 0h3m-1 0h3m9 0h3m28 0h3m-78 1h3m-2 0h3m-2 0h3m0 0h3m1 0h3m17 0h3m-2 0h3m2 0h3m-2 0h3m-2 0h3m-2 0h3m7 0h3m3 0h3m-2 0h3m1 0h3m16 0h3m-2 0h3m-66 1h3m8 0h3m-2 0h3m0 0h3m3 0h3m-1 0h3m-2 0h3m8 0h3m2 0h3m26 0h3m2 0h3m-57 1h3m4 0h3m16 0h3m14 0h3m-90 1h3m3 0h3m15 0h3m-1 0h3m15 0h3m-2 0h3m0 0h3m0 0h3m0 0h3m7 0h3m19 0h3m-83 1h3m-1 0h3m4 0h3m8 0h3m-2 0h3m2 0h3m6 0h3m7 0h3m2 0h3m5 0h3m-49 1h3m0 0h3m9 0h3m2 0h3m1 0h3m3 0h3m-2 0h3m-1 0h3m8 0h3m0 0h3m-69 1h3m2 0h3m13 0h3m-2 0h3m7 0h3m-1 0h3m1 0h3m2 0h3m3 0h3m7 0h3m-1 0h3m-1 0h3m11 0h3m-73 1h3m17 0h3m7 0h3m1 0h3m-1 0h3m0 0h3m0 0h3m-2 0h3m-2 0h3m2 0h3m6 0h3m-2 0h3m-62 1h3m0 0h3m4 0h3m3 0h3m0 0h3m3 0h3m-2 0h3m4 0h3m-2 0h3m7 0h3m2 0h3m5 0h3m-48 1h3m8 0h3m-2 0h3m6 0h3m-2 0h3m3 0h3m1 0h3m-2 0h3m-1 0h3m12 0h3m-71 1h3m3 0h3m2 0h3m7 0h3m5 0h3m-2 0h3m5 0h3m-2 0h3m2 0h3m-1 0h3m0 0h3m-1 0h3m1 0h3m6 0h3m-41 1h3m1 0h3m0 0h3m3 0h3m1 0h3m6 0h3m0 0h3m7 0h3m-63 1h3m8 0h3m4 0h3m-2 0h3m16 0h3m6 0h3m-1 0h3m-1 0h3m8 0h3m0 0h3m-55 1h3m4 0h3m4 0h3m8 0h3m11 0h3m-1 0h3m-44 1h3m9 0h3m-2 0h3m2 0h3m5 0h3m4 0h3m-2 0h3m-1 0h3m1 0h3m14 0h3m-60 1h3m10 0h3m-1 0h3m-1 0h3m0 0h3m3 0h3m0 0h3m2 0h3m12 0h3m-77 1h3m10 0h3m13 0h3m7 0h3m-2 0h3m-1 0h3m1 0h3m0 0h3m-1 0h3m6 0h3m4 0h3m-51 1h3m-1 0h3m3 0h3m-1 0h3m18 0h3m21 0h3m30 0h3m-87 1h3m7 0h3m-1 0h3m4 0h3m5 0h3m6 0h3m-1 0h3m8 0h3m-78 1h3m12 0h3m5 0h3m-2 0h3m-1 0h3m-2 0h3m2 0h3m13 0h3m-1 0h3m1 0h3m2 0h3m30 0h3m-87 1h3m8 0h3m6 0h3m-1 0h3m12 0h3m7 0h3m2 0h3m2 0h3m0 0h3m-1 0h3m12 0h3m0 0h3m-80 1h3m13 0h3m5 0h3m6 0h3m0 0h3m-1 0h3m-2 0h3m-2 0h3m3 0h3m8 0h3m11 0h3m-66 1h3m-1 0h3m5 0h3m5 0h3m-1 0h3m-1 0h3m7 0h3m7 0h3m4 0h3m-2 0h3m3 0h3m-56 1h3m7 0h3m3 0h3m7 0h3m-2 0h3m2 0h3m0 0h3m-1 0h3m-48 1h3m10 0h3m1 0h3m2 0h3m10 0h3m-1 0h3m14 0h3m10 0h3m-78 1h3m22 0h3m-2 0h3m1 0h3m1 0h3m-1 0h3m4 0h3m-2 0h3m6 0h3m1 0h3m5 0h3m-33 1h3m3 0h3m6 0h3m8 0h3m-1 0h3m5 0h3m8 0h3m-84 1h3m1 0h3m11 0h3m12 0h3m2 0h3m0 0h3m0 0h3m3 0h3m-2 0h3m-32 1h3m9 0h3m3 0h3m-2 0h3m7 0h3m14 0h3m-1 0h3m0 0h3m-66 1h3m4 0h3m2 0h3m5 0h3m0 0h3m14 0h3m6 0h3m-1 0h3m12 0h3m-93 1h3m23 0h3m5 0h3m-2 0h3m29 0h3m5 0h3m19 0h3m0 0h3m-84 1h3m-2 0h3m13 0h3m2 0h3m5 0h3m-2 0h3m13 0h3m0 0h3m-50 1h3m5 0h3m11 0h3m12 0h3m7 0h3m3 0h3m-2 0h3m11 0h3m-86 1h3m28 0h3m3 0h3m12 0h3m-49 1h3m19 0h3m1 0h3m-2 0h3m22 0h3m4 0h3m-1 0h3m-1 0h3m8 0h3m-61 1h3m25 0h3m1 1h3m-31 1h3m5 0h3m-6 1h3m6 0h3m2 0h3m3 0h3m0 0h3m-18 1h3m9 1h3m7 0h3m10 0h3m22 0h3m-106 1h3m37 0h3m2 0h3m9 0h3m-28 1h3m9 0h3m18 0h3m8 0h3m-45 1h3m2 0h3m15 0h3m25 0h3m-74 1h3m29 0h3m-2 0h3m1 0h3m9 0h3m-2 0h3m5 0h3m2 0h3m-44 1h3m0 0h3m11 0h3m-2 0h3m9 0h3m-2 0h3m-41 1h3m41 0h3m-68 1h3m23 0h3m-19 2h3m19 0h3m7 0h3m10 0h3m5 0h3m-1 0h3m-25 1h3m9 1h3m-58 1h3m57 0h3m-17 1h3m11 0h3m18 0h3m-44 2h3m27 0h3m6 2h3m-51 1h3m7 1h3m17 0h3m7 0h3m-22 1h3m3 0h3m9 0h3m-4 1h3m-42 3h3m1 1h3m13 0h3m-9 3h3m-7 1h3m-1 1h3m-1 0h3m9 3h3" stroke="#30d030" stroke-width="3" opacity="0.7" fill="none"/>
<path transform="scale(0.25)" d="M1286 590.5h3m11 18h3m6 3h3m-55 8h3m16 4h3m-61 2h3m46 2h3m-1 0h3m30 1h3m32 0h3m-129 1h3m31 3h3m-3 3h3m-41 1h3m45 1h3m26 0h3m-24 1h3m33 0h3m-50 1h3m27 0h3m-34 2h3m-35 1h3m11 0h3m-4 1h3m43 0h3m-1 0h3m-49 2h3m76 0h3m1 1h3m-54 1h3m-40 1h3m39 0h3m18 0h3m7 0h3m-57 1h3m17 0h3m3 0h3m-50 1h3m5 0h3m24 0h3m-21 1h3m1 0h3m29 0h3m-14 1h3m19 0h3m-1 0h3m-117 1h3m115 0h3m-59 1h3m78 0h3m37 0h3m-146 1h3m13 0h3m36 0h3m29 0h3m-132 1h3m106 0h3m-44 1h3m4 0h3m9 0h3m9 0h3m24 1h3m-47 1h3m3 0h3m-14 1h3m4 0h3m40 0h3m-93 1h3m23 0h3m5 0h3m4 0h3m4 0h3m36 0h3m-64 1h3m9 0h3m45 0h3m6 0h3m-63 1h3m13 0h3m24 0h3m-42 1h3m-2 0h3m49 0h3m-82 1h3m35 0h3m13 0h3m26 0h3m17 0h3m-124 1h3m60 0h3m4 0h3m3 0h3m3 0h3m4 0h3m-72 1h3m17 0h3m7 0h3m13 0h3m-1 0h3m2 0h3m-99 1h3m107 0h3m9 0h3m-132 1h3m52 0h3m56 0h3m41 0h3m-103 1h3m19 0h3m-43 1h3m14 0h3m28 0h3m21 0h3m6 0h3m0 0h3m19 0h3m-132 1h3m31 0h3m0 0h3m16 0h3m-2 0h3m32 0h3m-64 1h3m51 0h3m5 0h3m15 0h3m-87 1h3m66 0h3m19 0h3m17 0h3m17 0h3m-153 1h3m31 0h3m6 0h3m21 0h3m7 0h3m37 0h3m-52 1h3m4 0h3m7 0h3m-26 1h3m6 0h3m3 0h3m-42 1h3m33 0h3m-2 0h3m5 0h3m3 0h3m11 0h3m-53 1h3m6 0h3m7 0h3m0 0h3m-73 1h3m-1 0h3m52 0h3m-1 0h3m7 0h3m3 0h3m16 0h3m-115 1h3m51 0h3m9 0h3m16 0h3m15 0h3m-103 1h3m18 0h3m5 0h3m11 0h3m7 0h3m6 0h3m-2 0h3m4 0h3m14 0h3m6 0h3m10 0h3m-2 0h3m21 0h3m-118 1h3m2 0h3m13 0h3m4 0h3m1 0h3m6 0h3m21 0h3m16 0h3m4 0h3m-118 1h3m28 0h3m41 0h3m12 0h3m2 0h3m1 0h3m2 0h3m-46 1h3m23 0h3m-1 0h3m12 0h3m-1 0h3m57 0h3m-122 1h3m16 0h3m5 0h3m12 0h3m6 0h3m11 0h3m26 0h3m-58 1h3m8 0h3m2 0h3m61 0h3m-125 1h3m11 0h3m28 0h3m19 0h3m16 0h3m-92 1h3m31 0h3m1 0h3m-2 0h3m-2 0h3m2 0h3m-2 0h3m0 0h3m-48 1h3m9 0h3m6 0h3m2 0h3m8 0h3m-2 0h3m10 0h3m9 0h3m20 0h3m-54 1h3m7 0h3m12 0h3m1 0h3m-59 1h3m14 0h3m2 0h3m40 0h3m-90 1h3m3 0h3m24 0h3m5 0h3m3 0h3m14 0h3m27 0h3m-41 1h3m2 0h3m11 0h3m16 0h3m-60 1h3m-1 0h3m38 0h3m1 0h3m-91 1h3m2 0h3m11 0h3m-2 0h3m0 0h3m18 0h3m-1 0h3m4 0h3m4 0h3m-2 0h3m-60 1h3m4 0h3m20 0h3m3 0h3m5 0h3m17 0h3m4 0h3m-99 1h3m17 0h3m40 0h3m-1 0h3m10 0h3m37 0h3m-89 1h3m27 0h3m14 0h3m18 0h3m9 0h3m10 0h3m-75 1h3m5 0h3m16 0h3m7 0h3m-19 1h3m14 0h3m3 0h3m5 0h3m-102 1h3m18 0h3m25 0h3m34 0h3m-1 0h3m5 0h3m4 0h3m11 0h3m2 0h3m-2 0h3m1 0h3m-77 1h3m18 0h3m13 0h3m0 0h3m22 0h3m37 0h3m-156 1h3m41 0h3m3 0h3m-2 0h3m11 0h3m12 0h3m2 0h3m23 0h3m-80 1h3m0 0h3m15 0h3m2 0h3m-22 1h3m8 0h3m3 0h3m12 0h3m11 0h3m5 1h3m52 0h3m-118 1h3m16 0h3m18 0h3m-52 1h3m6 0h3m-1 0h3m22 0h3m7 0h3m53 0h3m-115 1h3m46 0h3m0 0h3m3 0h3m-67 1h3m33 0h3m2 0h3m4 0h3m7 0h3m11 0h3m5 0h3m11 0h3m10 0h3m-115 1h3m53 0h3m29 0h3m45 0h3m-83 1h3m34 0h3m-1 0h3m19 0h3m-85 1h3m-2 0h3m14 0h3m16 0h3m2 0h3m0 0h3m6 0h3m1 0h3m20 0h3m-68 1h3m-1 0h3m-2 0h3m4 0h3m11 0h3m23 0h3m5 0h3m21 0h3m-99 1h3m-2 0h3m14 0h3m30 0h3m-68 1h3m9 0h3m14 0h3m2 0h3m-27 1h3m12 0h3m-1 0h3m10 0h3m2 0h3m12 0h3m18 0h3m-69 1h3m-1 0h3m1 0h3m18 0h3m0 0h3m15 0h3m22 0h3m-84 1h3m-6 1h3m2 0h3m21 0h3m-13 1h3m0 0h3m30 0h3m4 0h3m6 0h3m13 0h3m-92 1h3m11 0h3m4 0h3m14 0h3m-1 0h3m-5 1h3m-1 0h3m18 0h3m-101 1h3m29 0h3m-1 0h3m31 0h3m43 0h3m-45 1h3m22 0h3m0 0h3m35 0h3m-111 1h3m-2 0h3m4 1h3m54 0h3m-66 1h3m-27 2h3m1 0h3m35 0h3m16 0h3m8 0h3m9 0h3m33 0h3m-136 1h3m74 0h3m-45 1h3m25 0h3m12 0h3m15 0h3m17 1h3m-101 1h3m23 0h3m-1 0h3m18 0h3m8 0h3m42 0h3m-57 1h3m2 0h3m73 0h3m-67 1h3m31 0h3m-81 1h3m19 1h3m-40 1h3m37 0h3m23 0h3m-22 1h3m-20 1h3m7 0h3m38 0h3m20 0h3m-14 1h3m13 0h3m-12 2h3m12 0h3m-19 1h3m-111 1h3m66 0h3m16 0h3m-68 3h3m-1 0h3m7 1h3m40 0h3m-57 1h3m53 0h3m-19 1h3m17 0h3m11 2h3m-46 1h3m7 1h3m-13 1h3m29 1h3m-31 3h3m19 0h3m18 5h3m-73 1h3m63 21h3" stroke="#50c850" stroke-width="3" opacity="0.45" fill="none"/>
<ellipse cx="305.00" cy="155.50" rx="5.00" ry="6.00" fill="#38d838" opacity="0.6" transform="rotate(0 305.00 155.50)" filter="url(#b1)"/>
<ellipse cx="329.00" cy="164.50" rx="6.00" ry="6.00" fill="#38d838" opacity="0.6" transform="rotate(0 329.00 164.50)" filter="url(#b1)"/>
<ellipse cx="305.00" cy="181.50" rx="5.00" ry="6.00" fill="#38d838" opacity="0.6" transform="rotate(0 305.00 181.50)" filter="url(#b1)"/>
<rect x="287.60" y="138.60" width="55.00" height="63.30" fill="none" stroke="#1a1a1a" stroke-width="1.7" />
<line x1="314.60" y1="138.60" x2="314.60" y2="201.90" stroke="#1a1a1a" stroke-width="1.7" />
<line x1="287.60" y1="173.00" x2="342.60" y2="173.00" stroke="#1a1a1a" stroke-width="1.7" />
<path d="M285.20 139.60h1.6M285.20 142.15h1.6M285.20 144.71h1.6M285.20 147.26h1.6M285.20 149.82h1.6M285.20 152.37h1.6M285.20 154.93h1.6M285.20 157.48h1.6M285.20 160.03h1.6M285.20 162.59h1.6M285.20 165.14h1.6M285.20 167.70h1.6M285.20 170.25h1.6M285.20 172.80h1.6M285.20 175.36h1.6M285.20 177.91h1.6M285.20 180.47h1.6M285.20 183.02h1.6M285.20 185.57h1.6M285.20 188.13h1.6M285.20 190.68h1.6M285.20 193.24h1.6M285.20 195.79h1.6M285.20 198.35h1.6M285.20 200.90h1.6" stroke="#000" stroke-width="0.6"/>
<path d="M288.60 202.70v1.6M290.81 202.70v1.6M293.02 202.70v1.6M295.23 202.70v1.6M297.43 202.70v1.6M299.64 202.70v1.6M301.85 202.70v1.6M304.06 202.70v1.6M306.27 202.70v1.6M308.48 202.70v1.6M310.68 202.70v1.6M312.89 202.70v1.6M315.10 202.70v1.6M317.31 202.70v1.6M319.52 202.70v1.6M321.73 202.70v1.6M323.93 202.70v1.6M326.14 202.70v1.6M328.35 202.70v1.6M330.56 202.70v1.6M332.77 202.70v1.6M334.98 202.70v1.6M337.18 202.70v1.6M339.39 202.70v1.6M341.60 202.70v1.6" stroke="#000" stroke-width="0.6"/>
<text x="301.50" y="164.15" font-size="6" fill="#1e1e1e" text-anchor="middle" stroke="#1e1e1e" stroke-width="0.15">Q1</text>
<text x="330.10" y="164.15" font-size="6" fill="#1e1e1e" text-anchor="middle" stroke="#1e1e1e" stroke-width="0.15">Q2</text>
<text x="302.10" y="188.05" font-size="6" fill="#1e1e1e" text-anchor="middle" stroke="#1e1e1e" stroke-width="0.15">Q3</text>
<text x="330.10" y="188.05" font-size="6" fill="#1e1e1e" text-anchor="middle" stroke="#1e1e1e" stroke-width="0.15">Q4</text>
<text x="289.50" y="153.02" font-size="9" fill="#c8303a" text-anchor="start">28</text>
<text x="328.80" y="153.42" font-size="9" fill="#c8303a" text-anchor="start">39</text>
<text x="333.00" y="198.52" font-size="9" fill="#c8303a" text-anchor="start">9</text>
<line x1="284.30" y1="144.60" x2="286.80" y2="144.60" stroke="#000" stroke-width="1.2" />
<line x1="284.30" y1="158.80" x2="286.80" y2="158.80" stroke="#000" stroke-width="1.2" />
<line x1="284.30" y1="173.40" x2="286.80" y2="173.40" stroke="#000" stroke-width="1.2" />
<line x1="284.30" y1="191.80" x2="286.80" y2="191.80" stroke="#000" stroke-width="1.2" />
<text x="279.00" y="146.68" font-size="5.8" fill="#1e1e1e" text-anchor="middle">10<tspan font-size="3.48" dy="-2.32">5</tspan></text>
<text x="279.00" y="160.88" font-size="5.8" fill="#1e1e1e" text-anchor="middle">10<tspan font-size="3.48" dy="-2.32">4</tspan></text>
<text x="279.00" y="175.48" font-size="5.8" fill="#1e1e1e" text-anchor="middle">10<tspan font-size="3.48" dy="-2.32">3</tspan></text>
<text x="281.00" y="193.88" font-size="5.8" fill="#1e1e1e" text-anchor="end" stroke="#1e1e1e" stroke-width="0.1">0</text>
<text x="282.20" y="204.20" font-size="5.3" fill="#1e1e1e" text-anchor="end" stroke="#1e1e1e" stroke-width="0.1">-320</text>
<line x1="300.00" y1="202.70" x2="300.00" y2="205.20" stroke="#000" stroke-width="1.2" />
<line x1="308.50" y1="202.70" x2="308.50" y2="205.20" stroke="#000" stroke-width="1.2" />
<line x1="324.60" y1="202.70" x2="324.60" y2="205.20" stroke="#000" stroke-width="1.2" />
<line x1="336.20" y1="202.70" x2="336.20" y2="205.20" stroke="#000" stroke-width="1.2" />
<text x="300.00" y="212.88" font-size="5.8" fill="#1e1e1e" text-anchor="middle" stroke="#1e1e1e" stroke-width="0.1">0</text>
<text x="308.50" y="212.88" font-size="5.8" fill="#1e1e1e" text-anchor="middle">10<tspan font-size="3.48" dy="-2.32">3</tspan></text>
<text x="324.60" y="212.88" font-size="5.8" fill="#1e1e1e" text-anchor="middle">10<tspan font-size="3.48" dy="-2.32">4</tspan></text>
<text x="336.20" y="212.88" font-size="5.8" fill="#1e1e1e" text-anchor="middle">10<tspan font-size="3.48" dy="-2.32">5</tspan></text>
<text x="295.40" y="217.90" font-size="5.3" fill="#1e1e1e" text-anchor="end" stroke="#1e1e1e" stroke-width="0.1">-1,638</text>
<text x="298.20" y="223.38" font-size="7.2" fill="#141414" text-anchor="start" textLength="35.6" lengthAdjust="spacingAndGlyphs" stroke="#141414" stroke-width="0.18">CD14 PE-Cy7-A</text>
<text transform="translate(267.60,170.20) rotate(-90)" x="0" y="2.58" font-size="7.2" fill="#141414" text-anchor="middle" textLength="28" lengthAdjust="spacingAndGlyphs" stroke="#141414" stroke-width="0.18">Cd15 FITC-A</text>
<path transform="scale(0.25)" d="M1539 568.5h3m53 0h3m-88 1h3m40 0h3m1 0h3m6 0h3m7 0h3m-17 1h3m-22 2h3m-10 1h3m16 1h3m18 0h3m-28 1h3m7 0h3m-30 1h3m39 0h3m21 0h3m-72 2h3m4 0h3m28 0h3m27 0h3m-65 1h3m12 0h3m-39 1h3m21 0h3m-11 2h3m0 0h3m25 0h3m-1 0h3m9 1h3m17 0h3m-79 1h3m50 0h3m9 0h3m-54 2h3m18 0h3m27 0h3m-80 1h3m9 0h3m23 0h3m12 0h3m9 0h3m-46 1h3m15 0h3m-2 0h3m-22 1h3m10 0h3m26 0h3m-11 1h3m-55 1h3m26 0h3m10 0h3m11 0h3m-24 1h3m8 0h3m7 1h3m-47 1h3m3 0h3m7 0h3m-1 0h3m14 0h3m4 0h3m-2 0h3m-19 1h3m2 0h3m0 0h3m-36 1h3m5 0h3m22 0h3m-30 1h3m11 0h3m-2 0h3m13 0h3m-1 0h3m5 0h3m4 0h3m-2 0h3m8 0h3m-81 1h3m16 0h3m3 0h3m-1 0h3m8 0h3m1 0h3m-2 0h3m21 0h3m-55 1h3m23 0h3m17 0h3m-33 1h3m14 0h3m21 0h3m20 0h3m-73 1h3m5 0h3m2 0h3m-24 1h3m13 0h3m12 0h3m1 0h3m4 0h3m-44 1h3m5 0h3m-2 0h3m21 0h3m6 0h3m16 0h3m-70 1h3m22 0h3m-2 0h3m4 0h3m-58 1h3m11 0h3m2 0h3m-1 0h3m3 0h3m24 0h3m0 0h3m5 0h3m27 0h3m-76 1h3m19 0h3m2 0h3m4 0h3m-7 1h3m9 0h3m7 0h3m-47 1h3m15 0h3m-2 0h3m0 0h3m-2 0h3m0 0h3m0 0h3m-2 0h3m12 0h3m-29 1h3m-2 0h3m0 0h3m3 0h3m-51 1h3m6 0h3m4 0h3m4 0h3m5 0h3m0 0h3m0 0h3m1 0h3m3 0h3m-2 0h3m-1 0h3m1 0h3m6 0h3m-64 1h3m-2 0h3m17 0h3m-1 0h3m13 0h3m1 0h3m28 0h3m-75 1h3m14 0h3m-2 0h3m4 0h3m4 0h3m1 0h3m29 0h3m-1 0h3m-68 1h3m4 0h3m2 0h3m-1 0h3m12 0h3m5 0h3m2 0h3m4 0h3m-50 1h3m1 0h3m-1 0h3m11 0h3m-1 0h3m-1 0h3m7 0h3m12 0h3m-2 0h3m15 0h3m21 0h3m-110 1h3m4 0h3m4 0h3m11 0h3m3 0h3m0 0h3m12 0h3m0 0h3m-1 0h3m9 0h3m19 0h3m-89 1h3m11 0h3m6 0h3m-2 0h3m0 0h3m2 0h3m-1 0h3m2 0h3m1 0h3m11 0h3m-54 1h3m2 0h3m9 0h3m6 0h3m4 0h3m-2 0h3m20 0h3m-37 1h3m1 0h3m-2 0h3m-1 0h3m2 0h3m5 0h3m2 0h3m0 0h3m3 0h3m-1 0h3m10 0h3m-68 1h3m12 0h3m0 0h3m0 0h3m-1 0h3m11 0h3m7 0h3m9 0h3m-2 0h3m-71 1h3m7 0h3m-2 0h3m7 0h3m0 0h3m3 0h3m8 0h3m34 0h3m-89 1h3m10 0h3m5 0h3m3 0h3m2 0h3m-2 0h3m4 0h3m-1 0h3m-1 0h3m-1 0h3m2 0h3m-2 0h3m3 0h3m4 0h3m-60 1h3m8 0h3m9 0h3m5 0h3m1 0h3m3 0h3m13 0h3m2 0h3m10 0h3m-101 1h3m19 0h3m5 0h3m13 0h3m-2 0h3m5 0h3m1 0h3m9 0h3m-67 1h3m17 0h3m0 0h3m3 0h3m12 0h3m-2 0h3m12 0h3m2 0h3m-2 0h3m6 0h3m8 0h3m-79 1h3m0 0h3m10 0h3m-1 0h3m-1 0h3m1 0h3m-1 0h3m8 0h3m4 0h3m-1 0h3m3 0h3m0 0h3m3 0h3m4 0h3m-70 1h3m7 0h3m6 0h3m2 0h3m3 0h3m1 0h3m11 0h3m0 0h3m2 0h3m-2 0h3m-59 1h3m3 0h3m2 0h3m2 0h3m-2 0h3m8 0h3m-1 0h3m17 0h3m16 0h3m4 0h3m2 0h3m-105 1h3m12 0h3m0 0h3m24 0h3m0 0h3m-2 0h3m2 0h3m1 0h3m-2 0h3m-1 0h3m-1 0h3m-2 0h3m4 0h3m3 0h3m11 0h3m0 0h3m10 0h3m-1 0h3m-106 1h3m9 0h3m14 0h3m-2 0h3m1 0h3m1 0h3m-2 0h3m18 0h3m0 0h3m0 0h3m14 0h3m2 0h3m-95 1h3m17 0h3m7 0h3m4 0h3m-1 0h3m0 0h3m-1 0h3m-2 0h3m10 0h3m-2 0h3m-2 0h3m4 0h3m-1 0h3m11 0h3m0 0h3m-79 1h3m11 0h3m21 0h3m0 0h3m2 0h3m0 0h3m-2 0h3m0 0h3m3 0h3m2 0h3m5 0h3m1 0h3m-87 1h3m-1 0h3m14 0h3m-2 0h3m6 0h3m0 0h3m3 0h3m2 0h3m3 0h3m-1 0h3m1 0h3m-1 0h3m-2 0h3m14 0h3m-68 1h3m18 0h3m-2 0h3m3 0h3m5 0h3m1 0h3m1 0h3m1 0h3m-1 0h3m-2 0h3m0 0h3m0 0h3m-2 0h3m0 0h3m21 0h3m-74 1h3m11 0h3m-1 0h3m-1 0h3m3 0h3m3 0h3m4 0h3m7 0h3m-1 0h3m3 0h3m10 0h3m14 0h3m-85 1h3m-2 0h3m-2 0h3m9 0h3m20 0h3m11 0h3m-47 1h3m-1 0h3m3 0h3m-2 0h3m0 0h3m-1 0h3m1 0h3m5 0h3m4 0h3m1 0h3m4 0h3m4 0h3m-89 1h3m19 0h3m-2 0h3m10 0h3m-2 0h3m3 0h3m-2 0h3m5 0h3m4 0h3m2 0h3m-1 0h3m-2 0h3m-1 0h3m5 0h3m20 0h3m-89 1h3m13 0h3m0 0h3m-1 0h3m18 0h3m-2 0h3m-1 0h3m2 0h3m0 0h3m1 0h3m-70 1h3m4 0h3m12 0h3m-1 0h3m5 0h3m1 0h3m4 0h3m0 0h3m1 0h3m7 0h3m-1 0h3m4 0h3m1 0h3m8 0h3m7 0h3m-79 1h3m4 0h3m11 0h3m-2 0h3m2 0h3m5 0h3m2 0h3m-1 0h3m-2 0h3m1 0h3m3 0h3m-1 0h3m1 0h3m19 0h3m4 0h3m-85 1h3m2 0h3m-2 0h3m-2 0h3m12 0h3m0 0h3m0 0h3m0 0h3m3 0h3m7 0h3m27 0h3m-96 1h3m10 0h3m-1 0h3m-2 0h3m8 0h3m2 0h3m8 0h3m11 0h3m27 0h3m-78 1h3m1 0h3m-2 0h3m1 0h3m1 0h3m-2 0h3m10 0h3m-2 0h3m20 0h3m22 0h3m-86 1h3m-1 0h3m1 0h3m6 0h3m11 0h3m0 0h3m1 0h3m9 0h3m-1 0h3m4 0h3m20 0h3m24 0h3m-115 1h3m5 0h3m-1 0h3m0 0h3m1 0h3m10 0h3m5 0h3m-1 0h3m3 0h3m-2 0h3m1 0h3m3 0h3m1 0h3m-73 1h3m10 0h3m1 0h3m3 0h3m2 0h3m2 0h3m2 0h3m5 0h3m0 0h3m0 0h3m4 0h3m-1 0h3m-2 0h3m20 0h3m-44 1h3m-2 0h3m-2 0h3m0 0h3m-1 0h3m3 0h3m-2 0h3m-1 0h3m0 0h3m8 0h3m3 0h3m-2 0h3m-74 1h3m-2 0h3m5 0h3m0 0h3m-2 0h3m3 0h3m2 0h3m2 0h3m7 0h3m-2 0h3m2 0h3m1 0h3m0 0h3m10 0h3m13 0h3m-1 0h3m-74 1h3m2 0h3m23 0h3m19 0h3m-78 1h3m7 0h3m7 0h3m-2 0h3m0 0h3m8 0h3m7 0h3m-2 0h3m10 0h3m2 0h3m5 0h3m-50 1h3m-2 0h3m1 0h3m5 0h3m6 0h3m2 0h3m-1 0h3m0 0h3m2 0h3m5 0h3m-2 0h3m0 0h3m4 0h3m13 0h3m-2 0h3m-85 1h3m6 0h3m-2 0h3m-1 0h3m28 0h3m-2 0h3m16 0h3m0 0h3m10 0h3m-80 1h3m5 0h3m7 0h3m0 0h3m-2 0h3m0 0h3m-2 0h3m0 0h3m2 0h3m-2 0h3m3 0h3m5 0h3m3 0h3m5 0h3m-66 1h3m-1 0h3m12 0h3m-2 0h3m-2 0h3m-1 0h3m3 0h3m-2 0h3m6 0h3m10 0h3m5 0h3m15 0h3m-84 1h3m15 0h3m0 0h3m-1 0h3m7 0h3m10 0h3m-1 0h3m3 0h3m0 0h3m5 0h3m-65 1h3m7 0h3m4 0h3m3 0h3m-2 0h3m11 0h3m8 0h3m1 0h3m-1 0h3m3 0h3m3 0h3m-60 1h3m8 0h3m4 0h3m1 0h3m0 0h3m5 0h3m-2 0h3m5 0h3m-1 0h3m-1 0h3m-65 1h3m-2 0h3m25 0h3m1 0h3m-2 0h3m-1 0h3m-1 0h3m5 0h3m-2 0h3m1 0h3m-2 0h3m2 0h3m1 0h3m17 0h3m1 0h3m-80 1h3m4 0h3m10 0h3m5 0h3m6 0h3m6 0h3m-1 0h3m-2 0h3m5 0h3m4 0h3m30 0h3m-97 1h3m0 0h3m0 0h3m-2 0h3m-2 0h3m7 0h3m1 0h3m0 0h3m0 0h3m0 0h3m0 0h3m12 0h3m-76 1h3m13 0h3m27 0h3m2 0h3m0 0h3m0 0h3m0 0h3m3 0h3m19 0h3m-89 1h3m27 0h3m3 0h3m-2 0h3m4 0h3m4 0h3m-2 0h3m4 0h3m-2 0h3m11 0h3m-70 1h3m17 0h3m3 0h3m-1 0h3m0 0h3m1 0h3m0 0h3m-1 0h3m2 0h3m-2 0h3m0 0h3m0 0h3m0 0h3m-1 0h3m9 0h3m-2 0h3m-68 1h3m0 0h3m4 0h3m18 0h3m6 0h3m2 0h3m1 0h3m1 0h3m1 0h3m1 0h3m0 0h3m1 0h3m4 0h3m13 0h3m-93 1h3m6 0h3m5 0h3m-1 0h3m5 0h3m4 0h3m2 0h3m-1 0h3m1 0h3m2 0h3m2 0h3m1 0h3m17 0h3m-91 1h3m-2 0h3m2 0h3m5 0h3m12 0h3m8 0h3m0 0h3m4 0h3m-1 0h3m-2 0h3m-1 0h3m1 0h3m-1 0h3m-2 0h3m5 0h3m10 0h3m-2 0h3m3 0h3m-72 1h3m-2 0h3m0 0h3m-2 0h3m1 0h3m6 0h3m0 0h3m8 0h3m4 0h3m4 0h3m10 0h3m-69 1h3m10 0h3m4 0h3m1 0h3m-1 0h3m-1 0h3m0 0h3m-2 0h3m-2 0h3m3 0h3m13 0h3m6 0h3m-89 1h3m0 0h3m6 0h3m17 0h3m3 0h3m1 0h3m4 0h3m4 0h3m-2 0h3m2 0h3m0 0h3m6 0h3m4 0h3m2 0h3m-64 1h3m2 0h3m12 0h3m7 0h3m5 0h3m5 0h3m-1 0h3m-2 0h3m-56 1h3m8 0h3m14 0h3m-2 0h3m-2 0h3m7 0h3m1 0h3m8 0h3m-1 0h3m-61 1h3m4 0h3m3 0h3m7 0h3m1 0h3m2 0h3m32 0h3m-86 1h3m12 0h3m10 0h3m1 0h3m1 0h3m1 0h3m3 0h3m-2 0h3m-1 0h3m3 0h3m6 0h3m3 0h3m2 0h3m-54 1h3m11 0h3m-1 0h3m3 0h3m5 0h3m-2 0h3m1 0h3m5 0h3m-2 0h3m-1 0h3m-2 0h3m-1 0h3m10 0h3m18 0h3m-93 1h3m5 0h3m3 0h3m0 0h3m1 0h3m1 0h3m1 0h3m0 0h3m1 0h3m4 0h3m4 0h3m-46 1h3m9 0h3m7 0h3m11 0h3m19 0h3m-73 1h3m14 0h3m-1 0h3m-1 0h3m6 0h3m-1 0h3m0 0h3m11 0h3m8 0h3m5 0h3m-84 1h3m-2 0h3m36 0h3m-2 0h3m1 0h3m2 0h3m2 0h3m-2 0h3m4 0h3m2 0h3m-2 0h3m-39 1h3m8 0h3m-2 0h3m10 0h3m0 0h3m-1 0h3m17 0h3m-2 0h3m-69 1h3m9 0h3m15 0h3m-2 0h3m8 0h3m-2 0h3m14 0h3m-77 1h3m-1 0h3m11 0h3m-2 0h3m16 0h3m2 0h3m13 0h3m-1 0h3m0 0h3m3 0h3m-2 0h3m6 0h3m-76 1h3m8 0h3m19 0h3m-2 0h3m4 0h3m16 0h3m-2 0h3m10 0h3m-66 1h3m15 0h3m3 0h3m1 0h3m5 0h3m-1 0h3m0 0h3m7 0h3m-1 0h3m2 0h3m11 0h3m-72 1h3m4 0h3m4 0h3m0 0h3m-2 0h3m3 0h3m1 0h3m2 0h3m4 0h3m13 0h3m27 0h3m-71 1h3m3 0h3m1 0h3m10 0h3m6 0h3m6 0h3m-81 1h3m-2 0h3m34 0h3m1 0h3m2 0h3m0 0h3m18 0h3m0 0h3m-40 1h3m4 0h3m-2 0h3m-2 0h3m0 0h3m1 0h3m9 0h3m5 0h3m-66 1h3m7 0h3m10 0h3m7 0h3m1 0h3m-2 0h3m18 0h3m-53 1h3m0 0h3m3 0h3m5 0h3m0 0h3m-1 0h3m1 0h3m-2 0h3m-2 0h3m10 0h3m-1 0h3m-1 0h3m6 0h3m8 0h3m-53 1h3m9 0h3m6 0h3m12 0h3m3 0h3m-74 1h3m14 0h3m-1 0h3m14 0h3m0 0h3m-1 0h3m-1 0h3m12 0h3m-2 0h3m-32 1h3m6 0h3m4 0h3m3 0h3m8 0h3m-1 0h3m1 0h3m-72 1h3m19 0h3m15 0h3m3 0h3m-2 0h3m-1 0h3m-1 0h3m-2 0h3m7 0h3m-51 1h3m1 0h3m8 0h3m5 0h3m4 0h3m16 0h3m1 0h3m-67 1h3m9 0h3m28 0h3m9 0h3m37 0h3m-95 1h3m20 0h3m16 0h3m1 0h3m1 0h3m0 0h3m0 0h3m-24 1h3m7 0h3m1 0h3m4 0h3m6 0h3m-73 1h3m3 0h3m1 0h3m21 0h3m10 0h3m-2 0h3m2 0h3m5 0h3m-60 1h3m21 0h3m1 0h3m-1 0h3m2 0h3m5 0h3m3 0h3m17 0h3m-44 1h3m17 0h3m40 0h3m-90 1h3m-1 0h3m16 0h3m5 0h3m-2 0h3m7 0h3m-1 0h3m7 0h3m22 0h3m-56 1h3m0 0h3m-2 0h3m-2 0h3m6 0h3m3 0h3m5 0h3m-54 1h3m1 0h3m32 0h3m11 0h3m-56 1h3m3 0h3m0 0h3m7 0h3m0 0h3m-1 0h3m7 0h3m-5 1h3m6 1h3m4 0h3m3 0h3m-69 1h3m43 1h3m4 0h3m14 0h3m-28 1h3m-23 1h3m-2 0h3m66 0h3m-86 1h3m23 0h3m15 0h3m2 0h3m24 0h3m-39 1h3m-27 1h3m1 0h3m24 0h3m0 0h3m1 0h3m7 0h3m-65 1h3m20 0h3m15 0h3m-18 1h3m2 0h3m-15 1h3m16 0h3m-2 1h3m10 0h3m-20 1h3m12 0h3m-36 1h3m-7 1h3m2 0h3m15 0h3m-1 0h3m3 0h3m-20 1h3m-10 1h3m16 1h3m18 1h3m-81 1h3m49 0h3m2 0h3m-57 1h3m35 0h3m-7 1h3m7 0h3m2 0h3m-9 3h3m-17 1h3m13 0h3m-1 1h3m0 0h3m30 0h3m-65 1h3m0 0h3m3 0h3m13 1h3m-27 2h3m26 0h3m-18 5h3m-12 2h3m-12 1h3m52 0h3m-35 3h3m23 1h3m-11 2h3m27 0h3m-23 1h3m2 0h3m-40 6h3m3 0h3m-9 3h3m-7 7h3" stroke="#30d030" stroke-width="3" opacity="0.65" fill="none"/>
<path transform="scale(0.25)" d="M1555 653.5h3m-48 15h3m6 1h3m10 4h3m5 0h3m8 0h3m-22 1h3m0 0h3m-3 2h3m-15 3h3m14 0h3m2 0h3m-8 1h3m-37 2h3m14 0h3m2 0h3m20 0h3m42 0h3m-90 3h3m23 0h3m42 0h3m-37 2h3m17 0h3m11 0h3m-58 1h3m10 0h3m2 0h3m-30 2h3m8 0h3m43 0h3m-57 2h3m3 0h3m1 0h3m30 1h3m0 0h3m-56 1h3m2 0h3m22 0h3m7 0h3m0 0h3m-51 1h3m16 0h3m5 0h3m3 0h3m1 0h3m10 0h3m-21 1h3m4 0h3m6 0h3m10 0h3m-70 1h3m37 0h3m-2 0h3m-1 0h3m-1 0h3m4 0h3m1 0h3m5 0h3m-64 1h3m4 0h3m6 0h3m-1 0h3m11 0h3m2 0h3m2 0h3m3 0h3m-19 1h3m3 0h3m2 0h3m-24 1h3m14 0h3m-2 0h3m5 0h3m-38 1h3m10 0h3m-2 0h3m-2 0h3m9 0h3m-35 1h3m11 0h3m0 0h3m3 0h3m-2 0h3m12 0h3m6 0h3m-35 1h3m4 0h3m7 0h3m11 0h3m-44 1h3m4 0h3m10 0h3m12 0h3m-2 0h3m5 0h3m-44 1h3m-1 0h3m5 0h3m-1 0h3m0 0h3m-2 0h3m-1 0h3m4 0h3m4 0h3m5 0h3m7 0h3m0 0h3m-39 1h3m0 0h3m6 0h3m2 0h3m4 0h3m-56 1h3m13 0h3m-2 0h3m3 0h3m9 0h3m8 0h3m15 0h3m-77 1h3m2 0h3m3 0h3m2 0h3m8 0h3m-1 0h3m-2 0h3m15 0h3m9 0h3m-27 1h3m0 0h3m-2 0h3m-2 0h3m6 0h3m-2 0h3m7 0h3m4 0h3m11 0h3m-64 1h3m3 0h3m5 0h3m1 0h3m2 0h3m-2 0h3m31 0h3m-76 1h3m9 0h3m5 0h3m7 0h3m-1 0h3m2 0h3m4 0h3m1 0h3m19 0h3m-58 1h3m7 0h3m14 0h3m0 0h3m0 0h3m-1 0h3m-49 1h3m17 0h3m4 0h3m-2 0h3m7 0h3m0 0h3m13 0h3m3 0h3m-2 0h3m-53 1h3m3 0h3m-1 0h3m0 0h3m0 0h3m-2 0h3m3 0h3m-2 0h3m2 0h3m-2 0h3m0 0h3m0 0h3m-2 0h3m2 0h3m11 0h3m-64 1h3m14 0h3m8 0h3m-2 0h3m3 0h3m1 0h3m3 0h3m3 0h3m5 0h3m14 0h3m-66 1h3m25 0h3m15 0h3m-2 0h3m1 0h3m10 0h3m-87 1h3m7 0h3m1 0h3m-2 0h3m17 0h3m-2 0h3m6 0h3m2 0h3m-2 0h3m-1 0h3m1 0h3m-1 0h3m1 0h3m-1 0h3m11 0h3m-75 1h3m0 0h3m8 0h3m0 0h3m-1 0h3m-2 0h3m-1 0h3m10 0h3m26 0h3m-72 1h3m-1 0h3m1 0h3m2 0h3m2 0h3m3 0h3m12 0h3m-2 0h3m1 0h3m3 0h3m-2 0h3m-1 0h3m7 0h3m0 0h3m-61 1h3m0 0h3m1 0h3m6 0h3m8 0h3m1 0h3m-1 0h3m2 0h3m4 0h3m-50 1h3m1 0h3m-2 0h3m15 0h3m0 0h3m6 0h3m-1 0h3m-2 0h3m16 0h3m-1 0h3m2 0h3m-71 1h3m1 0h3m1 0h3m11 0h3m-2 0h3m2 0h3m9 0h3m-1 0h3m-1 0h3m3 0h3m3 0h3m0 0h3m-67 1h3m2 0h3m0 0h3m-1 0h3m0 0h3m6 0h3m0 0h3m-2 0h3m10 0h3m7 0h3m-1 0h3m11 0h3m13 0h3m-90 1h3m4 0h3m2 0h3m1 0h3m11 0h3m-1 0h3m5 0h3m0 0h3m-1 0h3m-1 0h3m-2 0h3m1 0h3m0 0h3m-2 0h3m2 0h3m-1 0h3m-2 0h3m10 0h3m10 0h3m-71 1h3m3 0h3m3 0h3m3 0h3m0 0h3m-2 0h3m-1 0h3m-1 0h3m0 0h3m6 0h3m3 0h3m8 0h3m5 0h3m-83 1h3m13 0h3m3 0h3m17 0h3m0 0h3m24 0h3m-71 1h3m7 0h3m-2 0h3m6 0h3m-1 0h3m2 0h3m2 0h3m-2 0h3m-2 0h3m0 0h3m2 0h3m5 0h3m1 0h3m-1 0h3m-2 0h3m26 0h3m2 0h3m10 0h3m-110 1h3m15 0h3m-2 0h3m-1 0h3m-2 0h3m-1 0h3m-2 0h3m0 0h3m-2 0h3m0 0h3m-2 0h3m-2 0h3m-2 0h3m-1 0h3m-2 0h3m-2 0h3m3 0h3m1 0h3m35 0h3m-92 1h3m1 0h3m10 0h3m-1 0h3m1 0h3m1 0h3m-2 0h3m2 0h3m-2 0h3m-2 0h3m-2 0h3m-1 0h3m0 0h3m1 0h3m-1 0h3m2 0h3m0 0h3m-2 0h3m-2 0h3m5 0h3m-66 1h3m-2 0h3m0 0h3m-1 0h3m-1 0h3m2 0h3m3 0h3m-2 0h3m2 0h3m0 0h3m0 0h3m2 0h3m-2 0h3m-2 0h3m-2 0h3m-2 0h3m0 0h3m-2 0h3m-2 0h3m1 0h3m7 0h3m2 0h3m16 0h3m25 0h3m-110 1h3m-2 0h3m3 0h3m-1 0h3m-2 0h3m-2 0h3m8 0h3m-2 0h3m0 0h3m-2 0h3m2 0h3m0 0h3m-2 0h3m-2 0h3m13 0h3m-1 0h3m-1 0h3m1 0h3m2 0h3m21 0h3m-104 1h3m0 0h3m10 0h3m0 0h3m-2 0h3m2 0h3m-2 0h3m0 0h3m1 0h3m0 0h3m-1 0h3m0 0h3m-1 0h3m0 0h3m0 0h3m-2 0h3m-2 0h3m3 0h3m12 0h3m-66 1h3m1 0h3m1 0h3m0 0h3m-2 0h3m-2 0h3m6 0h3m0 0h3m-1 0h3m-1 0h3m3 0h3m-2 0h3m-1 0h3m-2 0h3m-2 0h3m0 0h3m-1 0h3m2 0h3m5 0h3m1 0h3m-2 0h3m-71 1h3m5 0h3m13 0h3m3 0h3m4 0h3m13 0h3m0 0h3m0 0h3m-1 0h3m-1 0h3m25 0h3m2 0h3m-86 1h3m5 0h3m-2 0h3m0 0h3m-1 0h3m0 0h3m0 0h3m-2 0h3m3 0h3m0 0h3m-2 0h3m1 0h3m-2 0h3m-1 0h3m-2 0h3m-2 0h3m2 0h3m1 0h3m1 0h3m7 0h3m3 0h3m-90 1h3m10 0h3m-2 0h3m1 0h3m-1 0h3m-1 0h3m2 0h3m1 0h3m-1 0h3m-2 0h3m1 0h3m1 0h3m-1 0h3m-2 0h3m0 0h3m1 0h3m-2 0h3m-1 0h3m-2 0h3m-1 0h3m0 0h3m1 0h3m1 0h3m0 0h3m-66 1h3m6 0h3m0 0h3m3 0h3m1 0h3m4 0h3m3 0h3m-2 0h3m0 0h3m-2 0h3m-2 0h3m-2 0h3m1 0h3m-1 0h3m3 0h3m3 0h3m0 0h3m13 0h3m-88 1h3m1 0h3m0 0h3m4 0h3m10 0h3m6 0h3m3 0h3m-2 0h3m-2 0h3m-2 0h3m-2 0h3m-2 0h3m2 0h3m1 0h3m1 0h3m9 0h3m5 0h3m-78 1h3m0 0h3m6 0h3m-1 0h3m4 0h3m-2 0h3m1 0h3m-2 0h3m-1 0h3m0 0h3m-1 0h3m1 0h3m-2 0h3m2 0h3m0 0h3m12 0h3m15 0h3m-88 1h3m7 0h3m14 0h3m3 0h3m0 0h3m-2 0h3m-2 0h3m1 0h3m0 0h3m0 0h3m2 0h3m5 0h3m2 0h3m2 0h3m3 0h3m5 0h3m-82 1h3m2 0h3m1 0h3m4 0h3m0 0h3m1 0h3m3 0h3m-2 0h3m0 0h3m-1 0h3m3 0h3m-1 0h3m-2 0h3m-1 0h3m0 0h3m4 0h3m-2 0h3m3 0h3m-71 1h3m-2 0h3m0 0h3m2 0h3m2 0h3m-2 0h3m1 0h3m2 0h3m1 0h3m-2 0h3m2 0h3m0 0h3m0 0h3m-1 0h3m3 0h3m-1 0h3m-2 0h3m-1 0h3m-1 0h3m14 0h3m-75 1h3m2 0h3m-1 0h3m-1 0h3m7 0h3m-2 0h3m4 0h3m-1 0h3m4 0h3m-2 0h3m-1 0h3m3 0h3m0 0h3m7 0h3m12 0h3m4 0h3m-82 1h3m7 0h3m0 0h3m4 0h3m8 0h3m1 0h3m-2 0h3m7 0h3m-1 0h3m-2 0h3m-1 0h3m3 0h3m24 0h3m-84 1h3m10 0h3m0 0h3m3 0h3m-2 0h3m-2 0h3m2 0h3m0 0h3m-2 0h3m0 0h3m5 0h3m-1 0h3m-2 0h3m4 0h3m3 0h3m-2 0h3m0 0h3m1 0h3m-2 0h3m6 0h3m13 0h3m-97 1h3m15 0h3m-2 0h3m2 0h3m-1 0h3m-2 0h3m-2 0h3m-2 0h3m1 0h3m-2 0h3m2 0h3m2 0h3m-2 0h3m-1 0h3m0 0h3m2 0h3m-2 0h3m-2 0h3m11 0h3m7 0h3m-70 1h3m-1 0h3m2 0h3m1 0h3m-1 0h3m2 0h3m-1 0h3m1 0h3m1 0h3m0 0h3m-2 0h3m-1 0h3m-1 0h3m0 0h3m4 0h3m2 0h3m1 0h3m-67 1h3m-2 0h3m4 0h3m-1 0h3m1 0h3m-1 0h3m0 0h3m-2 0h3m2 0h3m0 0h3m-1 0h3m-2 0h3m0 0h3m0 0h3m-2 0h3m-1 0h3m-1 0h3m-1 0h3m-1 0h3m0 0h3m3 0h3m1 0h3m0 0h3m-1 0h3m-1 0h3m6 0h3m-80 1h3m4 0h3m1 0h3m-1 0h3m0 0h3m1 0h3m7 0h3m-1 0h3m16 0h3m0 0h3m-1 0h3m2 0h3m9 0h3m-76 1h3m9 0h3m1 0h3m0 0h3m3 0h3m0 0h3m0 0h3m-2 0h3m2 0h3m-1 0h3m-1 0h3m2 0h3m7 0h3m-54 1h3m-1 0h3m-2 0h3m-2 0h3m1 0h3m0 0h3m-1 0h3m2 0h3m0 0h3m3 0h3m-2 0h3m0 0h3m-2 0h3m0 0h3m-1 0h3m-2 0h3m1 0h3m3 0h3m4 0h3m3 0h3m-80 1h3m27 0h3m-2 0h3m5 0h3m-1 0h3m-1 0h3m-2 0h3m-2 0h3m0 0h3m-1 0h3m-2 0h3m2 0h3m2 0h3m-2 0h3m-2 0h3m1 0h3m15 0h3m9 0h3m-80 1h3m7 0h3m4 0h3m-2 0h3m-1 0h3m-2 0h3m-1 0h3m-2 0h3m4 0h3m-2 0h3m12 0h3m3 0h3m0 0h3m0 0h3m1 0h3m-84 1h3m6 0h3m8 0h3m0 0h3m0 0h3m-2 0h3m-2 0h3m0 0h3m-2 0h3m-2 0h3m8 0h3m-1 0h3m0 0h3m-1 0h3m-2 0h3m0 0h3m-2 0h3m-2 0h3m3 0h3m-1 0h3m-2 0h3m-68 1h3m7 0h3m2 0h3m5 0h3m0 0h3m-1 0h3m-1 0h3m-1 0h3m-2 0h3m-2 0h3m-1 0h3m-2 0h3m6 0h3m0 0h3m0 0h3m-2 0h3m2 0h3m-56 1h3m-2 0h3m7 0h3m-1 0h3m-1 0h3m4 0h3m-1 0h3m0 0h3m-2 0h3m1 0h3m-1 0h3m-2 0h3m-2 0h3m-2 0h3m0 0h3m-2 0h3m1 0h3m0 0h3m-1 0h3m-1 0h3m0 0h3m-2 0h3m0 0h3m0 0h3m25 0h3m-99 1h3m16 0h3m6 0h3m0 0h3m-1 0h3m11 0h3m4 0h3m-2 0h3m-1 0h3m-2 0h3m-2 0h3m6 0h3m-61 1h3m-2 0h3m1 0h3m4 0h3m1 0h3m4 0h3m-2 0h3m0 0h3m0 0h3m-1 0h3m-2 0h3m0 0h3m0 0h3m0 0h3m1 0h3m1 0h3m-2 0h3m12 0h3m-76 1h3m1 0h3m-1 0h3m2 0h3m2 0h3m4 0h3m-2 0h3m1 0h3m1 0h3m1 0h3m-1 0h3m0 0h3m-2 0h3m8 0h3m7 0h3m4 0h3m-74 1h3m0 0h3m5 0h3m-2 0h3m-1 0h3m0 0h3m0 0h3m5 0h3m-1 0h3m-1 0h3m0 0h3m0 0h3m-1 0h3m9 0h3m17 0h3m-76 1h3m10 0h3m9 0h3m0 0h3m0 0h3m4 0h3m4 0h3m0 0h3m0 0h3m2 0h3m0 0h3m2 0h3m6 0h3m3 0h3m-69 1h3m6 0h3m1 0h3m-2 0h3m4 0h3m14 0h3m-31 1h3m2 0h3m1 0h3m-2 0h3m-2 0h3m-2 0h3m1 0h3m-2 0h3m5 0h3m-2 0h3m14 0h3m0 0h3m0 0h3m0 0h3m-70 1h3m-1 0h3m2 0h3m-2 0h3m10 0h3m2 0h3m0 0h3m11 0h3m-1 0h3m-2 0h3m0 0h3m25 0h3m-63 1h3m1 0h3m-1 0h3m0 0h3m8 0h3m9 0h3m0 0h3m0 0h3m1 0h3m7 0h3m-77 1h3m16 0h3m-2 0h3m0 0h3m4 0h3m0 0h3m2 0h3m8 0h3m8 0h3m0 0h3m6 0h3m-79 1h3m-2 0h3m7 0h3m-2 0h3m-1 0h3m5 0h3m25 0h3m-2 0h3m4 0h3m-2 0h3m0 0h3m-1 0h3m2 0h3m-52 1h3m-1 0h3m3 0h3m5 0h3m5 0h3m0 0h3m3 0h3m-2 0h3m6 0h3m4 0h3m0 0h3m14 0h3m-74 1h3m5 0h3m4 0h3m7 0h3m-1 0h3m-2 0h3m-1 0h3m14 0h3m-63 1h3m1 0h3m6 0h3m0 0h3m-2 0h3m16 0h3m-1 0h3m2 0h3m-1 0h3m3 0h3m-2 0h3m0 0h3m5 0h3m-65 1h3m12 0h3m4 0h3m-2 0h3m7 0h3m-1 0h3m-1 0h3m8 0h3m2 0h3m14 0h3m14 0h3m-59 1h3m-1 0h3m2 0h3m1 0h3m-2 0h3m6 0h3m14 0h3m-56 1h3m-2 0h3m2 0h3m0 0h3m0 0h3m2 0h3m4 0h3m2 0h3m14 0h3m-66 1h3m4 0h3m0 0h3m3 0h3m1 0h3m10 0h3m5 0h3m0 0h3m3 0h3m-52 1h3m11 0h3m-2 0h3m1 0h3m11 0h3m-1 0h3m2 0h3m1 0h3m7 0h3m-2 0h3m1 0h3m1 0h3m8 0h3m-72 1h3m0 0h3m7 0h3m-1 0h3m-2 0h3m0 0h3m-2 0h3m0 0h3m0 0h3m12 0h3m0 0h3m3 0h3m-55 1h3m4 0h3m9 0h3m3 0h3m-2 0h3m2 0h3m3 0h3m-1 0h3m0 0h3m-2 0h3m10 0h3m3 0h3m-50 1h3m-1 0h3m15 0h3m-2 0h3m-1 0h3m14 0h3m12 0h3m2 0h3m-64 1h3m4 0h3m5 0h3m2 0h3m11 0h3m-46 1h3m10 0h3m4 0h3m-2 0h3m14 0h3m4 0h3m-1 0h3m9 0h3m-56 1h3m-2 0h3m1 0h3m6 0h3m-2 0h3m0 0h3m5 0h3m2 0h3m6 0h3m-44 1h3m1 0h3m0 0h3m3 0h3m11 0h3m19 0h3m-60 1h3m4 0h3m4 0h3m0 0h3m3 0h3m-1 0h3m-25 1h3m18 0h3m4 0h3m-2 0h3m5 0h3m4 0h3m-52 1h3m45 0h3m-41 1h3m11 0h3m15 0h3m1 0h3m-1 0h3m7 0h3m-59 1h3m8 0h3m23 0h3m-2 0h3m11 0h3m4 0h3m-64 1h3m27 0h3m28 0h3m-2 0h3m-32 1h3m7 0h3m1 0h3m-22 1h3m1 0h3m17 0h3m-57 1h3m46 0h3m-55 1h3m7 0h3m11 0h3m-5 1h3m8 0h3m8 0h3m25 0h3m-76 1h3m24 0h3m24 1h3m-31 1h3m0 0h3m-12 1h3m11 0h3m-2 0h3m15 0h3m-45 1h3m15 0h3m6 0h3m6 0h3m8 0h3m3 0h3m-61 1h3m39 0h3m21 0h3m-52 1h3m9 1h3m13 0h3" stroke="#10d810" stroke-width="3" opacity="0.85" fill="none"/>
<ellipse cx="385.50" cy="184.50" rx="7.00" ry="8.00" fill="#20dd20" opacity="0.7" transform="rotate(0 385.50 184.50)" filter="url(#b1)"/>
<ellipse cx="388.00" cy="162.50" rx="6.00" ry="9.00" fill="#40d840" opacity="0.45" transform="rotate(0 388.00 162.50)" filter="url(#b1)"/>
<rect x="373.20" y="138.60" width="53.60" height="63.30" fill="none" stroke="#1a1a1a" stroke-width="1.7" />
<line x1="400.00" y1="138.60" x2="400.00" y2="201.90" stroke="#888" stroke-width="1.7" />
<line x1="373.20" y1="175.40" x2="426.80" y2="175.40" stroke="#888" stroke-width="1.7" />
<path d="M370.80 139.60h1.6M370.80 141.64h1.6M370.80 143.69h1.6M370.80 145.73h1.6M370.80 147.77h1.6M370.80 149.82h1.6M370.80 151.86h1.6M370.80 153.90h1.6M370.80 155.95h1.6M370.80 157.99h1.6M370.80 160.03h1.6M370.80 162.08h1.6M370.80 164.12h1.6M370.80 166.16h1.6M370.80 168.21h1.6M370.80 170.25h1.6M370.80 172.29h1.6M370.80 174.34h1.6M370.80 176.38h1.6M370.80 178.42h1.6M370.80 180.47h1.6M370.80 182.51h1.6M370.80 184.55h1.6M370.80 186.60h1.6M370.80 188.64h1.6M370.80 190.68h1.6M370.80 192.73h1.6M370.80 194.77h1.6M370.80 196.81h1.6M370.80 198.86h1.6M370.80 200.90h1.6" stroke="#000" stroke-width="0.6"/>
<path d="M374.20 202.70v1.6M376.35 202.70v1.6M378.50 202.70v1.6M380.65 202.70v1.6M382.80 202.70v1.6M384.95 202.70v1.6M387.10 202.70v1.6M389.25 202.70v1.6M391.40 202.70v1.6M393.55 202.70v1.6M395.70 202.70v1.6M397.85 202.70v1.6M400.00 202.70v1.6M402.15 202.70v1.6M404.30 202.70v1.6M406.45 202.70v1.6M408.60 202.70v1.6M410.75 202.70v1.6M412.90 202.70v1.6M415.05 202.70v1.6M417.20 202.70v1.6M419.35 202.70v1.6M421.50 202.70v1.6M423.65 202.70v1.6M425.80 202.70v1.6" stroke="#000" stroke-width="0.6"/>
<text x="385.30" y="165.95" font-size="6" fill="#1e1e1e" text-anchor="middle" stroke="#1e1e1e" stroke-width="0.15">Q1-1</text>
<text x="417.50" y="166.55" font-size="6" fill="#1e1e1e" text-anchor="middle" stroke="#1e1e1e" stroke-width="0.15">Q2-1</text>
<text x="385.30" y="189.75" font-size="6" fill="#1e1e1e" text-anchor="middle" stroke="#1e1e1e" stroke-width="0.15">Q3-1</text>
<text x="417.50" y="189.75" font-size="6" fill="#1e1e1e" text-anchor="middle" stroke="#1e1e1e" stroke-width="0.15">Q4-1</text>
<text x="416.30" y="200.12" font-size="9" fill="#c8303a" text-anchor="start">0</text>
<line x1="369.90" y1="142.00" x2="372.40" y2="142.00" stroke="#000" stroke-width="1.2" />
<line x1="369.90" y1="153.80" x2="372.40" y2="153.80" stroke="#000" stroke-width="1.2" />
<line x1="369.90" y1="165.60" x2="372.40" y2="165.60" stroke="#000" stroke-width="1.2" />
<line x1="369.90" y1="177.40" x2="372.40" y2="177.40" stroke="#000" stroke-width="1.2" />
<line x1="369.90" y1="189.20" x2="372.40" y2="189.20" stroke="#000" stroke-width="1.2" />
<text x="368.00" y="144.08" font-size="5.8" fill="#1e1e1e" text-anchor="end" stroke="#1e1e1e" stroke-width="0.1">250</text>
<text x="368.00" y="155.88" font-size="5.8" fill="#1e1e1e" text-anchor="end" stroke="#1e1e1e" stroke-width="0.1">200</text>
<text x="368.00" y="167.68" font-size="5.8" fill="#1e1e1e" text-anchor="end" stroke="#1e1e1e" stroke-width="0.1">150</text>
<text x="368.00" y="179.48" font-size="5.8" fill="#1e1e1e" text-anchor="end" stroke="#1e1e1e" stroke-width="0.1">100</text>
<text x="368.00" y="191.28" font-size="5.8" fill="#1e1e1e" text-anchor="end" stroke="#1e1e1e" stroke-width="0.1">50</text>
<line x1="382.30" y1="202.70" x2="382.30" y2="205.20" stroke="#000" stroke-width="1.2" />
<line x1="396.90" y1="202.70" x2="396.90" y2="205.20" stroke="#000" stroke-width="1.2" />
<line x1="410.00" y1="202.70" x2="410.00" y2="205.20" stroke="#000" stroke-width="1.2" />
<line x1="421.50" y1="202.70" x2="421.50" y2="205.20" stroke="#000" stroke-width="1.2" />
<text x="382.30" y="212.88" font-size="5.8" fill="#1e1e1e" text-anchor="middle" stroke="#1e1e1e" stroke-width="0.1">0</text>
<text x="396.90" y="212.88" font-size="5.8" fill="#1e1e1e" text-anchor="middle">10<tspan font-size="3.48" dy="-2.32">3</tspan></text>
<text x="410.00" y="212.88" font-size="5.8" fill="#1e1e1e" text-anchor="middle">10<tspan font-size="3.48" dy="-2.32">4</tspan></text>
<text x="421.50" y="212.88" font-size="5.8" fill="#1e1e1e" text-anchor="middle">10<tspan font-size="3.48" dy="-2.32">5</tspan></text>
<text x="378.20" y="217.90" font-size="5.3" fill="#1e1e1e" text-anchor="end" stroke="#1e1e1e" stroke-width="0.1">-671</text>
<text x="387.40" y="223.38" font-size="7.2" fill="#141414" text-anchor="start" textLength="26.8" lengthAdjust="spacingAndGlyphs" stroke="#141414" stroke-width="0.18">CD3 FITC-A</text>
<text transform="translate(352.90,169.80) rotate(-90)" x="0" y="2.94" font-size="8.2" fill="#141414" text-anchor="middle" textLength="14" lengthAdjust="spacingAndGlyphs" stroke="#141414" stroke-width="0.2">SSC-A</text>
<text transform="translate(352.60,150.60) rotate(-90)" x="0" y="1.86" font-size="5.2" fill="#1e1e1e" text-anchor="middle" textLength="23.5" lengthAdjust="spacingAndGlyphs" stroke="#1e1e1e" stroke-width="0.1">(x 1,000)</text>
<path transform="scale(0.25)" d="M1884 565.5h3m10 5h3m-5 3h3m6 4h3m-29 4h3m18 1h3m-12 2h3m-20 1h3m18 0h3m12 1h3m-41 4h3m13 0h3m28 0h3m21 1h3m-70 1h3m24 0h3m23 0h3m-55 1h3m8 0h3m12 0h3m-63 1h3m23 0h3m7 0h3m8 0h3m11 0h3m10 0h3m-43 1h3m-1 0h3m-2 0h3m-2 0h3m74 0h3m-70 1h3m-33 2h3m13 0h3m12 0h3m24 0h3m-22 1h3m-28 1h3m33 0h3m-43 1h3m22 0h3m2 0h3m-52 1h3m42 0h3m-48 1h3m17 0h3m54 0h3m-80 1h3m24 0h3m21 0h3m4 0h3m-70 1h3m5 0h3m7 0h3m13 0h3m-2 0h3m14 0h3m-15 1h3m16 0h3m41 0h3m-103 1h3m12 0h3m-2 0h3m5 0h3m7 0h3m14 0h3m2 0h3m16 1h3m32 0h3m-90 1h3m3 0h3m0 0h3m23 0h3m-37 1h3m8 0h3m-2 1h3m16 0h3m-29 1h3m14 0h3m25 1h3m6 0h3m-2 0h3m-32 1h3m12 0h3m-51 1h3m5 0h3m-2 0h3m18 0h3m6 0h3m6 0h3m0 0h3m-22 1h3m16 0h3m-57 1h3m7 0h3m2 0h3m73 0h3m-69 1h3m1 0h3m25 0h3m-46 1h3m17 0h3m-2 0h3m-45 1h3m12 0h3m6 0h3m-10 1h3m8 0h3m17 0h3m1 0h3m-2 0h3m-2 0h3m-2 0h3m8 0h3m14 0h3m-94 1h3m1 0h3m5 0h3m5 0h3m5 0h3m11 0h3m8 0h3m-40 1h3m5 0h3m7 0h3m9 0h3m-2 0h3m34 0h3m-89 1h3m44 0h3m8 0h3m5 0h3m3 0h3m-70 1h3m7 0h3m0 0h3m1 0h3m5 0h3m0 0h3m8 0h3m0 0h3m9 0h3m-54 1h3m9 0h3m2 0h3m0 0h3m7 0h3m-2 0h3m23 0h3m2 0h3m-72 1h3m21 0h3m2 0h3m30 0h3m1 0h3m1 0h3m-58 1h3m13 0h3m24 0h3m-38 1h3m8 0h3m24 0h3m22 0h3m-83 1h3m22 0h3m33 0h3m-63 1h3m-1 0h3m15 0h3m6 0h3m-2 0h3m4 0h3m-53 1h3m13 0h3m5 1h3m19 0h3m1 0h3m30 0h3m10 0h3m-96 1h3m35 0h3m1 0h3m-4 1h3m18 0h3m-2 0h3m2 0h3m3 0h3m3 0h3m-74 1h3m11 0h3m-2 0h3m7 0h3m-2 0h3m6 0h3m3 0h3m-1 0h3m9 0h3m4 0h3m-67 1h3m21 0h3m6 0h3m10 0h3m1 0h3m-2 0h3m-2 0h3m-41 1h3m-1 0h3m13 0h3m4 0h3m18 0h3m8 0h3m-67 1h3m16 0h3m9 0h3m4 0h3m43 0h3m-90 1h3m4 0h3m-1 0h3m5 0h3m-1 0h3m27 0h3m-2 0h3m11 0h3m10 0h3m-97 1h3m0 0h3m19 0h3m2 0h3m5 0h3m1 0h3m5 0h3m0 0h3m60 0h3m3 0h3m-121 1h3m2 0h3m2 0h3m3 0h3m7 0h3m-1 0h3m6 0h3m16 0h3m5 0h3m0 0h3m2 0h3m8 0h3m-73 1h3m13 0h3m1 0h3m1 0h3m8 0h3m30 0h3m0 0h3m-90 1h3m7 0h3m1 0h3m0 0h3m2 0h3m12 0h3m2 0h3m2 0h3m10 0h3m5 0h3m2 0h3m-2 0h3m-80 1h3m18 0h3m7 0h3m0 0h3m-1 0h3m1 0h3m5 0h3m10 0h3m-1 0h3m13 0h3m-85 1h3m6 0h3m10 0h3m7 0h3m-2 0h3m7 0h3m0 0h3m2 0h3m2 0h3m5 0h3m30 0h3m-87 1h3m25 0h3m-2 0h3m0 0h3m6 0h3m-2 0h3m5 0h3m3 0h3m42 0h3m-120 1h3m23 0h3m3 0h3m9 0h3m4 0h3m1 0h3m17 0h3m0 0h3m13 0h3m-68 1h3m2 0h3m-2 0h3m-2 0h3m-1 0h3m6 0h3m-2 0h3m-2 0h3m9 0h3m1 0h3m0 0h3m-1 0h3m0 0h3m1 0h3m6 0h3m2 0h3m1 0h3m-1 0h3m-69 1h3m23 0h3m1 0h3m0 0h3m5 0h3m-1 0h3m9 0h3m-66 1h3m4 0h3m10 0h3m3 0h3m2 0h3m4 0h3m-1 0h3m4 0h3m0 0h3m31 0h3m-79 1h3m7 0h3m2 0h3m9 0h3m-2 0h3m-1 0h3m16 0h3m10 0h3m5 0h3m-85 1h3m0 0h3m-1 0h3m-1 0h3m5 0h3m25 0h3m21 0h3m5 0h3m-80 1h3m1 0h3m21 0h3m11 0h3m0 0h3m20 0h3m14 0h3m-2 0h3m-86 1h3m18 0h3m0 0h3m11 0h3m4 0h3m12 0h3m-2 0h3m27 0h3m-74 1h3m2 0h3m4 0h3m12 0h3m2 0h3m26 0h3m-2 0h3m-81 1h3m-1 0h3m-2 0h3m-2 0h3m8 0h3m5 0h3m-2 0h3m1 0h3m-2 0h3m-2 0h3m1 0h3m-2 0h3m-2 0h3m-2 0h3m4 0h3m0 0h3m2 0h3m-2 0h3m6 0h3m-71 1h3m5 0h3m4 0h3m8 0h3m5 0h3m-1 0h3m-1 0h3m1 0h3m7 0h3m8 0h3m-84 1h3m15 0h3m6 0h3m14 0h3m2 0h3m1 0h3m1 0h3m5 0h3m3 0h3m15 0h3m25 0h3m-100 1h3m2 0h3m5 0h3m5 0h3m0 0h3m-1 0h3m8 0h3m6 0h3m-1 0h3m9 0h3m2 0h3m8 0h3m-100 1h3m6 0h3m-2 0h3m1 0h3m9 0h3m1 0h3m7 0h3m-2 0h3m0 0h3m-1 0h3m-1 0h3m-1 0h3m3 0h3m16 0h3m20 0h3m-87 1h3m11 0h3m-2 0h3m-2 0h3m12 0h3m-2 0h3m4 0h3m-1 0h3m-1 0h3m-1 0h3m0 0h3m11 0h3m3 0h3m4 0h3m-70 1h3m5 0h3m8 0h3m3 0h3m1 0h3m-1 0h3m4 0h3m3 0h3m-2 0h3m-1 0h3m28 0h3m0 0h3m-77 1h3m9 0h3m6 0h3m4 0h3m2 0h3m-1 0h3m-2 0h3m12 0h3m6 0h3m34 0h3m-128 1h3m17 0h3m2 0h3m1 0h3m0 0h3m5 0h3m-2 0h3m6 0h3m4 0h3m5 0h3m3 0h3m5 0h3m-77 1h3m14 0h3m13 0h3m-1 0h3m8 0h3m-2 0h3m12 0h3m-2 0h3m9 0h3m-1 0h3m2 0h3m47 0h3m-132 1h3m7 0h3m11 0h3m5 0h3m3 0h3m0 0h3m2 0h3m1 0h3m1 0h3m2 0h3m-2 0h3m-2 0h3m2 0h3m25 0h3m-85 1h3m5 0h3m0 0h3m1 0h3m7 0h3m0 0h3m1 0h3m1 0h3m18 0h3m0 0h3m16 0h3m-90 1h3m3 0h3m16 0h3m-1 0h3m-1 0h3m2 0h3m-1 0h3m-2 0h3m2 0h3m-1 0h3m-1 0h3m0 0h3m-2 0h3m-2 0h3m-1 0h3m0 0h3m11 0h3m-75 1h3m10 0h3m6 0h3m-2 0h3m2 0h3m-2 0h3m1 0h3m3 0h3m2 0h3m8 0h3m6 0h3m12 0h3m-85 1h3m4 0h3m11 0h3m18 0h3m8 0h3m8 0h3m3 0h3m0 0h3m-1 0h3m39 0h3m-125 1h3m0 0h3m32 0h3m0 0h3m-1 0h3m1 0h3m13 0h3m0 0h3m1 0h3m7 0h3m1 0h3m27 0h3m-104 1h3m0 0h3m3 0h3m-1 0h3m3 0h3m2 0h3m-1 0h3m4 0h3m4 0h3m-2 0h3m-1 0h3m-2 0h3m1 0h3m-1 0h3m16 0h3m3 0h3m10 0h3m-88 1h3m-2 0h3m26 0h3m1 0h3m0 0h3m3 0h3m1 0h3m-2 0h3m-2 0h3m0 0h3m-1 0h3m0 0h3m-2 0h3m-1 0h3m-2 0h3m1 0h3m20 0h3m-83 1h3m13 0h3m0 0h3m-2 0h3m5 0h3m2 0h3m3 0h3m-2 0h3m-2 0h3m2 0h3m-2 0h3m5 0h3m1 0h3m2 0h3m-88 1h3m22 0h3m5 0h3m0 0h3m5 0h3m-1 0h3m1 0h3m1 0h3m0 0h3m3 0h3m-1 0h3m0 0h3m4 0h3m3 0h3m-77 1h3m1 0h3m1 0h3m4 0h3m-1 0h3m-2 0h3m0 0h3m1 0h3m3 0h3m1 0h3m-1 0h3m-1 0h3m-1 0h3m-1 0h3m2 0h3m0 0h3m-1 0h3m20 0h3m7 0h3m-88 1h3m20 0h3m-2 0h3m-1 0h3m1 0h3m-1 0h3m-2 0h3m-1 0h3m-2 0h3m-2 0h3m9 0h3m3 0h3m1 0h3m12 0h3m2 0h3m11 0h3m-101 1h3m8 0h3m6 0h3m9 0h3m4 0h3m9 0h3m6 0h3m6 0h3m-1 0h3m21 0h3m-83 1h3m0 0h3m-2 0h3m-2 0h3m-2 0h3m-1 0h3m-2 0h3m0 0h3m4 0h3m-1 0h3m-1 0h3m-2 0h3m0 0h3m0 0h3m-2 0h3m-1 0h3m7 0h3m7 0h3m11 0h3m-78 1h3m10 0h3m-1 0h3m0 0h3m3 0h3m-1 0h3m-1 0h3m-2 0h3m1 0h3m-2 0h3m-2 0h3m-2 0h3m-2 0h3m4 0h3m-2 0h3m1 0h3m7 0h3m9 0h3m2 0h3m-2 0h3m11 0h3m9 0h3m5 0h3m-124 1h3m3 0h3m16 0h3m-1 0h3m4 0h3m3 0h3m-2 0h3m-2 0h3m-1 0h3m16 0h3m0 0h3m-2 0h3m0 0h3m12 0h3m0 0h3m8 0h3m-101 1h3m12 0h3m4 0h3m6 0h3m-2 0h3m1 0h3m0 0h3m2 0h3m-1 0h3m4 0h3m8 0h3m6 0h3m0 0h3m-78 1h3m5 0h3m2 0h3m9 0h3m-2 0h3m-1 0h3m4 0h3m7 0h3m16 0h3m11 0h3m-2 0h3m-2 0h3m-1 0h3m-75 1h3m-1 0h3m15 0h3m-2 0h3m4 0h3m-2 0h3m11 0h3m-1 0h3m-2 0h3m6 0h3m11 0h3m-72 1h3m1 0h3m0 0h3m-2 0h3m-1 0h3m1 0h3m6 0h3m1 0h3m0 0h3m5 0h3m15 0h3m1 0h3m3 0h3m8 0h3m-81 1h3m-2 0h3m3 0h3m16 0h3m9 0h3m-2 0h3m1 0h3m13 0h3m0 0h3m0 0h3m16 0h3m-92 1h3m2 0h3m11 0h3m-2 0h3m3 0h3m2 0h3m4 0h3m2 0h3m0 0h3m5 0h3m-2 0h3m-1 0h3m-2 0h3m1 0h3m5 0h3m6 0h3m6 0h3m2 0h3m8 0h3m-87 1h3m2 0h3m-2 0h3m-2 0h3m-1 0h3m1 0h3m5 0h3m-2 0h3m-2 0h3m5 0h3m-1 0h3m1 0h3m-2 0h3m-2 0h3m-1 0h3m11 0h3m3 0h3m0 0h3m3 0h3m2 0h3m-72 1h3m-2 0h3m7 0h3m1 0h3m5 0h3m5 0h3m7 0h3m-1 0h3m2 0h3m3 0h3m0 0h3m27 0h3m-107 1h3m12 0h3m-1 0h3m6 0h3m-2 0h3m0 0h3m-1 0h3m-2 0h3m1 0h3m-2 0h3m-1 0h3m15 0h3m0 0h3m-2 0h3m2 0h3m2 0h3m-1 0h3m-2 0h3m-70 1h3m6 0h3m11 0h3m1 0h3m-2 0h3m-2 0h3m-2 0h3m0 0h3m2 0h3m10 0h3m2 0h3m3 0h3m1 0h3m25 0h3m-104 1h3m7 0h3m0 0h3m7 0h3m1 0h3m-1 0h3m4 0h3m-1 0h3m5 0h3m-1 0h3m2 0h3m-2 0h3m-2 0h3m1 0h3m1 0h3m-2 0h3m1 0h3m-2 0h3m-81 1h3m15 0h3m-1 0h3m-2 0h3m1 0h3m-2 0h3m3 0h3m-1 0h3m-1 0h3m-2 0h3m0 0h3m2 0h3m6 0h3m8 0h3m0 0h3m5 0h3m-83 1h3m9 0h3m-2 0h3m-2 0h3m5 0h3m-1 0h3m-1 0h3m-1 0h3m1 0h3m0 0h3m-2 0h3m-2 0h3m2 0h3m22 0h3m-1 0h3m6 0h3m17 0h3m-107 1h3m10 0h3m1 0h3m10 0h3m1 0h3m1 0h3m-2 0h3m3 0h3m1 0h3m2 0h3m1 0h3m1 0h3m-1 0h3m0 0h3m-1 0h3m13 0h3m7 0h3m-1 0h3m-84 1h3m0 0h3m-2 0h3m5 0h3m-2 0h3m0 0h3m1 0h3m1 0h3m-1 0h3m3 0h3m4 0h3m-1 0h3m-2 0h3m5 0h3m-1 0h3m0 0h3m29 0h3m-101 1h3m-1 0h3m5 0h3m8 0h3m1 0h3m1 0h3m0 0h3m1 0h3m8 0h3m-2 0h3m0 0h3m1 0h3m-1 0h3m-2 0h3m11 0h3m2 0h3m15 0h3m-94 1h3m11 0h3m2 0h3m9 0h3m7 0h3m7 0h3m2 0h3m-2 0h3m-2 0h3m3 0h3m4 0h3m4 0h3m-76 1h3m0 0h3m-2 0h3m7 0h3m2 0h3m0 0h3m0 0h3m7 0h3m0 0h3m0 0h3m0 0h3m3 0h3m1 0h3m-1 0h3m-1 0h3m-1 0h3m-2 0h3m-69 1h3m4 0h3m7 0h3m-1 0h3m3 0h3m-2 0h3m2 0h3m1 0h3m1 0h3m6 0h3m0 0h3m0 0h3m5 0h3m1 0h3m-2 0h3m-2 0h3m-29 1h3m1 0h3m2 0h3m-2 0h3m1 0h3m4 0h3m0 0h3m2 0h3m2 0h3m-84 1h3m1 0h3m1 0h3m1 0h3m3 0h3m-1 0h3m-1 0h3m2 0h3m0 0h3m0 0h3m1 0h3m-2 0h3m-2 0h3m5 0h3m5 0h3m3 0h3m-2 0h3m4 0h3m22 0h3m33 0h3m-123 1h3m3 0h3m0 0h3m0 0h3m11 0h3m9 0h3m10 0h3m-1 0h3m1 0h3m2 0h3m-2 0h3m6 0h3m37 0h3m-113 1h3m0 0h3m-2 0h3m2 0h3m6 0h3m3 0h3m-1 0h3m-1 0h3m-2 0h3m4 0h3m1 0h3m9 0h3m5 0h3m1 0h3m14 0h3m-86 1h3m8 0h3m-2 0h3m1 0h3m6 0h3m7 0h3m-2 0h3m1 0h3m-1 0h3m-1 0h3m10 0h3m-1 0h3m8 0h3m19 0h3m-102 1h3m1 0h3m-1 0h3m-2 0h3m4 0h3m-2 0h3m-2 0h3m-1 0h3m0 0h3m-1 0h3m2 0h3m8 0h3m-2 0h3m-1 0h3m-2 0h3m1 0h3m-2 0h3m4 0h3m1 0h3m-1 0h3m-2 0h3m8 0h3m-81 1h3m13 0h3m-2 0h3m3 0h3m3 0h3m11 0h3m1 0h3m-2 0h3m1 0h3m0 0h3m-2 0h3m-1 0h3m-1 0h3m0 0h3m-1 0h3m2 0h3m21 0h3m10 0h3m14 0h3m-126 1h3m7 0h3m0 0h3m-2 0h3m9 0h3m-2 0h3m3 0h3m2 0h3m-2 0h3m8 0h3m-2 0h3m14 0h3m-1 0h3m6 0h3m1 0h3m15 0h3m-2 0h3m-94 1h3m5 0h3m2 0h3m0 0h3m-2 0h3m17 0h3m4 0h3m-2 0h3m3 0h3m2 0h3m-2 0h3m10 0h3m-72 1h3m1 0h3m-1 0h3m3 0h3m2 0h3m4 0h3m1 0h3m10 0h3m0 0h3m6 0h3m1 0h3m7 0h3m8 0h3m-88 1h3m9 0h3m3 0h3m9 0h3m9 0h3m-2 0h3m3 0h3m10 0h3m7 0h3m-2 0h3m2 0h3m2 0h3m-1 0h3m13 0h3m-96 1h3m1 0h3m-2 0h3m0 0h3m7 0h3m3 0h3m1 0h3m1 0h3m13 0h3m0 0h3m2 0h3m-1 0h3m-1 0h3m3 0h3m18 0h3m-91 1h3m-1 0h3m2 0h3m17 0h3m-1 0h3m-2 0h3m4 0h3m0 0h3m0 0h3m1 0h3m-1 0h3m1 0h3m1 0h3m-2 0h3m-2 0h3m-1 0h3m3 0h3m9 0h3m-79 1h3m6 0h3m0 0h3m4 0h3m0 0h3m5 0h3m4 0h3m0 0h3m-2 0h3m8 0h3m2 0h3m-1 0h3m-2 0h3m0 0h3m0 0h3m0 0h3m-2 0h3m23 0h3m-100 1h3m25 0h3m3 0h3m7 0h3m-2 0h3m-2 0h3m-1 0h3m-1 0h3m1 0h3m10 0h3m-1 0h3m-85 1h3m1 0h3m6 0h3m-2 0h3m2 0h3m-2 0h3m1 0h3m4 0h3m-2 0h3m8 0h3m-1 0h3m5 0h3m-2 0h3m13 0h3m-1 0h3m0 0h3m1 0h3m1 0h3m11 0h3m-93 1h3m4 0h3m-2 0h3m3 0h3m0 0h3m-2 0h3m24 0h3m1 0h3m15 0h3m1 0h3m4 0h3m-69 1h3m16 0h3m-1 0h3m14 0h3m5 0h3m15 0h3m-84 1h3m11 0h3m-1 0h3m-2 0h3m1 0h3m1 0h3m2 0h3m-1 0h3m-1 0h3m1 0h3m-1 0h3m-1 0h3m7 0h3m-2 0h3m3 0h3m-2 0h3m1 0h3m5 0h3m1 0h3m8 0h3m0 0h3m0 0h3m-79 1h3m3 0h3m9 0h3m5 0h3m1 0h3m-1 0h3m15 0h3m1 0h3m9 0h3m1 0h3m-85 1h3m1 0h3m9 0h3m2 0h3m3 0h3m-1 0h3m-2 0h3m0 0h3m8 0h3m1 0h3m1 0h3m1 0h3m13 0h3m-71 1h3m5 0h3m7 0h3m13 0h3m-2 0h3m2 0h3m2 0h3m0 0h3m-2 0h3m0 0h3m4 0h3m7 0h3m-77 1h3m13 0h3m1 0h3m4 0h3m7 0h3m7 0h3m-1 0h3m3 0h3m-2 0h3m4 0h3m4 0h3m53 0h3m-121 1h3m0 0h3m-2 0h3m1 0h3m3 0h3m2 0h3m8 0h3m2 0h3m30 0h3m17 0h3m-71 1h3m-1 0h3m6 0h3m0 0h3m-2 0h3m1 0h3m-2 0h3m2 0h3m1 0h3m0 0h3m58 0h3m-121 1h3m16 0h3m11 0h3m-2 0h3m0 0h3m2 0h3m-2 0h3m-1 0h3m16 0h3m12 0h3m3 0h3m-101 1h3m6 0h3m0 0h3m-2 0h3m3 0h3m-2 0h3m17 0h3m9 0h3m7 0h3m5 0h3m6 0h3m-2 0h3m5 0h3m-2 0h3m1 0h3m5 0h3m-103 1h3m18 0h3m4 0h3m7 0h3m0 0h3m1 0h3m-1 0h3m-2 0h3m22 0h3m4 0h3m-2 0h3m-86 1h3m12 0h3m-1 0h3m15 0h3m4 0h3m-1 0h3m0 0h3m7 0h3m0 0h3m-2 0h3m2 0h3m1 0h3m1 0h3m-54 1h3m13 0h3m1 0h3m15 0h3m-2 0h3m-1 0h3m5 0h3m-1 0h3m3 0h3m-2 0h3m3 0h3m-88 1h3m17 0h3m22 0h3m9 0h3m1 0h3m-2 0h3m6 0h3m-71 1h3m10 0h3m1 0h3m2 0h3m5 0h3m-1 0h3m1 0h3m19 0h3m-2 0h3m0 0h3m4 0h3m0 0h3m11 0h3m23 0h3m-119 1h3m3 0h3m32 0h3m3 0h3m2 0h3m1 0h3m2 0h3m-2 0h3m23 0h3m-74 1h3m5 0h3m6 0h3m-2 0h3m7 0h3m-1 0h3m6 0h3m1 0h3m1 0h3m19 0h3m-1 0h3m-49 1h3m1 0h3m11 0h3m-2 0h3m33 0h3m13 0h3m-88 1h3m15 0h3m9 0h3m1 0h3m8 0h3m9 0h3m-42 1h3m-2 0h3m3 0h3m2 0h3m-2 0h3m-2 0h3m1 0h3m0 0h3m0 0h3m11 0h3m-2 0h3m31 0h3m4 0h3m-112 1h3m24 0h3m6 0h3m-2 0h3m2 0h3m1 0h3m2 0h3m9 0h3m3 0h3m0 0h3m-72 1h3m12 0h3m0 0h3m-2 0h3m12 0h3m3 0h3m0 0h3m6 0h3m24 0h3m-79 1h3m18 0h3m7 0h3m35 0h3m16 0h3m-115 1h3m2 0h3m17 0h3m2 0h3m7 0h3m2 0h3m-2 0h3m2 0h3m21 0h3m21 0h3m-77 1h3m27 0h3m0 0h3m0 0h3m7 0h3m14 0h3m3 0h3m7 0h3m-92 1h3m7 0h3m14 0h3m9 0h3m5 0h3m1 0h3m-2 0h3m5 0h3m1 0h3m42 0h3m-83 1h3m10 0h3m19 0h3m6 0h3m-78 1h3m3 0h3m31 0h3m6 0h3m3 0h3m-1 0h3m24 0h3m15 0h3m-97 1h3m17 0h3m0 0h3m7 0h3m-1 0h3m-2 0h3m13 0h3m31 0h3m20 0h3m-132 1h3m6 0h3m25 0h3m19 0h3m-35 1h3m6 0h3m5 0h3m2 0h3m28 0h3m6 0h3m-50 1h3m30 0h3m11 0h3m6 0h3m-92 1h3m1 0h3m6 0h3m1 0h3m5 0h3m52 0h3m-84 1h3m51 0h3m1 0h3m4 0h3m3 0h3m41 0h3m-94 1h3m9 0h3m8 0h3m4 0h3m7 0h3m-63 1h3m41 0h3m4 0h3m7 0h3m7 0h3m0 0h3m-74 1h3m32 0h3m5 0h3m-2 0h3m-53 1h3m18 0h3m-1 0h3m8 0h3m-2 0h3m3 0h3m2 0h3m9 0h3m32 0h3m-84 1h3m34 0h3m-2 0h3m-2 0h3m-1 0h3m1 0h3m17 0h3m-1 0h3m-1 0h3m15 0h3m-100 1h3m24 0h3m3 0h3m-2 0h3m2 0h3m27 0h3m18 0h3m6 0h3m-83 1h3m9 0h3m1 0h3m2 0h3m-1 0h3m10 0h3m-51 1h3m8 0h3m49 0h3m10 0h3m1 0h3m-2 0h3m6 0h3m-99 1h3m3 0h3m13 0h3m9 0h3m-10 1h3m0 0h3m2 0h3m2 0h3m1 0h3m18 0h3m39 0h3m-70 1h3m2 0h3m-2 0h3m1 0h3m10 0h3m-59 1h3m0 0h3m-7 1h3m-2 0h3m15 1h3m9 0h3m39 0h3m-50 1h3m10 0h3m13 0h3m10 0h3m-61 1h3m5 0h3m3 0h3m-2 0h3m-1 0h3m8 0h3m6 0h3m15 0h3m-52 1h3m1 0h3m7 0h3m13 0h3m6 0h3m-71 1h3m18 0h3m19 0h3m-30 1h3m51 0h3m-76 1h3m22 0h3m43 0h3m-48 1h3m-2 0h3m8 0h3m16 0h3m-1 0h3m-1 0h3m4 0h3m-2 0h3m-68 1h3m47 0h3m15 0h3m6 0h3m-55 1h3m0 0h3m0 0h3m47 0h3m-24 1h3m-11 1h3m-27 1h3m31 0h3m23 0h3m-26 2h3m14 0h3m26 0h3m-83 1h3m-27 1h3m19 0h3m18 1h3m49 0h3m-46 1h3m-25 1h3m-1 0h3m-2 0h3m8 0h3m-31 1h3m22 0h3m24 0h3m-48 1h3m-16 1h3m21 1h3m26 0h3m-2 0h3m14 0h3m-44 2h3m38 0h3m-87 1h3m19 1h3m1 0h3m-4 1h3m19 0h3m27 4h3m-13 1h3m-37 1h3" stroke="#30d030" stroke-width="3" opacity="0.6" fill="none"/>
<path transform="scale(0.25)" d="M1906 605.5h3m-58 20h3m-9 2h3m21 4h3m14 1h3m-3 1h3m15 2h3m-33 1h3m26 0h3m-20 3h3m5 0h3m-7 1h3m19 0h3m-55 1h3m31 0h3m3 0h3m-11 1h3m-1 0h3m-32 2h3m6 1h3m14 0h3m-2 0h3m17 0h3m-53 1h3m36 0h3m-1 0h3m-10 1h3m-29 1h3m34 0h3m-47 1h3m27 0h3m12 0h3m-56 2h3m3 0h3m0 0h3m52 0h3m-24 1h3m-25 1h3m-30 1h3m27 0h3m-2 0h3m9 0h3m15 0h3m-39 1h3m19 0h3m16 0h3m-68 1h3m21 0h3m-7 1h3m5 0h3m25 0h3m-41 1h3m16 0h3m-1 0h3m-1 0h3m-21 1h3m4 0h3m6 0h3m2 0h3m-30 1h3m19 0h3m-19 1h3m2 0h3m-20 1h3m-1 1h3m23 0h3m9 0h3m5 0h3m-53 1h3m0 0h3m-1 0h3m10 0h3m1 0h3m-1 0h3m50 0h3m-72 1h3m-2 0h3m13 0h3m1 0h3m0 0h3m6 0h3m24 0h3m-62 1h3m0 0h3m10 0h3m13 0h3m-2 0h3m0 0h3m-38 1h3m-1 0h3m-2 0h3m0 0h3m41 0h3m1 0h3m-73 1h3m0 0h3m1 0h3m-1 0h3m2 0h3m1 0h3m2 0h3m0 0h3m7 0h3m1 0h3m11 0h3m-42 1h3m-1 0h3m5 0h3m17 0h3m-2 0h3m2 0h3m-48 1h3m7 0h3m8 0h3m2 0h3m9 0h3m7 0h3m18 0h3m-80 1h3m4 0h3m8 0h3m5 0h3m18 0h3m11 0h3m-75 1h3m13 0h3m27 0h3m18 0h3m13 0h3m-64 1h3m7 0h3m2 0h3m1 0h3m1 0h3m0 0h3m-32 1h3m4 0h3m-1 0h3m1 0h3m0 0h3m0 0h3m-1 0h3m2 0h3m2 0h3m7 0h3m18 0h3m-62 1h3m15 0h3m-2 0h3m7 0h3m22 0h3m-69 1h3m29 0h3m-1 0h3m0 0h3m-1 0h3m-2 0h3m1 0h3m2 0h3m16 0h3m-56 1h3m2 0h3m7 0h3m0 0h3m1 0h3m0 0h3m-2 0h3m1 0h3m-1 0h3m4 0h3m-2 0h3m4 0h3m-60 1h3m22 0h3m8 0h3m35 0h3m-86 1h3m3 0h3m-1 0h3m18 0h3m4 0h3m4 0h3m0 0h3m-1 0h3m-2 0h3m9 0h3m10 0h3m-68 1h3m2 0h3m-1 0h3m7 0h3m-2 0h3m-1 0h3m4 0h3m0 0h3m-1 0h3m5 0h3m1 0h3m-1 0h3m1 0h3m-2 0h3m0 0h3m3 0h3m-57 1h3m1 0h3m0 0h3m28 0h3m0 0h3m0 0h3m-1 0h3m3 0h3m4 0h3m-80 1h3m17 0h3m9 0h3m-1 0h3m-2 0h3m3 0h3m-2 0h3m0 0h3m2 0h3m-2 0h3m1 0h3m-1 0h3m14 0h3m-74 1h3m27 0h3m-2 0h3m-1 0h3m1 0h3m-1 0h3m2 0h3m10 0h3m3 0h3m1 0h3m-61 1h3m-2 0h3m1 0h3m-1 0h3m1 0h3m4 0h3m2 0h3m0 0h3m1 0h3m-1 0h3m0 0h3m14 0h3m-66 1h3m9 0h3m4 0h3m7 0h3m2 0h3m-1 0h3m-1 0h3m-2 0h3m5 0h3m1 0h3m1 0h3m-38 1h3m0 0h3m0 0h3m3 0h3m2 0h3m7 0h3m-1 0h3m2 0h3m0 0h3m0 0h3m-2 0h3m-2 0h3m-66 1h3m2 0h3m6 0h3m3 0h3m4 0h3m-2 0h3m6 0h3m1 0h3m-2 0h3m4 0h3m4 0h3m-2 0h3m1 0h3m-63 1h3m15 0h3m4 0h3m6 0h3m-2 0h3m-2 0h3m0 0h3m5 0h3m2 0h3m1 0h3m-47 1h3m1 0h3m2 0h3m3 0h3m-2 0h3m-1 0h3m7 0h3m1 0h3m-2 0h3m2 0h3m0 0h3m14 0h3m-67 1h3m17 0h3m-2 0h3m-1 0h3m4 0h3m-2 0h3m8 0h3m1 0h3m-2 0h3m1 0h3m28 0h3m-86 1h3m19 0h3m3 0h3m-1 0h3m-2 0h3m-2 0h3m-1 0h3m-2 0h3m7 0h3m-34 1h3m11 0h3m2 0h3m1 0h3m13 0h3m3 0h3m3 0h3m-1 0h3m10 0h3m-68 1h3m0 0h3m3 0h3m1 0h3m3 0h3m-1 0h3m10 0h3m2 0h3m4 0h3m8 0h3m-76 1h3m2 0h3m0 0h3m1 0h3m-2 0h3m-1 0h3m-2 0h3m13 0h3m28 0h3m16 0h3m-66 1h3m6 0h3m-1 0h3m-2 0h3m6 0h3m-2 0h3m3 0h3m-64 1h3m17 0h3m14 0h3m-2 0h3m10 0h3m-2 0h3m-1 0h3m-2 0h3m8 0h3m-1 0h3m-61 1h3m8 0h3m26 0h3m0 0h3m-2 0h3m-1 0h3m-2 0h3m-2 0h3m14 0h3m-60 1h3m7 0h3m8 0h3m-2 0h3m2 0h3m-1 0h3m5 0h3m1 0h3m9 0h3m-52 1h3m-2 0h3m-1 0h3m2 0h3m0 0h3m0 0h3m14 0h3m9 0h3m-1 0h3m2 0h3m3 0h3m-64 1h3m2 0h3m-2 0h3m6 0h3m-1 0h3m3 0h3m12 0h3m0 0h3m-2 0h3m-1 0h3m1 0h3m1 0h3m-1 0h3m4 0h3m-56 1h3m3 0h3m-2 0h3m2 0h3m-2 0h3m0 0h3m-2 0h3m3 0h3m0 0h3m-2 0h3m2 0h3m5 0h3m-1 0h3m-2 0h3m-53 1h3m14 0h3m6 0h3m8 0h3m4 0h3m-1 0h3m-1 0h3m-2 0h3m1 0h3m26 0h3m-66 1h3m-2 0h3m4 0h3m-2 0h3m10 0h3m3 0h3m-1 0h3m-1 0h3m-43 1h3m3 0h3m-2 0h3m1 0h3m-1 0h3m4 0h3m0 0h3m2 0h3m-1 0h3m0 0h3m-1 0h3m-1 0h3m-57 1h3m0 0h3m25 0h3m8 0h3m1 0h3m1 0h3m0 0h3m-39 1h3m2 0h3m-1 0h3m-1 0h3m-2 0h3m0 0h3m1 0h3m-1 0h3m1 0h3m-1 0h3m16 0h3m2 0h3m-52 1h3m1 0h3m4 0h3m0 0h3m-1 0h3m2 0h3m17 0h3m5 0h3m0 0h3m-49 1h3m1 0h3m6 0h3m-2 0h3m12 0h3m13 0h3m-53 1h3m-1 0h3m-1 0h3m1 0h3m-2 0h3m1 0h3m24 0h3m-2 0h3m-35 1h3m6 0h3m-2 0h3m18 0h3m-2 0h3m-37 1h3m-1 0h3m0 0h3m1 0h3m11 0h3m6 0h3m-2 0h3m0 0h3m-59 1h3m10 0h3m-1 0h3m0 0h3m-1 0h3m7 0h3m0 0h3m5 0h3m-1 0h3m3 0h3m18 0h3m-64 1h3m0 0h3m-2 0h3m6 0h3m-2 0h3m8 0h3m-1 0h3m1 0h3m-2 0h3m-2 0h3m-2 0h3m-2 0h3m0 0h3m6 0h3m-53 1h3m1 0h3m33 0h3m-2 0h3m-2 0h3m-37 1h3m3 0h3m6 0h3m-2 0h3m-1 0h3m5 0h3m16 0h3m-59 1h3m24 0h3m-1 0h3m-1 0h3m-1 0h3m9 0h3m4 0h3m-65 1h3m-2 0h3m17 0h3m4 0h3m6 0h3m9 0h3m-1 0h3m-2 0h3m-34 1h3m-1 0h3m8 0h3m4 0h3m-14 1h3m2 0h3m-2 0h3m4 0h3m3 0h3m12 0h3m-51 1h3m1 0h3m-2 0h3m17 0h3m-2 0h3m2 0h3m-34 1h3m8 0h3m3 0h3m0 0h3m12 0h3m-9 1h3m-46 1h3m10 0h3m17 0h3m0 0h3m3 0h3m4 0h3m15 0h3m-64 1h3m17 0h3m-2 0h3m20 0h3m2 0h3m2 0h3m-2 0h3m-59 1h3m17 0h3m5 0h3m10 0h3m-38 1h3m20 0h3m23 0h3m18 0h3m-85 1h3m18 0h3m-2 0h3m29 0h3m4 0h3m1 0h3m1 0h3m-56 1h3m12 0h3m5 0h3m-25 1h3m23 0h3m-48 1h3m-1 1h3m49 0h3m-34 1h3m17 0h3m8 0h3m-62 1h3m20 0h3m5 0h3m17 0h3m16 0h3m-35 1h3m11 0h3m7 0h3m0 0h3m10 1h3m-49 1h3m17 0h3m-9 1h3m7 0h3m-14 2h3m-1 0h3m6 1h3m-55 2h3m57 0h3m-45 1h3m0 0h3m13 1h3m-26 1h3m44 0h3m1 1h3m-36 3h3m1 0h3m23 1h3m-33 1h3m-7 2h3m34 3h3m-51 5h3" stroke="#10d810" stroke-width="3" opacity="0.8" fill="none"/>
<ellipse cx="470.70" cy="172.00" rx="8.00" ry="11.00" fill="#30dd30" opacity="0.5" transform="rotate(0 470.70 172.00)" filter="url(#b1)"/>
<path transform="scale(0.25)" d="M1937 680.5h3m33 5h3m3 1h3m43 9h3m-46 1h3m36 2h3m-43 3h3m5 3h3m10 0h3m-29 1h3m3 0h3m13 0h3m-86 1h3m79 0h3m4 0h3m-13 1h3m-66 2h3m64 0h3m22 0h3m-20 1h3m-3 1h3m5 0h3m-53 1h3m17 0h3m0 0h3m-34 1h3m7 0h3m8 0h3m-2 0h3m3 0h3m34 0h3m-82 1h3m15 0h3m20 0h3m-31 1h3m-1 0h3m10 0h3m7 0h3m14 0h3m-73 1h3m11 0h3m26 0h3m-1 0h3m-20 1h3m2 0h3m23 0h3m1 0h3m-1 0h3m-47 1h3m1 0h3m16 0h3m0 0h3m1 0h3m28 0h3m-121 1h3m45 0h3m20 0h3m2 0h3m8 0h3m11 0h3m-48 1h3m3 0h3m27 0h3m7 0h3m-22 1h3m33 0h3m-55 1h3m14 0h3m-2 0h3m8 0h3m6 0h3m17 0h3m9 0h3m-76 1h3m4 0h3m11 0h3m41 0h3m-28 1h3m0 0h3m-1 0h3m3 0h3m-74 1h3m28 0h3m10 0h3m15 0h3m7 0h3m-18 1h3m10 0h3m9 0h3m-53 1h3m3 0h3m7 0h3m26 0h3m-54 1h3m9 0h3m33 0h3m-19 1h3m3 0h3m10 0h3m2 0h3m8 0h3m-57 1h3m3 0h3m0 0h3m1 0h3m14 0h3m-2 0h3m6 0h3m-54 1h3m-2 0h3m11 0h3m20 0h3m2 0h3m14 0h3m-76 1h3m16 0h3m1 0h3m10 0h3m8 0h3m28 0h3m-79 1h3m10 0h3m9 0h3m9 0h3m27 0h3m-71 1h3m7 0h3m13 0h3m1 0h3m32 0h3m-79 1h3m-1 0h3m-1 0h3m20 0h3m0 0h3m0 0h3m14 0h3m12 0h3m-48 1h3m9 0h3m6 0h3m0 0h3m-5 1h3m5 0h3m5 0h3m-2 0h3m-51 1h3m0 0h3m22 0h3m-1 0h3m6 0h3m1 0h3m8 0h3m-34 1h3m0 0h3m0 0h3m14 0h3m16 0h3m-88 1h3m29 0h3m14 0h3m10 0h3m29 0h3m7 0h3m-75 1h3m3 0h3m6 0h3m7 0h3m4 0h3m5 0h3m-2 0h3m-41 1h3m-1 0h3m-2 0h3m3 0h3m5 0h3m6 0h3m5 0h3m23 0h3m-84 1h3m4 0h3m25 0h3m1 0h3m13 0h3m1 0h3m-48 1h3m4 0h3m-1 0h3m13 0h3m-1 0h3m27 0h3m-63 1h3m-2 0h3m11 0h3m6 0h3m6 0h3m5 0h3m10 0h3m9 0h3m2 0h3m-50 1h3m2 0h3m-2 0h3m4 0h3m21 0h3m-44 1h3m-1 0h3m11 0h3m11 0h3m5 0h3m-76 1h3m14 0h3m10 0h3m0 0h3m-1 0h3m36 0h3m-1 0h3m-67 1h3m19 0h3m3 0h3m4 0h3m3 0h3m2 0h3m13 0h3m4 0h3m-72 1h3m11 0h3m0 0h3m6 0h3m11 0h3m0 0h3m-43 1h3m17 0h3m1 0h3m4 0h3m-1 0h3m4 0h3m2 0h3m15 0h3m5 0h3m-72 1h3m17 0h3m3 0h3m-1 0h3m7 0h3m2 0h3m3 0h3m-1 0h3m7 0h3m-50 1h3m1 0h3m14 0h3m-15 1h3m-1 0h3m36 0h3m3 0h3m-79 1h3m25 0h3m-2 0h3m-2 0h3m4 0h3m16 0h3m14 0h3m5 0h3m-67 1h3m0 0h3m32 0h3m23 0h3m-89 1h3m27 0h3m17 0h3m-62 1h3m23 0h3m-2 0h3m17 0h3m14 0h3m-66 1h3m27 0h3m-1 0h3m-1 0h3m-2 0h3m-2 0h3m9 0h3m10 0h3m-51 1h3m25 0h3m13 0h3m20 0h3m-32 1h3m-30 1h3m17 0h3m-46 1h3m3 0h3m25 0h3m1 0h3m0 0h3m6 0h3m-31 1h3m12 0h3m2 1h3m2 0h3m14 0h3m-33 1h3m-1 0h3m-1 0h3m2 0h3m1 0h3m3 0h3m1 0h3m0 1h3m12 0h3m-62 1h3m-1 0h3m5 0h3m7 0h3m11 0h3m4 0h3m-62 1h3m16 0h3m0 0h3m47 0h3m-1 0h3m-82 1h3m32 0h3m-1 0h3m15 0h3m4 0h3m10 0h3m-9 1h3m15 0h3m-55 1h3m5 0h3m1 1h3m49 0h3m-53 1h3m22 0h3m8 0h3m-75 1h3m25 0h3m-1 0h3m21 0h3m-58 1h3m10 0h3m42 0h3m-12 1h3m-26 1h3m2 0h3m22 0h3m3 0h3m-76 1h3m30 1h3m16 0h3m3 0h3m20 0h3m-64 1h3m13 0h3m7 0h3m39 0h3m-53 1h3m3 0h3m-10 1h3m7 0h3m-42 1h3m17 0h3m15 0h3m-3 1h3m33 0h3m-3 1h3m-51 4h3m21 0h3m-4 1h3m-4 1h3m9 2h3m-34 3h3m-20 1h3m22 0h3m-24 1h3m21 0h3" stroke="#50c850" stroke-width="3" opacity="0.4" fill="none"/>
<rect x="456.40" y="138.60" width="54.20" height="63.30" fill="none" stroke="#1a1a1a" stroke-width="1.7" />
<line x1="485.60" y1="138.60" x2="485.60" y2="201.90" stroke="#1a1a1a" stroke-width="1.7" />
<line x1="456.40" y1="175.70" x2="510.60" y2="175.70" stroke="#1a1a1a" stroke-width="1.7" />
<path d="M454.00 139.60h1.6M454.00 141.64h1.6M454.00 143.69h1.6M454.00 145.73h1.6M454.00 147.77h1.6M454.00 149.82h1.6M454.00 151.86h1.6M454.00 153.90h1.6M454.00 155.95h1.6M454.00 157.99h1.6M454.00 160.03h1.6M454.00 162.08h1.6M454.00 164.12h1.6M454.00 166.16h1.6M454.00 168.21h1.6M454.00 170.25h1.6M454.00 172.29h1.6M454.00 174.34h1.6M454.00 176.38h1.6M454.00 178.42h1.6M454.00 180.47h1.6M454.00 182.51h1.6M454.00 184.55h1.6M454.00 186.60h1.6M454.00 188.64h1.6M454.00 190.68h1.6M454.00 192.73h1.6M454.00 194.77h1.6M454.00 196.81h1.6M454.00 198.86h1.6M454.00 200.90h1.6" stroke="#000" stroke-width="0.6"/>
<path d="M457.40 202.70v1.6M459.57 202.70v1.6M461.75 202.70v1.6M463.92 202.70v1.6M466.10 202.70v1.6M468.27 202.70v1.6M470.45 202.70v1.6M472.62 202.70v1.6M474.80 202.70v1.6M476.98 202.70v1.6M479.15 202.70v1.6M481.32 202.70v1.6M483.50 202.70v1.6M485.68 202.70v1.6M487.85 202.70v1.6M490.02 202.70v1.6M492.20 202.70v1.6M494.38 202.70v1.6M496.55 202.70v1.6M498.73 202.70v1.6M500.90 202.70v1.6M503.08 202.70v1.6M505.25 202.70v1.6M507.43 202.70v1.6M509.60 202.70v1.6" stroke="#000" stroke-width="0.6"/>
<text x="468.90" y="167.15" font-size="6" fill="#1e1e1e" text-anchor="middle" stroke="#1e1e1e" stroke-width="0.15">Q1-2</text>
<text x="502.30" y="167.15" font-size="6" fill="#1e1e1e" text-anchor="middle" stroke="#1e1e1e" stroke-width="0.15">Q2-2</text>
<text x="468.90" y="190.95" font-size="6" fill="#1e1e1e" text-anchor="middle" stroke="#1e1e1e" stroke-width="0.15">Q3-2</text>
<text x="502.30" y="190.95" font-size="6" fill="#1e1e1e" text-anchor="middle" stroke="#1e1e1e" stroke-width="0.15">Q4-2</text>
<text x="503.30" y="198.52" font-size="9" fill="#c8303a" text-anchor="start">8</text>
<line x1="453.10" y1="142.00" x2="455.60" y2="142.00" stroke="#000" stroke-width="1.2" />
<line x1="453.10" y1="153.80" x2="455.60" y2="153.80" stroke="#000" stroke-width="1.2" />
<line x1="453.10" y1="165.60" x2="455.60" y2="165.60" stroke="#000" stroke-width="1.2" />
<line x1="453.10" y1="177.40" x2="455.60" y2="177.40" stroke="#000" stroke-width="1.2" />
<line x1="453.10" y1="189.20" x2="455.60" y2="189.20" stroke="#000" stroke-width="1.2" />
<text x="451.00" y="144.08" font-size="5.8" fill="#1e1e1e" text-anchor="end" stroke="#1e1e1e" stroke-width="0.1">250</text>
<text x="451.00" y="155.88" font-size="5.8" fill="#1e1e1e" text-anchor="end" stroke="#1e1e1e" stroke-width="0.1">200</text>
<text x="451.00" y="167.68" font-size="5.8" fill="#1e1e1e" text-anchor="end" stroke="#1e1e1e" stroke-width="0.1">150</text>
<text x="451.00" y="179.48" font-size="5.8" fill="#1e1e1e" text-anchor="end" stroke="#1e1e1e" stroke-width="0.1">100</text>
<text x="451.00" y="191.28" font-size="5.8" fill="#1e1e1e" text-anchor="end" stroke="#1e1e1e" stroke-width="0.1">50</text>
<line x1="462.70" y1="202.70" x2="462.70" y2="205.20" stroke="#000" stroke-width="1.2" />
<line x1="477.00" y1="202.70" x2="477.00" y2="205.20" stroke="#000" stroke-width="1.2" />
<line x1="491.50" y1="202.70" x2="491.50" y2="205.20" stroke="#000" stroke-width="1.2" />
<line x1="504.00" y1="202.70" x2="504.00" y2="205.20" stroke="#000" stroke-width="1.2" />
<text x="462.70" y="212.88" font-size="5.8" fill="#1e1e1e" text-anchor="middle">10<tspan font-size="3.48" dy="-2.32">2</tspan></text>
<text x="477.00" y="212.88" font-size="5.8" fill="#1e1e1e" text-anchor="middle">10<tspan font-size="3.48" dy="-2.32">3</tspan></text>
<text x="491.50" y="212.88" font-size="5.8" fill="#1e1e1e" text-anchor="middle">10<tspan font-size="3.48" dy="-2.32">4</tspan></text>
<text x="504.00" y="212.88" font-size="5.8" fill="#1e1e1e" text-anchor="middle">10<tspan font-size="3.48" dy="-2.32">5</tspan></text>
<text x="470.00" y="223.38" font-size="7.2" fill="#141414" text-anchor="start" textLength="29.2" lengthAdjust="spacingAndGlyphs" stroke="#141414" stroke-width="0.18">CD34 APC-A</text>
<text transform="translate(436.20,169.80) rotate(-90)" x="0" y="2.94" font-size="8.2" fill="#141414" text-anchor="middle" textLength="14" lengthAdjust="spacingAndGlyphs" stroke="#141414" stroke-width="0.2">SSC-A</text>
<text transform="translate(435.90,150.60) rotate(-90)" x="0" y="1.86" font-size="5.2" fill="#1e1e1e" text-anchor="middle" textLength="23.5" lengthAdjust="spacingAndGlyphs" stroke="#1e1e1e" stroke-width="0.1">(x 1,000)</text>
<line x1="53.40" y1="258.50" x2="53.40" y2="352.00" stroke="#000" stroke-width="1.3" />
<line x1="53.40" y1="351.50" x2="143.50" y2="351.50" stroke="#000" stroke-width="1.3" />
<line x1="50.30" y1="261.70" x2="53.40" y2="261.70" stroke="#000" stroke-width="1.1" />
<text x="47.00" y="264.56" font-size="8" fill="#1e1e1e" text-anchor="end">100</text>
<line x1="50.30" y1="276.80" x2="53.40" y2="276.80" stroke="#000" stroke-width="1.1" />
<text x="47.00" y="279.66" font-size="8" fill="#1e1e1e" text-anchor="end">80</text>
<line x1="50.30" y1="291.90" x2="53.40" y2="291.90" stroke="#000" stroke-width="1.1" />
<text x="47.00" y="294.76" font-size="8" fill="#1e1e1e" text-anchor="end">60</text>
<line x1="50.30" y1="307.00" x2="53.40" y2="307.00" stroke="#000" stroke-width="1.1" />
<text x="47.00" y="309.86" font-size="8" fill="#1e1e1e" text-anchor="end">40</text>
<line x1="50.30" y1="322.10" x2="53.40" y2="322.10" stroke="#000" stroke-width="1.1" />
<text x="47.00" y="324.96" font-size="8" fill="#1e1e1e" text-anchor="end">20</text>
<line x1="50.30" y1="337.20" x2="53.40" y2="337.20" stroke="#000" stroke-width="1.1" />
<text x="47.00" y="340.06" font-size="8" fill="#1e1e1e" text-anchor="end">0</text>
<line x1="50.30" y1="352.30" x2="53.40" y2="352.30" stroke="#000" stroke-width="1.1" />
<text x="47.00" y="355.16" font-size="8" fill="#1e1e1e" text-anchor="end">-20</text>
<line x1="76.00" y1="351.50" x2="76.00" y2="354.50" stroke="#000" stroke-width="1.1" />
<line x1="121.20" y1="351.50" x2="121.20" y2="354.50" stroke="#000" stroke-width="1.1" />
<text transform="translate(25.00,306.00) rotate(-90)" x="0" y="3.15" font-size="8.8" fill="#141414" text-anchor="middle" textLength="96" lengthAdjust="spacingAndGlyphs" stroke="#141414" stroke-width="0.12">hCD45+ cells in mouse BM (%)</text>
<text transform="translate(76.00,368.35) rotate(-90)" x="0" y="2.90" font-size="8.1" fill="#141414" text-anchor="middle">NSG</text>
<text transform="translate(121.20,371.10) rotate(-90)" x="0" y="2.90" font-size="8.1" fill="#141414" text-anchor="middle">NSGS</text>
<line x1="75.00" y1="266.90" x2="119.60" y2="266.90" stroke="#000" stroke-width="1.2" />
<text x="97.10" y="265.86" font-size="8" fill="#141414" text-anchor="middle" font-weight="bold">*</text>
<line x1="68.30" y1="324.60" x2="83.60" y2="324.60" stroke="#2c4f82" stroke-width="1.1" />
<line x1="76.00" y1="324.60" x2="76.00" y2="333.00" stroke="#2c4f82" stroke-width="1.1" />
<line x1="66.00" y1="331.80" x2="86.00" y2="331.80" stroke="#111" stroke-width="1.3" />
<circle cx="76.00" cy="313.50" r="2.5" fill="none" stroke="#2c4f82" stroke-width="1.3"/>
<circle cx="76.00" cy="324.60" r="2.5" fill="none" stroke="#2c4f82" stroke-width="1.3"/>
<circle cx="62.50" cy="331.84" r="2.3" fill="none" stroke="#22406e" stroke-width="1.3"/>
<circle cx="65.00" cy="333.24" r="2.3" fill="none" stroke="#22406e" stroke-width="1.3"/>
<circle cx="67.50" cy="334.35" r="2.3" fill="none" stroke="#22406e" stroke-width="1.3"/>
<circle cx="70.00" cy="335.18" r="2.3" fill="none" stroke="#22406e" stroke-width="1.3"/>
<circle cx="72.50" cy="335.72" r="2.3" fill="none" stroke="#22406e" stroke-width="1.3"/>
<circle cx="75.00" cy="335.98" r="2.3" fill="none" stroke="#22406e" stroke-width="1.3"/>
<circle cx="77.50" cy="335.95" r="2.3" fill="none" stroke="#22406e" stroke-width="1.3"/>
<circle cx="80.00" cy="335.63" r="2.3" fill="none" stroke="#22406e" stroke-width="1.3"/>
<circle cx="82.50" cy="335.04" r="2.3" fill="none" stroke="#22406e" stroke-width="1.3"/>
<circle cx="85.00" cy="334.15" r="2.3" fill="none" stroke="#22406e" stroke-width="1.3"/>
<circle cx="87.50" cy="332.98" r="2.3" fill="none" stroke="#22406e" stroke-width="1.3"/>
<circle cx="90.00" cy="331.53" r="2.3" fill="none" stroke="#22406e" stroke-width="1.3"/>
<circle cx="68.00" cy="332.39" r="2.2" fill="none" stroke="#22406e" stroke-width="1.3"/>
<circle cx="73.00" cy="333.17" r="2.2" fill="none" stroke="#22406e" stroke-width="1.3"/>
<circle cx="79.00" cy="333.17" r="2.2" fill="none" stroke="#22406e" stroke-width="1.3"/>
<circle cx="84.00" cy="332.39" r="2.2" fill="none" stroke="#22406e" stroke-width="1.3"/>
<line x1="106.20" y1="312.70" x2="136.00" y2="312.70" stroke="#111" stroke-width="1.6" />
<line x1="121.20" y1="291.90" x2="121.20" y2="334.00" stroke="#b0203e" stroke-width="1.1" />
<line x1="113.00" y1="291.90" x2="128.80" y2="291.90" stroke="#b0203e" stroke-width="1.1" />
<rect x="118.90" y="271.70" width="4.6" height="4.6" fill="none" stroke="#b0203e" stroke-width="1.3"/>
<rect x="118.90" y="289.60" width="4.6" height="4.6" fill="none" stroke="#b0203e" stroke-width="1.3"/>
<rect x="118.90" y="302.90" width="4.6" height="4.6" fill="none" stroke="#b0203e" stroke-width="1.3"/>
<rect x="114.60" y="315.40" width="4.6" height="4.6" fill="none" stroke="#b0203e" stroke-width="1.3"/>
<rect x="122.70" y="316.50" width="4.6" height="4.6" fill="none" stroke="#b0203e" stroke-width="1.3"/>
<rect x="110.20" y="326.50" width="4.6" height="4.6" fill="none" stroke="#b0203e" stroke-width="1.3"/>
<rect x="118.90" y="331.70" width="4.6" height="4.6" fill="none" stroke="#b0203e" stroke-width="1.3"/>
<rect x="127.50" y="329.40" width="4.6" height="4.6" fill="none" stroke="#b0203e" stroke-width="1.3"/>
<line x1="202.80" y1="256.00" x2="202.80" y2="350.00" stroke="#000" stroke-width="1.3" />
<line x1="202.80" y1="349.70" x2="346.00" y2="349.70" stroke="#000" stroke-width="1.3" />
<line x1="200.00" y1="270.80" x2="202.80" y2="270.80" stroke="#000" stroke-width="1.1" />
<text x="197.00" y="273.59" font-size="7.8" fill="#1e1e1e" text-anchor="end">90</text>
<line x1="200.00" y1="295.20" x2="202.80" y2="295.20" stroke="#000" stroke-width="1.1" />
<text x="197.00" y="297.99" font-size="7.8" fill="#1e1e1e" text-anchor="end">60</text>
<line x1="200.00" y1="319.60" x2="202.80" y2="319.60" stroke="#000" stroke-width="1.1" />
<text x="197.00" y="322.39" font-size="7.8" fill="#1e1e1e" text-anchor="end">30</text>
<line x1="200.00" y1="344.00" x2="202.80" y2="344.00" stroke="#000" stroke-width="1.1" />
<text x="197.00" y="346.79" font-size="7.8" fill="#1e1e1e" text-anchor="end">0</text>
<line x1="226.70" y1="256.00" x2="226.70" y2="349.70" stroke="#222" stroke-width="1.0" stroke-dasharray="1,1"/>
<line x1="250.70" y1="256.00" x2="250.70" y2="349.70" stroke="#222" stroke-width="1.0" stroke-dasharray="1,1"/>
<line x1="273.70" y1="256.00" x2="273.70" y2="349.70" stroke="#222" stroke-width="1.0" stroke-dasharray="1,1"/>
<line x1="298.90" y1="256.00" x2="298.90" y2="349.70" stroke="#222" stroke-width="1.0" stroke-dasharray="1,1"/>
<line x1="323.30" y1="256.00" x2="323.30" y2="349.70" stroke="#222" stroke-width="1.0" stroke-dasharray="1,1"/>
<line x1="202.80" y1="344.00" x2="346.00" y2="344.00" stroke="#222" stroke-width="1.2" stroke-dasharray="1,1"/>
<line x1="216.20" y1="349.70" x2="216.20" y2="352.70" stroke="#000" stroke-width="1.1" />
<text transform="translate(216.20,368.36) rotate(-90)" x="0" y="3.29" font-size="9.2" fill="#141414" text-anchor="middle">CD33</text>
<line x1="240.80" y1="349.70" x2="240.80" y2="352.70" stroke="#000" stroke-width="1.1" />
<text transform="translate(240.80,368.36) rotate(-90)" x="0" y="3.29" font-size="9.2" fill="#141414" text-anchor="middle">CD19</text>
<line x1="262.00" y1="349.70" x2="262.00" y2="352.70" stroke="#000" stroke-width="1.1" />
<text transform="translate(262.00,365.80) rotate(-90)" x="0" y="3.29" font-size="9.2" fill="#141414" text-anchor="middle">CD3</text>
<line x1="288.10" y1="349.70" x2="288.10" y2="352.70" stroke="#000" stroke-width="1.1" />
<text transform="translate(288.10,368.36) rotate(-90)" x="0" y="3.29" font-size="9.2" fill="#141414" text-anchor="middle">CD14</text>
<line x1="311.00" y1="349.70" x2="311.00" y2="352.70" stroke="#000" stroke-width="1.1" />
<text transform="translate(311.00,368.36) rotate(-90)" x="0" y="3.29" font-size="9.2" fill="#141414" text-anchor="middle">CD15</text>
<line x1="334.90" y1="349.70" x2="334.90" y2="352.70" stroke="#000" stroke-width="1.1" />
<text transform="translate(334.90,368.36) rotate(-90)" x="0" y="3.29" font-size="9.2" fill="#141414" text-anchor="middle">CD34</text>
<text transform="translate(168.30,304.50) rotate(-90)" x="0" y="3.01" font-size="8.4" fill="#141414" text-anchor="middle" textLength="57" lengthAdjust="spacingAndGlyphs" stroke="#141414" stroke-width="0.12">Fraction of hCD45<tspan font-size="5.4" dy="-3">+</tspan></text>
<text transform="translate(178.80,304.20) rotate(-90)" x="0" y="3.01" font-size="8.4" fill="#141414" text-anchor="middle" textLength="70" lengthAdjust="spacingAndGlyphs" stroke="#141414" stroke-width="0.12">cells in mouse BM (%)</text>
<circle cx="206.20" cy="263.50" r="2.5" fill="none" stroke="#2c4f82" stroke-width="1.3"/>
<circle cx="209.70" cy="263.50" r="2.5" fill="none" stroke="#2c4f82" stroke-width="1.3"/>
<circle cx="210.60" cy="267.30" r="2.5" fill="none" stroke="#2c4f82" stroke-width="1.3"/>
<circle cx="210.20" cy="269.40" r="2.5" fill="none" stroke="#2c4f82" stroke-width="1.3"/>
<circle cx="210.20" cy="298.10" r="2.5" fill="none" stroke="#2c4f82" stroke-width="1.3"/>
<circle cx="210.20" cy="344.00" r="2.5" fill="none" stroke="#2c4f82" stroke-width="1.3"/>
<circle cx="234.40" cy="317.50" r="2.5" fill="none" stroke="#2c4f82" stroke-width="1.3"/>
<circle cx="231.00" cy="342.00" r="2.5" fill="none" stroke="#2c4f82" stroke-width="1.3"/>
<circle cx="233.00" cy="340.00" r="2.5" fill="none" stroke="#2c4f82" stroke-width="1.3"/>
<circle cx="235.00" cy="338.00" r="2.5" fill="none" stroke="#2c4f82" stroke-width="1.3"/>
<circle cx="236.00" cy="342.00" r="2.5" fill="none" stroke="#2c4f82" stroke-width="1.3"/>
<circle cx="238.00" cy="343.00" r="2.5" fill="none" stroke="#2c4f82" stroke-width="1.3"/>
<circle cx="258.70" cy="263.50" r="2.5" fill="none" stroke="#2c4f82" stroke-width="1.3"/>
<circle cx="254.00" cy="344.00" r="2.5" fill="none" stroke="#2c4f82" stroke-width="1.3"/>
<circle cx="256.50" cy="344.00" r="2.5" fill="none" stroke="#2c4f82" stroke-width="1.3"/>
<circle cx="259.00" cy="344.00" r="2.5" fill="none" stroke="#2c4f82" stroke-width="1.3"/>
<circle cx="261.00" cy="344.00" r="2.5" fill="none" stroke="#2c4f82" stroke-width="1.3"/>
<circle cx="278.70" cy="312.30" r="2.5" fill="none" stroke="#2c4f82" stroke-width="1.3"/>
<circle cx="282.50" cy="306.70" r="2.5" fill="none" stroke="#2c4f82" stroke-width="1.3"/>
<circle cx="284.20" cy="320.00" r="2.5" fill="none" stroke="#2c4f82" stroke-width="1.3"/>
<circle cx="282.50" cy="330.00" r="2.5" fill="none" stroke="#2c4f82" stroke-width="1.3"/>
<circle cx="282.50" cy="334.40" r="2.5" fill="none" stroke="#2c4f82" stroke-width="1.3"/>
<circle cx="282.50" cy="337.90" r="2.5" fill="none" stroke="#2c4f82" stroke-width="1.3"/>
<circle cx="306.30" cy="295.80" r="2.5" fill="none" stroke="#2c4f82" stroke-width="1.3"/>
<circle cx="306.30" cy="302.80" r="2.5" fill="none" stroke="#2c4f82" stroke-width="1.3"/>
<circle cx="302.90" cy="324.00" r="2.5" fill="none" stroke="#2c4f82" stroke-width="1.3"/>
<circle cx="308.10" cy="324.40" r="2.5" fill="none" stroke="#2c4f82" stroke-width="1.3"/>
<circle cx="306.30" cy="328.70" r="2.5" fill="none" stroke="#2c4f82" stroke-width="1.3"/>
<circle cx="306.30" cy="331.70" r="2.5" fill="none" stroke="#2c4f82" stroke-width="1.3"/>
<circle cx="306.30" cy="334.80" r="2.5" fill="none" stroke="#2c4f82" stroke-width="1.3"/>
<circle cx="330.60" cy="306.20" r="2.5" fill="none" stroke="#2c4f82" stroke-width="1.3"/>
<circle cx="327.00" cy="338.00" r="2.5" fill="none" stroke="#2c4f82" stroke-width="1.3"/>
<circle cx="329.00" cy="336.00" r="2.5" fill="none" stroke="#2c4f82" stroke-width="1.3"/>
<circle cx="331.00" cy="339.00" r="2.5" fill="none" stroke="#2c4f82" stroke-width="1.3"/>
<circle cx="333.00" cy="337.00" r="2.5" fill="none" stroke="#2c4f82" stroke-width="1.3"/>
<circle cx="330.00" cy="341.50" r="2.5" fill="none" stroke="#2c4f82" stroke-width="1.3"/>
<circle cx="334.00" cy="341.00" r="2.5" fill="none" stroke="#2c4f82" stroke-width="1.3"/>
<rect x="214.70" y="261.70" width="4.6" height="4.6" fill="none" stroke="#b0203e" stroke-width="1.3"/>
<rect x="216.70" y="262.70" width="4.6" height="4.6" fill="none" stroke="#b0203e" stroke-width="1.3"/>
<rect x="218.70" y="261.70" width="4.6" height="4.6" fill="none" stroke="#b0203e" stroke-width="1.3"/>
<rect x="220.70" y="263.20" width="4.6" height="4.6" fill="none" stroke="#b0203e" stroke-width="1.3"/>
<rect x="222.20" y="263.70" width="4.6" height="4.6" fill="none" stroke="#b0203e" stroke-width="1.3"/>
<rect x="216.20" y="264.70" width="4.6" height="4.6" fill="none" stroke="#b0203e" stroke-width="1.3"/>
<rect x="219.70" y="265.70" width="4.6" height="4.6" fill="none" stroke="#b0203e" stroke-width="1.3"/>
<rect x="216.90" y="269.80" width="4.6" height="4.6" fill="none" stroke="#b0203e" stroke-width="1.3"/>
<rect x="216.90" y="278.00" width="4.6" height="4.6" fill="none" stroke="#b0203e" stroke-width="1.3"/>
<rect x="216.90" y="302.70" width="4.6" height="4.6" fill="none" stroke="#b0203e" stroke-width="1.3"/>
<rect x="241.50" y="327.30" width="4.6" height="4.6" fill="none" stroke="#b0203e" stroke-width="1.3"/>
<rect x="241.50" y="336.30" width="4.6" height="4.6" fill="none" stroke="#b0203e" stroke-width="1.3"/>
<rect x="236.70" y="340.70" width="4.6" height="4.6" fill="none" stroke="#b0203e" stroke-width="1.3"/>
<rect x="238.70" y="341.20" width="4.6" height="4.6" fill="none" stroke="#b0203e" stroke-width="1.3"/>
<rect x="241.20" y="340.70" width="4.6" height="4.6" fill="none" stroke="#b0203e" stroke-width="1.3"/>
<rect x="243.70" y="341.20" width="4.6" height="4.6" fill="none" stroke="#b0203e" stroke-width="1.3"/>
<rect x="246.20" y="340.70" width="4.6" height="4.6" fill="none" stroke="#b0203e" stroke-width="1.3"/>
<rect x="260.70" y="341.70" width="4.6" height="4.6" fill="none" stroke="#b0203e" stroke-width="1.3"/>
<rect x="263.20" y="341.70" width="4.6" height="4.6" fill="none" stroke="#b0203e" stroke-width="1.3"/>
<rect x="265.70" y="341.70" width="4.6" height="4.6" fill="none" stroke="#b0203e" stroke-width="1.3"/>
<rect x="268.20" y="341.70" width="4.6" height="4.6" fill="none" stroke="#b0203e" stroke-width="1.3"/>
<rect x="269.70" y="341.70" width="4.6" height="4.6" fill="none" stroke="#b0203e" stroke-width="1.3"/>
<rect x="265.00" y="306.50" width="4.6" height="4.6" fill="none" stroke="#b0203e" stroke-width="1.3"/>
<rect x="289.30" y="286.60" width="4.6" height="4.6" fill="none" stroke="#b0203e" stroke-width="1.3"/>
<rect x="289.30" y="315.50" width="4.6" height="4.6" fill="none" stroke="#b0203e" stroke-width="1.3"/>
<rect x="289.30" y="317.50" width="4.6" height="4.6" fill="none" stroke="#b0203e" stroke-width="1.3"/>
<rect x="289.30" y="319.50" width="4.6" height="4.6" fill="none" stroke="#b0203e" stroke-width="1.3"/>
<rect x="285.90" y="335.60" width="4.6" height="4.6" fill="none" stroke="#b0203e" stroke-width="1.3"/>
<rect x="289.30" y="335.60" width="4.6" height="4.6" fill="none" stroke="#b0203e" stroke-width="1.3"/>
<rect x="292.80" y="336.30" width="4.6" height="4.6" fill="none" stroke="#b0203e" stroke-width="1.3"/>
<rect x="288.50" y="341.10" width="4.6" height="4.6" fill="none" stroke="#b0203e" stroke-width="1.3"/>
<rect x="313.50" y="293.50" width="4.6" height="4.6" fill="none" stroke="#b0203e" stroke-width="1.3"/>
<rect x="313.50" y="296.70" width="4.6" height="4.6" fill="none" stroke="#b0203e" stroke-width="1.3"/>
<rect x="313.50" y="300.20" width="4.6" height="4.6" fill="none" stroke="#b0203e" stroke-width="1.3"/>
<rect x="313.50" y="303.70" width="4.6" height="4.6" fill="none" stroke="#b0203e" stroke-width="1.3"/>
<rect x="313.50" y="307.20" width="4.6" height="4.6" fill="none" stroke="#b0203e" stroke-width="1.3"/>
<rect x="313.50" y="310.70" width="4.6" height="4.6" fill="none" stroke="#b0203e" stroke-width="1.3"/>
<rect x="313.50" y="322.10" width="4.6" height="4.6" fill="none" stroke="#b0203e" stroke-width="1.3"/>
<rect x="313.00" y="339.90" width="4.6" height="4.6" fill="none" stroke="#b0203e" stroke-width="1.3"/>
<rect x="336.90" y="327.70" width="4.6" height="4.6" fill="none" stroke="#b0203e" stroke-width="1.3"/>
<rect x="336.90" y="334.20" width="4.6" height="4.6" fill="none" stroke="#b0203e" stroke-width="1.3"/>
<rect x="336.90" y="337.20" width="4.6" height="4.6" fill="none" stroke="#b0203e" stroke-width="1.3"/>
<rect x="336.90" y="340.30" width="4.6" height="4.6" fill="none" stroke="#b0203e" stroke-width="1.3"/>
<defs><clipPath id="cTL"><rect x="20" y="428" width="106" height="79"/></clipPath><clipPath id="cTR"><rect x="127.5" y="428" width="104" height="79"/></clipPath><clipPath id="cBL"><rect x="20" y="509" width="106" height="80"/></clipPath><clipPath id="cBR"><rect x="127.5" y="509" width="104" height="80"/></clipPath><clipPath id="cTRm"><path d="M128 430 L149 430 L153 438.5 L151 448.8 L157.2 453 L155.1 467.5 L146.8 471.7 L138.5 469.6 L128 467.5 Z M173.8 428 L188.3 428 L204.9 432.2 L209.1 438.5 L207 448.8 L196.6 450.9 L192.5 459.2 L194.5 467.5 L200.8 467.5 L209.1 457.2 L221.5 457.2 L229.8 463.4 L227.8 471.7 L217.4 475.8 L204.9 477.9 L198.7 486.2 L196.6 498.7 L188.3 502.8 L177.9 500.8 L175.8 488.3 L171.7 477.9 L167.5 473.8 L159.2 467.5 L157.2 453 L157.2 444.7 L173.8 442.6 Z M128 492.5 L136 491 L141 496 L140.5 505 L128 506 Z M227.8 480 L232 479 L232 489 L228 488 Z"/></clipPath></defs>
<rect x="19" y="426.5" width="108" height="81.5" fill="#dcf1e6"/>
<rect x="127" y="426.5" width="106" height="81.5" fill="#e6f7f1"/>
<rect x="19" y="508" width="108" height="82" fill="#c9d4e6"/>
<rect x="127" y="508" width="106" height="82" fill="#e3f5ef"/>
<g clip-path="url(#cTL)" filter="url(#b08)">
<circle cx="108.4" cy="440.4" r="7" fill="url(#ghost)"/>
<circle cx="106.3" cy="472.6" r="7.5" fill="url(#ghost)"/>
<circle cx="89.2" cy="497.2" r="9" fill="url(#ghost)"/>
<circle cx="121.5" cy="487.6" r="7" fill="url(#ghost)"/>
<circle cx="86.4" cy="431" r="7.5" fill="url(#ghost)"/>
<ellipse cx="32.00" cy="468.00" rx="10.00" ry="9.00" fill="#e6f3ec" opacity="1.0" transform="rotate(0 32.00 468.00)"/>
<ellipse cx="77.50" cy="429.00" rx="2.50" ry="2.00" fill="#5a3a6a" opacity="1.0" transform="rotate(0 77.50 429.00)"/>
<ellipse cx="124.00" cy="458.20" rx="2.50" ry="3.00" fill="#4a3a5a" opacity="1.0" transform="rotate(0 124.00 458.20)"/>
<ellipse cx="52.90" cy="453.60" rx="4.00" ry="4.00" fill="#6e3a80" opacity="1.0" transform="rotate(0 52.90 453.60)"/>
<ellipse cx="42.30" cy="443.00" rx="3.40" ry="3.40" fill="#764290" opacity="1.0" transform="rotate(0 42.30 443.00)"/>
<ellipse cx="46.60" cy="445.50" rx="3.20" ry="3.20" fill="#9468a6" opacity="1.0" transform="rotate(0 46.60 445.50)"/>
<ellipse cx="59.30" cy="464.10" rx="3.80" ry="3.80" fill="#7e4a92" opacity="1.0" transform="rotate(0 59.30 464.10)"/>
<ellipse cx="66.70" cy="462.00" rx="3.80" ry="3.80" fill="#8a589c" opacity="1.0" transform="rotate(0 66.70 462.00)"/>
<ellipse cx="73.00" cy="461.00" rx="3.80" ry="3.80" fill="#7e4a92" opacity="1.0" transform="rotate(0 73.00 461.00)"/>
<ellipse cx="79.40" cy="458.80" rx="3.80" ry="3.80" fill="#7a4690" opacity="1.0" transform="rotate(0 79.40 458.80)"/>
<ellipse cx="84.60" cy="457.80" rx="3.50" ry="3.50" fill="#703e86" opacity="1.0" transform="rotate(0 84.60 457.80)"/>
<ellipse cx="82.50" cy="464.10" rx="3.50" ry="3.50" fill="#764290" opacity="1.0" transform="rotate(0 82.50 464.10)"/>
<ellipse cx="85.70" cy="466.30" rx="3.30" ry="3.30" fill="#7e4a92" opacity="1.0" transform="rotate(0 85.70 466.30)"/>
<ellipse cx="79.40" cy="467.30" rx="3.50" ry="3.50" fill="#8a589c" opacity="1.0" transform="rotate(0 79.40 467.30)"/>
<ellipse cx="74.00" cy="465.20" rx="3.30" ry="3.30" fill="#84529a" opacity="1.0" transform="rotate(0 74.00 465.20)"/>
<ellipse cx="66.70" cy="467.30" rx="3.30" ry="3.30" fill="#8e5ea0" opacity="1.0" transform="rotate(0 66.70 467.30)"/>
<ellipse cx="60.30" cy="469.40" rx="3.50" ry="3.50" fill="#7e4a92" opacity="1.0" transform="rotate(0 60.30 469.40)"/>
<ellipse cx="54.00" cy="472.60" rx="3.50" ry="3.50" fill="#764290" opacity="1.0" transform="rotate(0 54.00 472.60)"/>
<ellipse cx="49.70" cy="475.80" rx="3.50" ry="3.50" fill="#703e86" opacity="1.0" transform="rotate(0 49.70 475.80)"/>
<ellipse cx="45.50" cy="476.80" rx="3.50" ry="3.50" fill="#6e3a80" opacity="1.0" transform="rotate(0 45.50 476.80)"/>
<ellipse cx="41.30" cy="481.10" rx="3.70" ry="3.70" fill="#64327a" opacity="1.0" transform="rotate(0 41.30 481.10)"/>
<ellipse cx="42.30" cy="487.40" rx="3.70" ry="3.70" fill="#6e3a80" opacity="1.0" transform="rotate(0 42.30 487.40)"/>
<ellipse cx="40.20" cy="489.50" rx="3.30" ry="3.30" fill="#764290" opacity="1.0" transform="rotate(0 40.20 489.50)"/>
<ellipse cx="46.60" cy="488.50" rx="3.50" ry="3.50" fill="#703e86" opacity="1.0" transform="rotate(0 46.60 488.50)"/>
<ellipse cx="47.60" cy="483.20" rx="3.30" ry="3.30" fill="#7e4a92" opacity="1.0" transform="rotate(0 47.60 483.20)"/>
<ellipse cx="88.90" cy="473.70" rx="3.50" ry="3.50" fill="#6e3a80" opacity="1.0" transform="rotate(0 88.90 473.70)"/>
<ellipse cx="91.00" cy="480.00" rx="3.70" ry="3.70" fill="#64327a" opacity="1.0" transform="rotate(0 91.00 480.00)"/>
<ellipse cx="96.30" cy="481.10" rx="3.70" ry="3.70" fill="#703e86" opacity="1.0" transform="rotate(0 96.30 481.10)"/>
<ellipse cx="97.30" cy="476.80" rx="3.30" ry="3.30" fill="#7e4a92" opacity="1.0" transform="rotate(0 97.30 476.80)"/>
<ellipse cx="93.10" cy="475.80" rx="3.30" ry="3.30" fill="#764290" opacity="1.0" transform="rotate(0 93.10 475.80)"/>
<ellipse cx="102.60" cy="453.60" rx="2.40" ry="2.40" fill="#5e2e74" opacity="1.0" transform="rotate(0 102.60 453.60)"/>
</g>
<g clip-path="url(#cTR)">
<g filter="url(#b08)"><g clip-path="url(#cTRm)"><rect x="127" y="426" width="106" height="82" fill="#8a5aa8"/></g></g>
<g filter="url(#b08)">
<circle cx="128.2" cy="428.2" r="3.7" fill="#643a8a" stroke="#4a2a6a" stroke-width="0.5" stroke-opacity="0.6"/>
<circle cx="146.0" cy="429.0" r="3.8" fill="#a07cc0" stroke="#4a2a6a" stroke-width="0.5" stroke-opacity="0.6"/>
<circle cx="190.1" cy="428.5" r="3.0" fill="#a07cc0" stroke="#4a2a6a" stroke-width="0.5" stroke-opacity="0.6"/>
<circle cx="133.4" cy="432.2" r="3.5" fill="#9468b2" stroke="#4a2a6a" stroke-width="0.5" stroke-opacity="0.6"/>
<circle cx="137.4" cy="431.1" r="3.8" fill="#a07cc0" stroke="#4a2a6a" stroke-width="0.5" stroke-opacity="0.6"/>
<circle cx="140.7" cy="433.9" r="3.0" fill="#a07cc0" stroke="#4a2a6a" stroke-width="0.5" stroke-opacity="0.6"/>
<circle cx="146.1" cy="433.6" r="2.9" fill="#52307a" stroke="#4a2a6a" stroke-width="0.5" stroke-opacity="0.6"/>
<circle cx="174.5" cy="432.1" r="3.7" fill="#8656a6" stroke="#4a2a6a" stroke-width="0.5" stroke-opacity="0.6"/>
<circle cx="177.9" cy="432.8" r="3.9" fill="#52307a" stroke="#4a2a6a" stroke-width="0.5" stroke-opacity="0.6"/>
<circle cx="182.6" cy="433.0" r="3.8" fill="#78489a" stroke="#4a2a6a" stroke-width="0.5" stroke-opacity="0.6"/>
<circle cx="189.9" cy="431.7" r="2.9" fill="#643a8a" stroke="#4a2a6a" stroke-width="0.5" stroke-opacity="0.6"/>
<circle cx="195.8" cy="431.0" r="3.6" fill="#8a5cae" stroke="#4a2a6a" stroke-width="0.5" stroke-opacity="0.6"/>
<circle cx="199.4" cy="433.4" r="3.4" fill="#a07cc0" stroke="#4a2a6a" stroke-width="0.5" stroke-opacity="0.6"/>
<circle cx="204.5" cy="433.1" r="3.1" fill="#643a8a" stroke="#4a2a6a" stroke-width="0.5" stroke-opacity="0.6"/>
<circle cx="131.5" cy="437.0" r="3.9" fill="#52307a" stroke="#4a2a6a" stroke-width="0.5" stroke-opacity="0.6"/>
<circle cx="135.4" cy="437.1" r="3.1" fill="#9468b2" stroke="#4a2a6a" stroke-width="0.5" stroke-opacity="0.6"/>
<circle cx="143.1" cy="439.1" r="3.7" fill="#52307a" stroke="#4a2a6a" stroke-width="0.5" stroke-opacity="0.6"/>
<circle cx="149.5" cy="436.7" r="3.4" fill="#a07cc0" stroke="#4a2a6a" stroke-width="0.5" stroke-opacity="0.6"/>
<circle cx="178.0" cy="437.4" r="3.5" fill="#8a5cae" stroke="#4a2a6a" stroke-width="0.5" stroke-opacity="0.6"/>
<circle cx="184.4" cy="435.8" r="2.9" fill="#8656a6" stroke="#4a2a6a" stroke-width="0.5" stroke-opacity="0.6"/>
<circle cx="190.9" cy="436.5" r="4.0" fill="#8a5cae" stroke="#4a2a6a" stroke-width="0.5" stroke-opacity="0.6"/>
<circle cx="194.4" cy="435.6" r="3.5" fill="#52307a" stroke="#4a2a6a" stroke-width="0.5" stroke-opacity="0.6"/>
<circle cx="197.8" cy="436.2" r="3.5" fill="#78489a" stroke="#4a2a6a" stroke-width="0.5" stroke-opacity="0.6"/>
<circle cx="204.4" cy="439.1" r="3.0" fill="#78489a" stroke="#4a2a6a" stroke-width="0.5" stroke-opacity="0.6"/>
<circle cx="133.0" cy="440.6" r="3.5" fill="#a07cc0" stroke="#4a2a6a" stroke-width="0.5" stroke-opacity="0.6"/>
<circle cx="135.6" cy="441.2" r="2.8" fill="#8656a6" stroke="#4a2a6a" stroke-width="0.5" stroke-opacity="0.6"/>
<circle cx="141.5" cy="441.4" r="3.2" fill="#78489a" stroke="#4a2a6a" stroke-width="0.5" stroke-opacity="0.6"/>
<circle cx="146.0" cy="441.5" r="3.9" fill="#a07cc0" stroke="#4a2a6a" stroke-width="0.5" stroke-opacity="0.6"/>
<circle cx="169.7" cy="444.4" r="3.3" fill="#52307a" stroke="#4a2a6a" stroke-width="0.5" stroke-opacity="0.6"/>
<circle cx="173.3" cy="443.4" r="3.9" fill="#9468b2" stroke="#4a2a6a" stroke-width="0.5" stroke-opacity="0.6"/>
<circle cx="178.4" cy="443.9" r="3.2" fill="#7a4ea0" stroke="#4a2a6a" stroke-width="0.5" stroke-opacity="0.6"/>
<circle cx="183.1" cy="444.1" r="3.4" fill="#643a8a" stroke="#4a2a6a" stroke-width="0.5" stroke-opacity="0.6"/>
<circle cx="189.4" cy="443.5" r="2.9" fill="#643a8a" stroke="#4a2a6a" stroke-width="0.5" stroke-opacity="0.6"/>
<circle cx="194.7" cy="441.9" r="2.8" fill="#8656a6" stroke="#4a2a6a" stroke-width="0.5" stroke-opacity="0.6"/>
<circle cx="199.8" cy="440.8" r="3.8" fill="#9468b2" stroke="#4a2a6a" stroke-width="0.5" stroke-opacity="0.6"/>
<circle cx="203.2" cy="442.7" r="3.6" fill="#643a8a" stroke="#4a2a6a" stroke-width="0.5" stroke-opacity="0.6"/>
<circle cx="132.4" cy="448.5" r="3.3" fill="#8656a6" stroke="#4a2a6a" stroke-width="0.5" stroke-opacity="0.6"/>
<circle cx="136.2" cy="449.8" r="3.8" fill="#643a8a" stroke="#4a2a6a" stroke-width="0.5" stroke-opacity="0.6"/>
<circle cx="143.6" cy="449.6" r="3.3" fill="#52307a" stroke="#4a2a6a" stroke-width="0.5" stroke-opacity="0.6"/>
<circle cx="147.0" cy="447.6" r="3.6" fill="#8656a6" stroke="#4a2a6a" stroke-width="0.5" stroke-opacity="0.6"/>
<circle cx="164.8" cy="446.5" r="2.8" fill="#9468b2" stroke="#4a2a6a" stroke-width="0.5" stroke-opacity="0.6"/>
<circle cx="169.4" cy="446.8" r="3.2" fill="#a07cc0" stroke="#4a2a6a" stroke-width="0.5" stroke-opacity="0.6"/>
<circle cx="172.1" cy="446.6" r="3.3" fill="#78489a" stroke="#4a2a6a" stroke-width="0.5" stroke-opacity="0.6"/>
<circle cx="179.7" cy="447.8" r="3.8" fill="#52307a" stroke="#4a2a6a" stroke-width="0.5" stroke-opacity="0.6"/>
<circle cx="184.4" cy="447.6" r="4.0" fill="#643a8a" stroke="#4a2a6a" stroke-width="0.5" stroke-opacity="0.6"/>
<circle cx="188.5" cy="447.8" r="3.8" fill="#8a5cae" stroke="#4a2a6a" stroke-width="0.5" stroke-opacity="0.6"/>
<circle cx="196.3" cy="446.6" r="3.9" fill="#8a5cae" stroke="#4a2a6a" stroke-width="0.5" stroke-opacity="0.6"/>
<circle cx="200.7" cy="446.8" r="3.2" fill="#643a8a" stroke="#4a2a6a" stroke-width="0.5" stroke-opacity="0.6"/>
<circle cx="203.8" cy="447.1" r="2.8" fill="#52307a" stroke="#4a2a6a" stroke-width="0.5" stroke-opacity="0.6"/>
<circle cx="128.6" cy="452.0" r="2.9" fill="#643a8a" stroke="#4a2a6a" stroke-width="0.5" stroke-opacity="0.6"/>
<circle cx="132.6" cy="454.7" r="3.1" fill="#9468b2" stroke="#4a2a6a" stroke-width="0.5" stroke-opacity="0.6"/>
<circle cx="135.8" cy="454.4" r="3.3" fill="#643a8a" stroke="#4a2a6a" stroke-width="0.5" stroke-opacity="0.6"/>
<circle cx="142.2" cy="454.1" r="3.7" fill="#a07cc0" stroke="#4a2a6a" stroke-width="0.5" stroke-opacity="0.6"/>
<circle cx="147.1" cy="453.5" r="3.6" fill="#643a8a" stroke="#4a2a6a" stroke-width="0.5" stroke-opacity="0.6"/>
<circle cx="153.0" cy="451.4" r="2.8" fill="#7a4ea0" stroke="#4a2a6a" stroke-width="0.5" stroke-opacity="0.6"/>
<circle cx="159.2" cy="454.3" r="3.7" fill="#52307a" stroke="#4a2a6a" stroke-width="0.5" stroke-opacity="0.6"/>
<circle cx="163.3" cy="452.6" r="2.8" fill="#643a8a" stroke="#4a2a6a" stroke-width="0.5" stroke-opacity="0.6"/>
<circle cx="170.4" cy="452.5" r="3.6" fill="#9468b2" stroke="#4a2a6a" stroke-width="0.5" stroke-opacity="0.6"/>
<circle cx="175.3" cy="452.7" r="3.0" fill="#9468b2" stroke="#4a2a6a" stroke-width="0.5" stroke-opacity="0.6"/>
<circle cx="178.5" cy="452.4" r="4.0" fill="#8a5cae" stroke="#4a2a6a" stroke-width="0.5" stroke-opacity="0.6"/>
<circle cx="182.4" cy="452.1" r="3.7" fill="#9468b2" stroke="#4a2a6a" stroke-width="0.5" stroke-opacity="0.6"/>
<circle cx="188.3" cy="451.2" r="3.7" fill="#a07cc0" stroke="#4a2a6a" stroke-width="0.5" stroke-opacity="0.6"/>
<circle cx="194.8" cy="452.8" r="3.9" fill="#8a5cae" stroke="#4a2a6a" stroke-width="0.5" stroke-opacity="0.6"/>
<circle cx="133.8" cy="460.0" r="3.2" fill="#7a4ea0" stroke="#4a2a6a" stroke-width="0.5" stroke-opacity="0.6"/>
<circle cx="135.7" cy="458.3" r="3.6" fill="#8656a6" stroke="#4a2a6a" stroke-width="0.5" stroke-opacity="0.6"/>
<circle cx="141.3" cy="457.8" r="3.9" fill="#8656a6" stroke="#4a2a6a" stroke-width="0.5" stroke-opacity="0.6"/>
<circle cx="148.8" cy="459.1" r="2.9" fill="#8656a6" stroke="#4a2a6a" stroke-width="0.5" stroke-opacity="0.6"/>
<circle cx="151.8" cy="457.5" r="3.5" fill="#9468b2" stroke="#4a2a6a" stroke-width="0.5" stroke-opacity="0.6"/>
<circle cx="157.9" cy="457.7" r="3.1" fill="#8656a6" stroke="#4a2a6a" stroke-width="0.5" stroke-opacity="0.6"/>
<circle cx="164.1" cy="459.4" r="3.2" fill="#643a8a" stroke="#4a2a6a" stroke-width="0.5" stroke-opacity="0.6"/>
<circle cx="167.9" cy="458.0" r="3.6" fill="#8656a6" stroke="#4a2a6a" stroke-width="0.5" stroke-opacity="0.6"/>
<circle cx="172.1" cy="457.7" r="3.8" fill="#a07cc0" stroke="#4a2a6a" stroke-width="0.5" stroke-opacity="0.6"/>
<circle cx="180.8" cy="458.2" r="3.5" fill="#9468b2" stroke="#4a2a6a" stroke-width="0.5" stroke-opacity="0.6"/>
<circle cx="184.4" cy="458.6" r="2.8" fill="#52307a" stroke="#4a2a6a" stroke-width="0.5" stroke-opacity="0.6"/>
<circle cx="189.7" cy="459.4" r="3.6" fill="#8656a6" stroke="#4a2a6a" stroke-width="0.5" stroke-opacity="0.6"/>
<circle cx="211.3" cy="458.1" r="3.0" fill="#7a4ea0" stroke="#4a2a6a" stroke-width="0.5" stroke-opacity="0.6"/>
<circle cx="215.3" cy="459.7" r="3.7" fill="#7a4ea0" stroke="#4a2a6a" stroke-width="0.5" stroke-opacity="0.6"/>
<circle cx="219.1" cy="458.3" r="2.9" fill="#8a5cae" stroke="#4a2a6a" stroke-width="0.5" stroke-opacity="0.6"/>
<circle cx="128.1" cy="461.5" r="3.5" fill="#8a5cae" stroke="#4a2a6a" stroke-width="0.5" stroke-opacity="0.6"/>
<circle cx="134.2" cy="465.2" r="3.2" fill="#9468b2" stroke="#4a2a6a" stroke-width="0.5" stroke-opacity="0.6"/>
<circle cx="138.1" cy="462.2" r="4.0" fill="#8a5cae" stroke="#4a2a6a" stroke-width="0.5" stroke-opacity="0.6"/>
<circle cx="143.2" cy="462.2" r="3.4" fill="#a07cc0" stroke="#4a2a6a" stroke-width="0.5" stroke-opacity="0.6"/>
<circle cx="147.3" cy="461.5" r="3.8" fill="#7a4ea0" stroke="#4a2a6a" stroke-width="0.5" stroke-opacity="0.6"/>
<circle cx="151.3" cy="462.0" r="3.0" fill="#643a8a" stroke="#4a2a6a" stroke-width="0.5" stroke-opacity="0.6"/>
<circle cx="162.4" cy="464.7" r="4.0" fill="#643a8a" stroke="#4a2a6a" stroke-width="0.5" stroke-opacity="0.6"/>
<circle cx="166.6" cy="461.6" r="3.9" fill="#78489a" stroke="#4a2a6a" stroke-width="0.5" stroke-opacity="0.6"/>
<circle cx="172.0" cy="465.1" r="4.0" fill="#7a4ea0" stroke="#4a2a6a" stroke-width="0.5" stroke-opacity="0.6"/>
<circle cx="180.3" cy="461.5" r="2.9" fill="#643a8a" stroke="#4a2a6a" stroke-width="0.5" stroke-opacity="0.6"/>
<circle cx="185.9" cy="462.3" r="3.4" fill="#9468b2" stroke="#4a2a6a" stroke-width="0.5" stroke-opacity="0.6"/>
<circle cx="188.5" cy="463.7" r="3.7" fill="#a07cc0" stroke="#4a2a6a" stroke-width="0.5" stroke-opacity="0.6"/>
<circle cx="193.4" cy="465.3" r="4.0" fill="#78489a" stroke="#4a2a6a" stroke-width="0.5" stroke-opacity="0.6"/>
<circle cx="205.3" cy="462.5" r="2.8" fill="#78489a" stroke="#4a2a6a" stroke-width="0.5" stroke-opacity="0.6"/>
<circle cx="211.1" cy="465.4" r="4.0" fill="#52307a" stroke="#4a2a6a" stroke-width="0.5" stroke-opacity="0.6"/>
<circle cx="215.8" cy="461.7" r="4.0" fill="#8656a6" stroke="#4a2a6a" stroke-width="0.5" stroke-opacity="0.6"/>
<circle cx="221.8" cy="464.1" r="3.9" fill="#8656a6" stroke="#4a2a6a" stroke-width="0.5" stroke-opacity="0.6"/>
<circle cx="225.8" cy="464.0" r="3.3" fill="#7a4ea0" stroke="#4a2a6a" stroke-width="0.5" stroke-opacity="0.6"/>
<circle cx="132.6" cy="467.3" r="3.0" fill="#78489a" stroke="#4a2a6a" stroke-width="0.5" stroke-opacity="0.6"/>
<circle cx="143.0" cy="467.6" r="3.3" fill="#a07cc0" stroke="#4a2a6a" stroke-width="0.5" stroke-opacity="0.6"/>
<circle cx="148.6" cy="470.6" r="3.7" fill="#7a4ea0" stroke="#4a2a6a" stroke-width="0.5" stroke-opacity="0.6"/>
<circle cx="163.7" cy="467.0" r="3.4" fill="#78489a" stroke="#4a2a6a" stroke-width="0.5" stroke-opacity="0.6"/>
<circle cx="169.4" cy="468.7" r="3.9" fill="#8656a6" stroke="#4a2a6a" stroke-width="0.5" stroke-opacity="0.6"/>
<circle cx="173.9" cy="469.5" r="3.9" fill="#a07cc0" stroke="#4a2a6a" stroke-width="0.5" stroke-opacity="0.6"/>
<circle cx="177.3" cy="467.5" r="3.7" fill="#7a4ea0" stroke="#4a2a6a" stroke-width="0.5" stroke-opacity="0.6"/>
<circle cx="186.2" cy="467.8" r="3.6" fill="#78489a" stroke="#4a2a6a" stroke-width="0.5" stroke-opacity="0.6"/>
<circle cx="188.4" cy="466.9" r="3.0" fill="#8656a6" stroke="#4a2a6a" stroke-width="0.5" stroke-opacity="0.6"/>
<circle cx="193.8" cy="468.8" r="3.5" fill="#8656a6" stroke="#4a2a6a" stroke-width="0.5" stroke-opacity="0.6"/>
<circle cx="198.0" cy="467.8" r="2.8" fill="#7a4ea0" stroke="#4a2a6a" stroke-width="0.5" stroke-opacity="0.6"/>
<circle cx="204.0" cy="467.2" r="3.3" fill="#8656a6" stroke="#4a2a6a" stroke-width="0.5" stroke-opacity="0.6"/>
<circle cx="211.4" cy="470.4" r="3.0" fill="#9468b2" stroke="#4a2a6a" stroke-width="0.5" stroke-opacity="0.6"/>
<circle cx="217.1" cy="468.4" r="3.1" fill="#52307a" stroke="#4a2a6a" stroke-width="0.5" stroke-opacity="0.6"/>
<circle cx="218.9" cy="468.0" r="3.1" fill="#a07cc0" stroke="#4a2a6a" stroke-width="0.5" stroke-opacity="0.6"/>
<circle cx="225.9" cy="468.1" r="3.4" fill="#a07cc0" stroke="#4a2a6a" stroke-width="0.5" stroke-opacity="0.6"/>
<circle cx="168.7" cy="472.8" r="3.8" fill="#a07cc0" stroke="#4a2a6a" stroke-width="0.5" stroke-opacity="0.6"/>
<circle cx="174.4" cy="474.1" r="3.9" fill="#8a5cae" stroke="#4a2a6a" stroke-width="0.5" stroke-opacity="0.6"/>
<circle cx="180.8" cy="472.6" r="2.9" fill="#9468b2" stroke="#4a2a6a" stroke-width="0.5" stroke-opacity="0.6"/>
<circle cx="182.7" cy="473.2" r="3.7" fill="#8656a6" stroke="#4a2a6a" stroke-width="0.5" stroke-opacity="0.6"/>
<circle cx="188.7" cy="473.6" r="3.3" fill="#7a4ea0" stroke="#4a2a6a" stroke-width="0.5" stroke-opacity="0.6"/>
<circle cx="193.3" cy="474.6" r="3.4" fill="#8656a6" stroke="#4a2a6a" stroke-width="0.5" stroke-opacity="0.6"/>
<circle cx="201.1" cy="471.8" r="3.2" fill="#78489a" stroke="#4a2a6a" stroke-width="0.5" stroke-opacity="0.6"/>
<circle cx="206.6" cy="472.2" r="3.6" fill="#78489a" stroke="#4a2a6a" stroke-width="0.5" stroke-opacity="0.6"/>
<circle cx="209.4" cy="473.7" r="3.7" fill="#8a5cae" stroke="#4a2a6a" stroke-width="0.5" stroke-opacity="0.6"/>
<circle cx="215.1" cy="472.7" r="3.6" fill="#9468b2" stroke="#4a2a6a" stroke-width="0.5" stroke-opacity="0.6"/>
<circle cx="224.7" cy="472.5" r="3.1" fill="#52307a" stroke="#4a2a6a" stroke-width="0.5" stroke-opacity="0.6"/>
<circle cx="173.6" cy="477.6" r="3.3" fill="#7a4ea0" stroke="#4a2a6a" stroke-width="0.5" stroke-opacity="0.6"/>
<circle cx="178.1" cy="480.0" r="3.4" fill="#52307a" stroke="#4a2a6a" stroke-width="0.5" stroke-opacity="0.6"/>
<circle cx="183.7" cy="478.4" r="3.4" fill="#78489a" stroke="#4a2a6a" stroke-width="0.5" stroke-opacity="0.6"/>
<circle cx="188.3" cy="479.1" r="3.1" fill="#52307a" stroke="#4a2a6a" stroke-width="0.5" stroke-opacity="0.6"/>
<circle cx="196.6" cy="477.7" r="3.0" fill="#8a5cae" stroke="#4a2a6a" stroke-width="0.5" stroke-opacity="0.6"/>
<circle cx="201.2" cy="480.1" r="3.4" fill="#7a4ea0" stroke="#4a2a6a" stroke-width="0.5" stroke-opacity="0.6"/>
<circle cx="177.5" cy="484.1" r="3.9" fill="#643a8a" stroke="#4a2a6a" stroke-width="0.5" stroke-opacity="0.6"/>
<circle cx="185.7" cy="483.6" r="3.6" fill="#78489a" stroke="#4a2a6a" stroke-width="0.5" stroke-opacity="0.6"/>
<circle cx="190.6" cy="484.0" r="3.0" fill="#a07cc0" stroke="#4a2a6a" stroke-width="0.5" stroke-opacity="0.6"/>
<circle cx="196.4" cy="483.8" r="2.9" fill="#9468b2" stroke="#4a2a6a" stroke-width="0.5" stroke-opacity="0.6"/>
<circle cx="201.1" cy="482.5" r="3.9" fill="#a07cc0" stroke="#4a2a6a" stroke-width="0.5" stroke-opacity="0.6"/>
<circle cx="231.8" cy="483.9" r="2.9" fill="#8656a6" stroke="#4a2a6a" stroke-width="0.5" stroke-opacity="0.6"/>
<circle cx="178.8" cy="487.8" r="3.2" fill="#643a8a" stroke="#4a2a6a" stroke-width="0.5" stroke-opacity="0.6"/>
<circle cx="183.6" cy="489.3" r="2.8" fill="#52307a" stroke="#4a2a6a" stroke-width="0.5" stroke-opacity="0.6"/>
<circle cx="188.8" cy="487.8" r="3.4" fill="#a07cc0" stroke="#4a2a6a" stroke-width="0.5" stroke-opacity="0.6"/>
<circle cx="196.2" cy="488.0" r="3.4" fill="#78489a" stroke="#4a2a6a" stroke-width="0.5" stroke-opacity="0.6"/>
<circle cx="230.3" cy="487.9" r="3.5" fill="#8a5cae" stroke="#4a2a6a" stroke-width="0.5" stroke-opacity="0.6"/>
<circle cx="133.5" cy="495.7" r="3.1" fill="#643a8a" stroke="#4a2a6a" stroke-width="0.5" stroke-opacity="0.6"/>
<circle cx="135.4" cy="494.0" r="3.9" fill="#7a4ea0" stroke="#4a2a6a" stroke-width="0.5" stroke-opacity="0.6"/>
<circle cx="177.3" cy="495.7" r="3.6" fill="#52307a" stroke="#4a2a6a" stroke-width="0.5" stroke-opacity="0.6"/>
<circle cx="184.8" cy="493.5" r="3.6" fill="#8656a6" stroke="#4a2a6a" stroke-width="0.5" stroke-opacity="0.6"/>
<circle cx="190.7" cy="494.8" r="2.8" fill="#8656a6" stroke="#4a2a6a" stroke-width="0.5" stroke-opacity="0.6"/>
<circle cx="196.3" cy="495.9" r="3.3" fill="#9468b2" stroke="#4a2a6a" stroke-width="0.5" stroke-opacity="0.6"/>
<circle cx="132.1" cy="500.2" r="3.4" fill="#8656a6" stroke="#4a2a6a" stroke-width="0.5" stroke-opacity="0.6"/>
<circle cx="138.0" cy="498.6" r="3.5" fill="#8a5cae" stroke="#4a2a6a" stroke-width="0.5" stroke-opacity="0.6"/>
<circle cx="184.8" cy="499.8" r="3.6" fill="#a07cc0" stroke="#4a2a6a" stroke-width="0.5" stroke-opacity="0.6"/>
<circle cx="187.8" cy="499.9" r="3.7" fill="#643a8a" stroke="#4a2a6a" stroke-width="0.5" stroke-opacity="0.6"/>
<circle cx="192.9" cy="498.1" r="3.0" fill="#9468b2" stroke="#4a2a6a" stroke-width="0.5" stroke-opacity="0.6"/>
<circle cx="130.4" cy="504.2" r="3.8" fill="#7a4ea0" stroke="#4a2a6a" stroke-width="0.5" stroke-opacity="0.6"/>
<circle cx="167" cy="458" r="3" fill="#d8cce6" opacity="0.8"/>
<circle cx="162" cy="463" r="2.5" fill="#d8cce6" opacity="0.8"/>
<circle cx="176" cy="460" r="2" fill="#d8cce6" opacity="0.8"/>
<circle cx="199" cy="475" r="1.8" fill="#d8cce6" opacity="0.8"/>
<circle cx="140" cy="446" r="2" fill="#d8cce6" opacity="0.8"/>
<circle cx="193" cy="470" r="1.5" fill="#d8cce6" opacity="0.8"/>
<circle cx="150" cy="440" r="2.5" fill="#d8cce6" opacity="0.8"/>
<circle cx="137" cy="455" r="1.8" fill="#d8cce6" opacity="0.8"/>
<circle cx="212" cy="466" r="1.5" fill="#d8cce6" opacity="0.8"/>
<circle cx="185" cy="492" r="1.8" fill="#d8cce6" opacity="0.8"/>
</g>
<g filter="url(#b08)">
<ellipse cx="230.00" cy="436.00" rx="6.00" ry="6.00" fill="#dcc8d8" opacity="1.0" transform="rotate(0 230.00 436.00)"/>
<ellipse cx="160.00" cy="434.00" rx="5.00" ry="5.00" fill="#d8c4dc" opacity="1.0" transform="rotate(0 160.00 434.00)"/>
<ellipse cx="167.00" cy="440.00" rx="3.50" ry="3.50" fill="#d0b8d4" opacity="1.0" transform="rotate(0 167.00 440.00)"/>
<ellipse cx="214.00" cy="501.00" rx="4.00" ry="4.00" fill="#d8cce0" opacity="1.0" transform="rotate(0 214.00 501.00)"/>
</g></g>
<g clip-path="url(#cBL)" filter="url(#b08)">
<ellipse cx="25.00" cy="558.00" rx="10.00" ry="9.00" fill="#c0aed0" opacity="1.0" transform="rotate(0 25.00 558.00)"/>
<ellipse cx="112.00" cy="511.50" rx="15.00" ry="6.00" fill="#a892bc" opacity="1.0" transform="rotate(0 112.00 511.50)"/>
<ellipse cx="75.10" cy="525.70" rx="9.30" ry="9.30" fill="#8a62a4" opacity="1.0" transform="rotate(0 75.10 525.70)" stroke="#4a2a6a" stroke-width="0.9" stroke-opacity="0.7"/>
<ellipse cx="86.50" cy="535.00" rx="12.40" ry="12.40" fill="#74508e" opacity="1.0" transform="rotate(0 86.50 535.00)" stroke="#4a2a6a" stroke-width="0.9" stroke-opacity="0.7"/>
<ellipse cx="103.10" cy="532.90" rx="8.30" ry="8.30" fill="#8c68a8" opacity="1.0" transform="rotate(0 103.10 532.90)" stroke="#4a2a6a" stroke-width="0.9" stroke-opacity="0.7"/>
<ellipse cx="89.60" cy="517.30" rx="7.80" ry="7.80" fill="#452a70" opacity="1.0" transform="rotate(0 89.60 517.30)"/>
<ellipse cx="69.90" cy="546.40" rx="10.30" ry="10.30" fill="#8a62a4" opacity="1.0" transform="rotate(0 69.90 546.40)" stroke="#4a2a6a" stroke-width="0.9" stroke-opacity="0.7"/>
<ellipse cx="61.60" cy="563.00" rx="10.30" ry="10.30" fill="#9a7cb4" opacity="1.0" transform="rotate(0 61.60 563.00)" stroke="#4a2a6a" stroke-width="0.9" stroke-opacity="0.7"/>
<ellipse cx="53.30" cy="578.60" rx="11.40" ry="11.40" fill="#7c5098" opacity="1.0" transform="rotate(0 53.30 578.60)" stroke="#4a2a6a" stroke-width="0.9" stroke-opacity="0.7"/>
<ellipse cx="43.90" cy="564.10" rx="6.80" ry="6.80" fill="#452a70" opacity="1.0" transform="rotate(0 43.90 564.10)"/>
<ellipse cx="83.40" cy="573.40" rx="10.00" ry="10.00" fill="#9c80b6" opacity="1.0" transform="rotate(0 83.40 573.40)" stroke="#4a2a6a" stroke-width="0.9" stroke-opacity="0.7"/>
<ellipse cx="112.50" cy="576.50" rx="3.50" ry="3.50" fill="#a890c0" opacity="1.0" transform="rotate(0 112.50 576.50)"/>
<ellipse cx="27.30" cy="526.70" rx="1.80" ry="1.80" fill="#6a4a80" opacity="1.0" transform="rotate(0 27.30 526.70)"/>
<ellipse cx="60.00" cy="563.00" rx="3.50" ry="3.00" fill="#c8b8d8" opacity="0.8" transform="rotate(0 60.00 563.00)"/>
<ellipse cx="80.00" cy="575.00" rx="3.50" ry="3.00" fill="#d0c8e0" opacity="0.9" transform="rotate(0 80.00 575.00)"/>
</g>
<g clip-path="url(#cBR)" filter="url(#b08)">
<path d="M132.2 545.4 L138.5 541.2 L150.9 530.8 L169.6 526.7 L175.8 520.5 L188.3 512.2 L234 510 L234 590 L194.5 590 L188.3 576.5 L167.5 572.4 L150.9 572.4 L138.5 568.2 L132.2 560 Z" fill="#c0b8dc"/>
<ellipse cx="188.30" cy="530.80" rx="13.00" ry="13.00" fill="#7c4ca0" opacity="1.0" transform="rotate(0 188.30 530.80)" stroke="#4a2a6a" stroke-width="0.9" stroke-opacity="0.7"/>
<ellipse cx="157.20" cy="539.20" rx="8.80" ry="8.80" fill="#9466b0" opacity="1.0" transform="rotate(0 157.20 539.20)" stroke="#4a2a6a" stroke-width="0.9" stroke-opacity="0.7"/>
<ellipse cx="146.80" cy="551.60" rx="8.30" ry="8.30" fill="#8c5eac" opacity="1.0" transform="rotate(0 146.80 551.60)" stroke="#4a2a6a" stroke-width="0.9" stroke-opacity="0.7"/>
<ellipse cx="142.60" cy="562.40" rx="7.20" ry="7.20" fill="#8c5eac" opacity="1.0" transform="rotate(0 142.60 562.40)" stroke="#4a2a6a" stroke-width="0.9" stroke-opacity="0.7"/>
<ellipse cx="163.40" cy="561.00" rx="9.30" ry="9.30" fill="#8656a6" opacity="1.0" transform="rotate(0 163.40 561.00)" stroke="#4a2a6a" stroke-width="0.9" stroke-opacity="0.7"/>
<ellipse cx="179.00" cy="546.40" rx="10.00" ry="10.00" fill="#9a74b8" opacity="1.0" transform="rotate(0 179.00 546.40)" stroke="#4a2a6a" stroke-width="0.9" stroke-opacity="0.7"/>
<ellipse cx="183.10" cy="564.10" rx="9.30" ry="9.30" fill="#8656a6" opacity="1.0" transform="rotate(0 183.10 564.10)" stroke="#4a2a6a" stroke-width="0.9" stroke-opacity="0.7"/>
<ellipse cx="209.10" cy="566.20" rx="10.30" ry="10.30" fill="#7e4ea2" opacity="1.0" transform="rotate(0 209.10 566.20)" stroke="#4a2a6a" stroke-width="0.9" stroke-opacity="0.7"/>
<ellipse cx="223.60" cy="547.50" rx="9.30" ry="9.30" fill="#744a9c" opacity="1.0" transform="rotate(0 223.60 547.50)" stroke="#4a2a6a" stroke-width="0.9" stroke-opacity="0.7"/>
<ellipse cx="222.60" cy="570.30" rx="10.30" ry="10.30" fill="#7e4ea2" opacity="1.0" transform="rotate(0 222.60 570.30)" stroke="#4a2a6a" stroke-width="0.9" stroke-opacity="0.7"/>
<ellipse cx="217.40" cy="584.80" rx="9.30" ry="9.30" fill="#9270b4" opacity="1.0" transform="rotate(0 217.40 584.80)" stroke="#4a2a6a" stroke-width="0.9" stroke-opacity="0.7"/>
<ellipse cx="202.80" cy="516.30" rx="7.00" ry="7.00" fill="#7e4ea2" opacity="1.0" transform="rotate(0 202.80 516.30)" stroke="#4a2a6a" stroke-width="0.9" stroke-opacity="0.7"/>
<ellipse cx="213.20" cy="528.80" rx="7.20" ry="7.20" fill="#8c5eac" opacity="1.0" transform="rotate(0 213.20 528.80)" stroke="#4a2a6a" stroke-width="0.9" stroke-opacity="0.7"/>
<ellipse cx="227.80" cy="522.50" rx="7.20" ry="7.20" fill="#6e4494" opacity="1.0" transform="rotate(0 227.80 522.50)" stroke="#4a2a6a" stroke-width="0.9" stroke-opacity="0.7"/>
<ellipse cx="200.80" cy="582.80" rx="8.30" ry="8.30" fill="#8252a4" opacity="1.0" transform="rotate(0 200.80 582.80)" stroke="#4a2a6a" stroke-width="0.9" stroke-opacity="0.7"/>
<ellipse cx="205.00" cy="539.00" rx="7.50" ry="7.50" fill="#744a9c" opacity="1.0" transform="rotate(0 205.00 539.00)" stroke="#4a2a6a" stroke-width="0.9" stroke-opacity="0.7"/>
<ellipse cx="229.00" cy="535.00" rx="6.00" ry="6.00" fill="#7e4ea2" opacity="1.0" transform="rotate(0 229.00 535.00)" stroke="#4a2a6a" stroke-width="0.9" stroke-opacity="0.7"/>
<ellipse cx="170.00" cy="572.00" rx="6.00" ry="6.00" fill="#9470b4" opacity="1.0" transform="rotate(0 170.00 572.00)" stroke="#4a2a6a" stroke-width="0.9" stroke-opacity="0.7"/>
<ellipse cx="229.00" cy="583.00" rx="7.00" ry="7.00" fill="#8a68b0" opacity="1.0" transform="rotate(0 229.00 583.00)" stroke="#4a2a6a" stroke-width="0.9" stroke-opacity="0.7"/>
<ellipse cx="204.50" cy="550.50" rx="10.50" ry="4.80" fill="#2e1c5e" opacity="1.0" transform="rotate(-18 204.50 550.50)"/>
<path d="M213 548.5 Q222 552 232 558.5" stroke="#2e1c5e" stroke-width="2.6" fill="none"/>
</g>
<rect x="19.85" y="427.2" width="212.75" height="162.6" fill="none" stroke="#000" stroke-width="2.3"/>
<line x1="126.20" y1="426.00" x2="126.20" y2="590.00" stroke="#000" stroke-width="2.5" />
<line x1="19.00" y1="508.10" x2="233.00" y2="508.10" stroke="#000" stroke-width="2.6" />
<text x="72.50" y="420.41" font-size="9.8" fill="#000" text-anchor="middle" font-weight="bold" stroke="#000" stroke-width="0.3">NSG mice</text>
<text x="180.20" y="420.68" font-size="10" fill="#821232" text-anchor="middle" font-weight="bold" stroke="#821232" stroke-width="0.3">NSGS mice</text>
<text x="31.00" y="440.96" font-size="9.1" fill="#111" text-anchor="start" font-weight="bold" stroke="#111" stroke-width="0.2">500x</text>
<text x="137.00" y="497.06" font-size="9.1" fill="#111" text-anchor="start" font-weight="bold" stroke="#111" stroke-width="0.2">500x</text>
<text x="27.00" y="524.22" font-size="9" fill="#111" text-anchor="start" font-weight="bold" stroke="#111" stroke-width="0.2">1000x</text>
<text x="136.00" y="581.72" font-size="9" fill="#111" text-anchor="start" font-weight="bold" stroke="#111" stroke-width="0.2">1000x</text>
<path d="M54.4 530.0 L66.2 525.7 M64.0 528.5 L66.2 525.7 L62.7 525.0" stroke="#111" stroke-width="1.15" fill="none"/>
<path d="M47.6 547.3 L59.3 543.1 M57.0 545.9 L59.3 543.1 L55.8 542.4" stroke="#111" stroke-width="1.15" fill="none"/>
<path d="M64.5 582.2 L76.2 578.0 M73.9 580.8 L76.2 578.0 L72.7 577.3" stroke="#111" stroke-width="1.15" fill="none"/>
<path d="M92.5 556.8 L89.3 548.4 M92.2 550.6 L89.3 548.4 L88.6 551.9" stroke="#e02020" stroke-width="1.15" fill="none"/>
<path d="M32.8 583.3 L42.3 580.1 M40.0 582.9 L42.3 580.1 L38.8 579.3" stroke="#e02020" stroke-width="1.15" fill="none"/>
<path d="M138.8 527.2 L148.3 533.6 M144.7 533.4 L148.3 533.6 L146.8 530.3" stroke="#111" stroke-width="1.15" fill="none"/>
<path d="M147.8 571.8 L160.3 567.8 M158.0 570.5 L160.3 567.8 L156.8 566.9" stroke="#111" stroke-width="1.15" fill="none"/>
<path d="M174.7 514.5 L181.0 521.9 M177.6 520.8 L181.0 521.9 L180.4 518.3" stroke="#e02020" stroke-width="1.15" fill="none"/>
<path d="M192.7 562.0 L199.0 568.5 M195.5 567.6 L199.0 568.5 L198.2 565.0" stroke="#e02020" stroke-width="1.15" fill="none"/>
<rect x="294.7" y="418.7" width="153.7" height="123.6" fill="none" stroke="#000" stroke-width="1.1"/>
<line x1="292.00" y1="542.30" x2="294.70" y2="542.30" stroke="#000" stroke-width="0.9" />
<text x="290.00" y="545.02" font-size="7.6" fill="#1e1e1e" text-anchor="end">0</text>
<line x1="294.70" y1="542.30" x2="294.70" y2="545.00" stroke="#000" stroke-width="0.9" />
<text x="294.70" y="555.02" font-size="7.6" fill="#1e1e1e" text-anchor="middle">0</text>
<line x1="292.00" y1="517.58" x2="294.70" y2="517.58" stroke="#000" stroke-width="0.9" />
<text x="290.00" y="520.30" font-size="7.6" fill="#1e1e1e" text-anchor="end">20</text>
<line x1="325.44" y1="542.30" x2="325.44" y2="545.00" stroke="#000" stroke-width="0.9" />
<text x="325.44" y="555.02" font-size="7.6" fill="#1e1e1e" text-anchor="middle">20</text>
<line x1="292.00" y1="492.86" x2="294.70" y2="492.86" stroke="#000" stroke-width="0.9" />
<text x="290.00" y="495.58" font-size="7.6" fill="#1e1e1e" text-anchor="end">40</text>
<line x1="356.18" y1="542.30" x2="356.18" y2="545.00" stroke="#000" stroke-width="0.9" />
<text x="356.18" y="555.02" font-size="7.6" fill="#1e1e1e" text-anchor="middle">40</text>
<line x1="292.00" y1="468.14" x2="294.70" y2="468.14" stroke="#000" stroke-width="0.9" />
<text x="290.00" y="470.86" font-size="7.6" fill="#1e1e1e" text-anchor="end">60</text>
<line x1="386.92" y1="542.30" x2="386.92" y2="545.00" stroke="#000" stroke-width="0.9" />
<text x="386.92" y="555.02" font-size="7.6" fill="#1e1e1e" text-anchor="middle">60</text>
<line x1="292.00" y1="443.42" x2="294.70" y2="443.42" stroke="#000" stroke-width="0.9" />
<text x="290.00" y="446.14" font-size="7.6" fill="#1e1e1e" text-anchor="end">80</text>
<line x1="417.66" y1="542.30" x2="417.66" y2="545.00" stroke="#000" stroke-width="0.9" />
<text x="417.66" y="555.02" font-size="7.6" fill="#1e1e1e" text-anchor="middle">80</text>
<line x1="292.00" y1="418.70" x2="294.70" y2="418.70" stroke="#000" stroke-width="0.9" />
<text x="290.00" y="421.42" font-size="7.6" fill="#1e1e1e" text-anchor="end">100</text>
<line x1="448.40" y1="542.30" x2="448.40" y2="545.00" stroke="#000" stroke-width="0.9" />
<text x="448.40" y="555.02" font-size="7.6" fill="#1e1e1e" text-anchor="middle">100</text>
<text x="370.80" y="566.75" font-size="8.8" fill="#141414" text-anchor="middle" textLength="131" lengthAdjust="spacingAndGlyphs" stroke="#141414" stroke-width="0.15">VAF in patient cells before engraftment (%)</text>
<text transform="translate(267.60,484.30) rotate(-90)" x="0" y="3.15" font-size="8.8" fill="#141414" text-anchor="middle" textLength="117" lengthAdjust="spacingAndGlyphs" stroke="#141414" stroke-width="0.15">VAF in patient cells grown in mice (%)</text>
<circle cx="329.59" cy="423.64" r="1.6" fill="#1c2c4c"/>
<circle cx="329.59" cy="474.94" r="1.6" fill="#1c2c4c"/>
<circle cx="334.66" cy="483.71" r="1.6" fill="#1c2c4c"/>
<circle cx="346.96" cy="474.32" r="1.6" fill="#1c2c4c"/>
<circle cx="346.96" cy="481.74" r="1.6" fill="#1c2c4c"/>
<circle cx="346.96" cy="484.21" r="1.6" fill="#1c2c4c"/>
<circle cx="346.96" cy="491.62" r="1.6" fill="#1c2c4c"/>
<circle cx="346.96" cy="497.80" r="1.6" fill="#1c2c4c"/>
<circle cx="366.63" cy="471.85" r="1.6" fill="#1c2c4c"/>
<circle cx="366.63" cy="481.74" r="1.6" fill="#1c2c4c"/>
<circle cx="373.09" cy="466.90" r="1.6" fill="#1c2c4c"/>
<circle cx="372.16" cy="481.98" r="1.6" fill="#1c2c4c"/>
<circle cx="373.09" cy="486.68" r="1.6" fill="#1c2c4c"/>
<circle cx="373.09" cy="492.24" r="1.6" fill="#1c2c4c"/>
<circle cx="373.09" cy="499.04" r="1.6" fill="#1c2c4c"/>
<circle cx="389.99" cy="473.08" r="1.6" fill="#1c2c4c"/>
<circle cx="389.99" cy="485.44" r="1.6" fill="#1c2c4c"/>
<circle cx="389.99" cy="501.51" r="1.6" fill="#1c2c4c"/>
<circle cx="329.59" cy="508.93" r="1.6" fill="#1c2c4c"/>
<circle cx="336.20" cy="521.29" r="1.6" fill="#1c2c4c"/>
<circle cx="319.29" cy="529.94" r="1.6" fill="#1c2c4c"/>
<circle cx="316.22" cy="536.12" r="1.6" fill="#1c2c4c"/>
<circle cx="333.12" cy="537.36" r="1.6" fill="#1c2c4c"/>
<circle cx="331.59" cy="542.30" r="1.6" fill="#1c2c4c"/>
<circle cx="448.40" cy="419.94" r="1.6" fill="#1c2c4c"/>
<text x="7.70" y="15.84" font-size="11" fill="#000" text-anchor="start" font-weight="bold" stroke="#000" stroke-width="0.45">A</text>
<text x="7.70" y="250.94" font-size="11" fill="#000" text-anchor="start" font-weight="bold" stroke="#000" stroke-width="0.45">B</text>
<text x="8.00" y="407.64" font-size="11" fill="#000" text-anchor="start" font-weight="bold" stroke="#000" stroke-width="0.45">C</text>
<text x="249.60" y="407.64" font-size="11" fill="#000" text-anchor="start" font-weight="bold" stroke="#000" stroke-width="0.45">D</text>
<path d="M0.75 0 V599" stroke="#000" stroke-width="1.5"/><path d="M0 0.5 H520" stroke="#000" stroke-width="1"/>
<path d="M519 0 V599 M0 598 H520" stroke="#000" stroke-width="2"/>
</svg>
</body></html>
